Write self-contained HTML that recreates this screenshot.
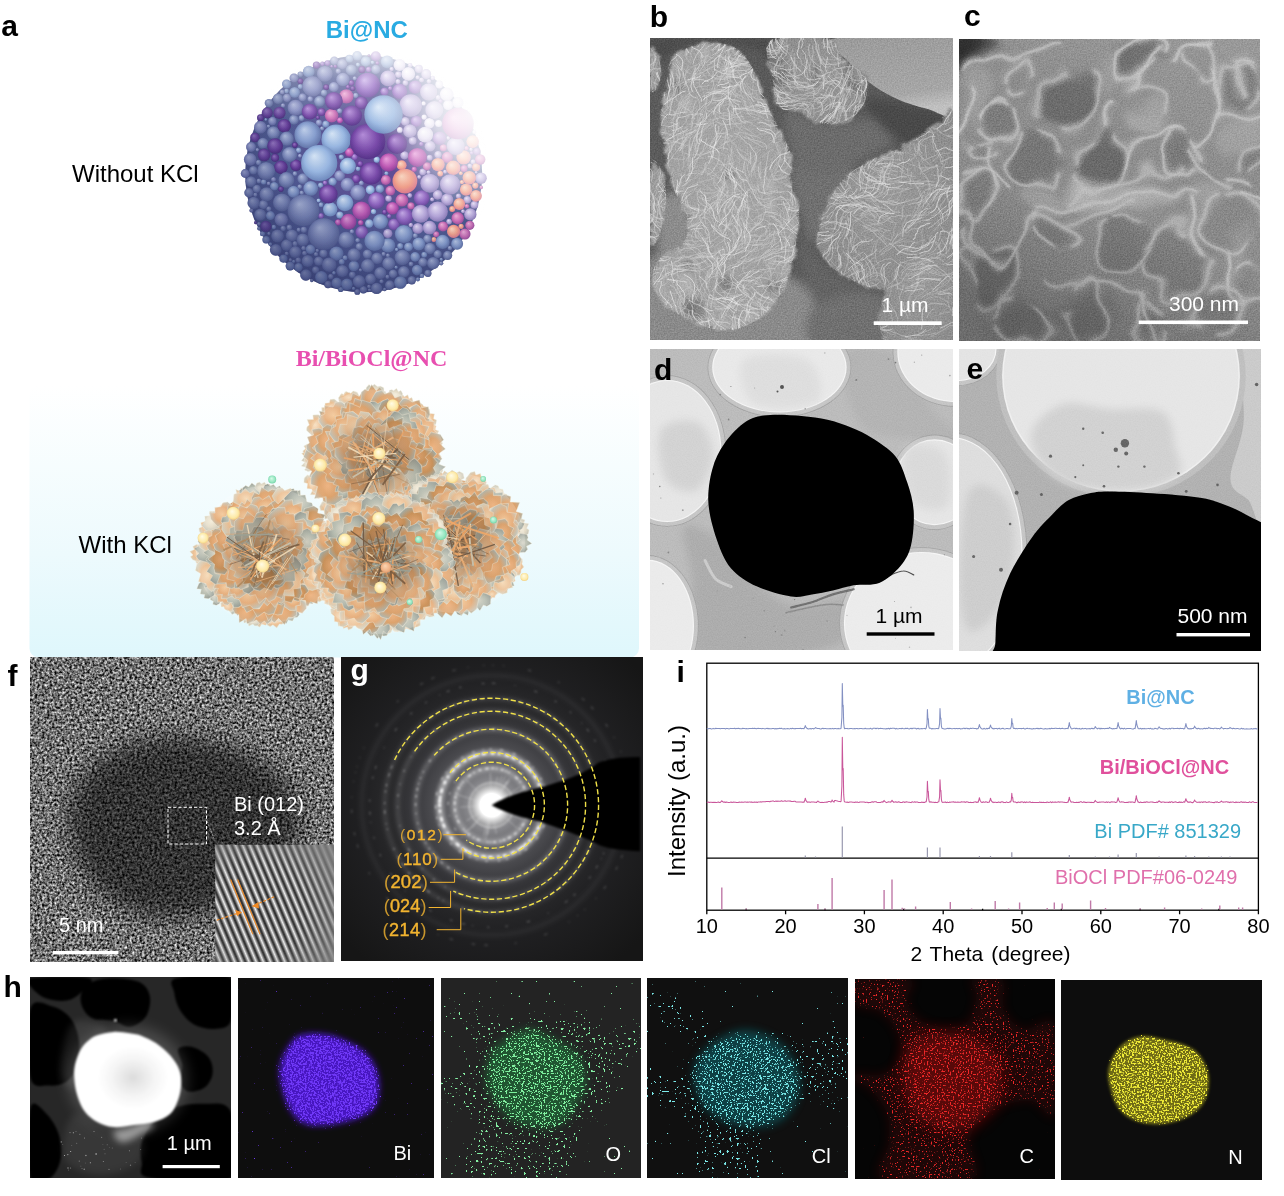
<!DOCTYPE html>
<html lang="en"><head><meta charset="utf-8"><title>Figure</title>
<style>
html,body{margin:0;padding:0;background:#fff;}
body{width:1284px;height:1196px;overflow:hidden;font-family:"Liberation Sans",Arial,sans-serif;}
svg{display:block;}
text{white-space:pre;}
</style></head><body>
<svg width="1284" height="1196" viewBox="0 0 1284 1196">
<rect width="1284" height="1196" fill="#fff"/>
<g id="panel_a">
<defs>
<radialGradient id="by" cx=".5" cy=".5" r=".55" fx=".4" fy=".35"><stop offset="0" stop-color="#fffbe6"/><stop offset=".7" stop-color="#fdeaa8"/><stop offset="1" stop-color="#f0cc7c"/></radialGradient>
<radialGradient id="bg" cx=".5" cy=".5" r=".55" fx=".4" fy=".35"><stop offset="0" stop-color="#d6fbe8"/><stop offset=".7" stop-color="#94e6c0"/><stop offset="1" stop-color="#6ccca0"/></radialGradient>
<radialGradient id="bo" cx=".5" cy=".5" r=".55" fx=".4" fy=".35"><stop offset="0" stop-color="#fbd6b4"/><stop offset=".7" stop-color="#eeb084"/><stop offset="1" stop-color="#d89060"/></radialGradient>
<radialGradient id="pg0" cx=".5" cy=".5" r=".6"><stop offset="0" stop-color="#eeb482"/><stop offset=".5" stop-color="#dca26c"/><stop offset=".86" stop-color="#b2b4a8"/><stop offset="1" stop-color="#f0e8d6"/></radialGradient>
<radialGradient id="pg1" cx=".5" cy=".5" r=".6"><stop offset="0" stop-color="#f4cca0"/><stop offset=".5" stop-color="#e6ae7c"/><stop offset=".86" stop-color="#c4c2b4"/><stop offset="1" stop-color="#f0e8d6"/></radialGradient>
<radialGradient id="pg2" cx=".5" cy=".5" r=".6"><stop offset="0" stop-color="#e0a470"/><stop offset=".5" stop-color="#c89058"/><stop offset=".86" stop-color="#a2a89e"/><stop offset="1" stop-color="#f0e8d6"/></radialGradient>
<radialGradient id="pg3" cx=".5" cy=".5" r=".6"><stop offset="0" stop-color="#d6d4c6"/><stop offset=".5" stop-color="#b4baae"/><stop offset=".86" stop-color="#989e96"/><stop offset="1" stop-color="#f0e8d6"/></radialGradient>
<radialGradient id="pg4" cx=".5" cy=".5" r=".6"><stop offset="0" stop-color="#f6dcba"/><stop offset=".5" stop-color="#ecc094"/><stop offset=".86" stop-color="#d4d0be"/><stop offset="1" stop-color="#f0e8d6"/></radialGradient>
<radialGradient id="pg5" cx=".5" cy=".5" r=".6"><stop offset="0" stop-color="#f4ecd8"/><stop offset=".5" stop-color="#e4dcc8"/><stop offset=".86" stop-color="#c8c6b8"/><stop offset="1" stop-color="#f0e8d6"/></radialGradient>
<radialGradient id="pshade" cx=".5" cy=".5" r=".5"><stop offset="0" stop-color="#4a3420" stop-opacity=".6"/><stop offset=".32" stop-color="#5a4028" stop-opacity=".38"/><stop offset=".6" stop-color="#6a4a30" stop-opacity=".08"/><stop offset=".85" stop-color="#fff" stop-opacity="0"/><stop offset="1" stop-color="#fff" stop-opacity=".18"/></radialGradient>
<filter id="fblur" x="-5%" y="-5%" width="110%" height="110%"><feGaussianBlur stdDeviation="0.45"/></filter>
<linearGradient id="abox" x1="0" y1="0" x2="0" y2="1"><stop offset="0" stop-color="#ffffff"/><stop offset=".3" stop-color="#f6fdfe"/><stop offset=".62" stop-color="#edfafd"/><stop offset=".88" stop-color="#e3f8fc"/><stop offset="1" stop-color="#dff7fc"/></linearGradient>
</defs>
<rect x="29.5" y="385" width="609.5" height="272.5" rx="9" fill="url(#abox)"/>
<g filter="url(#fblur)">
<circle cx="374.5" cy="459.5" r="63" fill="#d6a272"/>
<path d="M402.9 512L412.4 513.7L413 518.3L411 520.5L408.5 520.1L406.5 522.8L403.1 521.7L400.7 522.7L397.7 522.5L395.9 518.5Z" fill="url(#pg5)" stroke="#f2ead8" stroke-width=".5" stroke-opacity=".8"/>
<path d="M398.7 512L406.6 516.9L406.6 523L404.6 525L402.6 523.9L400.8 528.9L397.7 524.4L395.8 527.1L393 524L392 518.4Z" fill="url(#pg4)" stroke="#f2ead8" stroke-width=".5" stroke-opacity=".8"/>
<path d="M386.8 515.2L398.4 519.4L398.1 525.1L394.8 526.1L391.9 526.2L388.8 530.4L384.6 527L381.3 527.9L377.5 526.8L376.2 521.6Z" fill="url(#pg3)" stroke="#f2ead8" stroke-width=".5" stroke-opacity=".8"/>
<path d="M369.3 513L376.7 519.3L375.5 525.3L373.1 525.9L371 525.5L368.2 529.7L365.8 525L363.4 525.9L361 523.7L360.9 518Z" fill="url(#pg5)" stroke="#f2ead8" stroke-width=".5" stroke-opacity=".8"/>
<path d="M358 512L368.9 517.9L368 524.2L364.7 527L361.9 524.7L358.5 527.5L354.7 524.7L351.4 527.6L347.8 523.7L347.1 517.8Z" fill="url(#pg3)" stroke="#f2ead8" stroke-width=".5" stroke-opacity=".8"/>
<path d="M347.4 510L353.5 517.7L351 522.3L348.2 522.5L346.4 521.1L342.6 523.6L341.3 519.1L338.6 518.9L336.6 516.4L337.8 511.6Z" fill="url(#pg5)" stroke="#f2ead8" stroke-width=".5" stroke-opacity=".8"/>
<path d="M339.5 509.9L343.3 518.2L339.9 521.9L336.6 522.7L336.1 519.8L332.9 520.1L331.8 516.9L328.9 517L328.2 513.4L330.4 509.3Z" fill="url(#pg4)" stroke="#f2ead8" stroke-width=".5" stroke-opacity=".8"/>
<path d="M332.9 501.1L337.1 510.9L333.2 515.8L329.3 517L328.7 513.7L324.9 514.5L323.7 510.5L320.6 510.5L319.6 506.7L322.2 501.4Z" fill="url(#pg4)" stroke="#f2ead8" stroke-width=".5" stroke-opacity=".8"/>
<path d="M335.5 499.2L335.6 507.9L331.3 509.8L328.2 509.2L328.8 506.5L325.1 506.1L326.2 502.4L323.2 501.6L324.3 498L327.8 495.3Z" fill="url(#pg4)" stroke="#f2ead8" stroke-width=".5" stroke-opacity=".8"/>
<path d="M325.7 485.5L324.5 496L318.3 498.7L315.5 497.4L315.5 494.8L310.2 494.7L312.7 489.9L310.8 488L310.9 484.7L316 481.1Z" fill="url(#pg4)" stroke="#f2ead8" stroke-width=".5" stroke-opacity=".8"/>
<path d="M317.1 480.3L319.8 491.2L315.5 493.4L312.7 491.6L311.7 489.1L307 488.6L307.6 483.6L303.9 482.6L304.2 478L307.3 474.8Z" fill="url(#pg4)" stroke="#f2ead8" stroke-width=".5" stroke-opacity=".8"/>
<path d="M318 461.1L314.3 470.3L308 471.4L304.6 469.9L306.3 467.3L301.4 466.1L304.9 462.2L301.5 460.6L304.5 457.1L310.1 455Z" fill="url(#pg5)" stroke="#f2ead8" stroke-width=".5" stroke-opacity=".8"/>
<path d="M318.6 455.6L311.3 464.3L305.2 462.6L304.5 459.6L305.4 457.2L301.6 453.6L306.3 450.9L305.2 447.8L308.1 445L314.1 445.2Z" fill="url(#pg4)" stroke="#f2ead8" stroke-width=".5" stroke-opacity=".8"/>
<path d="M315.2 453L309.2 460L304.4 458.5L303.8 455.9L304.8 454L302.7 451.1L305.7 448.8L303.8 446.1L307.4 444.1L312.1 444.4Z" fill="url(#pg4)" stroke="#f2ead8" stroke-width=".5" stroke-opacity=".8"/>
<path d="M325.7 432.1L317 435.3L313.6 431.7L314.6 429.4L316.1 428L316.2 424.8L319.5 423.9L320.3 421.4L323.3 420.4L327.2 422.9Z" fill="url(#pg3)" stroke="#f2ead8" stroke-width=".5" stroke-opacity=".8"/>
<path d="M324.1 431.2L312 435.5L306.4 430.3L307 426.8L309.3 425.1L307.1 419.4L313.4 419.5L312.9 415.1L318.3 414.8L324.5 418.5Z" fill="url(#pg4)" stroke="#f2ead8" stroke-width=".5" stroke-opacity=".8"/>
<path d="M333.8 418.3L321.6 422.4L318.8 417.7L320.6 414.3L323.6 413L324.3 408.2L329.5 407.9L330.7 403.8L335.7 403.6L339.5 406.8Z" fill="url(#pg3)" stroke="#f2ead8" stroke-width=".5" stroke-opacity=".8"/>
<path d="M336.2 413.2L325.6 416.3L321.8 411.6L321.7 407.6L325.1 407.4L325 403.3L329.4 402.8L330.1 399.6L334.2 399.1L338.7 402.5Z" fill="url(#pg4)" stroke="#f2ead8" stroke-width=".5" stroke-opacity=".8"/>
<path d="M347.1 404.4L340.1 400.6L340 395.6L341.7 393.4L343.6 394.7L345.3 391.6L347.9 394.2L349.6 392.4L352.1 394.5L353.1 399Z" fill="url(#pg4)" stroke="#f2ead8" stroke-width=".5" stroke-opacity=".8"/>
<path d="M350.7 404.1L339.1 402.8L338.5 397.8L340.8 394.7L344 395.6L346.2 391.6L350.7 393.5L353.2 391L357.3 392.2L359.4 396.5Z" fill="url(#pg4)" stroke="#f2ead8" stroke-width=".5" stroke-opacity=".8"/>
<path d="M375 400.2L365.6 394.1L366.3 387.5L369 384.4L371.5 386.9L374.3 384.3L377.6 386.8L380.4 386.2L383.6 387.7L384.3 393.9Z" fill="url(#pg5)" stroke="#f2ead8" stroke-width=".5" stroke-opacity=".8"/>
<path d="M381.1 405.9L374.3 398L376.7 392.4L379.5 392L381.5 393.3L385 391.1L387 394.9L390 394L392 397.3L391 402.9Z" fill="url(#pg5)" stroke="#f2ead8" stroke-width=".5" stroke-opacity=".8"/>
<path d="M393.7 401.7L387.8 395.2L389.6 390.2L391.9 389.7L393.6 390.7L396.5 388.4L398.3 391.8L400.9 390.6L402.6 393.7L401.9 398.6Z" fill="url(#pg5)" stroke="#f2ead8" stroke-width=".5" stroke-opacity=".8"/>
<path d="M403 406.9L397.9 399.7L400.4 395.4L403 395.1L404.4 396.7L407.8 394.8L409 398.7L411.9 397.6L413.1 401.2L411.8 405.6Z" fill="url(#pg4)" stroke="#f2ead8" stroke-width=".5" stroke-opacity=".8"/>
<path d="M416.1 414.9L415.8 405.7L420.6 403.1L422.6 404.5L423.5 406.3L426.8 406.9L426.4 410.5L429.1 411.4L428.5 414.9L424.7 418.3Z" fill="url(#pg4)" stroke="#f2ead8" stroke-width=".5" stroke-opacity=".8"/>
<path d="M415.2 424.1L412.2 410.4L418.4 405.8L422.3 407L423.6 410.1L429.6 409.4L429 415.8L433.5 416.5L433.4 422.1L428.7 427.7Z" fill="url(#pg4)" stroke="#f2ead8" stroke-width=".5" stroke-opacity=".8"/>
<path d="M422.2 422.4L421.4 411.6L426.6 409.2L429.1 410.9L429.9 413.4L434.5 413.9L433.3 418.7L436.6 419.9L435.8 424.2L431.8 427.6Z" fill="url(#pg4)" stroke="#f2ead8" stroke-width=".5" stroke-opacity=".8"/>
<path d="M424 431.4L425.4 421.1L430.8 419.7L433.6 421.5L433.1 424.2L436.2 425.9L435.3 429.6L438.8 431.1L436.7 435.2L432.1 437.7Z" fill="url(#pg4)" stroke="#f2ead8" stroke-width=".5" stroke-opacity=".8"/>
<path d="M428.6 442.8L430.5 433.1L435.8 431.8L437.4 433.9L437.9 436L442 437.3L439.9 441.2L442.7 442.9L441 446.5L436.4 448.9Z" fill="url(#pg4)" stroke="#f2ead8" stroke-width=".5" stroke-opacity=".8"/>
<path d="M429.8 453.4L431.9 443.5L436.5 443.3L437.6 445.9L438 448.2L440.5 450.6L439.3 454.2L441.3 456.5L439.9 460L435.9 461.5Z" fill="url(#pg4)" stroke="#f2ead8" stroke-width=".5" stroke-opacity=".8"/>
<path d="M430 474.2L437.9 465.1L442.7 467.4L442.8 470.9L441.4 473.5L444 477.8L439.3 480.4L440.6 484.2L436.6 486.8L431.6 486.1Z" fill="url(#pg5)" stroke="#f2ead8" stroke-width=".5" stroke-opacity=".8"/>
<path d="M428.3 483.8L437.9 480.4L442.8 484.6L444.1 488.5L440.7 488.7L442.7 493.1L437.7 493.2L437 495.7L434 496.9L428.6 494Z" fill="url(#pg3)" stroke="#f2ead8" stroke-width=".5" stroke-opacity=".8"/>
<path d="M424.6 488.5L432 480.7L437.2 482.8L437.7 485.9L436.4 488.1L439 491.8L434.8 494.1L434.5 497L432.5 499.7L427.2 499Z" fill="url(#pg4)" stroke="#f2ead8" stroke-width=".5" stroke-opacity=".8"/>
<path d="M417 501.4L425.4 497.9L428.7 501.3L427.9 503.7L426.2 505.1L426.9 508.8L423 509.2L422.2 511.7L419.3 512.7L415.5 510.5Z" fill="url(#pg4)" stroke="#f2ead8" stroke-width=".5" stroke-opacity=".8"/>
<path d="M408.4 506.3L416.8 505.7L419.2 509.9L418.5 512.7L416.2 512.6L416.3 516.5L412.4 515.4L411.6 517.8L408.4 517.4L405.4 514.1Z" fill="url(#pg4)" stroke="#f2ead8" stroke-width=".5" stroke-opacity=".8"/>
<path d="M412.8 483.8L426.6 480.3L433 486.7L431.6 490L429.5 492.2L430.8 497.8L424.7 498L424.4 502.3L419 502.8L412 498.1Z" fill="url(#pg1)" stroke="#f2ead8" stroke-width=".5" stroke-opacity=".8"/>
<path d="M402.2 495.2L418.4 493.8L424.3 502.2L424.4 508.4L419.2 507.7L420 514.9L412.6 513.4L412.6 519.6L405.2 517.7L398.3 511.1Z" fill="url(#pg0)" stroke="#f2ead8" stroke-width=".5" stroke-opacity=".8"/>
<path d="M384.9 501.2L406.9 499.8L412.8 510.8L410.6 517.6L404.7 517.7L404.2 527.3L394.5 524.8L392.6 532.1L383.7 530.1L376 521.4Z" fill="url(#pg3)" stroke="#f2ead8" stroke-width=".5" stroke-opacity=".8"/>
<path d="M378.1 503.4L397.9 506.5L399.8 516.4L395.9 521.3L390.7 520.4L387.8 528.7L379.7 524.2L376 529.6L368.7 526.4L364.5 518Z" fill="url(#pg4)" stroke="#f2ead8" stroke-width=".5" stroke-opacity=".8"/>
<path d="M362.7 504.6L372.6 514.2L370.6 522.7L366.7 526.1L364.3 522.6L360.2 527.3L357.1 521.6L353.2 525.4L350.3 519.3L350.6 511.2Z" fill="url(#pg1)" stroke="#f2ead8" stroke-width=".5" stroke-opacity=".8"/>
<path d="M352.4 498.3L360.5 518.8L351.9 528.6L345 529L342.8 523.8L334.4 526L332.9 516.9L324.7 519.1L324.5 508.7L330.4 498Z" fill="url(#pg1)" stroke="#f2ead8" stroke-width=".5" stroke-opacity=".8"/>
<path d="M349.6 495.7L352.9 513.5L344.7 519.3L338.8 518.3L338.2 513.4L331.6 512.9L331.4 505.8L326.3 504.1L326 497.6L332.2 490.5Z" fill="url(#pg0)" stroke="#f2ead8" stroke-width=".5" stroke-opacity=".8"/>
<path d="M334.7 487.4L333.2 499.8L326.1 502.7L323 501L322.8 498L317.6 497.2L319.5 492.1L316.7 490.1L317.5 485.9L323.5 481.8Z" fill="url(#pg0)" stroke="#f2ead8" stroke-width=".5" stroke-opacity=".8"/>
<path d="M329.4 477.1L326.6 488.3L320.2 489.5L317.1 487.5L318 484.5L313.3 482.9L316 478.4L312 476.7L315 472.3L320.6 469.8Z" fill="url(#pg0)" stroke="#f2ead8" stroke-width=".5" stroke-opacity=".8"/>
<path d="M331.3 457.3L327.1 476.8L316 479.5L309.1 476.6L311.8 471L305.6 467.7L307.9 460.5L303.8 456.7L305.8 450L315.4 445.2Z" fill="url(#pg0)" stroke="#f2ead8" stroke-width=".5" stroke-opacity=".8"/>
<path d="M329.5 448.2L314.9 455.7L306.6 450L306.2 445.2L309.4 442.9L307.3 437L313.6 435L311.9 429.5L319 428.2L327.7 431.8Z" fill="url(#pg0)" stroke="#f2ead8" stroke-width=".5" stroke-opacity=".8"/>
<path d="M337.6 426.2L324.8 428.5L318.6 422.2L319.4 419L321.6 417.4L319.1 411.1L326 412.3L324.7 407.3L331.1 408.3L337.9 413.1Z" fill="url(#pg0)" stroke="#f2ead8" stroke-width=".5" stroke-opacity=".8"/>
<path d="M342.6 426.2L323.8 429.2L318.3 420.5L320.8 415.8L324.8 414L324.5 405.6L333.1 407.1L335.5 402.3L342 401.7L349 408.4Z" fill="url(#pg1)" stroke="#f2ead8" stroke-width=".5" stroke-opacity=".8"/>
<path d="M362.7 414.6L347 412.4L344.4 403.8L347.7 401.1L351.1 400L352.5 392.8L359.2 396.5L361.8 392.1L367.6 394.3L371.8 401.5Z" fill="url(#pg0)" stroke="#f2ead8" stroke-width=".5" stroke-opacity=".8"/>
<path d="M373.1 410.7L360.7 401.8L361.4 391.9L365 389.3L368.2 390.9L371.7 384.6L376.2 390.7L379.7 387.1L383.8 391.9L385 401.1Z" fill="url(#pg0)" stroke="#f2ead8" stroke-width=".5" stroke-opacity=".8"/>
<path d="M382.7 415.7L370.9 400.7L375.9 391.6L381.6 390.6L384.8 394.1L391.2 391.6L394.9 398L401.1 395.6L404 403.2L401.5 412.6Z" fill="url(#pg0)" stroke="#f2ead8" stroke-width=".5" stroke-opacity=".8"/>
<path d="M405.1 425.4L396.2 407.2L403.4 398L408.5 399.4L412.1 402L419.4 400L421.7 407.8L428.3 406.7L429.9 414.8L425.3 424.8Z" fill="url(#pg0)" stroke="#f2ead8" stroke-width=".5" stroke-opacity=".8"/>
<path d="M410.3 422.5L409.4 407.6L416.5 404.3L419.9 406.8L421 410.1L425.8 411.8L425.6 417.3L429.7 419.4L429.1 424.9L423.4 429.6Z" fill="url(#pg0)" stroke="#f2ead8" stroke-width=".5" stroke-opacity=".8"/>
<path d="M415.3 438.4L410.6 418.6L418.9 413.7L423.9 416.6L426 421L434.2 421.6L433.7 430.3L438 433.8L439.9 440.1L433.8 446.8Z" fill="url(#pg1)" stroke="#f2ead8" stroke-width=".5" stroke-opacity=".8"/>
<path d="M420.5 446.6L431.2 431.9L440.3 434.4L443.7 439.7L440 443.4L445.4 449L438.6 453.8L442.2 459.1L435.9 463.5L427.1 463.5Z" fill="url(#pg0)" stroke="#f2ead8" stroke-width=".5" stroke-opacity=".8"/>
<path d="M421 471.1L427.7 458.4L436.9 457.9L440.8 460.8L438.7 464.1L445.5 466.7L439.9 471.6L442.1 474.8L439.6 479L431.3 481.1Z" fill="url(#pg3)" stroke="#f2ead8" stroke-width=".5" stroke-opacity=".8"/>
<path d="M335.6 468.7L331.4 484.3L322.1 486.2L317 483.6L319 479.2L314.4 476.3L316.2 470.7L313.2 467.4L314.9 462.1L323 458.5Z" fill="url(#pg0)" stroke="#f2ead8" stroke-width=".5" stroke-opacity=".8"/>
<path d="M338.5 456.8L329.1 473.2L318.7 472.2L316.2 467.5L317.5 463.2L310.6 458.4L317.2 452.6L312.2 447.9L318.4 442.4L328.2 440.9Z" fill="url(#pg1)" stroke="#f2ead8" stroke-width=".5" stroke-opacity=".8"/>
<path d="M337.6 444.6L323.8 456L315.7 451.4L314.6 445.9L318.2 442.9L315.7 436.6L322.1 433.3L322.5 428.3L327.1 424.6L335.5 426.8Z" fill="url(#pg0)" stroke="#f2ead8" stroke-width=".5" stroke-opacity=".8"/>
<path d="M349.9 428.5L336.4 432.8L331.4 427L333.1 423.6L335.4 421.5L335.4 416.4L340.7 415.4L340.6 410.5L346.7 410.5L352.6 414.6Z" fill="url(#pg0)" stroke="#f2ead8" stroke-width=".5" stroke-opacity=".8"/>
<path d="M361.5 423.7L345.2 422.4L340.6 413L341.4 406.9L346.3 408.3L347.4 402.4L353.6 403.8L354.9 398.4L361.4 400.7L367.4 408.5Z" fill="url(#pg0)" stroke="#f2ead8" stroke-width=".5" stroke-opacity=".8"/>
<path d="M376.2 421L366.4 408.7L370.5 401.4L374.9 401.7L377.9 403.6L383.8 400.3L386.3 407L391.3 405.5L393.8 411.4L391.8 418.9Z" fill="url(#pg3)" stroke="#f2ead8" stroke-width=".5" stroke-opacity=".8"/>
<path d="M391.9 421.4L378.1 409.2L381.7 401.4L387.7 398.7L390.9 403.2L396.8 401.2L401.4 406.3L406.7 405.7L411 410.4L410 418.3Z" fill="url(#pg2)" stroke="#f2ead8" stroke-width=".5" stroke-opacity=".8"/>
<path d="M396.6 434.5L393.5 415.7L402.8 407.4L407.5 409L409.7 412.4L416.2 412.3L417 419.1L421.7 420.7L422.7 426.9L415.5 436.2Z" fill="url(#pg3)" stroke="#f2ead8" stroke-width=".5" stroke-opacity=".8"/>
<path d="M403.1 439.1L405.6 420.1L416 416.8L420.9 420L420.7 424.7L429.1 426.5L425.1 434.5L429.1 438.1L427.9 444.6L419.1 449.8Z" fill="url(#pg1)" stroke="#f2ead8" stroke-width=".5" stroke-opacity=".8"/>
<path d="M413.6 450.4L413.4 436.2L420.5 432.9L424.4 434.9L424.7 438.4L429.2 440.1L428.9 445.3L432.3 447.6L432 452.5L426.3 457.1Z" fill="url(#pg0)" stroke="#f2ead8" stroke-width=".5" stroke-opacity=".8"/>
<path d="M411.1 463.2L421.4 447.9L432.3 449.1L436.7 453.7L433.3 457.6L437.7 462.4L433.3 467.8L435.8 472.3L431.7 477.4L421.4 478.5Z" fill="url(#pg2)" stroke="#f2ead8" stroke-width=".5" stroke-opacity=".8"/>
<path d="M410.7 483.5L423 475.2L428.1 479.6L427.5 484L424.7 486.4L425.9 492L420.1 494L420 498.6L414.8 500.7L409 498.3Z" fill="url(#pg3)" stroke="#f2ead8" stroke-width=".5" stroke-opacity=".8"/>
<path d="M396 490.6L411 485.6L417.1 492.1L415.7 496.3L412.8 498.4L413.4 504.5L407 505.3L405.5 509.3L400.5 510.9L393.6 506.3Z" fill="url(#pg1)" stroke="#f2ead8" stroke-width=".5" stroke-opacity=".8"/>
<path d="M391.3 495.9L406 494.9L411.5 502.6L410.3 506.7L407.1 507.6L408.4 514.7L401.1 512.7L400.5 517.4L394.6 516.5L388.2 510.4Z" fill="url(#pg1)" stroke="#f2ead8" stroke-width=".5" stroke-opacity=".8"/>
<path d="M375.8 496.3L393.8 500.3L395.3 509.7L391.7 514.9L386.8 513L383.8 521L376.5 516.1L372.8 521L366.2 517.6L362.7 509.4Z" fill="url(#pg3)" stroke="#f2ead8" stroke-width=".5" stroke-opacity=".8"/>
<path d="M361.1 493.4L369.4 508.9L363.4 516.9L357.1 519L355.7 513.5L348.6 516.5L347.2 508.6L341 510.2L339.7 502.5L343.5 494Z" fill="url(#pg4)" stroke="#f2ead8" stroke-width=".5" stroke-opacity=".8"/>
<path d="M348.5 489.4L359.7 506.9L353.5 513.9L347.4 512.9L344.1 508.8L336.4 510L333.6 502.1L326.6 502.6L324.3 494.5L327.9 486.5Z" fill="url(#pg3)" stroke="#f2ead8" stroke-width=".5" stroke-opacity=".8"/>
<path d="M341.3 474.9L345 498L334.2 504.8L326.3 503.6L326.2 496.8L314.5 498.4L317.7 486.6L310.9 484.3L311 475.6L319.2 466.9Z" fill="url(#pg0)" stroke="#f2ead8" stroke-width=".5" stroke-opacity=".8"/>
<path d="M368.7 431.5L347.1 431.3L341.7 420L343 411.8L349.8 413.7L349.8 403L360 407.3L361.9 400.1L370.7 402.8L377.9 412Z" fill="url(#pg0)" stroke="#f2ead8" stroke-width=".5" stroke-opacity=".8"/>
<path d="M382.8 430.6L371 421L373 412.5L377 411.5L380.2 412.5L384.9 406.5L388.6 413.5L392.8 410.9L396.5 415.7L396.4 423.9Z" fill="url(#pg1)" stroke="#f2ead8" stroke-width=".5" stroke-opacity=".8"/>
<path d="M393 438.2L386.5 420.2L394.2 411.1L399 412.4L402 415.2L408.9 413.6L410.4 421L415.5 421.9L417.5 428L412.1 437.8Z" fill="url(#pg3)" stroke="#f2ead8" stroke-width=".5" stroke-opacity=".8"/>
<path d="M399.9 447.1L395.9 427.9L404.6 422L410.6 423.4L411.6 428.5L418.9 429L419 436.8L424.9 438.3L425 445.8L418.5 453.2Z" fill="url(#pg0)" stroke="#f2ead8" stroke-width=".5" stroke-opacity=".8"/>
<path d="M402.7 460.3L408.8 445.1L419.7 442.8L424.3 445.3L422.7 449.3L432 450.5L425.2 457.3L427.9 460.4L426 465.4L416.4 469.3Z" fill="url(#pg2)" stroke="#f2ead8" stroke-width=".5" stroke-opacity=".8"/>
<path d="M400.1 474.6L412.8 462.8L420.7 466.8L421 471.7L418.7 475.1L423.2 481.6L415.5 484.6L416.9 489.9L411.1 493.3L403 491.7Z" fill="url(#pg3)" stroke="#f2ead8" stroke-width=".5" stroke-opacity=".8"/>
<path d="M396.7 480.8L408.1 481.1L412.2 487.7L410.6 490L408.6 491.2L409.6 497.1L404 494.7L403.2 498.1L398.8 497.2L394 491.9Z" fill="url(#pg1)" stroke="#f2ead8" stroke-width=".5" stroke-opacity=".8"/>
<path d="M381.2 487.4L400.6 490L404 500.7L400.8 505.6L396 505.4L393 511.2L386.1 510L382.5 514L375.9 512.8L370.6 503.7Z" fill="url(#pg4)" stroke="#f2ead8" stroke-width=".5" stroke-opacity=".8"/>
<path d="M374.6 485.9L390.2 496.3L389.1 507.7L384.5 513.1L380.5 508.8L375.7 513.2L370.3 509L365.7 511.6L360.6 507.4L359.3 496.7Z" fill="url(#pg4)" stroke="#f2ead8" stroke-width=".5" stroke-opacity=".8"/>
<path d="M364.6 487.7L373.2 504.1L366.9 511L361.9 509.7L358.9 506.5L352.1 507.4L349.9 500.4L343.7 500.8L342.2 493.4L346.1 485.6Z" fill="url(#pg1)" stroke="#f2ead8" stroke-width=".5" stroke-opacity=".8"/>
<path d="M350 484.4L351.1 494.4L345.9 498.3L342.2 498.6L342.4 495.4L338.1 496.1L338.8 491.6L335.1 491.8L336 487.3L340 482.7Z" fill="url(#pg3)" stroke="#f2ead8" stroke-width=".5" stroke-opacity=".8"/>
<path d="M348.8 470.8L337.6 483.6L326.9 481.6L325.4 477.4L326.6 473.9L318.8 469L327.4 464.9L325.2 460.6L329.7 456.4L339.8 456.3Z" fill="url(#pg0)" stroke="#f2ead8" stroke-width=".5" stroke-opacity=".8"/>
<path d="M345.5 452.2L337.9 468L329.2 467.1L326.3 462.5L328.1 458.4L324.2 453.7L327.8 448.1L326.5 443.5L328.7 438.3L336.8 436.9Z" fill="url(#pg0)" stroke="#f2ead8" stroke-width=".5" stroke-opacity=".8"/>
<path d="M350.7 447.9L333.7 454.3L325.3 447.1L325.7 442L329.2 439.7L325.3 431.4L334.7 431.5L333 424.9L341.4 424.7L350.5 429.7Z" fill="url(#pg1)" stroke="#f2ead8" stroke-width=".5" stroke-opacity=".8"/>
<path d="M354.8 436.6L335.4 442.4L329.2 434.1L331.2 428.6L335.6 426.4L336.6 419.6L343.9 418.1L345.9 412.6L352.9 411.3L360.6 417.3Z" fill="url(#pg1)" stroke="#f2ead8" stroke-width=".5" stroke-opacity=".8"/>
<path d="M366.4 442.2L343.7 442.9L338.3 431.6L340.4 424.1L346.9 424.8L347.5 414.5L357.8 417.9L360.5 411.4L369.1 412.8L376.5 421.9Z" fill="url(#pg4)" stroke="#f2ead8" stroke-width=".5" stroke-opacity=".8"/>
<path d="M369.1 439L354.9 429.2L356.6 419.7L361.2 415.8L364.8 419.2L369.6 414.5L374.5 419.7L379 417.8L383.7 421.7L384.2 430.7Z" fill="url(#pg1)" stroke="#f2ead8" stroke-width=".5" stroke-opacity=".8"/>
<path d="M386.2 440.5L380.8 424.3L387.9 416.8L393.1 417L394.8 420.9L403.1 417.3L402.2 426.6L406.3 428.3L408.3 433.3L403.3 441.5Z" fill="url(#pg2)" stroke="#f2ead8" stroke-width=".5" stroke-opacity=".8"/>
<path d="M391.6 444.2L392.2 428L400.7 424.4L405 426.7L405.2 430.7L411.5 432L409.8 438.6L414.2 440.8L412.9 446.8L406 451.9Z" fill="url(#pg0)" stroke="#f2ead8" stroke-width=".5" stroke-opacity=".8"/>
<path d="M396.7 454.1L404.4 441.8L414.1 441.6L417.6 444.6L415.7 447.8L423.5 450.5L416.6 455.3L419.8 458.3L415.9 462.6L407 464.4Z" fill="url(#pg0)" stroke="#f2ead8" stroke-width=".5" stroke-opacity=".8"/>
<path d="M396.5 467.6L414.9 458.2L421.6 465.2L422 472.5L415.9 474L416.7 481.8L408.5 483.7L407.1 489.6L400.3 492.2L392.4 487.8Z" fill="url(#pg3)" stroke="#f2ead8" stroke-width=".5" stroke-opacity=".8"/>
<path d="M386.4 476.7L403.2 472.7L409.2 480.3L408.6 485.8L404.1 486.7L405.5 494.5L397.3 493.6L396.4 498.9L389.8 499.2L382.6 493.5Z" fill="url(#pg1)" stroke="#f2ead8" stroke-width=".5" stroke-opacity=".8"/>
<path d="M376.4 480.4L384.9 493.1L380.9 502.4L377.1 502.5L374.2 501.1L368.5 506.5L366.7 498.6L361.9 501.7L359.9 494.9L362.1 485.6Z" fill="url(#pg2)" stroke="#f2ead8" stroke-width=".5" stroke-opacity=".8"/>
<path d="M362.2 479.5L369.8 495.7L363.4 502.1L359 500.2L355.9 497.5L348 499.8L347.5 491.2L343.2 489L340.4 484.2L344.5 476.8Z" fill="url(#pg0)" stroke="#f2ead8" stroke-width=".5" stroke-opacity=".8"/>
<path d="M358 475L352.7 490.5L342.2 492.9L337.5 490.4L339 486.3L333 484.1L336.3 478.2L331.6 475.7L335.2 470L344.4 465.9Z" fill="url(#pg0)" stroke="#f2ead8" stroke-width=".5" stroke-opacity=".8"/>
<path d="M353.6 467.4L342.9 479.7L332.7 477.9L329.5 473.8L332.4 470.6L325.4 466L333 462L330.3 457.8L335.2 453.9L344.9 453.7Z" fill="url(#pg1)" stroke="#f2ead8" stroke-width=".5" stroke-opacity=".8"/>
<path d="M352 452.2L339 461.2L331.9 456.6L330.4 451.3L334.5 449.3L331.1 443L338.4 441.2L338.5 436.6L343.3 433.9L350.8 436.4Z" fill="url(#pg0)" stroke="#f2ead8" stroke-width=".5" stroke-opacity=".8"/>
<path d="M361.8 461.9L352.2 475.3L342.5 473.8L340.8 469.6L342 466.1L338.1 461.7L342.4 457L339.8 452.7L344.2 448.4L353.3 447.7Z" fill="url(#pg3)" stroke="#f2ead8" stroke-width=".5" stroke-opacity=".8"/>
<path d="M362.9 453.5L341.7 464L334.8 456.2L335 448L341.8 446.3L342.9 438.6L350.7 435.3L353.6 429.3L360.5 425.7L369 430.7Z" fill="url(#pg1)" stroke="#f2ead8" stroke-width=".5" stroke-opacity=".8"/>
<path d="M368 447.8L351.8 437.7L353.7 428.1L358.8 426.5L363.1 427.8L368.7 420.7L374.2 428.4L379.4 424.4L384.7 430.5L385.3 439.6Z" fill="url(#pg0)" stroke="#f2ead8" stroke-width=".5" stroke-opacity=".8"/>
<path d="M377.8 445.3L369.4 432.1L374 423.6L378.6 422.9L381 425.6L386.6 422.7L388.9 428.9L394.1 426.5L395.8 433.4L393.2 442Z" fill="url(#pg4)" stroke="#f2ead8" stroke-width=".5" stroke-opacity=".8"/>
<path d="M384.6 455.5L384.6 433L396.1 427.7L402.5 430.5L402.6 436.3L412.4 437.2L409.2 447L415.7 449.8L414 458.3L404.6 465.6Z" fill="url(#pg0)" stroke="#f2ead8" stroke-width=".5" stroke-opacity=".8"/>
<path d="M390.3 465.2L395.6 451.5L403.5 451.2L405.1 454.8L405.3 458.1L410.3 461.3L406.7 466.3L409.5 469.7L406.8 474.4L399.7 476.5Z" fill="url(#pg0)" stroke="#f2ead8" stroke-width=".5" stroke-opacity=".8"/>
<path d="M382 467.9L399.3 468.3L406.2 478.2L404.5 482.3L401.3 483.7L403.8 493.1L394.7 489.2L394 494.5L387.2 493.1L379.3 485Z" fill="url(#pg4)" stroke="#f2ead8" stroke-width=".5" stroke-opacity=".8"/>
<path d="M374.1 470.8L393.7 477L395.2 488.5L390.6 491.6L386 491.9L382.8 501.5L374.8 494.7L370.3 498.1L363.7 495.7L359.9 485.5Z" fill="url(#pg4)" stroke="#f2ead8" stroke-width=".5" stroke-opacity=".8"/>
<path d="M366.6 470.9L371.1 487L363.9 493.9L359.5 492.6L357.4 489.6L349.8 491.8L350.4 483.6L345.5 482.9L344.7 476.8L349.9 469.1Z" fill="url(#pg0)" stroke="#f2ead8" stroke-width=".5" stroke-opacity=".8"/>
<path d="M371.1 456L355.5 448.9L354.4 438L357.6 433.4L361.8 435.5L364.8 429.2L370.7 433.7L374.5 431.7L379.5 433.5L382.5 443.2Z" fill="url(#pg1)" stroke="#f2ead8" stroke-width=".5" stroke-opacity=".8"/>
<path d="M375.4 453.7L376.8 434.6L387.1 430.5L392 433.4L392.3 438.1L399.4 440L397.3 447.5L401.2 451L400.7 457.3L392.1 463.2Z" fill="url(#pg1)" stroke="#f2ead8" stroke-width=".5" stroke-opacity=".8"/>
<path d="M382.1 459.2L392.5 448.4L400.1 451.3L402.5 455.9L399.1 458.5L402.9 463.6L397.1 466.8L396.8 470.8L394 474.5L386.4 473.6Z" fill="url(#pg3)" stroke="#f2ead8" stroke-width=".5" stroke-opacity=".8"/>
<path d="M377.7 465.3L391.9 470.5L392.2 478.6L388.5 480.3L385.1 480.6L381.7 484.9L376.5 482.1L373.1 485.6L368.2 482.3L366 474.9Z" fill="url(#pg1)" stroke="#f2ead8" stroke-width=".5" stroke-opacity=".8"/>
<path d="M366.9 463.9L378.7 477L374.4 484.3L369.6 483.7L366 481.7L359.2 485.7L356.3 477.9L351.1 478.4L347.6 473.1L349.5 465.4Z" fill="url(#pg1)" stroke="#f2ead8" stroke-width=".5" stroke-opacity=".8"/>
<path d="M372 460.3L356.8 472.6L346.2 467.9L346.4 462.9L347.9 459L345.2 452.9L351.1 448.7L348.2 442.7L355.8 439.5L366.4 441.6Z" fill="url(#pg1)" stroke="#f2ead8" stroke-width=".5" stroke-opacity=".8"/>
<path d="M379.3 463.4L359.7 461.7L355.5 451.1L358.5 446.2L363.2 445.9L364.9 438.2L372.8 440.7L375.1 434.6L382.8 437.4L388.8 446.2Z" fill="url(#pg1)" stroke="#f2ead8" stroke-width=".5" stroke-opacity=".8"/>
<path d="M373.2 456.9L378.1 443.5L385.8 443.1L387.7 446.5L387.7 449.7L393.9 452.5L389.1 457.7L392.4 460.8L389.4 465.5L382.5 467.6Z" fill="url(#pg0)" stroke="#f2ead8" stroke-width=".5" stroke-opacity=".8"/>
<path d="M370.6 455.3L390.1 452L397 461.4L397.1 468.8L390.9 468.4L392 477.1L382.9 475.9L380 480L374.1 481.7L365.9 474.5Z" fill="url(#pg3)" stroke="#f2ead8" stroke-width=".5" stroke-opacity=".8"/>
<path d="M371.7 460.5L380.8 467.1L379.2 472.7L376.1 473.7L373.7 472.4L370 476.4L367.2 471.6L364.1 471.6L361.1 469.9L361.1 464.5Z" fill="url(#pg3)" stroke="#f2ead8" stroke-width=".5" stroke-opacity=".8"/>
<path d="M376.2 457L367.7 468.3L359.3 466.9L357.4 463.3L358.9 460.4L355.4 456.6L359.3 452.7L356.2 449.1L360.9 445.5L368.9 445Z" fill="url(#pg0)" stroke="#f2ead8" stroke-width=".5" stroke-opacity=".8"/>
<circle cx="374.5" cy="459.5" r="70" fill="url(#pshade)"/>
<path d="M338.7 438.6L373 453.4" stroke="#e8b27e" stroke-width="1" opacity=".9"/>
<path d="M378.7 443.5L387.9 497.9" stroke="#6e5844" stroke-width="0.6" opacity=".9"/>
<path d="M366.3 449.1L372.7 480.2" stroke="#e8b27e" stroke-width="0.8" opacity=".9"/>
<path d="M352.7 446.3L366.4 476.6" stroke="#b08a60" stroke-width="1" opacity=".9"/>
<path d="M343.8 457.9L391 467.3" stroke="#e9a366" stroke-width="1.8" opacity=".9"/>
<path d="M366.4 456L377.1 495.5" stroke="#c9c4b0" stroke-width="1.3" opacity=".9"/>
<path d="M376.1 424.2L357.5 472.5" stroke="#c9c4b0" stroke-width="0.6" opacity=".9"/>
<path d="M385.7 465.1L348.4 470.6" stroke="#f0a868" stroke-width="1.8" opacity=".9"/>
<path d="M350.7 446.6L393.5 463.4" stroke="#e8b27e" stroke-width="0.8" opacity=".9"/>
<path d="M349.5 480.7L373.3 481" stroke="#b08a60" stroke-width="0.6" opacity=".9"/>
<path d="M369.3 439.4L363 478.4" stroke="#e8b27e" stroke-width="0.8" opacity=".9"/>
<path d="M374.9 427.5L388.1 445.7" stroke="#b08a60" stroke-width="0.8" opacity=".9"/>
<path d="M392.8 428.4L400.6 467.4" stroke="#b08a60" stroke-width="0.8" opacity=".9"/>
<path d="M370.7 436.8L380.2 488.7" stroke="#c9c4b0" stroke-width="0.8" opacity=".9"/>
<path d="M364.1 445.9L389.6 458.8" stroke="#e9a366" stroke-width="1.8" opacity=".9"/>
<path d="M373 433.7L374.6 484.7" stroke="#e9a366" stroke-width="1.8" opacity=".9"/>
<path d="M382.1 459.3L352.7 477.2" stroke="#c9c4b0" stroke-width="1.8" opacity=".9"/>
<path d="M369.8 423.7L359.7 461.3" stroke="#e8b27e" stroke-width="1" opacity=".9"/>
<path d="M353.8 456.2L393.7 461.2" stroke="#7a5c40" stroke-width="0.6" opacity=".9"/>
<path d="M376 469.6L360.9 497.3" stroke="#6e5844" stroke-width="1.8" opacity=".9"/>
<path d="M391.7 463.8L387.7 494.2" stroke="#9aa094" stroke-width="1" opacity=".9"/>
<path d="M355.3 443.4L374.2 472.8" stroke="#e9a366" stroke-width="1.3" opacity=".9"/>
<path d="M359.4 448.6L381.1 499.4" stroke="#6e5844" stroke-width="0.6" opacity=".9"/>
<path d="M388.5 443.7L354 453.4" stroke="#e8b27e" stroke-width="0.6" opacity=".9"/>
<path d="M365.5 450.8L383.7 467.7" stroke="#b08a60" stroke-width="1.3" opacity=".9"/>
<path d="M403.5 431.7L386.7 463.3" stroke="#e9a366" stroke-width="1.3" opacity=".9"/>
<path d="M393.4 437.2L370 451.4" stroke="#e8b27e" stroke-width="1.8" opacity=".9"/>
<path d="M369.9 427.1L404.9 452.5" stroke="#b08a60" stroke-width="1" opacity=".9"/>
<path d="M383.2 454.6L401 471.8" stroke="#c9c4b0" stroke-width="1.3" opacity=".9"/>
<path d="M368.8 464.5L382 501.9" stroke="#e9a366" stroke-width="0.8" opacity=".9"/>
<path d="M348.3 447.2L397.5 473.2" stroke="#f3dcb8" stroke-width="1.8" opacity=".9"/>
<path d="M374.7 466L409.4 483.8" stroke="#b08a60" stroke-width="0.6" opacity=".9"/>
<path d="M375.8 453.8L397.5 459.4" stroke="#7a5c40" stroke-width="0.6" opacity=".9"/>
<path d="M372.8 434.5L408.6 465.1" stroke="#f0a868" stroke-width="1" opacity=".9"/>
<path d="M389 449.3L363.4 496.1" stroke="#f3dcb8" stroke-width="1.8" opacity=".9"/>
<path d="M397.6 442.8L362.8 467.7" stroke="#b08a60" stroke-width="1.8" opacity=".9"/>
<path d="M366.7 425.5L409.3 459.8" stroke="#6e5844" stroke-width="1" opacity=".9"/>
<path d="M352.7 435.2L380.2 466.2" stroke="#b08a60" stroke-width="0.6" opacity=".9"/>
<path d="M395.9 472.1L364.2 483.3" stroke="#e8b27e" stroke-width="1" opacity=".9"/>
<path d="M352.8 441.5L376 474.9" stroke="#e8b27e" stroke-width="1.8" opacity=".9"/>
<path d="M391.6 475L360.4 482.8" stroke="#b08a60" stroke-width="1" opacity=".9"/>
<path d="M402.3 450.7L393 474.2" stroke="#e9a366" stroke-width="0.6" opacity=".9"/>
<path d="M397.8 448.6L368.2 480.3" stroke="#6e5844" stroke-width="1.8" opacity=".9"/>
<path d="M380.6 434.6L387 462.3" stroke="#f3dcb8" stroke-width="0.6" opacity=".9"/>
<path d="M361.7 435.2L397.8 472.7" stroke="#c9c4b0" stroke-width="1" opacity=".9"/>
<path d="M399.8 474.3L351.2 483.9" stroke="#7a5c40" stroke-width="0.6" opacity=".9"/>
<path d="M373.7 458.2L398.4 460.1" stroke="#f0a868" stroke-width="1" opacity=".9"/>
<path d="M404.9 454L382.6 484.9" stroke="#7a5c40" stroke-width="1.8" opacity=".9"/>
<path d="M371.9 453L395.9 457.8" stroke="#7a5c40" stroke-width="1.3" opacity=".9"/>
<path d="M361.5 454.5L350.9 476" stroke="#9aa094" stroke-width="0.6" opacity=".9"/>
<path d="M346.4 448.1L365.1 471.5" stroke="#b08a60" stroke-width="0.8" opacity=".9"/>
<path d="M360.4 437.8L393.8 462.2" stroke="#c9c4b0" stroke-width="1" opacity=".9"/>
<path d="M388.1 409.5L381.8 463.9" stroke="#f3dcb8" stroke-width="0.6" opacity=".9"/>
<path d="M377.3 462.9L413.6 470.3" stroke="#b08a60" stroke-width="1.8" opacity=".9"/>
<path d="M396.4 453.3L353.5 457.2" stroke="#f3dcb8" stroke-width="1.3" opacity=".9"/>
<circle cx="392.7" cy="405.2" r="6" fill="url(#by)"/>
<circle cx="379.4" cy="453.6" r="6" fill="url(#by)"/>
<circle cx="320.3" cy="465.1" r="6.5" fill="url(#by)"/>
<circle cx="455" cy="543" r="63" fill="#d6a272"/>
<path d="M506.1 521.3L509.4 509.7L514.3 510L516.7 513.1L515.4 516.2L517.6 519.4L516.2 523.5L517.5 526.8L516.3 530.6L511.9 531.9Z" fill="url(#pg3)" stroke="#f2ead8" stroke-width=".5" stroke-opacity=".8"/>
<path d="M513.8 531.8L515 521.1L521 518.8L524.9 519.9L523.8 523L528.6 523.7L526.6 528.3L529 530.1L528.3 533.8L523.2 537.1Z" fill="url(#pg5)" stroke="#f2ead8" stroke-width=".5" stroke-opacity=".8"/>
<path d="M513.6 542.4L520.5 533.3L526.9 534.6L528.1 537.6L527.1 540L531.8 543.4L526.5 546.3L527.7 549.3L525.1 552.3L518.9 552.4Z" fill="url(#pg3)" stroke="#f2ead8" stroke-width=".5" stroke-opacity=".8"/>
<path d="M512.8 565.8L518.2 557.5L522.3 558.9L522.5 561.6L521.9 563.9L524 567L521.1 569.7L521 572.4L519.6 575.2L515.5 575.2Z" fill="url(#pg4)" stroke="#f2ead8" stroke-width=".5" stroke-opacity=".8"/>
<path d="M502.9 575.2L511.9 569.1L516.4 572.3L516.7 575.7L514.3 577.3L515.3 581.1L511.4 582.9L511.7 586.2L507.9 587.8L503 586Z" fill="url(#pg4)" stroke="#f2ead8" stroke-width=".5" stroke-opacity=".8"/>
<path d="M499.5 577.5L510.2 571.1L515.1 575L514.2 578.4L512.3 580.6L514.2 585.7L508.6 586.8L507.4 589.9L504.2 592.2L498.8 589.9Z" fill="url(#pg3)" stroke="#f2ead8" stroke-width=".5" stroke-opacity=".8"/>
<path d="M491.1 588.9L497.9 588.5L499.1 591.6L498.1 593.5L496.3 593.6L495.5 595.9L492.9 595.6L491.7 597.1L489.3 597.1L487.4 594.6Z" fill="url(#pg5)" stroke="#f2ead8" stroke-width=".5" stroke-opacity=".8"/>
<path d="M487.9 589.3L495.1 589L497.6 592.8L496.7 594.6L495.2 595.1L494.9 597.7L492.2 597.5L491.2 599.1L488.9 599.3L485.9 596.3Z" fill="url(#pg4)" stroke="#f2ead8" stroke-width=".5" stroke-opacity=".8"/>
<path d="M475.1 592.6L484.6 595.9L485.9 602.2L484.3 605.4L481.7 604.1L480.4 608.2L476.6 605.6L475 608.7L471.4 606.3L469.1 600.7Z" fill="url(#pg4)" stroke="#f2ead8" stroke-width=".5" stroke-opacity=".8"/>
<path d="M467.3 598.6L475.6 605.2L474.1 610.5L471.1 611.9L468.9 610.3L465.5 613.3L462.8 609.3L459.9 610.1L457.2 607.6L457.4 602.4Z" fill="url(#pg4)" stroke="#f2ead8" stroke-width=".5" stroke-opacity=".8"/>
<path d="M461.5 602.1L472 602.7L473.4 607.8L471.7 610.8L468.9 610.4L467.9 615.3L463.3 612.9L461.4 615.5L457.6 614.6L455 610.4Z" fill="url(#pg3)" stroke="#f2ead8" stroke-width=".5" stroke-opacity=".8"/>
<path d="M448.4 596.4L454.5 603.7L452.6 609.8L450.2 610.3L448.4 609.4L445.1 613.5L443.5 608.4L440.9 609.7L439.1 606.4L439.8 600.6Z" fill="url(#pg5)" stroke="#f2ead8" stroke-width=".5" stroke-opacity=".8"/>
<path d="M441.3 597L451.7 602.6L450.8 608.3L447.6 609.8L444.9 608.7L441.6 612.6L438 608.6L434.8 610.7L431.4 607.7L430.7 602.3Z" fill="url(#pg4)" stroke="#f2ead8" stroke-width=".5" stroke-opacity=".8"/>
<path d="M430.1 593.1L433.8 603L429.7 606.9L426.9 605.9L425.4 604L420.4 605.6L420.7 600.2L417.8 599.3L416.8 595.8L419.7 591.3Z" fill="url(#pg3)" stroke="#f2ead8" stroke-width=".5" stroke-opacity=".8"/>
<path d="M426.2 590.5L430.3 598.1L427.4 602.7L425 602.7L423.7 601.3L420 603.7L419.5 599.3L417 599.6L415.9 596.6L417.7 591.9Z" fill="url(#pg3)" stroke="#f2ead8" stroke-width=".5" stroke-opacity=".8"/>
<path d="M410.7 579.8L410 590.2L404.9 591.8L403.1 589.6L402.3 587.3L398.6 585.9L399.7 581.9L396.9 580.2L398 576.3L402.2 573.6Z" fill="url(#pg4)" stroke="#f2ead8" stroke-width=".5" stroke-opacity=".8"/>
<path d="M406.5 579.5L406.9 589.3L402.5 590.9L400.4 589L399.8 586.7L396.6 585.3L397 581.6L394.6 580L395 576.4L398.5 573.9Z" fill="url(#pg4)" stroke="#f2ead8" stroke-width=".5" stroke-opacity=".8"/>
<path d="M400.9 564.9L401 577.2L395 579.7L391.9 577.8L391.5 574.8L385.8 574.3L388 568.6L384.1 567.1L385.4 562.3L390.3 558.6Z" fill="url(#pg4)" stroke="#f2ead8" stroke-width=".5" stroke-opacity=".8"/>
<path d="M397 554.7L395 564.2L390 565.1L388.6 562.9L388.2 560.7L384.6 559.1L386.5 555.4L383.6 553.7L385.6 550.1L389.9 548.1Z" fill="url(#pg3)" stroke="#f2ead8" stroke-width=".5" stroke-opacity=".8"/>
<path d="M397.3 546.2L397.7 559.1L392.8 560L389.3 557.6L389.9 554L385.6 551.7L386.9 546.6L383.6 544.1L384.6 539.3L388.5 536.8Z" fill="url(#pg4)" stroke="#f2ead8" stroke-width=".5" stroke-opacity=".8"/>
<path d="M400.7 529.1L392.8 533L389.1 529.8L389.2 527.2L391 526.1L389.7 522.5L393.7 522L393.3 519L396.8 518.4L400.9 520.4Z" fill="url(#pg4)" stroke="#f2ead8" stroke-width=".5" stroke-opacity=".8"/>
<path d="M397.4 525.4L387.9 532.7L382.9 529.4L383 525.9L385 523.8L383.9 519.6L388 517.4L388.4 514.1L391.7 511.7L396.9 513.4Z" fill="url(#pg4)" stroke="#f2ead8" stroke-width=".5" stroke-opacity=".8"/>
<path d="M398.9 519.9L389.3 525.6L385.2 522L384.9 518.2L387.9 517L386.2 512.2L391.5 511.5L392.5 508.5L395.6 506.6L400.2 508.7Z" fill="url(#pg4)" stroke="#f2ead8" stroke-width=".5" stroke-opacity=".8"/>
<path d="M409.7 509.4L399.6 511.5L395.9 506.7L395.7 502.7L399 502.9L398.8 498.8L403.2 498.9L404.7 496.7L407.7 495.7L412.1 499.3Z" fill="url(#pg4)" stroke="#f2ead8" stroke-width=".5" stroke-opacity=".8"/>
<path d="M424.2 492.7L415.5 491.6L414.4 487.2L416 485.1L418.2 485.2L419.7 482.4L423 483.3L424.8 481.7L427.8 482.2L429.8 485.9Z" fill="url(#pg4)" stroke="#f2ead8" stroke-width=".5" stroke-opacity=".8"/>
<path d="M423.4 493.9L413.3 497.2L410.1 492.9L411 489.9L413.4 488.8L412.6 484L417.7 484.4L418.5 481.2L422.4 480.7L426.4 483.7Z" fill="url(#pg5)" stroke="#f2ead8" stroke-width=".5" stroke-opacity=".8"/>
<path d="M437.4 487.8L428.4 485.8L426.5 480.2L428.2 478.7L430 478L431.1 475L434.4 476L436 474.3L438.9 474.9L441.7 479.7Z" fill="url(#pg5)" stroke="#f2ead8" stroke-width=".5" stroke-opacity=".8"/>
<path d="M445.8 483.6L438.3 479.4L438.6 474.5L440.6 472L442.6 473.8L444.6 470.7L447.4 473.5L449.5 472.4L452 474L452.8 478.5Z" fill="url(#pg4)" stroke="#f2ead8" stroke-width=".5" stroke-opacity=".8"/>
<path d="M453.5 483.8L442.1 479.7L442.7 474.4L445.8 472L448.8 473.6L452 470L456.1 473.1L459.3 471.5L463.1 473.4L464.2 478.2Z" fill="url(#pg5)" stroke="#f2ead8" stroke-width=".5" stroke-opacity=".8"/>
<path d="M474.2 488.1L464.9 482.4L466.3 477.8L469.5 476.4L471.9 478.2L475.3 475.8L478.4 479L481.6 477.9L484.6 480.5L484.7 485Z" fill="url(#pg4)" stroke="#f2ead8" stroke-width=".5" stroke-opacity=".8"/>
<path d="M471.1 489.5L466 478.2L470.6 472.4L474.8 471.5L475.8 474.9L480.5 473.4L481.6 478.5L485.1 478.6L486.5 482.8L483.5 489Z" fill="url(#pg4)" stroke="#f2ead8" stroke-width=".5" stroke-opacity=".8"/>
<path d="M493.1 501.2L489.2 493.5L492.2 490.1L495.1 489.9L495.9 492.2L499 491.9L500.1 495L502.3 495.8L503.7 498.3L501.7 502Z" fill="url(#pg3)" stroke="#f2ead8" stroke-width=".5" stroke-opacity=".8"/>
<path d="M493.6 498.8L490.5 488L495 484.9L498.2 486L499.2 488.7L502.9 489.4L503.7 493.5L507 494.5L507.4 498.7L504.1 502.7Z" fill="url(#pg5)" stroke="#f2ead8" stroke-width=".5" stroke-opacity=".8"/>
<path d="M502.7 512.1L503.5 503L508.2 501.5L510.9 502.8L510.4 505.3L514 506.2L512.6 509.9L514.6 511.6L514.1 514.7L510.2 517.2Z" fill="url(#pg3)" stroke="#f2ead8" stroke-width=".5" stroke-opacity=".8"/>
<path d="M506.9 524.1L507.7 511.2L513.9 509.3L516.1 512.1L517.1 514.9L522 516.5L520.2 521.7L524.5 523.5L522.3 528.6L517.1 531.9Z" fill="url(#pg3)" stroke="#f2ead8" stroke-width=".5" stroke-opacity=".8"/>
<path d="M407.6 563.9L407 580L399.9 581.7L395.8 578.7L396.1 574.5L391.2 571.6L392.4 565.6L388.1 562.7L389.8 556.7L395.6 553.1Z" fill="url(#pg4)" stroke="#f2ead8" stroke-width=".5" stroke-opacity=".8"/>
<path d="M409.3 555.1L408.4 570.2L400.5 573.3L395 571.9L396.4 567.3L388.9 566.8L392.4 559.8L388.6 557.4L389.7 552L396.2 547.5Z" fill="url(#pg3)" stroke="#f2ead8" stroke-width=".5" stroke-opacity=".8"/>
<path d="M412.7 538.7L406.5 556.2L395.5 557.7L390.7 554.2L392.4 549.7L383.3 547.2L389.9 539.9L383.7 536.7L389 530.1L398.8 526.5Z" fill="url(#pg4)" stroke="#f2ead8" stroke-width=".5" stroke-opacity=".8"/>
<path d="M413.7 521L401.5 528L395.7 523.4L396.5 519.5L398.8 517.1L398.5 512.5L402.9 510.2L404.1 506.6L407.9 504.1L414.2 506.9Z" fill="url(#pg4)" stroke="#f2ead8" stroke-width=".5" stroke-opacity=".8"/>
<path d="M414.9 516.2L400 524.8L392.6 519.2L393.1 514.3L396.1 511.6L394.5 505.3L401 503.1L400.7 497.8L406.8 495.6L414.8 499Z" fill="url(#pg2)" stroke="#f2ead8" stroke-width=".5" stroke-opacity=".8"/>
<path d="M432.1 501.9L418.2 499.6L416.6 492.4L418.9 487.8L422.9 489.5L424.8 483.3L430.6 486.7L432.9 482.3L438.3 485.1L441.4 491.3Z" fill="url(#pg2)" stroke="#f2ead8" stroke-width=".5" stroke-opacity=".8"/>
<path d="M441.3 496.7L424.1 497.7L420.6 489.6L422.3 483.8L427.4 484.5L428.1 476.8L435.8 479.3L439.1 476L444.6 475.4L449.8 481.8Z" fill="url(#pg1)" stroke="#f2ead8" stroke-width=".5" stroke-opacity=".8"/>
<path d="M454.4 498.1L439.6 493.7L437.9 484.7L440.3 479.4L444.6 481.8L446.5 474.6L452.7 479.3L455.5 475.3L460.8 478.3L464.2 486.2Z" fill="url(#pg4)" stroke="#f2ead8" stroke-width=".5" stroke-opacity=".8"/>
<path d="M472.4 500.1L456.6 491.5L458.4 483.6L463.4 482.2L467.6 483.5L473.1 478.4L478.4 484.2L483.5 482.7L488.7 486.1L489.3 493.6Z" fill="url(#pg1)" stroke="#f2ead8" stroke-width=".5" stroke-opacity=".8"/>
<path d="M481.9 507.1L476.5 492.4L482.8 485.1L488 484.3L489.2 488.4L494.7 487.4L496.1 493.2L500.5 493.7L502 499L497.6 506.9Z" fill="url(#pg4)" stroke="#f2ead8" stroke-width=".5" stroke-opacity=".8"/>
<path d="M483.9 512.2L480.5 494.5L489 487.8L493.3 489.8L495.5 493L502.8 492.3L502.5 500L508.7 500.1L508 507.8L501.6 515.6Z" fill="url(#pg3)" stroke="#f2ead8" stroke-width=".5" stroke-opacity=".8"/>
<path d="M493.4 519.5L493.8 499.4L504.4 494.5L510.8 496.5L510.2 502L519.7 502.4L516.1 511.6L522.7 513.5L520.2 521.6L511.6 528.3Z" fill="url(#pg0)" stroke="#f2ead8" stroke-width=".5" stroke-opacity=".8"/>
<path d="M501.1 531.7L508.5 519L516.2 520.1L518.6 524L516.8 527.3L520.6 531.3L516.6 535.8L520.4 539.7L515.4 543.8L508.1 544.6Z" fill="url(#pg1)" stroke="#f2ead8" stroke-width=".5" stroke-opacity=".8"/>
<path d="M502.1 552.4L505.8 533.9L513.7 533.7L516.6 538.5L516.4 543.1L522.8 547.3L518.6 554.4L521.5 559.1L519.7 565.3L512.8 568Z" fill="url(#pg0)" stroke="#f2ead8" stroke-width=".5" stroke-opacity=".8"/>
<path d="M501 560L514 550.6L519.5 555.1L518.9 559.8L516 562.5L516.5 568L511.2 570.9L511.1 575.9L505.8 578.3L499.5 575.9Z" fill="url(#pg0)" stroke="#f2ead8" stroke-width=".5" stroke-opacity=".8"/>
<path d="M491.2 575.3L505.2 570.5L513.5 576.4L514 580.7L511 582.4L512.8 587.5L507.2 588.8L507.2 592.7L502.3 594.2L493.6 590Z" fill="url(#pg4)" stroke="#f2ead8" stroke-width=".5" stroke-opacity=".8"/>
<path d="M477.8 589.7L491 596L490.5 603.9L486.8 606.3L483.4 605L479.9 610.5L475.1 605.6L471.5 609L467 605L465.6 597.8Z" fill="url(#pg3)" stroke="#f2ead8" stroke-width=".5" stroke-opacity=".8"/>
<path d="M461.5 587.6L478.6 598.3L476.7 608.9L471.2 613.3L466.9 609.4L461.2 615L455.3 608.8L449.9 612.3L444.4 606.8L443.6 596.8Z" fill="url(#pg1)" stroke="#f2ead8" stroke-width=".5" stroke-opacity=".8"/>
<path d="M446.3 590.3L462 598L462.6 608.9L458.7 611.9L454.8 611.1L451.2 616.2L445.6 612.6L442.1 618.1L436.5 612.4L433.9 602.6Z" fill="url(#pg0)" stroke="#f2ead8" stroke-width=".5" stroke-opacity=".8"/>
<path d="M437.7 584.2L443.7 601.5L436.2 609.3L431.2 608.4L428.8 604.9L421.4 606.9L420.8 598.9L415.3 598.6L414.2 591.8L419.4 583.1Z" fill="url(#pg3)" stroke="#f2ead8" stroke-width=".5" stroke-opacity=".8"/>
<path d="M428.5 577.4L436.1 593.8L429.6 603.9L423.8 605.9L422.1 601.2L414.5 606.3L413.7 596.9L407.9 599L406.6 591.2L410.8 580.9Z" fill="url(#pg0)" stroke="#f2ead8" stroke-width=".5" stroke-opacity=".8"/>
<path d="M452.4 503.5L438.2 497L437.9 487.8L441.6 486L445 485.9L448.4 481.4L453.5 484.6L457.2 482.6L461.8 484.8L464 493.1Z" fill="url(#pg1)" stroke="#f2ead8" stroke-width=".5" stroke-opacity=".8"/>
<path d="M466 505L458.4 492.3L463.1 485L467.8 484L469.6 487.4L475.7 484L477 491.1L481.7 489.9L483.4 495.7L480.6 503.3Z" fill="url(#pg0)" stroke="#f2ead8" stroke-width=".5" stroke-opacity=".8"/>
<path d="M480.5 516L476.9 496.2L486.2 489.3L493.5 489.4L493.4 495.6L501.2 495.5L501 503.7L508.6 503.6L507.1 512.7L500 520.9Z" fill="url(#pg0)" stroke="#f2ead8" stroke-width=".5" stroke-opacity=".8"/>
<path d="M490.3 530.8L489.5 508.7L500.3 503.7L506.5 506.6L506.9 512.2L516.6 513.2L513.6 522.9L517.9 527.1L518.6 534.1L509.9 541.1Z" fill="url(#pg1)" stroke="#f2ead8" stroke-width=".5" stroke-opacity=".8"/>
<path d="M491.8 535.8L495.9 520.5L505 518.7L508 521.9L508.1 525.5L513.8 528.1L510.8 533.9L514.1 537L512 542.3L504.1 545.9Z" fill="url(#pg0)" stroke="#f2ead8" stroke-width=".5" stroke-opacity=".8"/>
<path d="M492.9 548.2L503.9 537.9L512.1 541.1L515.3 545.8L511.1 548.1L515.6 553.3L509.1 556.2L509.2 560.2L505.8 563.6L497.7 562.4Z" fill="url(#pg0)" stroke="#f2ead8" stroke-width=".5" stroke-opacity=".8"/>
<path d="M488 565.8L499.8 555.4L507.3 559.2L509.9 564.4L505.5 566.6L508.7 572.3L502.5 575.2L504.8 580.4L498.5 583L490.8 581.3Z" fill="url(#pg0)" stroke="#f2ead8" stroke-width=".5" stroke-opacity=".8"/>
<path d="M480.2 572.1L498.2 567.2L502 574.2L499.7 579.5L494.9 580.7L493 586.8L486.1 587.7L482.6 591.6L476.9 593.5L471.4 588.5Z" fill="url(#pg3)" stroke="#f2ead8" stroke-width=".5" stroke-opacity=".8"/>
<path d="M473.4 576.7L490.8 581.2L491.5 590.1L487.4 593.6L482.9 592.8L479.2 599L472.6 595.1L468.7 599.9L462.4 596.1L459.5 588.3Z" fill="url(#pg1)" stroke="#f2ead8" stroke-width=".5" stroke-opacity=".8"/>
<path d="M453.1 579.4L470.4 586.1L470.4 595.8L466.2 600.9L461.6 597.9L457.4 604.1L451 599.4L446.8 604.3L440.7 599.4L438.3 590.6Z" fill="url(#pg4)" stroke="#f2ead8" stroke-width=".5" stroke-opacity=".8"/>
<path d="M440.8 573L450.8 592L443.4 601.4L436.3 602.4L434 597L425.2 600.5L423.6 590.7L416.4 592L414.6 583.2L419.3 573Z" fill="url(#pg2)" stroke="#f2ead8" stroke-width=".5" stroke-opacity=".8"/>
<path d="M426.5 571.5L431.5 592.4L423.1 597L417.4 594L415.7 588.9L407.4 587.7L407.7 578.7L400.8 576.6L401.3 568.1L407.4 561.6Z" fill="url(#pg0)" stroke="#f2ead8" stroke-width=".5" stroke-opacity=".8"/>
<path d="M417.3 559.1L415.8 575.7L407.3 578.3L402.9 575.6L403.2 571.3L397.6 568.9L399.2 562.6L395.7 559.5L396.6 553.8L403.7 549.4Z" fill="url(#pg0)" stroke="#f2ead8" stroke-width=".5" stroke-opacity=".8"/>
<path d="M415.6 548.9L406.7 561.3L397.6 560.1L395 556.2L396.9 553L392.9 549L397.1 544.7L394.6 540.8L398.7 536.8L407.3 536.1Z" fill="url(#pg0)" stroke="#f2ead8" stroke-width=".5" stroke-opacity=".8"/>
<path d="M416.1 527.6L408.6 541.9L401.3 540.4L400.4 536L401 532.2L396.5 527.5L401.5 522.6L400.1 518.2L403 513.5L409.9 512.8Z" fill="url(#pg3)" stroke="#f2ead8" stroke-width=".5" stroke-opacity=".8"/>
<path d="M421.7 525.8L402.6 531.2L396.6 523L398.3 517.2L403 515.5L403.6 508.3L411.4 507.5L413.1 501.7L420.3 500.9L427.8 506.8Z" fill="url(#pg1)" stroke="#f2ead8" stroke-width=".5" stroke-opacity=".8"/>
<path d="M439.3 510.6L418.6 511.8L411.4 500.9L411.7 493.4L417.9 494.1L418.8 487.1L426.4 487L428.3 481.5L435.8 481.8L444.5 490.5Z" fill="url(#pg3)" stroke="#f2ead8" stroke-width=".5" stroke-opacity=".8"/>
<path d="M448.1 504L430.1 504.9L426.8 496.7L429.1 491.1L434.2 491.5L436.2 485.1L443.3 486.2L446.4 481.9L452.8 482.2L457.9 488.8Z" fill="url(#pg2)" stroke="#f2ead8" stroke-width=".5" stroke-opacity=".8"/>
<path d="M482.4 552.1L498.2 545.2L507.5 551.6L508.7 556.9L504.7 558.7L507.5 565.1L500.4 566.6L500.7 571.4L494.8 573.3L485.1 569.1Z" fill="url(#pg1)" stroke="#f2ead8" stroke-width=".5" stroke-opacity=".8"/>
<path d="M477 556.7L496.5 550.6L506.6 559.2L506.7 565.3L502.3 567.4L504.6 575.1L496.2 576.1L494.6 581L488.6 583.4L477.8 577.2Z" fill="url(#pg0)" stroke="#f2ead8" stroke-width=".5" stroke-opacity=".8"/>
<path d="M462.2 572.2L482.2 572.2L486.8 582.4L483.4 586.6L479.2 588.2L478.2 596.6L469.6 594.1L466.1 598.1L459.6 598.2L453.2 589.9Z" fill="url(#pg1)" stroke="#f2ead8" stroke-width=".5" stroke-opacity=".8"/>
<path d="M462.8 577.5L473 583.4L472.5 590.1L469.7 593L467 591L464.2 595.9L460.5 591.3L457.5 592.5L454.2 590.6L453.2 584.2Z" fill="url(#pg0)" stroke="#f2ead8" stroke-width=".5" stroke-opacity=".8"/>
<path d="M446.3 568.1L451.8 584.4L444.9 594.2L440.9 593.5L438.1 591.5L432.3 593.6L430.7 587.2L424.9 589.5L424.5 581.6L429.4 571.4Z" fill="url(#pg2)" stroke="#f2ead8" stroke-width=".5" stroke-opacity=".8"/>
<path d="M432.7 561L431.7 576.4L423.3 580.1L417.5 579L419 574.3L410.8 574.5L414.7 567.1L410.1 565.3L411.9 559.4L418.9 554.3Z" fill="url(#pg0)" stroke="#f2ead8" stroke-width=".5" stroke-opacity=".8"/>
<path d="M424 552.2L416.5 568.5L407.6 567.7L403.5 563.1L406.4 558.8L401 554.1L405.8 548.3L404.9 543.6L406.7 538.2L414.9 536.7Z" fill="url(#pg0)" stroke="#f2ead8" stroke-width=".5" stroke-opacity=".8"/>
<path d="M423.6 540.2L413.5 550.9L405.6 548.3L404.6 544.3L406.3 541.3L402.5 536.7L407.8 533.3L405.8 529.1L410.6 525.9L418.4 526.6Z" fill="url(#pg0)" stroke="#f2ead8" stroke-width=".5" stroke-opacity=".8"/>
<path d="M428.9 523.9L412.8 534.3L407.1 528.7L408.5 523.2L412.2 520.1L412.3 513.5L418.8 510.4L420.1 504.8L426.2 501.9L433 505Z" fill="url(#pg0)" stroke="#f2ead8" stroke-width=".5" stroke-opacity=".8"/>
<path d="M438 526.4L418.8 528.7L409.9 518.7L410.4 513.2L414.7 511.9L410.3 501.6L421.3 504.8L420 497.5L429.1 499.3L438.9 507.1Z" fill="url(#pg2)" stroke="#f2ead8" stroke-width=".5" stroke-opacity=".8"/>
<path d="M453.5 511.8L435.8 506.9L434.4 497L438.4 493.8L442.7 493.8L446 487.6L452.7 491.1L457 489L462.7 489.9L466.2 498.6Z" fill="url(#pg1)" stroke="#f2ead8" stroke-width=".5" stroke-opacity=".8"/>
<path d="M458.6 510.4L447.7 501.2L449.6 493.2L453.6 489.9L456.4 493.3L460.6 489.1L464.2 494.2L468 492.7L471.5 496.3L471.4 504.1Z" fill="url(#pg4)" stroke="#f2ead8" stroke-width=".5" stroke-opacity=".8"/>
<path d="M471.6 520L458.2 508.3L460.8 498L465.5 495.9L469.1 498.2L474.6 491.8L478.8 499.5L483.5 498.4L487.9 502.3L487.6 512.2Z" fill="url(#pg2)" stroke="#f2ead8" stroke-width=".5" stroke-opacity=".8"/>
<path d="M477.6 522.2L476.5 505.9L483.6 503.3L489 505.4L488.2 510.2L493.4 512.6L492.9 518.7L497.6 521.2L496.5 527.4L490.9 531.7Z" fill="url(#pg4)" stroke="#f2ead8" stroke-width=".5" stroke-opacity=".8"/>
<path d="M483.4 539.1L492.9 527.9L502.3 529.3L504.3 532.9L502.8 535.8L508.9 539.7L502.5 543.5L505.1 547.1L500.7 550.8L491.8 551.2Z" fill="url(#pg3)" stroke="#f2ead8" stroke-width=".5" stroke-opacity=".8"/>
<path d="M456.4 517.6L445.7 509.6L447.2 502.1L450.8 499.3L453.6 501.9L457.3 499.5L461 502.5L464.5 500.5L468 504.2L468.2 511.4Z" fill="url(#pg3)" stroke="#f2ead8" stroke-width=".5" stroke-opacity=".8"/>
<path d="M466.6 523.7L456.8 511L461 502.9L465.5 502.6L468.4 504.8L473.8 502.6L476.9 508L481.8 506.5L484.5 512.3L482.4 520.5Z" fill="url(#pg1)" stroke="#f2ead8" stroke-width=".5" stroke-opacity=".8"/>
<path d="M478 530.8L473.8 517.5L479.4 512.9L484 513.5L484.8 517.1L489.4 517.9L490.7 522.7L495.2 523.2L495.6 528.7L491.5 534.3Z" fill="url(#pg1)" stroke="#f2ead8" stroke-width=".5" stroke-opacity=".8"/>
<path d="M476.8 548.6L483.9 533.2L494.9 531.9L498.5 535.2L497.5 539L506 541.4L499.4 547.7L501.1 551.5L499.6 556.3L489.8 559.5Z" fill="url(#pg1)" stroke="#f2ead8" stroke-width=".5" stroke-opacity=".8"/>
<path d="M473.7 553.3L493.3 547.8L499.3 556.2L497.4 562L492.7 563.8L491.5 570.7L484.1 572L483.6 579.4L474.8 578.8L467.3 572.7Z" fill="url(#pg0)" stroke="#f2ead8" stroke-width=".5" stroke-opacity=".8"/>
<path d="M460.2 559.6L477.2 562L482.9 572.7L482.5 579.1L477.4 577.5L476.5 583.3L470.3 582.2L469.8 588.4L462.5 585.1L455.6 576.1Z" fill="url(#pg4)" stroke="#f2ead8" stroke-width=".5" stroke-opacity=".8"/>
<path d="M450.3 562.8L464.5 573.8L462.6 584.4L457.9 586.6L454.1 584.7L449 592L444.3 584L439.6 586.4L435 581.7L434.7 571.7Z" fill="url(#pg1)" stroke="#f2ead8" stroke-width=".5" stroke-opacity=".8"/>
<path d="M445.5 559.6L454.5 573.4L449.9 583L444.9 585.4L442.7 581.4L437.4 584.1L434.6 578.5L429.7 580.4L427.4 574.2L429.8 564.5Z" fill="url(#pg1)" stroke="#f2ead8" stroke-width=".5" stroke-opacity=".8"/>
<path d="M438.3 551.9L433 571.2L422 572.9L419 568.5L418.4 564L411.7 560.4L415.3 553.2L409.4 549.6L413.9 542.4L423.6 538.4Z" fill="url(#pg1)" stroke="#f2ead8" stroke-width=".5" stroke-opacity=".8"/>
<path d="M432 538.5L428.5 556.1L419.5 557.6L415.5 553.9L416.1 549.4L409 546.5L413 539.5L408.1 536.1L411.3 529.7L419.2 526.1Z" fill="url(#pg2)" stroke="#f2ead8" stroke-width=".5" stroke-opacity=".8"/>
<path d="M434.4 531.7L422.1 538.5L416.9 533.8L416.3 529L420.2 527.7L417.8 521.6L424.6 520.9L425.6 517L429.8 514.9L435.7 517.7Z" fill="url(#pg1)" stroke="#f2ead8" stroke-width=".5" stroke-opacity=".8"/>
<path d="M444.6 526.9L425.4 522.8L422.4 511.6L425.1 505.1L430.6 507.3L433.1 499.9L440.7 503.3L444.7 500.2L451 501.2L456 510.8Z" fill="url(#pg1)" stroke="#f2ead8" stroke-width=".5" stroke-opacity=".8"/>
<path d="M452.1 528.9L435.8 528.5L431.3 519.6L433.2 515.3L437 514.8L437.4 507.8L444.4 509.9L447 506.5L452.3 506.5L458.2 513.7Z" fill="url(#pg1)" stroke="#f2ead8" stroke-width=".5" stroke-opacity=".8"/>
<path d="M458.6 527.4L443.8 514.3L447.8 506.6L453.9 505.2L457.6 508.9L464.9 504.6L469 512.5L475.4 510.1L479.4 517.2L478.2 525.2Z" fill="url(#pg0)" stroke="#f2ead8" stroke-width=".5" stroke-opacity=".8"/>
<path d="M464.3 535.4L460.8 515.2L470.1 509.2L476.6 510.6L477.2 516.1L484.3 517.3L484.7 525L490.4 527.2L490.6 534.6L483.6 542.2Z" fill="url(#pg2)" stroke="#f2ead8" stroke-width=".5" stroke-opacity=".8"/>
<path d="M467.5 544.4L479.6 528.6L490.3 531.1L491.2 536.3L490.3 540.6L498.2 546.8L489.1 551.8L492.4 557.3L486.3 562.3L476 562.4Z" fill="url(#pg1)" stroke="#f2ead8" stroke-width=".5" stroke-opacity=".8"/>
<path d="M463.1 555.1L478.1 546.3L485.6 551.9L485.5 557.1L482.1 559.7L483.6 565.9L477.2 568.3L475.6 572.7L471.3 575.9L463.2 572.6Z" fill="url(#pg1)" stroke="#f2ead8" stroke-width=".5" stroke-opacity=".8"/>
<path d="M453.5 558.2L469.2 564.1L469.7 573.4L466.4 578.7L462 575.7L458.3 580L452.8 577.4L448.8 579.5L443.6 577.7L441.1 569.4Z" fill="url(#pg4)" stroke="#f2ead8" stroke-width=".5" stroke-opacity=".8"/>
<path d="M445 554L451.3 569.3L445 575.2L439.2 575.6L438.2 570.7L431.5 572L430.8 564.8L426.6 563.1L424.5 558.1L428.7 551.2Z" fill="url(#pg1)" stroke="#f2ead8" stroke-width=".5" stroke-opacity=".8"/>
<path d="M440.9 548.4L434.4 562.6L426 562.3L423.3 558.5L424.6 554.8L420.3 551L423.8 545.9L420.3 542.2L424.3 537.3L432 535.7Z" fill="url(#pg2)" stroke="#f2ead8" stroke-width=".5" stroke-opacity=".8"/>
<path d="M442.1 538.1L426.8 547L418.9 541.2L418 535.6L422.3 533.4L420.9 527.3L427.1 524.7L428.4 520.3L432.9 517.1L441.4 520.5Z" fill="url(#pg0)" stroke="#f2ead8" stroke-width=".5" stroke-opacity=".8"/>
<path d="M454.9 550.1L466.3 557.5L465.4 565.4L462 568.6L459.1 566.1L455.6 569.3L451.6 566.1L448.2 568.8L444.5 565L443.7 557.6Z" fill="url(#pg1)" stroke="#f2ead8" stroke-width=".5" stroke-opacity=".8"/>
<path d="M449.9 548.7L444.8 561.9L435.8 563.4L431.4 561L433.4 557.4L427 555.6L431.4 550.2L429.8 547.1L430.8 543L438.7 540Z" fill="url(#pg0)" stroke="#f2ead8" stroke-width=".5" stroke-opacity=".8"/>
<path d="M448.9 540L435.8 539.3L431.9 531.8L432.6 527.1L436.5 528L436.8 522.5L442.3 524.1L443.5 520.2L448.6 521.5L453.5 527.7Z" fill="url(#pg1)" stroke="#f2ead8" stroke-width=".5" stroke-opacity=".8"/>
<path d="M453.3 537.7L444.8 525.6L448.1 515.8L451.8 514.7L454.4 516.4L459.2 510.9L461.5 518.1L465.3 516.5L467.9 521.3L466.4 530.9Z" fill="url(#pg3)" stroke="#f2ead8" stroke-width=".5" stroke-opacity=".8"/>
<path d="M459.8 542.7L463.8 525.8L473.1 524.1L477.4 527.4L476.4 531.8L483.2 534.5L479.3 541.2L482.8 544.8L480.8 550.6L472.7 554.2Z" fill="url(#pg3)" stroke="#f2ead8" stroke-width=".5" stroke-opacity=".8"/>
<path d="M460.7 543.8L476.1 546.2L480.1 555.6L477.9 559.3L474.5 559.7L473.5 565.9L467.3 563.6L465.8 568.7L459.7 566L454.4 558.1Z" fill="url(#pg1)" stroke="#f2ead8" stroke-width=".5" stroke-opacity=".8"/>
<path d="M452.6 543.9L458.9 551.5L456.4 556.4L453.7 556.7L451.8 555.4L448.4 557.2L446.6 553.6L443.6 554.4L441.8 551.1L442.9 546Z" fill="url(#pg3)" stroke="#f2ead8" stroke-width=".5" stroke-opacity=".8"/>
<path d="M457.6 546.7L440.7 554.9L432.1 548.2L430.4 541.6L435.9 540.2L435.2 534L441.3 531.3L439.4 524.6L447.9 523.6L457.1 527.9Z" fill="url(#pg3)" stroke="#f2ead8" stroke-width=".5" stroke-opacity=".8"/>
<path d="M454 545.1L438.5 535.4L440.3 526.1L445.4 522.2L449.3 525.8L454.5 521.9L459.9 526.4L464.8 524.1L469.9 528.4L470.5 537.2Z" fill="url(#pg0)" stroke="#f2ead8" stroke-width=".5" stroke-opacity=".8"/>
<path d="M449.8 547.6L452.9 529.1L464.6 523.6L472.3 524.1L469.7 530L476.9 531L474.5 538.3L479.4 540.4L477.4 547.1L467.5 554Z" fill="url(#pg0)" stroke="#f2ead8" stroke-width=".5" stroke-opacity=".8"/>
<path d="M456.6 543.4L466.2 545.7L468.2 551.8L466.7 554.2L464.4 554.1L463.1 557.2L459.7 556.2L457.9 558L454.8 557.3L451.9 552.1Z" fill="url(#pg1)" stroke="#f2ead8" stroke-width=".5" stroke-opacity=".8"/>
<circle cx="455" cy="543" r="70" fill="url(#pshade)"/>
<path d="M418.5 534.5L465.6 562.7" stroke="#e8b27e" stroke-width="0.6" opacity=".9"/>
<path d="M470.5 523.6L469.2 551.8" stroke="#f3dcb8" stroke-width="1" opacity=".9"/>
<path d="M479.2 512.4L446 549.9" stroke="#9aa094" stroke-width="1.8" opacity=".9"/>
<path d="M446.2 531.5L452.9 585.5" stroke="#7a5c40" stroke-width="1.3" opacity=".9"/>
<path d="M424.3 517.4L443.3 549" stroke="#b08a60" stroke-width="1.3" opacity=".9"/>
<path d="M434.2 522.9L436.3 554.3" stroke="#7a5c40" stroke-width="1.8" opacity=".9"/>
<path d="M455.1 535.2L420.3 538.4" stroke="#e8b27e" stroke-width="0.6" opacity=".9"/>
<path d="M460 528.2L460 566.8" stroke="#e8b27e" stroke-width="0.6" opacity=".9"/>
<path d="M466 525.5L435 538.2" stroke="#e8b27e" stroke-width="0.6" opacity=".9"/>
<path d="M455.4 527.3L461.1 550.1" stroke="#e8b27e" stroke-width="1.3" opacity=".9"/>
<path d="M475.2 535.4L433.9 548.6" stroke="#6e5844" stroke-width="1.3" opacity=".9"/>
<path d="M478 544.3L428.6 555.2" stroke="#f0a868" stroke-width="0.6" opacity=".9"/>
<path d="M461.9 556.8L439.6 559.2" stroke="#e9a366" stroke-width="1" opacity=".9"/>
<path d="M463 518.4L434.1 519.4" stroke="#c9c4b0" stroke-width="0.8" opacity=".9"/>
<path d="M455 523.9L447.5 566.8" stroke="#9aa094" stroke-width="1.3" opacity=".9"/>
<path d="M451.2 530.5L480.4 563" stroke="#6e5844" stroke-width="1.3" opacity=".9"/>
<path d="M473.4 546.6L427.8 551" stroke="#c9c4b0" stroke-width="1" opacity=".9"/>
<path d="M428.6 542.1L456.3 545.4" stroke="#7a5c40" stroke-width="0.6" opacity=".9"/>
<path d="M436.6 549.6L468.1 556.4" stroke="#f0a868" stroke-width="1.8" opacity=".9"/>
<path d="M474.1 524.9L435.8 558" stroke="#b08a60" stroke-width="0.6" opacity=".9"/>
<path d="M476.4 544.5L429.8 553.8" stroke="#f0a868" stroke-width="1.8" opacity=".9"/>
<path d="M448.6 510.6L452.9 557" stroke="#9aa094" stroke-width="0.6" opacity=".9"/>
<path d="M490.7 528.6L456.5 565.3" stroke="#f3dcb8" stroke-width="0.6" opacity=".9"/>
<path d="M457.5 507.4L436.5 548.1" stroke="#c9c4b0" stroke-width="1" opacity=".9"/>
<path d="M455.8 544.5L426.5 562.3" stroke="#9aa094" stroke-width="1.8" opacity=".9"/>
<path d="M448.5 550.5L486.2 556.1" stroke="#6e5844" stroke-width="0.8" opacity=".9"/>
<path d="M450.9 536.2L488.7 554.1" stroke="#7a5c40" stroke-width="0.6" opacity=".9"/>
<path d="M435.2 539.9L454.7 584.1" stroke="#f0a868" stroke-width="0.8" opacity=".9"/>
<path d="M445.7 517.8L476.6 539.5" stroke="#e9a366" stroke-width="1.3" opacity=".9"/>
<path d="M454.5 540.5L472.9 587.1" stroke="#e8b27e" stroke-width="1.8" opacity=".9"/>
<path d="M445.6 531L459.6 553" stroke="#7a5c40" stroke-width="0.8" opacity=".9"/>
<path d="M431.2 512.3L459.3 537.6" stroke="#e8b27e" stroke-width="0.8" opacity=".9"/>
<path d="M443.4 514.8L454.4 553" stroke="#7a5c40" stroke-width="0.8" opacity=".9"/>
<path d="M471.1 513.1L439.5 531" stroke="#e9a366" stroke-width="1.8" opacity=".9"/>
<path d="M459.8 521.5L450.9 565.6" stroke="#e8b27e" stroke-width="1.8" opacity=".9"/>
<path d="M446.3 521.2L498.7 538.1" stroke="#f0a868" stroke-width="1.8" opacity=".9"/>
<path d="M461.2 528.4L475.9 566.6" stroke="#e9a366" stroke-width="1.8" opacity=".9"/>
<path d="M479.1 539.7L472.6 566.7" stroke="#9aa094" stroke-width="0.6" opacity=".9"/>
<path d="M444.3 523.3L437.2 550" stroke="#7a5c40" stroke-width="0.8" opacity=".9"/>
<path d="M469.6 526.7L438.4 548.1" stroke="#9aa094" stroke-width="0.6" opacity=".9"/>
<path d="M445.9 542.1L473.5 574.4" stroke="#e9a366" stroke-width="0.8" opacity=".9"/>
<path d="M448.7 530.8L458.4 585.9" stroke="#6e5844" stroke-width="1.3" opacity=".9"/>
<path d="M428.3 513.9L461.3 541.1" stroke="#f0a868" stroke-width="0.6" opacity=".9"/>
<path d="M494.9 544.4L457.3 557.1" stroke="#6e5844" stroke-width="1.3" opacity=".9"/>
<path d="M437.7 513.1L453.7 532.8" stroke="#e8b27e" stroke-width="0.6" opacity=".9"/>
<path d="M449.9 511.4L430.8 536.3" stroke="#9aa094" stroke-width="0.8" opacity=".9"/>
<path d="M469.4 537.9L473.2 565.7" stroke="#c9c4b0" stroke-width="1.8" opacity=".9"/>
<path d="M468.8 529.8L442.9 558.8" stroke="#c9c4b0" stroke-width="0.8" opacity=".9"/>
<path d="M462.5 525.8L450.8 563.8" stroke="#b08a60" stroke-width="1" opacity=".9"/>
<path d="M407.1 529.8L459.3 539.3" stroke="#f3dcb8" stroke-width="1" opacity=".9"/>
<path d="M486.5 516.8L448.5 540.9" stroke="#e8b27e" stroke-width="0.8" opacity=".9"/>
<path d="M470 524.8L440.6 566.9" stroke="#e9a366" stroke-width="1.8" opacity=".9"/>
<path d="M452.2 539.9L479.2 547.1" stroke="#b08a60" stroke-width="1.3" opacity=".9"/>
<path d="M437.4 510.7L445.8 558" stroke="#b08a60" stroke-width="0.6" opacity=".9"/>
<path d="M445.4 540.7L443.1 566.3" stroke="#e8b27e" stroke-width="0.8" opacity=".9"/>
<circle cx="452.3" cy="477.2" r="6" fill="url(#by)"/>
<circle cx="483.2" cy="478.9" r="2.8" fill="url(#bg)"/>
<circle cx="493.5" cy="519.9" r="3.5" fill="url(#bg)"/>
<circle cx="524.4" cy="576.9" r="4" fill="url(#by)"/>
<circle cx="265" cy="555" r="62.1" fill="#d6a272"/>
<path d="M320.7 536L322.4 526.9L327.9 525L331 526L330.1 528.6L333.6 529.6L332.3 533.1L333.6 535L333.5 537.8L328.8 540.6Z" fill="url(#pg5)" stroke="#f2ead8" stroke-width=".5" stroke-opacity=".8"/>
<path d="M321.1 540.1L325.1 531.3L331.5 530.3L334.6 531.8L333.1 534.2L336.8 535.6L334.3 538.9L335.5 541L334.6 543.7L328.8 545.8Z" fill="url(#pg5)" stroke="#f2ead8" stroke-width=".5" stroke-opacity=".8"/>
<path d="M321.8 551.4L329.4 542.8L335 544.8L337.3 548.4L334.3 550.5L336.4 554.1L332.9 556.9L335.1 560.5L330.7 562.9L325.1 562.4Z" fill="url(#pg4)" stroke="#f2ead8" stroke-width=".5" stroke-opacity=".8"/>
<path d="M323.6 561.6L327.4 553.1L332.9 552.9L335.6 554.9L334 557.2L337.5 559.1L334.8 562.3L337.1 564.3L334.8 567.3L329.8 568.6Z" fill="url(#pg5)" stroke="#f2ead8" stroke-width=".5" stroke-opacity=".8"/>
<path d="M321.4 570.2L326.4 564.3L330.9 565.3L332.2 567.4L330.9 568.9L332.4 571.1L330.4 573.1L332.3 575.2L329.3 577L324.9 577Z" fill="url(#pg4)" stroke="#f2ead8" stroke-width=".5" stroke-opacity=".8"/>
<path d="M318.9 579.2L328.7 573L333.1 576.7L333.4 580.5L330.6 581.9L332.4 586.7L327 587.8L326.3 590.9L323 592.9L318.1 590.8Z" fill="url(#pg4)" stroke="#f2ead8" stroke-width=".5" stroke-opacity=".8"/>
<path d="M312.3 590.9L320.1 584.7L325.3 587.2L326.5 590.2L324.3 591.8L326.2 595.3L322.5 597.1L322.4 599.8L319.9 601.8L314.6 600.7Z" fill="url(#pg4)" stroke="#f2ead8" stroke-width=".5" stroke-opacity=".8"/>
<path d="M305.6 587.4L316.8 586.2L320.7 591.9L320.5 595.9L317.2 595.8L317.3 600.2L312.6 599.7L312.8 604.1L307.6 602.8L302.8 598.3Z" fill="url(#pg3)" stroke="#f2ead8" stroke-width=".5" stroke-opacity=".8"/>
<path d="M299 598.8L307.2 599.4L309.1 604L308 605.9L306.1 606.2L305.2 608.9L302.2 608.4L301.3 610.8L298.2 609.9L295.5 606.2Z" fill="url(#pg4)" stroke="#f2ead8" stroke-width=".5" stroke-opacity=".8"/>
<path d="M286.7 608.9L298.1 609.5L299.4 614.7L297.2 617.3L294.3 617.4L292.5 621.1L288.2 620L286.3 623.5L281.9 621.8L279.3 617.5Z" fill="url(#pg3)" stroke="#f2ead8" stroke-width=".5" stroke-opacity=".8"/>
<path d="M274.5 613.7L284.8 617.4L284.7 622.7L281.9 624.3L279.3 623.9L276.8 628L272.9 624.7L270.2 626.8L266.7 624.7L265.4 619.9Z" fill="url(#pg4)" stroke="#f2ead8" stroke-width=".5" stroke-opacity=".8"/>
<path d="M275.5 610L284.4 611.7L285.6 616.6L283.6 618.1L281.7 618.5L280.5 622.1L276.9 620.3L275.3 622.5L272.1 621.3L269.9 617.1Z" fill="url(#pg5)" stroke="#f2ead8" stroke-width=".5" stroke-opacity=".8"/>
<path d="M261 612.1L271.7 614.4L272.7 620L270.7 623.1L267.7 622.1L265.6 625.2L261.7 623.9L259.8 627.2L255.8 624.9L253.6 620Z" fill="url(#pg4)" stroke="#f2ead8" stroke-width=".5" stroke-opacity=".8"/>
<path d="M255.6 611.7L260.8 620.6L257.5 625.7L254.6 625.7L252.9 624L248.9 626L247.8 621.4L244.1 622.9L243.3 618.1L245.3 612.8Z" fill="url(#pg5)" stroke="#f2ead8" stroke-width=".5" stroke-opacity=".8"/>
<path d="M235.8 601.8L243.4 609.5L240.9 614.1L237.4 615.5L235.7 612.8L232 614.4L229.7 610.8L226.8 610.2L224.2 608.1L225.2 603.3Z" fill="url(#pg3)" stroke="#f2ead8" stroke-width=".5" stroke-opacity=".8"/>
<path d="M230.7 601.8L234.4 609.3L231.5 612.1L229.3 611.3L227.9 609.8L225.2 609.6L224 606.8L221.2 606.9L220.7 603.5L222.6 600.2Z" fill="url(#pg4)" stroke="#f2ead8" stroke-width=".5" stroke-opacity=".8"/>
<path d="M219.9 593.8L220.5 603.6L216.2 605.3L212.8 604.2L213.4 601.2L210.4 599.8L210.5 596.1L208.2 594.4L208.3 591L211.8 588.3Z" fill="url(#pg3)" stroke="#f2ead8" stroke-width=".5" stroke-opacity=".8"/>
<path d="M214.8 583.7L214.6 595.4L208.3 598.7L204 598.1L204.8 594.5L200.4 593.9L201.3 589.3L196.8 588.8L198.8 583.7L203.9 579.4Z" fill="url(#pg3)" stroke="#f2ead8" stroke-width=".5" stroke-opacity=".8"/>
<path d="M214 573.9L212.2 585.1L207.1 585.6L204.3 583.1L205.2 580.1L202.3 577.5L203.5 573.5L201.3 570.9L202.5 567L206.8 565.1Z" fill="url(#pg4)" stroke="#f2ead8" stroke-width=".5" stroke-opacity=".8"/>
<path d="M209.7 562.7L209.6 574.8L204.1 576.5L200.6 574.5L201 571.2L195.6 570.1L197.9 564.7L195.8 562.1L195.7 558.2L200.2 555.2Z" fill="url(#pg4)" stroke="#f2ead8" stroke-width=".5" stroke-opacity=".8"/>
<path d="M206.7 554.8L198.9 561.9L192.7 559.8L190.4 556.7L193.1 555L189.8 551.6L194.3 549.5L192.8 546.6L196.4 544.5L202.5 545.2Z" fill="url(#pg4)" stroke="#f2ead8" stroke-width=".5" stroke-opacity=".8"/>
<path d="M211.3 552.2L202.7 556.5L197.2 553.3L195.8 550.1L198.5 549.2L197 545.8L200.7 544.6L199.8 541.7L203.6 540.7L209.2 542.8Z" fill="url(#pg4)" stroke="#f2ead8" stroke-width=".5" stroke-opacity=".8"/>
<path d="M212.8 529.4L203.6 535.4L199.5 532L198.9 528.2L202 527.1L200.8 522.7L205.3 521.5L205.9 518.3L209.2 516.5L213.7 518.5Z" fill="url(#pg4)" stroke="#f2ead8" stroke-width=".5" stroke-opacity=".8"/>
<path d="M220.4 522.1L208.7 525.7L205.6 521L206.8 517.4L209.8 516.5L210.7 512.3L215.2 511.5L216.7 508.3L220.8 507.4L224.9 510.7Z" fill="url(#pg4)" stroke="#f2ead8" stroke-width=".5" stroke-opacity=".8"/>
<path d="M219.1 527.9L207 531.4L202 525.9L203.4 522.9L205.4 521.1L204.8 516.3L209.9 515.8L209.6 511.4L215 511.5L220.7 515.5Z" fill="url(#pg5)" stroke="#f2ead8" stroke-width=".5" stroke-opacity=".8"/>
<path d="M225.9 511.5L218.6 513.6L216.8 510.6L217.8 508.5L219.6 507.9L220.3 505.4L223.1 504.9L223.8 502.6L226.8 502.5L229.2 504.6Z" fill="url(#pg5)" stroke="#f2ead8" stroke-width=".5" stroke-opacity=".8"/>
<path d="M246.4 501.7L237.5 502.1L234.2 497.3L234.9 494.7L237 494.4L235.8 489.5L240.6 491.3L240.8 488.2L244.6 489.1L248.4 493Z" fill="url(#pg4)" stroke="#f2ead8" stroke-width=".5" stroke-opacity=".8"/>
<path d="M247.9 498.8L239.2 495.2L239.3 490.4L241.7 488.7L243.9 489.5L246.2 486L249.4 488.9L251.6 486.4L254.7 489.1L255.7 493.5Z" fill="url(#pg3)" stroke="#f2ead8" stroke-width=".5" stroke-opacity=".8"/>
<path d="M253.9 499.1L242.2 494.4L242.5 488.1L245.6 485.6L248.7 487L251.8 483L256 486.2L259.3 484.9L263.1 486.5L264.5 492.2Z" fill="url(#pg3)" stroke="#f2ead8" stroke-width=".5" stroke-opacity=".8"/>
<path d="M261.6 494.5L254.8 487.8L256.8 483.1L259.6 482.2L261.3 483.9L264.5 482.2L266.6 485.3L269.5 484.1L271.4 487.4L270.7 492.1Z" fill="url(#pg5)" stroke="#f2ead8" stroke-width=".5" stroke-opacity=".8"/>
<path d="M270.6 497.2L262.5 489.9L264.6 484.9L268 483.7L270 485.9L273.5 484.6L276.3 487.6L279.7 485.9L282 489.9L281.4 494.9Z" fill="url(#pg3)" stroke="#f2ead8" stroke-width=".5" stroke-opacity=".8"/>
<path d="M291 507.6L283.9 495.6L288.1 491.7L292.2 492.7L294.2 495.7L300 494.7L301 500.9L304.4 502.8L307 506.5L304.5 511.2Z" fill="url(#pg3)" stroke="#f2ead8" stroke-width=".5" stroke-opacity=".8"/>
<path d="M289.9 505.6L285.1 494.3L289.7 489.2L293.9 488.7L294.8 492.1L300.1 490.2L300.5 496.1L303.5 497.3L305.3 500.7L302.1 506.4Z" fill="url(#pg3)" stroke="#f2ead8" stroke-width=".5" stroke-opacity=".8"/>
<path d="M307 516.1L306.2 509.3L309.2 507.8L311.3 508.6L311.4 510.4L313.9 510.9L313.7 513.6L315 515L315.4 517.1L313 519.2Z" fill="url(#pg4)" stroke="#f2ead8" stroke-width=".5" stroke-opacity=".8"/>
<path d="M312.6 524.1L311.9 514.6L316.4 512.4L319.2 513.5L319.4 516L323.2 516.5L322.4 520.5L325.7 521.3L324.7 525.3L321.1 528.4Z" fill="url(#pg4)" stroke="#f2ead8" stroke-width=".5" stroke-opacity=".8"/>
<path d="M224.2 570.3L225.5 585.6L217.6 591.1L213.4 589.7L212.4 586.3L204.7 587.8L207.1 580L203.7 578L203.1 573.1L209.3 566.7Z" fill="url(#pg3)" stroke="#f2ead8" stroke-width=".5" stroke-opacity=".8"/>
<path d="M219 569.7L219.7 588.6L211.2 591.6L207.4 587.8L206 583.6L198.5 581.6L200.8 573.7L195.6 570.6L196.9 563.6L203.6 558.6Z" fill="url(#pg4)" stroke="#f2ead8" stroke-width=".5" stroke-opacity=".8"/>
<path d="M215.1 551.1L206.1 562.1L198.7 560L195.9 555.9L199 553.2L194.1 548.6L200.2 545.2L197.8 541.1L202.5 537.7L209.8 537.9Z" fill="url(#pg3)" stroke="#f2ead8" stroke-width=".5" stroke-opacity=".8"/>
<path d="M220.2 546.5L207.5 552.2L199.5 547.2L199.7 543.7L201.5 541.5L199.1 536.6L204.6 535.2L204.1 531.3L208.9 529.8L217.1 533.1Z" fill="url(#pg4)" stroke="#f2ead8" stroke-width=".5" stroke-opacity=".8"/>
<path d="M233.6 523.8L217.7 526.8L210.8 519.1L209.6 512.7L215.1 513.1L214.8 507.4L220.9 506.8L222.5 503.1L227.5 501.9L235.2 507.8Z" fill="url(#pg1)" stroke="#f2ead8" stroke-width=".5" stroke-opacity=".8"/>
<path d="M243.4 513.5L230.5 515.5L227.3 509.7L228.2 505.1L232.1 505.4L233.1 500.8L238.1 500.9L239.3 496.8L244.5 497.3L248.8 501.7Z" fill="url(#pg0)" stroke="#f2ead8" stroke-width=".5" stroke-opacity=".8"/>
<path d="M246.5 508.8L233.2 502L233.9 494.2L237.8 492.9L241.2 493.2L245.1 488.5L249.8 492.9L253.6 490.9L258.1 493.8L259.3 501Z" fill="url(#pg4)" stroke="#f2ead8" stroke-width=".5" stroke-opacity=".8"/>
<path d="M270.2 512.4L253.4 507.8L251.5 497.9L254.4 492.5L259.1 494.6L261.5 487L268.3 491.7L272.2 489.2L277.6 490.4L281.4 499Z" fill="url(#pg0)" stroke="#f2ead8" stroke-width=".5" stroke-opacity=".8"/>
<path d="M279.4 510.7L272 496L277.8 487.7L282.2 488.1L284.8 490.5L290.8 488.3L292.7 494.8L297.7 494L299.4 500.2L295.8 508.9Z" fill="url(#pg4)" stroke="#f2ead8" stroke-width=".5" stroke-opacity=".8"/>
<path d="M290.6 515.3L284 498.2L291.2 490.8L297.3 490.6L298.7 495.4L305.2 494.9L306.9 501.7L311.8 502.9L313.8 508.8L308.8 517.1Z" fill="url(#pg3)" stroke="#f2ead8" stroke-width=".5" stroke-opacity=".8"/>
<path d="M301.4 525.6L304.3 508.6L313.8 505.9L318.2 508.8L317.7 513.1L325.4 514.7L321.4 521.9L324 525.6L323.6 530.9L315.5 535.4Z" fill="url(#pg2)" stroke="#f2ead8" stroke-width=".5" stroke-opacity=".8"/>
<path d="M309.2 537L309.9 521.8L318.1 518L324 518.9L322.5 523.7L328.6 524.6L326.8 530.9L332.2 532L329.8 538.4L323 543.5Z" fill="url(#pg0)" stroke="#f2ead8" stroke-width=".5" stroke-opacity=".8"/>
<path d="M306.8 550.5L310.6 532.2L321.1 529.7L324.7 533.4L325 537.7L331 540.7L328.7 547.4L333.3 550.7L330.6 557.3L321.6 561.8Z" fill="url(#pg2)" stroke="#f2ead8" stroke-width=".5" stroke-opacity=".8"/>
<path d="M306.2 570L320.5 561L330.2 565.9L332.3 571L328.4 573.3L334.2 580L325.2 581.7L324.7 585.8L320.6 589.1L310.7 586.3Z" fill="url(#pg4)" stroke="#f2ead8" stroke-width=".5" stroke-opacity=".8"/>
<path d="M305.5 578.1L316.7 564.3L324.2 567.5L326.5 573.1L322.6 576.4L325.1 582.2L320 586.7L319.9 591.7L316.4 596.3L308.8 595.5Z" fill="url(#pg0)" stroke="#f2ead8" stroke-width=".5" stroke-opacity=".8"/>
<path d="M304.6 584.5L320.5 584.3L324.2 592.4L321.7 596L318.2 597.1L317.4 603.8L310.5 601.8L308.2 605.8L302.5 605.2L297.4 598.7Z" fill="url(#pg0)" stroke="#f2ead8" stroke-width=".5" stroke-opacity=".8"/>
<path d="M286.8 598.2L305.6 600.6L306.4 608.4L302.2 613.2L297.1 611.7L293.1 617.5L286 614.8L281.6 618.8L275 616.6L271.9 609.9Z" fill="url(#pg1)" stroke="#f2ead8" stroke-width=".5" stroke-opacity=".8"/>
<path d="M280.6 596.5L296.7 604.7L296.6 615.4L292.3 617.6L288.3 617.2L284.5 624.7L278.5 618.3L274.4 622.8L268.8 617.8L266.7 608Z" fill="url(#pg0)" stroke="#f2ead8" stroke-width=".5" stroke-opacity=".8"/>
<path d="M262.4 603.5L273.2 612.9L271.1 621.2L267.1 624.4L264.4 621L260.2 624.4L256.6 620L252.7 622L249.3 617.8L249.5 609.8Z" fill="url(#pg0)" stroke="#f2ead8" stroke-width=".5" stroke-opacity=".8"/>
<path d="M252 599.3L258.5 613.6L252.7 621.4L247 623.7L246.1 618.6L239.2 622.8L238.9 614.4L235 613.6L232.7 609.1L236.4 600.8Z" fill="url(#pg0)" stroke="#f2ead8" stroke-width=".5" stroke-opacity=".8"/>
<path d="M232.4 585.7L234.5 599.3L227.7 605.2L223.9 604.5L222.7 601.7L217.6 602.3L217.5 596.8L214.5 595.3L213.5 591.2L218.7 584.5Z" fill="url(#pg1)" stroke="#f2ead8" stroke-width=".5" stroke-opacity=".8"/>
<path d="M283 591.2L296.9 588.3L303.5 595L302.7 598.7L300.1 600.3L300.5 605.2L295.4 605.9L295.6 610.4L289.8 610.4L282.6 605.4Z" fill="url(#pg1)" stroke="#f2ead8" stroke-width=".5" stroke-opacity=".8"/>
<path d="M272.6 592.1L284.9 604.2L282 614.3L277.6 615L274 613.9L268.4 620.8L264.8 612.3L260.5 612.4L256.3 609.3L257 599.4Z" fill="url(#pg0)" stroke="#f2ead8" stroke-width=".5" stroke-opacity=".8"/>
<path d="M263.3 588.3L278 602.8L274 613.5L268.3 614.7L264.2 612.1L257.3 617.1L252.8 609.4L246.6 612.4L242.3 605.2L243.6 594.5Z" fill="url(#pg0)" stroke="#f2ead8" stroke-width=".5" stroke-opacity=".8"/>
<path d="M239.4 587.5L245 602.2L239.1 607.3L233.6 607.3L232.8 602.7L227.7 602L225.9 596.7L221.5 595.4L220 590.1L224.1 584Z" fill="url(#pg3)" stroke="#f2ead8" stroke-width=".5" stroke-opacity=".8"/>
<path d="M236.9 579.7L235.4 593.8L226.7 598.8L221.2 598.6L222.6 594.3L214.8 595.5L218.5 588.4L213.2 588.1L215.9 581.9L223.1 576Z" fill="url(#pg1)" stroke="#f2ead8" stroke-width=".5" stroke-opacity=".8"/>
<path d="M232.8 566.2L225.8 583.6L215.1 584.2L209.9 580.3L212.6 575.6L206.7 571.6L210.8 565.3L205.8 561.3L210.6 555.1L220.2 552.3Z" fill="url(#pg3)" stroke="#f2ead8" stroke-width=".5" stroke-opacity=".8"/>
<path d="M224.7 553.9L216.4 564.5L208.7 562.9L206 559.3L208.6 556.5L203.1 552.5L209.2 549.1L208.2 545.6L211 542.1L218.4 542Z" fill="url(#pg3)" stroke="#f2ead8" stroke-width=".5" stroke-opacity=".8"/>
<path d="M228.5 543.7L217.3 553.4L208.9 550.2L206.5 545.8L209.9 543.4L206 538.4L211.9 535.6L211.9 531.8L215.2 528.5L223.5 529.8Z" fill="url(#pg0)" stroke="#f2ead8" stroke-width=".5" stroke-opacity=".8"/>
<path d="M237.7 523.8L224.2 527L221 521.4L222.3 517.1L226.1 516.6L227.6 512.3L232.5 511.4L233.8 507.1L239.2 507.2L243.6 511.3Z" fill="url(#pg3)" stroke="#f2ead8" stroke-width=".5" stroke-opacity=".8"/>
<path d="M250.8 518.7L239.6 513.4L239.2 505.9L241.7 501.9L244.8 504.3L247.1 498.9L251.5 503.3L254 499.2L258.1 503.4L259.9 510.2Z" fill="url(#pg1)" stroke="#f2ead8" stroke-width=".5" stroke-opacity=".8"/>
<path d="M263.6 516.9L250.2 505.1L253.7 497.9L259.1 496.7L262.6 499.8L269.1 495.6L272.9 502.9L277.9 503.3L282.3 507L281.3 514.4Z" fill="url(#pg1)" stroke="#f2ead8" stroke-width=".5" stroke-opacity=".8"/>
<path d="M280 521.3L267.6 511.3L270.1 503.3L274.9 500.6L278 503.9L283.2 498.9L287 505.5L291.5 504.1L295.5 508.3L295.1 516.1Z" fill="url(#pg0)" stroke="#f2ead8" stroke-width=".5" stroke-opacity=".8"/>
<path d="M282.1 527L277 508.1L285.6 500.2L292.4 499.7L293.1 505.4L302.4 502.3L301.2 512.4L308.6 511.4L307.8 520.5L301.5 529.4Z" fill="url(#pg1)" stroke="#f2ead8" stroke-width=".5" stroke-opacity=".8"/>
<path d="M297 534.7L292.5 515.2L300.1 511.4L306.5 513.5L306.8 519.2L313.3 521.5L314 528.9L318.1 532.8L319.9 539L314.3 544.7Z" fill="url(#pg3)" stroke="#f2ead8" stroke-width=".5" stroke-opacity=".8"/>
<path d="M302.4 544.9L309.4 532.4L319.6 530.9L322.2 533.5L321.8 536.4L328.4 538.2L323.4 543.1L326.4 545.7L323.5 549.9L314.2 552.9Z" fill="url(#pg0)" stroke="#f2ead8" stroke-width=".5" stroke-opacity=".8"/>
<path d="M304.5 555.6L312.3 543.1L321 543.9L324.4 547.6L321.9 550.8L327.8 554.6L322 559L323.1 562.7L320.9 566.9L312.8 567.9Z" fill="url(#pg3)" stroke="#f2ead8" stroke-width=".5" stroke-opacity=".8"/>
<path d="M300 574.8L311.8 566.6L320.1 570.4L320.5 574.3L318.7 576.9L323.7 582.4L316.1 584.1L318.1 588.5L312.4 590.6L304.2 588.5Z" fill="url(#pg4)" stroke="#f2ead8" stroke-width=".5" stroke-opacity=".8"/>
<path d="M293.8 584.4L305.2 584.6L308.7 590.8L306.9 593.1L304.8 594.3L304 598.3L299.7 597.8L298.9 601.5L294.3 600.3L290 595.2Z" fill="url(#pg2)" stroke="#f2ead8" stroke-width=".5" stroke-opacity=".8"/>
<path d="M289 574.2L299.5 569.8L305.2 574.1L305.6 577.6L303 578.9L304.5 583.2L299.8 584.1L299.6 587.3L295.8 588.6L289.8 585.6Z" fill="url(#pg0)" stroke="#f2ead8" stroke-width=".5" stroke-opacity=".8"/>
<path d="M281.3 579.4L299.1 582.9L301.9 593.2L299.1 598.7L294.3 597.2L291.5 603L285 600.9L281.7 605.1L275.5 603L270.8 594.2Z" fill="url(#pg2)" stroke="#f2ead8" stroke-width=".5" stroke-opacity=".8"/>
<path d="M272.4 581.4L284.9 590.1L284.7 600.5L281.4 603.5L278.2 601.9L275 607.6L270.5 602.5L267.2 605.8L263 601.5L261.4 592Z" fill="url(#pg1)" stroke="#f2ead8" stroke-width=".5" stroke-opacity=".8"/>
<path d="M255.6 580.1L266.3 598.7L259.3 608.9L253.3 608.8L249.9 605.2L242.3 607.6L239.3 599.7L234 598.2L230.1 592.9L234.3 582Z" fill="url(#pg1)" stroke="#f2ead8" stroke-width=".5" stroke-opacity=".8"/>
<path d="M245.8 578.9L247 593L239.7 598.2L235.4 597.4L235 593.8L227.9 595.3L230 588.1L226.1 587L226.3 581.8L232 575.8Z" fill="url(#pg1)" stroke="#f2ead8" stroke-width=".5" stroke-opacity=".8"/>
<path d="M241.7 565L241.6 583.2L231.8 588.7L226.7 586.8L226.2 582.5L216.8 583.5L220.6 574.5L214.7 573.2L216.6 565.9L224.5 559Z" fill="url(#pg0)" stroke="#f2ead8" stroke-width=".5" stroke-opacity=".8"/>
<path d="M235 559.7L224.9 574.6L215 572.8L214 568.2L214.6 564.2L207.9 559.1L215.1 554L214.1 549.4L217.1 544.4L226.5 543.8Z" fill="url(#pg2)" stroke="#f2ead8" stroke-width=".5" stroke-opacity=".8"/>
<path d="M235.2 541.2L223.2 553.7L215.8 550.1L213.2 544.4L217.7 541.5L215.2 535.7L220.8 531.7L219 526.2L224.9 522.7L232.6 524Z" fill="url(#pg0)" stroke="#f2ead8" stroke-width=".5" stroke-opacity=".8"/>
<path d="M248.2 533.2L227.8 538.4L221.7 529.6L222.7 522.4L228.8 521.9L229.8 514.5L237.8 513.6L241.4 509.2L247.6 506.8L255.3 513.3Z" fill="url(#pg4)" stroke="#f2ead8" stroke-width=".5" stroke-opacity=".8"/>
<path d="M249.9 528.9L231.5 525.9L229.1 516L232.4 511.4L237.1 512L239.8 505.2L247 508.1L250.5 504L256.9 505.9L261.4 514.3Z" fill="url(#pg1)" stroke="#f2ead8" stroke-width=".5" stroke-opacity=".8"/>
<path d="M267.2 524.6L257.5 514.4L260.1 506.3L263.8 505.7L266.7 507L271.2 503L274.2 508.6L277.9 507.9L281.1 511.3L280.2 519.2Z" fill="url(#pg0)" stroke="#f2ead8" stroke-width=".5" stroke-opacity=".8"/>
<path d="M275.1 527.7L268.2 516.1L272.3 508.4L275.8 508.5L278.2 510L282.5 508.4L284.8 512.7L288.7 511.8L290.6 516.5L288.2 524.3Z" fill="url(#pg2)" stroke="#f2ead8" stroke-width=".5" stroke-opacity=".8"/>
<path d="M287.2 537.2L292.9 521.3L303.8 518.7L306.4 522.1L307 525.5L312.9 527.8L309.8 533.8L315.4 536.1L310.9 542.2L301.3 546.4Z" fill="url(#pg1)" stroke="#f2ead8" stroke-width=".5" stroke-opacity=".8"/>
<path d="M293.1 550.5L296.2 533.7L307.2 528.3L310.7 530.6L311.8 533.8L319.7 533.5L316.1 540.9L320.3 542.9L318.7 548.7L309.4 555.4Z" fill="url(#pg3)" stroke="#f2ead8" stroke-width=".5" stroke-opacity=".8"/>
<path d="M294.7 562L303.9 547L313 548.6L314 553.2L313.5 557.2L318.4 562.1L313.1 567.2L315 571.9L311.4 576.8L302.7 577.6Z" fill="url(#pg0)" stroke="#f2ead8" stroke-width=".5" stroke-opacity=".8"/>
<path d="M285.6 555.2L297.7 545.3L306.8 548.8L307.1 552.8L305.7 555.9L308.9 560.8L303.6 563.9L306 568.5L300.1 571.3L291.1 569.8Z" fill="url(#pg3)" stroke="#f2ead8" stroke-width=".5" stroke-opacity=".8"/>
<path d="M278.8 570.5L297.3 565L305.1 573.3L303.1 578L300.1 580.9L300.7 588L293.2 589L294.3 596.3L285.3 595.6L276.5 589.6Z" fill="url(#pg4)" stroke="#f2ead8" stroke-width=".5" stroke-opacity=".8"/>
<path d="M270.8 575L291.6 575.6L294 584.9L290 589.8L284.7 589.9L282.2 598.7L273.3 594.9L268.7 598.3L261.9 598.4L257.1 590.7Z" fill="url(#pg0)" stroke="#f2ead8" stroke-width=".5" stroke-opacity=".8"/>
<path d="M265.8 574.2L279 588.4L275 598.7L269 602.1L265.9 597.4L259 603.5L255.4 594.6L250 596L245.9 590.4L247.4 580.1Z" fill="url(#pg1)" stroke="#f2ead8" stroke-width=".5" stroke-opacity=".8"/>
<path d="M251.6 570L256.6 587.9L248.8 593.9L243.7 592.1L241.8 588.1L234.6 588.3L234.2 580.6L229.6 578.4L228 572.4L233.7 565.1Z" fill="url(#pg3)" stroke="#f2ead8" stroke-width=".5" stroke-opacity=".8"/>
<path d="M246.6 567L248.6 586.9L240.5 589.7L236.5 585.6L234.9 581L226.8 579L229 570.4L223.9 566.9L224.5 559.7L230.8 554.7Z" fill="url(#pg1)" stroke="#f2ead8" stroke-width=".5" stroke-opacity=".8"/>
<path d="M242.6 552.9L229.7 563.2L223 558.8L221.6 553.2L225.9 551L222.7 544.4L230.1 542.1L230.3 537.3L235.1 534.1L242.2 536.3Z" fill="url(#pg1)" stroke="#f2ead8" stroke-width=".5" stroke-opacity=".8"/>
<path d="M248.7 541.7L231.9 548.7L225 541.9L226.8 537.3L229.7 534.3L229.9 528.2L236.1 526L235.6 519.6L243.3 518.9L251.2 523.6Z" fill="url(#pg3)" stroke="#f2ead8" stroke-width=".5" stroke-opacity=".8"/>
<path d="M252.8 537.8L234.7 531.4L234.3 521.4L238.8 517.6L243.4 518.9L247.4 511.5L254.3 517.1L258.9 514.1L265 516.8L267.7 525.8Z" fill="url(#pg1)" stroke="#f2ead8" stroke-width=".5" stroke-opacity=".8"/>
<path d="M265.9 532.8L253.1 520.9L256.7 513.1L262.2 511L265.3 514.9L271.3 511.7L275.2 517.8L280 518L284.3 521.7L283.1 529.6Z" fill="url(#pg0)" stroke="#f2ead8" stroke-width=".5" stroke-opacity=".8"/>
<path d="M273.3 537.6L267.4 515.9L277.2 507.5L284.9 507.6L285.8 514L294 513.8L295.1 522.5L303 522.4L302.6 532.1L295.5 541.8Z" fill="url(#pg1)" stroke="#f2ead8" stroke-width=".5" stroke-opacity=".8"/>
<path d="M288.7 544.8L295.1 535.1L301.6 536.1L304.7 539.1L302 541.6L304.6 544.8L301.8 548.2L303.5 551.2L300.7 554.4L294.5 554.9Z" fill="url(#pg0)" stroke="#f2ead8" stroke-width=".5" stroke-opacity=".8"/>
<path d="M279.5 557.5L282.7 541.3L290.9 540.1L293.1 544L293.9 547.7L300.5 550.4L296.7 556.9L300.4 560.3L298.1 566L291 569.2Z" fill="url(#pg0)" stroke="#f2ead8" stroke-width=".5" stroke-opacity=".8"/>
<path d="M275.1 562.5L295.5 555.8L301.7 564.2L299.8 570.5L294.7 572.4L295.1 581.1L285.8 581.3L282.5 586.2L276.1 588.7L268.4 582.9Z" fill="url(#pg3)" stroke="#f2ead8" stroke-width=".5" stroke-opacity=".8"/>
<path d="M264.5 570.3L283.1 572.9L284.1 581.2L279.9 585.2L275.1 584.6L271.4 590.8L264.3 587.8L259.9 591.1L253.7 589.7L250.3 582.6Z" fill="url(#pg2)" stroke="#f2ead8" stroke-width=".5" stroke-opacity=".8"/>
<path d="M256.8 565.5L263.4 581.2L257 587.6L251.8 587.1L250 583.2L243.3 584.5L242.2 577.4L238.1 575.6L235.7 570.7L240 563.3Z" fill="url(#pg2)" stroke="#f2ead8" stroke-width=".5" stroke-opacity=".8"/>
<path d="M255.7 560.1L250.1 576.5L239.2 578.7L233.7 576L236 571.5L229.6 568.9L233.3 562.6L229.8 559.3L232.2 553.7L241.7 549.7Z" fill="url(#pg4)" stroke="#f2ead8" stroke-width=".5" stroke-opacity=".8"/>
<path d="M253.3 550.9L241.1 562.8L232 559.4L231.2 554.8L233 551.4L230.4 546.1L235.3 542.1L233.8 537.3L238.8 533.6L247.9 534.8Z" fill="url(#pg1)" stroke="#f2ead8" stroke-width=".5" stroke-opacity=".8"/>
<path d="M262.1 544.9L240.1 547.8L234.5 537.7L236.4 530.3L242.7 530.4L244.7 523L253 522.8L256.2 517.4L263.8 516.9L271.3 524.7Z" fill="url(#pg3)" stroke="#f2ead8" stroke-width=".5" stroke-opacity=".8"/>
<path d="M267.4 541.2L258.2 528.8L262.1 520.2L266.9 517.9L269.1 521.7L274.7 517.4L277 524.4L280.8 524.9L284.1 528.2L282.2 536.9Z" fill="url(#pg4)" stroke="#f2ead8" stroke-width=".5" stroke-opacity=".8"/>
<path d="M275.3 547.2L273.7 530.5L282.1 524.9L285.8 527.1L287.8 530.2L295.4 529.4L293.6 537.2L297.7 539.1L298 544.8L291.4 551.6Z" fill="url(#pg1)" stroke="#f2ead8" stroke-width=".5" stroke-opacity=".8"/>
<path d="M257.9 558.6L251.4 570.6L243.7 570.1L240.2 566.7L242.7 563.6L239.5 560.1L242.3 555.9L239.3 552.5L243.1 548.5L250.2 547.3Z" fill="url(#pg2)" stroke="#f2ead8" stroke-width=".5" stroke-opacity=".8"/>
<path d="M261.9 554.5L240.3 558.1L233.9 548.1L236.5 542.3L241.4 540.5L242.4 532.6L251 532.5L253.7 526.9L261.3 526.3L269.4 533.9Z" fill="url(#pg3)" stroke="#f2ead8" stroke-width=".5" stroke-opacity=".8"/>
<path d="M269.5 551.1L256.4 542.9L256.5 532.9L260 531.4L263.2 531.4L266.5 525.1L271.3 530.7L274.6 526.7L279.1 531.5L280.8 540.7Z" fill="url(#pg1)" stroke="#f2ead8" stroke-width=".5" stroke-opacity=".8"/>
<path d="M272.6 552.8L273 535.5L280.5 533.8L283.2 537.8L284.5 541.7L291.5 544.1L288.5 551.4L290.9 555.6L291.3 561.1L285.2 564.8Z" fill="url(#pg1)" stroke="#f2ead8" stroke-width=".5" stroke-opacity=".8"/>
<path d="M270.2 558L286.9 549.2L293.5 555.6L293.8 562L288.7 563.7L289.6 570.7L282.3 572.8L282.5 579.1L275.1 580.7L267.4 576.7Z" fill="url(#pg1)" stroke="#f2ead8" stroke-width=".5" stroke-opacity=".8"/>
<path d="M262.5 559.6L277.7 567.6L277.8 578.1L273.8 580.4L270 579.9L266.5 587.4L260.7 581L256.9 584.6L251.7 580.5L249.6 571Z" fill="url(#pg2)" stroke="#f2ead8" stroke-width=".5" stroke-opacity=".8"/>
<path d="M268.4 558.6L255 572.9L245.8 569.1L242.7 562.9L247.4 559.5L243.3 552.9L250.3 548.5L248.9 542.8L254.5 538.3L263.8 539.5Z" fill="url(#pg3)" stroke="#f2ead8" stroke-width=".5" stroke-opacity=".8"/>
<path d="M269 558.2L250.9 557.9L245.8 548.1L248.1 543.5L252.1 542.7L253.8 536.9L260.3 537.2L261.4 530.8L269 533.4L275.6 541.3Z" fill="url(#pg1)" stroke="#f2ead8" stroke-width=".5" stroke-opacity=".8"/>
<path d="M264.7 557.6L259.8 540.4L267.1 535.1L272.3 536.6L273.8 540.8L281.4 540.3L281 548.3L285.1 550.9L287 556.3L281.7 562.9Z" fill="url(#pg4)" stroke="#f2ead8" stroke-width=".5" stroke-opacity=".8"/>
<path d="M262.2 554.6L274.6 548.3L283.2 552.7L283.7 556.3L281.8 558.5L285.1 563.3L279.2 564.9L279.2 568.2L275.4 570.4L266.7 567.7Z" fill="url(#pg0)" stroke="#f2ead8" stroke-width=".5" stroke-opacity=".8"/>
<path d="M263.8 551.8L272.7 562.7L269.9 571.7L266.4 572.1L263.7 571.2L259.6 574L256.6 569.7L253.2 569.8L250.1 566.8L251.2 558.1Z" fill="url(#pg1)" stroke="#f2ead8" stroke-width=".5" stroke-opacity=".8"/>
<circle cx="265" cy="555" r="69" fill="url(#pshade)"/>
<path d="M299.8 539.9L277.8 574.9" stroke="#b08a60" stroke-width="1" opacity=".9"/>
<path d="M244.8 556.1L274.6 561.7" stroke="#9aa094" stroke-width="1.8" opacity=".9"/>
<path d="M259.9 562.2L300.6 571.3" stroke="#9aa094" stroke-width="0.8" opacity=".9"/>
<path d="M267 530.1L223.5 550.1" stroke="#b08a60" stroke-width="1.8" opacity=".9"/>
<path d="M270.2 550.6L229.6 564.5" stroke="#6e5844" stroke-width="0.6" opacity=".9"/>
<path d="M243.6 537.1L275.5 573.8" stroke="#9aa094" stroke-width="0.6" opacity=".9"/>
<path d="M297.6 568.9L253.6 582.6" stroke="#e8b27e" stroke-width="0.8" opacity=".9"/>
<path d="M271.1 547.9L250.2 580" stroke="#f0a868" stroke-width="1.3" opacity=".9"/>
<path d="M277.2 554.2L255.1 577.3" stroke="#9aa094" stroke-width="1.3" opacity=".9"/>
<path d="M273.8 538.5L243.2 582.9" stroke="#c9c4b0" stroke-width="0.8" opacity=".9"/>
<path d="M277.8 541.3L296.9 573.5" stroke="#b08a60" stroke-width="1" opacity=".9"/>
<path d="M272.1 522L286.1 573.5" stroke="#9aa094" stroke-width="0.6" opacity=".9"/>
<path d="M270 520.2L261 554" stroke="#b08a60" stroke-width="1.8" opacity=".9"/>
<path d="M256.4 529.5L243.9 561" stroke="#b08a60" stroke-width="1.3" opacity=".9"/>
<path d="M261.3 551.4L260.5 575.7" stroke="#e8b27e" stroke-width="1.3" opacity=".9"/>
<path d="M239.6 543.8L287.4 569.3" stroke="#e9a366" stroke-width="0.6" opacity=".9"/>
<path d="M266.6 513.9L236.6 558.5" stroke="#7a5c40" stroke-width="0.6" opacity=".9"/>
<path d="M258.2 528.6L249.5 557.7" stroke="#9aa094" stroke-width="0.8" opacity=".9"/>
<path d="M279.6 565.6L238 567.4" stroke="#e8b27e" stroke-width="1.3" opacity=".9"/>
<path d="M285.3 540.6L244.5 569.5" stroke="#9aa094" stroke-width="1" opacity=".9"/>
<path d="M251.8 537L257.3 575.8" stroke="#c9c4b0" stroke-width="0.8" opacity=".9"/>
<path d="M268.8 537.5L284.9 575.3" stroke="#e8b27e" stroke-width="0.6" opacity=".9"/>
<path d="M269 538L262.1 574.7" stroke="#c9c4b0" stroke-width="0.6" opacity=".9"/>
<path d="M247.2 524.8L258.1 577.8" stroke="#f3dcb8" stroke-width="1.3" opacity=".9"/>
<path d="M296.2 532L273.8 559.1" stroke="#e9a366" stroke-width="0.8" opacity=".9"/>
<path d="M257.3 533.9L289.6 539.4" stroke="#6e5844" stroke-width="0.6" opacity=".9"/>
<path d="M276.5 544L252.7 566" stroke="#f0a868" stroke-width="0.6" opacity=".9"/>
<path d="M225.8 534.1L280.8 534.6" stroke="#e9a366" stroke-width="0.6" opacity=".9"/>
<path d="M273.2 542.1L232.4 555.4" stroke="#f0a868" stroke-width="1" opacity=".9"/>
<path d="M276.7 534.2L261.8 577.6" stroke="#f3dcb8" stroke-width="1.8" opacity=".9"/>
<path d="M285.4 548.1L254.1 555.9" stroke="#7a5c40" stroke-width="1" opacity=".9"/>
<path d="M264.3 561.6L232.4 583.1" stroke="#e9a366" stroke-width="1" opacity=".9"/>
<path d="M299.5 544.4L249 560.5" stroke="#7a5c40" stroke-width="1.8" opacity=".9"/>
<path d="M263.6 541.5L250.5 576.7" stroke="#7a5c40" stroke-width="1.8" opacity=".9"/>
<path d="M288 548.8L263.1 575.6" stroke="#b08a60" stroke-width="1" opacity=".9"/>
<path d="M273.3 534.4L234.2 535.2" stroke="#9aa094" stroke-width="1.8" opacity=".9"/>
<path d="M288.1 547.2L263.8 556.3" stroke="#c9c4b0" stroke-width="0.8" opacity=".9"/>
<path d="M272.7 544.9L241.1 557.4" stroke="#b08a60" stroke-width="1.3" opacity=".9"/>
<path d="M243.4 543.9L286.4 569.9" stroke="#e8b27e" stroke-width="1.3" opacity=".9"/>
<path d="M295.5 546.9L264.8 565.6" stroke="#f3dcb8" stroke-width="1.3" opacity=".9"/>
<path d="M290.8 542.7L244.7 566" stroke="#c9c4b0" stroke-width="1.8" opacity=".9"/>
<path d="M292.5 554.3L272.3 583.9" stroke="#f3dcb8" stroke-width="0.8" opacity=".9"/>
<path d="M225.3 541.5L263.9 564" stroke="#e8b27e" stroke-width="1.8" opacity=".9"/>
<path d="M246.1 541.2L281.8 577.3" stroke="#9aa094" stroke-width="1.3" opacity=".9"/>
<path d="M271.6 555.3L237.4 586.8" stroke="#b08a60" stroke-width="1.8" opacity=".9"/>
<path d="M282 537.7L247.2 569.9" stroke="#f0a868" stroke-width="1.3" opacity=".9"/>
<path d="M244.7 542.6L283.1 564.2" stroke="#e8b27e" stroke-width="0.6" opacity=".9"/>
<path d="M259.9 548.7L258.6 574.4" stroke="#6e5844" stroke-width="1.3" opacity=".9"/>
<path d="M232.8 551.5L273 567.5" stroke="#e8b27e" stroke-width="0.8" opacity=".9"/>
<path d="M275.7 559.5L254 576.6" stroke="#f3dcb8" stroke-width="1" opacity=".9"/>
<path d="M268 535.3L253.6 587.4" stroke="#7a5c40" stroke-width="0.6" opacity=".9"/>
<path d="M254.5 548.5L275.1 561.9" stroke="#f3dcb8" stroke-width="1" opacity=".9"/>
<path d="M288 557.8L265.1 593" stroke="#f3dcb8" stroke-width="0.8" opacity=".9"/>
<path d="M226.9 537.1L259.3 560.3" stroke="#6e5844" stroke-width="1" opacity=".9"/>
<path d="M233.8 548.2L268.5 561.2" stroke="#7a5c40" stroke-width="0.8" opacity=".9"/>
<circle cx="233.3" cy="513.2" r="6.5" fill="url(#by)"/>
<circle cx="203.1" cy="538" r="5.5" fill="url(#by)"/>
<circle cx="262.7" cy="566" r="6.5" fill="url(#by)"/>
<circle cx="272.2" cy="479.5" r="4" fill="url(#bg)"/>
<circle cx="382.4" cy="563" r="63.9" fill="#d6a272"/>
<path d="M373.7 506.4L362.5 501.8L363.4 496.9L366.8 494.8L369.7 496.5L373.2 494.2L377.2 496.6L380.6 494.3L384.3 497.3L385 501.9Z" fill="url(#pg3)" stroke="#f2ead8" stroke-width=".5" stroke-opacity=".8"/>
<path d="M370.5 506.6L359.2 503.1L358.8 497L361.4 493.9L364.5 495.3L367.1 491.5L371.3 494L374.2 492.2L378 493.6L379.8 499.1Z" fill="url(#pg3)" stroke="#f2ead8" stroke-width=".5" stroke-opacity=".8"/>
<path d="M395.2 509.2L388.7 500.2L391.8 495.1L394.8 495.5L397 496.8L401.2 494.6L402.8 499.4L406.3 498.7L408 502.7L406.3 508Z" fill="url(#pg4)" stroke="#f2ead8" stroke-width=".5" stroke-opacity=".8"/>
<path d="M393.4 507.8L384.3 503.3L384.2 497.2L386.4 494.3L388.9 496.1L390.9 491.5L394.4 495.4L396.6 492.1L399.9 495.6L401.2 501.1Z" fill="url(#pg4)" stroke="#f2ead8" stroke-width=".5" stroke-opacity=".8"/>
<path d="M412.8 515.7L409.1 505.1L413.7 500.9L417.4 501L418.2 504L422.4 503.6L423.1 508.1L425.9 509.2L427.1 512.7L423.9 517.6Z" fill="url(#pg3)" stroke="#f2ead8" stroke-width=".5" stroke-opacity=".8"/>
<path d="M421 516.7L416 506.4L420 502.4L423.7 502.6L424.9 505.5L429 505.3L430.3 509.5L433.9 509.8L434.9 514L432.3 518.7Z" fill="url(#pg4)" stroke="#f2ead8" stroke-width=".5" stroke-opacity=".8"/>
<path d="M427.5 526.9L423.4 515.6L427.9 512.3L431.8 512.9L432.6 516.2L437.6 515.8L437.7 521.2L441.6 521.7L442 526.5L438.9 530.7Z" fill="url(#pg5)" stroke="#f2ead8" stroke-width=".5" stroke-opacity=".8"/>
<path d="M433.3 528.1L430.5 515.5L435.1 513.5L438.9 515.3L439.2 518.9L442.9 520.9L443.6 525.5L446.1 528.2L447.2 532.2L443.8 535.5Z" fill="url(#pg5)" stroke="#f2ead8" stroke-width=".5" stroke-opacity=".8"/>
<path d="M434.4 537.6L438 527.8L443.7 527.5L445.5 529.9L445.1 532.3L448.5 534.5L446.2 538.1L447.5 540.6L446.5 543.8L441.3 545.4Z" fill="url(#pg5)" stroke="#f2ead8" stroke-width=".5" stroke-opacity=".8"/>
<path d="M436.6 559L438.1 546.7L444.7 544.7L448.4 546.5L447.7 549.8L452.4 551.3L450.6 556.2L453.4 558.4L452.4 562.7L446.8 566Z" fill="url(#pg4)" stroke="#f2ead8" stroke-width=".5" stroke-opacity=".8"/>
<path d="M440.6 560.7L441.5 548.6L447.1 547.2L450 549.6L449.9 552.7L453.2 555L452.6 559.3L456 561.5L454.4 566L449.7 568.8Z" fill="url(#pg3)" stroke="#f2ead8" stroke-width=".5" stroke-opacity=".8"/>
<path d="M439.3 577.4L449.3 568.5L453.9 571.8L453.1 575.5L451.4 578.2L451.7 582.6L447.9 585.6L447.2 589.3L443.8 592.2L438.7 590.8Z" fill="url(#pg5)" stroke="#f2ead8" stroke-width=".5" stroke-opacity=".8"/>
<path d="M443.8 577.2L447.3 568.2L452 568.5L453 571L452.7 573.3L454.8 575.8L453.2 579L454.7 581.5L453 584.5L448.8 585.5Z" fill="url(#pg4)" stroke="#f2ead8" stroke-width=".5" stroke-opacity=".8"/>
<path d="M437.9 584.2L448.8 579.7L453.7 584.3L453.4 587.9L450.8 589.2L451.6 593.7L446.8 594.6L447.5 598.8L442.2 599.1L436.8 596Z" fill="url(#pg4)" stroke="#f2ead8" stroke-width=".5" stroke-opacity=".8"/>
<path d="M426.2 604.9L435.3 600.8L438.9 604.5L438.4 607.3L436.4 608.6L437.9 613.1L432.9 613.2L433.1 616.6L429 617.1L424.8 614.7Z" fill="url(#pg4)" stroke="#f2ead8" stroke-width=".5" stroke-opacity=".8"/>
<path d="M417.3 606.7L425.6 609L427.5 614.5L426.1 616.3L424.3 616.4L423.6 620L420.2 618.2L419.2 620.8L416.1 619.1L413.4 614.3Z" fill="url(#pg4)" stroke="#f2ead8" stroke-width=".5" stroke-opacity=".8"/>
<path d="M407.9 616.4L420.2 619.7L420.2 625.4L416.9 627L413.9 626.9L410.7 629.9L406.3 628.2L403.3 631.1L399 628.5L397.4 623.4Z" fill="url(#pg4)" stroke="#f2ead8" stroke-width=".5" stroke-opacity=".8"/>
<path d="M410.1 613.8L418.7 616.5L419.3 621.4L417.4 623.1L415.2 622.9L413.6 626.1L410.3 624.1L408.3 625.6L405.4 624.5L403.7 620.2Z" fill="url(#pg4)" stroke="#f2ead8" stroke-width=".5" stroke-opacity=".8"/>
<path d="M398.4 618.9L408.9 619.5L410.2 624.4L408.4 627.6L405.5 626.9L404.3 631.6L399.7 629.3L397.7 631.8L393.9 631L391.5 626.9Z" fill="url(#pg4)" stroke="#f2ead8" stroke-width=".5" stroke-opacity=".8"/>
<path d="M386.1 617.3L393.5 626.3L390.8 632.7L387.4 633.7L385.4 631.8L381.8 633.3L379.3 629.9L376.3 630.1L373.8 627.2L375 620.8Z" fill="url(#pg4)" stroke="#f2ead8" stroke-width=".5" stroke-opacity=".8"/>
<path d="M378.7 622.5L388.6 629.5L387 635.4L383.7 636.1L381 635.1L377.2 638.6L374 634.2L370.5 636L367.4 632.5L367.4 626.8Z" fill="url(#pg3)" stroke="#f2ead8" stroke-width=".5" stroke-opacity=".8"/>
<path d="M366.1 615.7L371.5 623.7L368.9 629.5L365.9 631.1L364.6 628.6L361.6 630.4L359.8 627L357.1 628L355.5 624.6L356.9 618.8Z" fill="url(#pg4)" stroke="#f2ead8" stroke-width=".5" stroke-opacity=".8"/>
<path d="M350.4 612.8L355.6 622.4L352 628.4L348.3 630.1L347.3 626.9L343.5 628.6L342.1 624.5L338.4 626.3L337.6 621.2L339.8 615.1Z" fill="url(#pg4)" stroke="#f2ead8" stroke-width=".5" stroke-opacity=".8"/>
<path d="M347 610.3L349.8 623.5L344 627L339.4 626.1L339.3 622.2L334.4 621.4L334.3 616L331.4 613.7L330.2 609.5L334.5 604.9Z" fill="url(#pg4)" stroke="#f2ead8" stroke-width=".5" stroke-opacity=".8"/>
<path d="M336.6 594.1L339.3 607L334 609.8L331 607.6L329.5 604.8L324.7 603.7L324.8 598.4L320.3 597.3L320.9 591.9L324.9 587.8Z" fill="url(#pg4)" stroke="#f2ead8" stroke-width=".5" stroke-opacity=".8"/>
<path d="M331 593.3L332.3 602.6L328.2 604.5L325.3 603.4L325.2 600.8L321.4 600.2L322.1 596.2L320 594.5L319.7 591.4L322.8 588.6Z" fill="url(#pg4)" stroke="#f2ead8" stroke-width=".5" stroke-opacity=".8"/>
<path d="M324.3 575.9L325.1 588.4L320.1 589.8L318 586.9L316.9 584L312.7 582L313.6 577.1L310.4 574.7L311.2 570.1L315.1 567.3Z" fill="url(#pg4)" stroke="#f2ead8" stroke-width=".5" stroke-opacity=".8"/>
<path d="M322.8 572.3L320.9 583.7L314.7 585.4L312 583.2L312.1 580.4L306.7 579.3L309.7 574.4L306.2 572.6L308.2 568.2L313.5 565.3Z" fill="url(#pg4)" stroke="#f2ead8" stroke-width=".5" stroke-opacity=".8"/>
<path d="M326.7 557.6L319.9 563.7L314.5 561.9L314.2 559.5L315 557.7L312.6 554.7L316.1 552.8L314.2 550.1L318 548.4L323.3 549.1Z" fill="url(#pg5)" stroke="#f2ead8" stroke-width=".5" stroke-opacity=".8"/>
<path d="M321.7 550.9L315.4 559.4L310.5 557.9L309.3 554.8L310.9 552.6L307.9 549.1L311.9 546.4L310.7 543.3L313.6 540.7L318.5 540.8Z" fill="url(#pg4)" stroke="#f2ead8" stroke-width=".5" stroke-opacity=".8"/>
<path d="M332 535.6L322.2 540.4L316.9 536.6L316.7 533.3L318.9 531.9L317 527.6L321.8 526.7L321.9 523.6L325.5 522.3L331.2 524.7Z" fill="url(#pg4)" stroke="#f2ead8" stroke-width=".5" stroke-opacity=".8"/>
<path d="M335.1 527L327.1 530.8L324.1 527.6L325.1 525.4L326.5 523.9L326.2 520.6L329.7 519.8L330.5 517.4L333.3 516.3L336.8 518.3Z" fill="url(#pg4)" stroke="#f2ead8" stroke-width=".5" stroke-opacity=".8"/>
<path d="M339.6 519.5L328 520L326.6 515.2L328.8 512.2L331.8 512.2L333.6 508.2L338.2 509.1L340.8 507.2L344.6 506.9L347.3 510.7Z" fill="url(#pg5)" stroke="#f2ead8" stroke-width=".5" stroke-opacity=".8"/>
<path d="M343.9 520.2L331.1 523.6L327 518.1L328.7 514.9L331.2 513.1L331.3 508.2L336.7 507.8L336.8 503L342.6 503.5L347.6 507.6Z" fill="url(#pg5)" stroke="#f2ead8" stroke-width=".5" stroke-opacity=".8"/>
<path d="M359.3 509.6L349.7 506.5L349.3 501.2L351.6 499.1L354.1 499.7L356 495.5L359.8 498.6L361.9 495.8L365.4 498.2L367 503Z" fill="url(#pg4)" stroke="#f2ead8" stroke-width=".5" stroke-opacity=".8"/>
<path d="M428.7 576.3L436.5 560L447.3 559.6L450.3 563.8L449.5 567.8L457 571.5L450.9 577.7L455 581.6L450.7 587.3L440.8 589.8Z" fill="url(#pg0)" stroke="#f2ead8" stroke-width=".5" stroke-opacity=".8"/>
<path d="M420.1 584.3L438.9 573.8L447.4 581L448.2 588.2L442.6 590.4L444.1 598.3L436 601L434.7 606.8L428.3 610.2L418.8 605.8Z" fill="url(#pg3)" stroke="#f2ead8" stroke-width=".5" stroke-opacity=".8"/>
<path d="M416.3 595.8L433.1 593.9L438.5 602.2L438.4 608.7L433 607.9L434.2 616.3L425.8 613.9L424.9 619.5L417.9 618.5L411.3 612Z" fill="url(#pg1)" stroke="#f2ead8" stroke-width=".5" stroke-opacity=".8"/>
<path d="M399.6 603.7L422 603.3L426.2 614L422.4 619.2L417.1 620.3L414.7 628.5L405.7 626.7L401.5 631.2L394.1 631.3L387.6 622.7Z" fill="url(#pg4)" stroke="#f2ead8" stroke-width=".5" stroke-opacity=".8"/>
<path d="M396.1 603.3L414.2 605.8L419.6 616.9L416.8 620.4L413.5 622L414 631.3L405.5 626.8L404 632.5L397 629.9L390.1 620.5Z" fill="url(#pg3)" stroke="#f2ead8" stroke-width=".5" stroke-opacity=".8"/>
<path d="M376.5 609.1L389.6 618.1L390 629.2L386.9 634.1L383.4 631L380.7 639.8L375.6 631.9L372.4 635.8L367.9 631.1L365.8 620.9Z" fill="url(#pg3)" stroke="#f2ead8" stroke-width=".5" stroke-opacity=".8"/>
<path d="M372.3 607.9L381.9 621.6L377.3 630.8L371.8 634L369.8 629L363.2 634.6L361.3 625.9L356.5 626.8L353.7 621.5L356.1 612.1Z" fill="url(#pg2)" stroke="#f2ead8" stroke-width=".5" stroke-opacity=".8"/>
<path d="M361.6 606.5L369.5 622.7L363 629.9L358.3 628.5L355.3 625.7L348.7 626.7L346.8 619.8L340.3 621L339.5 613.1L343.6 605.1Z" fill="url(#pg4)" stroke="#f2ead8" stroke-width=".5" stroke-opacity=".8"/>
<path d="M341.3 585.1L342.8 603.8L334.3 607.4L328.7 604.9L328.8 599.8L320.5 598.7L323 590.3L317 588.2L318.7 580.6L325.3 575.2Z" fill="url(#pg4)" stroke="#f2ead8" stroke-width=".5" stroke-opacity=".8"/>
<path d="M337.1 586.5L333.9 597.4L327.2 598.7L324.6 596.5L325 593.8L321.6 591.9L323.2 587.9L321.2 585.6L322.4 582L328.2 579.5Z" fill="url(#pg4)" stroke="#f2ead8" stroke-width=".5" stroke-opacity=".8"/>
<path d="M337.4 567.4L334.9 583.5L325.1 587.7L321.4 585.4L320.7 581.9L313.6 581.3L316.6 574.5L313.7 571.7L314.1 566.6L322.4 561Z" fill="url(#pg0)" stroke="#f2ead8" stroke-width=".5" stroke-opacity=".8"/>
<path d="M335.3 550.4L320.7 560.1L311.9 555L311 549.8L314.4 547.1L311.4 540.8L318.2 538.2L318.8 533.6L323.3 530.2L332.4 533.1Z" fill="url(#pg4)" stroke="#f2ead8" stroke-width=".5" stroke-opacity=".8"/>
<path d="M336.6 544.9L322.1 551.6L315.6 545.7L316.8 541.6L319.3 539L316.1 531.6L324.4 531.5L325.4 527.2L330.4 525.1L337.7 528.9Z" fill="url(#pg0)" stroke="#f2ead8" stroke-width=".5" stroke-opacity=".8"/>
<path d="M349.9 529.6L333.3 534.1L328.1 526.9L330.4 522.8L333.6 520.5L332.5 512.7L340.7 513.6L343.4 510L348.5 508L354.9 513.2Z" fill="url(#pg1)" stroke="#f2ead8" stroke-width=".5" stroke-opacity=".8"/>
<path d="M357.8 519.6L340 518.2L338 509.8L341.8 506.4L346 505.8L348.4 498.4L355.8 501.9L359.9 499.4L365.6 499.3L369.6 506.3Z" fill="url(#pg1)" stroke="#f2ead8" stroke-width=".5" stroke-opacity=".8"/>
<path d="M377.8 519.6L361 510.8L361.9 500.8L366.7 497.1L371.1 499.5L376 495L381.9 499.1L386.8 497.7L392.3 500.2L393.8 509.5Z" fill="url(#pg3)" stroke="#f2ead8" stroke-width=".5" stroke-opacity=".8"/>
<path d="M395.9 513.8L382 504.9L384.1 497.3L388.9 494.4L392.4 497.6L397.5 494.2L402.2 498.7L407 495.9L411.4 500.9L411.6 508.3Z" fill="url(#pg4)" stroke="#f2ead8" stroke-width=".5" stroke-opacity=".8"/>
<path d="M410.8 523.6L405.5 512.4L410 507.6L414.3 507L415.2 510.6L419.8 509.9L421.1 514.7L424.9 515L426.1 519.4L423.2 524.9Z" fill="url(#pg2)" stroke="#f2ead8" stroke-width=".5" stroke-opacity=".8"/>
<path d="M405.7 529.2L403.7 510L413.7 501.6L419 502.7L420.4 506.7L430.4 503.2L427.4 513.6L433.9 513.5L432.7 521.6L424.8 531Z" fill="url(#pg1)" stroke="#f2ead8" stroke-width=".5" stroke-opacity=".8"/>
<path d="M422.4 536.2L426.9 519L435.8 518.2L438.3 522.4L438.6 526.5L446.4 529.6L441 536.5L444.5 540.4L442.1 546.3L434.2 549.3Z" fill="url(#pg1)" stroke="#f2ead8" stroke-width=".5" stroke-opacity=".8"/>
<path d="M431.9 559.3L439.6 547L447.5 548.2L450.3 551.9L448 555.1L454 559.1L447.9 563.3L449.5 567.1L446.5 571.1L439.1 571.8Z" fill="url(#pg3)" stroke="#f2ead8" stroke-width=".5" stroke-opacity=".8"/>
<path d="M418.7 552.9L425.7 537.7L436 536.9L439.4 540.5L438.2 544.3L445.3 547.3L439.8 553.2L441.7 557L439.9 562L430.6 564.6Z" fill="url(#pg0)" stroke="#f2ead8" stroke-width=".5" stroke-opacity=".8"/>
<path d="M423.4 563.3L431.9 549.6L440.1 551.1L443.8 555.6L440.4 559.1L444.4 563.7L439.9 568.4L441.4 572.7L438.2 577.2L430.4 577.8Z" fill="url(#pg0)" stroke="#f2ead8" stroke-width=".5" stroke-opacity=".8"/>
<path d="M421.3 578L436 568L442.8 573.3L441.9 578.3L439.1 581.4L440.2 587.7L434 590.6L433.4 595.7L428 598.7L420.5 595.8Z" fill="url(#pg4)" stroke="#f2ead8" stroke-width=".5" stroke-opacity=".8"/>
<path d="M412.3 591.3L428.9 586.2L435.1 593.4L433.8 598.3L430.1 600.2L430.4 606.6L423.6 607.4L423.7 613.6L416.2 613.4L408.9 608.2Z" fill="url(#pg2)" stroke="#f2ead8" stroke-width=".5" stroke-opacity=".8"/>
<path d="M398 593.9L416.3 596.5L420 606.9L418.2 613.8L412.7 611.5L411.5 620L403.6 616L400.8 620.7L394.2 618.7L388.7 609.9Z" fill="url(#pg1)" stroke="#f2ead8" stroke-width=".5" stroke-opacity=".8"/>
<path d="M390.9 601.5L407.3 610.4L407 621.3L402.7 626.9L398.4 623L394 628.3L388.1 623.9L383.6 626.4L378.2 623.1L376.2 613Z" fill="url(#pg0)" stroke="#f2ead8" stroke-width=".5" stroke-opacity=".8"/>
<path d="M376.6 602.9L387.4 618.3L382 625.7L375.7 626.9L373.3 622L367 622.8L363.6 616.8L358.6 615.4L354.9 610.7L357.8 602.6Z" fill="url(#pg1)" stroke="#f2ead8" stroke-width=".5" stroke-opacity=".8"/>
<path d="M361.7 597L370.3 615.9L362.8 623.5L357.1 621.9L354.1 618L344.8 620.9L344.4 610.7L336.9 611.6L336.2 602.5L341.1 593.9Z" fill="url(#pg1)" stroke="#f2ead8" stroke-width=".5" stroke-opacity=".8"/>
<path d="M354.9 585.2L358.1 605.7L349 610.7L343.7 607.8L342.1 603L332.6 602.9L334.8 593.2L327.9 591.5L329.2 583L336.1 576.2Z" fill="url(#pg3)" stroke="#f2ead8" stroke-width=".5" stroke-opacity=".8"/>
<path d="M344.2 575.2L341.8 590.8L332.6 594.2L328.9 591.7L328.6 588.1L320.1 587.9L324.8 580.4L320 578.5L322.5 572.5L330.3 567.6Z" fill="url(#pg0)" stroke="#f2ead8" stroke-width=".5" stroke-opacity=".8"/>
<path d="M345 560.5L340.5 579.7L329.4 582.2L324.5 578.6L325.4 573.7L319.9 570.2L321.8 563.4L318.1 559.4L319.9 552.9L329.5 548.3Z" fill="url(#pg2)" stroke="#f2ead8" stroke-width=".5" stroke-opacity=".8"/>
<path d="M349.6 541.7L337.5 549.6L327.9 546L324.6 541.8L328.7 540L323.6 535.1L330.6 533.1L330.5 529.7L333.9 526.9L343.3 528.7Z" fill="url(#pg2)" stroke="#f2ead8" stroke-width=".5" stroke-opacity=".8"/>
<path d="M355 537.1L336.4 545.8L328.1 538.3L326.8 530.9L333 529.6L331.6 521.9L339.7 520L339.2 513.1L347.5 511.8L356.7 516.6Z" fill="url(#pg3)" stroke="#f2ead8" stroke-width=".5" stroke-opacity=".8"/>
<path d="M360.4 530.7L344.2 527.5L343 519.3L346.2 515L350.6 516.3L353.5 510.5L359.8 513.5L362.9 508.8L368.9 512L372.1 519.1Z" fill="url(#pg0)" stroke="#f2ead8" stroke-width=".5" stroke-opacity=".8"/>
<path d="M375 523.7L361.9 521.4L359.6 513.9L361.8 510.6L365.1 510.8L366.3 504.9L371.9 507.9L374.3 505.1L378.8 506.2L382.4 512.6Z" fill="url(#pg0)" stroke="#f2ead8" stroke-width=".5" stroke-opacity=".8"/>
<path d="M393.3 523.9L387.8 511.3L392.9 503.7L396.8 503.5L398.6 506L404.2 502.8L404.9 509.4L408.2 510.3L410.3 513.9L407 521.7Z" fill="url(#pg3)" stroke="#f2ead8" stroke-width=".5" stroke-opacity=".8"/>
<path d="M406.8 532L398.8 514.4L405.7 507.7L412.5 507.4L413.9 512.9L421.6 511.6L422.8 519.8L428.1 521.4L430.5 527.6L425.9 535.4Z" fill="url(#pg2)" stroke="#f2ead8" stroke-width=".5" stroke-opacity=".8"/>
<path d="M416.4 544L411.4 527.3L418.7 520.7L422.9 522.6L425.5 525.5L433.3 523.6L432.8 532L437.4 533.5L438.9 539.2L433.6 546.8Z" fill="url(#pg0)" stroke="#f2ead8" stroke-width=".5" stroke-opacity=".8"/>
<path d="M367.9 535.9L351.9 535L349.1 526.8L351.7 522.8L355.7 522.7L357 515.6L363.9 518.6L366.6 514.7L372.2 515.8L376.7 522.5Z" fill="url(#pg1)" stroke="#f2ead8" stroke-width=".5" stroke-opacity=".8"/>
<path d="M376.5 534.7L362.3 526L363.2 516.4L367.3 511.5L371.1 515.5L375.3 510.9L380.3 515.3L384.5 511.8L389.2 516.5L390.4 525.5Z" fill="url(#pg0)" stroke="#f2ead8" stroke-width=".5" stroke-opacity=".8"/>
<path d="M393.5 531.2L379.6 521.3L382.4 514.7L387.7 512.3L391.1 515.9L396.9 512.4L401.2 518.2L406.1 517.6L410.6 521.3L410.3 528.1Z" fill="url(#pg2)" stroke="#f2ead8" stroke-width=".5" stroke-opacity=".8"/>
<path d="M406 542L408.2 527L417.3 523L420.3 525.4L421.4 528.4L429.4 528.2L425.2 535.3L428.6 537.5L427.6 542.6L420 547.9Z" fill="url(#pg3)" stroke="#f2ead8" stroke-width=".5" stroke-opacity=".8"/>
<path d="M409.8 550.4L411.7 533.9L421.5 529.4L427.3 530.6L426 535.3L433.3 535.8L430.5 542.9L435 544.8L433.3 550.9L425.2 556.8Z" fill="url(#pg0)" stroke="#f2ead8" stroke-width=".5" stroke-opacity=".8"/>
<path d="M410.4 559.9L419.8 546.5L430.2 547.3L435.6 551.2L431.3 554.7L438.5 558.6L431.5 563.4L433.2 567.3L430.1 571.8L420.4 572.9Z" fill="url(#pg1)" stroke="#f2ead8" stroke-width=".5" stroke-opacity=".8"/>
<path d="M405.9 575.8L423.7 563.9L433.9 570.2L432.9 575.8L430.5 580L434.3 588.1L425.4 591L425.7 597.2L418.9 600.7L408.2 597.2Z" fill="url(#pg0)" stroke="#f2ead8" stroke-width=".5" stroke-opacity=".8"/>
<path d="M401.4 588L418.6 584.8L425 592.9L423.5 597.6L419.8 599.3L420.2 606.1L413 606L413.1 612.3L405.4 611.3L397.9 605.1Z" fill="url(#pg4)" stroke="#f2ead8" stroke-width=".5" stroke-opacity=".8"/>
<path d="M388.2 589.7L410 592.1L413.3 603.5L409.1 608.2L403.9 608.7L401.3 617.5L392.4 613.7L388.5 619L380.7 616.8L375.1 607.3Z" fill="url(#pg0)" stroke="#f2ead8" stroke-width=".5" stroke-opacity=".8"/>
<path d="M374.4 593.1L386.9 599.5L387.3 608.3L384.2 610.7L381.1 610L378.3 614.7L373.7 611.2L370.5 612.6L366.4 611L364.4 603Z" fill="url(#pg4)" stroke="#f2ead8" stroke-width=".5" stroke-opacity=".8"/>
<path d="M365.4 587.4L374.9 602L369.8 611.1L364.3 612.9L362 608.8L355.4 612.8L353.1 605.1L348 606.2L345.3 600.1L348.2 590.7Z" fill="url(#pg1)" stroke="#f2ead8" stroke-width=".5" stroke-opacity=".8"/>
<path d="M357.6 583.2L355.9 599.8L347.6 602L343 599.1L343.8 594.7L335.9 593L340.1 585.7L337.8 581.9L337.7 576.6L344.7 572.7Z" fill="url(#pg1)" stroke="#f2ead8" stroke-width=".5" stroke-opacity=".8"/>
<path d="M352.4 572L344.8 589.6L335.4 588.8L331.5 583.9L334 579.3L327.3 574.4L333.4 568L330.3 563.1L334.1 557.2L342.7 555.5Z" fill="url(#pg1)" stroke="#f2ead8" stroke-width=".5" stroke-opacity=".8"/>
<path d="M355.5 556.7L337.9 561.3L329 553.1L329.3 548L333 546.1L328.9 537.5L338.6 538.6L339.2 533.7L345.5 532.6L355.1 538.6Z" fill="url(#pg2)" stroke="#f2ead8" stroke-width=".5" stroke-opacity=".8"/>
<path d="M361.4 539.8L342.1 547.7L336 540.1L338.3 534.6L342.5 531.7L343.5 524.8L350.8 522.5L352.6 516.5L359.9 514.7L367.4 519.8Z" fill="url(#pg3)" stroke="#f2ead8" stroke-width=".5" stroke-opacity=".8"/>
<path d="M364.9 544.9L348.4 544.6L345.3 536.4L347 530.7L352 531.9L354 526.3L360.3 527.4L362.1 521.7L368.8 524.2L373.6 530.9Z" fill="url(#pg2)" stroke="#f2ead8" stroke-width=".5" stroke-opacity=".8"/>
<path d="M380.7 542.7L370.1 532.6L371.6 522.7L375.1 521.6L378 522.2L382 515.4L385.5 522.7L388.9 521.5L392.5 524.7L392.6 534.1Z" fill="url(#pg4)" stroke="#f2ead8" stroke-width=".5" stroke-opacity=".8"/>
<path d="M392 541.7L381.4 531.4L384.3 523.9L388.6 522.5L391.4 524.9L396.6 520.6L399.6 527L403.8 526L407.2 530.1L406.3 537.5Z" fill="url(#pg1)" stroke="#f2ead8" stroke-width=".5" stroke-opacity=".8"/>
<path d="M399.6 551.6L391.7 533.2L399.1 526.2L404.9 527.4L407.3 531.7L414.5 531.4L416.4 538.9L423 539.2L424.2 547L419.3 555.2Z" fill="url(#pg0)" stroke="#f2ead8" stroke-width=".5" stroke-opacity=".8"/>
<path d="M405.3 555.4L414.2 544.6L422.6 546.1L424.1 549.7L422.9 552.5L428.3 556.5L422.4 560.1L426.3 563.8L420.6 567.2L412.5 567.4Z" fill="url(#pg1)" stroke="#f2ead8" stroke-width=".5" stroke-opacity=".8"/>
<path d="M404.5 570.1L419.9 561.9L426.6 567.8L425.7 572.8L422.4 575.4L424 582.2L416.8 583.9L415.9 588.9L410.3 591.2L402.8 587.5Z" fill="url(#pg2)" stroke="#f2ead8" stroke-width=".5" stroke-opacity=".8"/>
<path d="M394.1 576.3L416.3 569.5L424.3 579.1L423.9 586.8L417.6 588L420.1 598.8L408.6 597.8L405.6 603.1L398.7 605.8L389.2 598.9Z" fill="url(#pg1)" stroke="#f2ead8" stroke-width=".5" stroke-opacity=".8"/>
<path d="M389.2 586.4L399 596.8L396.3 605L392.5 605.8L389.7 604.3L385.4 606.8L382.1 602.7L378 604.6L375.1 599.8L376 591.8Z" fill="url(#pg3)" stroke="#f2ead8" stroke-width=".5" stroke-opacity=".8"/>
<path d="M381.9 582.1L391.5 601.6L383.8 611.8L377.3 612.2L374.5 607.7L365.4 612L364.2 601.6L357.5 602.2L355.3 594.2L360.2 583.3Z" fill="url(#pg0)" stroke="#f2ead8" stroke-width=".5" stroke-opacity=".8"/>
<path d="M365.5 576.8L365.2 595.8L356.6 598.4L350.7 595.5L351.8 590.1L344.1 587.9L347 579.9L343.8 575.7L343.6 569.6L350.7 565Z" fill="url(#pg2)" stroke="#f2ead8" stroke-width=".5" stroke-opacity=".8"/>
<path d="M358.1 565.1L350.6 581.3L341.4 580.6L339.8 576L340.1 571.9L336.2 567.3L339.4 561.7L337.8 557.1L340.1 551.7L348.5 550.1Z" fill="url(#pg1)" stroke="#f2ead8" stroke-width=".5" stroke-opacity=".8"/>
<path d="M361.1 548.5L352.2 557.9L345.5 555.5L342.9 551.4L346.3 549.2L342.6 544.8L347.9 542.1L345.2 538L350.5 535.4L357.2 536.2Z" fill="url(#pg0)" stroke="#f2ead8" stroke-width=".5" stroke-opacity=".8"/>
<path d="M371.6 575.7L370.8 591.2L362.7 594.5L357.4 592.8L358.5 588.3L353.4 586.4L354.3 580.6L349.8 578.6L351.4 572.7L358.1 568Z" fill="url(#pg1)" stroke="#f2ead8" stroke-width=".5" stroke-opacity=".8"/>
<path d="M367.3 561.8L356.5 572.2L347.6 569.6L346.1 565.5L348 562.7L345.2 558.3L349.6 554.7L346.7 550.4L352.4 547.4L361 548.1Z" fill="url(#pg1)" stroke="#f2ead8" stroke-width=".5" stroke-opacity=".8"/>
<path d="M371 548.9L356.7 556.3L351.8 550.9L353 546.4L356.3 544.1L354.9 537.3L362.2 536.5L362.5 531.2L368.7 529.9L374.6 533.3Z" fill="url(#pg3)" stroke="#f2ead8" stroke-width=".5" stroke-opacity=".8"/>
<path d="M383.8 549.9L364.6 546.2L361.4 535.2L363.9 528.3L369.5 530.7L372.3 524.5L379.4 526.6L383 522.6L389.5 524.2L394.7 533.7Z" fill="url(#pg2)" stroke="#f2ead8" stroke-width=".5" stroke-opacity=".8"/>
<path d="M388.3 551.3L381.2 537.7L386.4 530L391.7 527.8L393 532.5L399.8 527.9L400.4 536.4L405.5 534.8L406.8 541.3L403.5 549.4Z" fill="url(#pg3)" stroke="#f2ead8" stroke-width=".5" stroke-opacity=".8"/>
<path d="M399.6 557.2L402.9 541.7L410 541.4L413.5 545.1L412.3 549.2L417 552.8L414.3 558.5L416.7 562.4L415.1 567.6L409 570Z" fill="url(#pg4)" stroke="#f2ead8" stroke-width=".5" stroke-opacity=".8"/>
<path d="M396.5 567L414.1 562.4L419.8 570.1L419.7 576.7L414.1 576.9L413.1 583L406.6 584.2L404.9 589.3L398.4 590.1L391.4 584.5Z" fill="url(#pg0)" stroke="#f2ead8" stroke-width=".5" stroke-opacity=".8"/>
<path d="M387 571.7L407.9 573.5L413.6 585.5L410.2 589.8L406.1 591.4L404.1 598.3L396.5 597.2L394.8 604.2L386.3 601L378.9 591Z" fill="url(#pg1)" stroke="#f2ead8" stroke-width=".5" stroke-opacity=".8"/>
<path d="M381.9 573.6L388.4 591.4L380.7 601L374.6 602.1L373.1 597.3L364.1 602.5L364.7 591.9L357.7 594.3L357.7 585.1L363.1 575Z" fill="url(#pg1)" stroke="#f2ead8" stroke-width=".5" stroke-opacity=".8"/>
<path d="M386.7 569.9L402.1 577.2L401.4 585.9L397 588.1L393 587.1L388.6 591.5L383.1 587.6L378.8 591.2L373.6 586.8L372.1 578.7Z" fill="url(#pg4)" stroke="#f2ead8" stroke-width=".5" stroke-opacity=".8"/>
<path d="M382.5 567.7L384.8 586.8L375.2 593.2L368.2 592.9L368.7 587.1L361 587.1L361.8 579L357.2 576.6L356.6 570.3L364 562.5Z" fill="url(#pg4)" stroke="#f2ead8" stroke-width=".5" stroke-opacity=".8"/>
<path d="M375.5 561.3L366 572.4L357.2 570.6L354.4 566.7L357.1 563.8L353.4 559.7L357.8 555.9L356.6 552.2L359.9 548.6L368.3 548.5Z" fill="url(#pg4)" stroke="#f2ead8" stroke-width=".5" stroke-opacity=".8"/>
<path d="M377.6 555L364.7 555.2L362.3 549L364.5 546.1L367.5 545.4L368.2 539.5L374 541.7L375.4 537.2L380.8 539L384.5 544Z" fill="url(#pg3)" stroke="#f2ead8" stroke-width=".5" stroke-opacity=".8"/>
<path d="M386.4 561.2L377.2 546.4L382.5 537.1L387.3 536.9L390.2 539.4L396.9 535.4L398.9 543.2L403.9 542.5L406.6 548.3L403.5 557.8Z" fill="url(#pg0)" stroke="#f2ead8" stroke-width=".5" stroke-opacity=".8"/>
<path d="M388 567.2L393.1 552.8L402.4 551.3L404.7 554.6L405 557.9L411.2 560.3L407.2 565.9L411.9 568.5L407.9 573.9L399.7 577.1Z" fill="url(#pg1)" stroke="#f2ead8" stroke-width=".5" stroke-opacity=".8"/>
<path d="M383.2 568.9L372.8 554.7L377.3 544.5L382 543.8L385.2 546L391.9 539.7L394.2 548.9L399.4 546.6L402.2 553.3L400 563.4Z" fill="url(#pg4)" stroke="#f2ead8" stroke-width=".5" stroke-opacity=".8"/>
<path d="M379.6 565.2L386.5 548.1L396.4 548L398.5 552.5L398.6 556.7L406.1 560.6L400.1 567.1L405.5 571.1L400 577.2L391 579.6Z" fill="url(#pg3)" stroke="#f2ead8" stroke-width=".5" stroke-opacity=".8"/>
<path d="M380 558.8L397.3 565.6L398.6 576.7L394.4 579.1L390.3 579.5L387.1 587L380.4 581.7L376.2 583.9L370.6 582.2L367.2 572.3Z" fill="url(#pg2)" stroke="#f2ead8" stroke-width=".5" stroke-opacity=".8"/>
<path d="M388.4 560.6L387.4 582.9L375.7 587.8L369.2 584.9L369.5 579.1L360.5 577.4L363.4 568.2L357.4 565.1L359.2 556.9L368.8 549.9Z" fill="url(#pg0)" stroke="#f2ead8" stroke-width=".5" stroke-opacity=".8"/>
<path d="M384.6 563.6L366.8 568.9L361.4 561.3L362.1 554.9L367.5 554.4L366.7 546.1L375.4 546.9L377.9 542.3L383.8 540.7L390.6 546.1Z" fill="url(#pg2)" stroke="#f2ead8" stroke-width=".5" stroke-opacity=".8"/>
<circle cx="382.4" cy="563" r="71" fill="url(#pshade)"/>
<path d="M408.5 551.6L357.2 574.5" stroke="#9aa094" stroke-width="1.8" opacity=".9"/>
<path d="M367.1 552.5L414.7 552.8" stroke="#b08a60" stroke-width="0.6" opacity=".9"/>
<path d="M363.2 522.6L364.2 575.5" stroke="#6e5844" stroke-width="1.3" opacity=".9"/>
<path d="M390 546.9L372.4 579.1" stroke="#f3dcb8" stroke-width="1.3" opacity=".9"/>
<path d="M370.4 567.8L387.1 594.1" stroke="#6e5844" stroke-width="0.6" opacity=".9"/>
<path d="M390.3 531.8L386.3 571" stroke="#9aa094" stroke-width="1" opacity=".9"/>
<path d="M395.2 537.4L378.5 583.8" stroke="#7a5c40" stroke-width="1.8" opacity=".9"/>
<path d="M396 567.8L380.1 599.6" stroke="#f0a868" stroke-width="0.6" opacity=".9"/>
<path d="M388.1 558.2L412.4 568.1" stroke="#6e5844" stroke-width="1" opacity=".9"/>
<path d="M394.6 538.2L352 570.6" stroke="#b08a60" stroke-width="1.8" opacity=".9"/>
<path d="M406.4 563.6L372.8 568.4" stroke="#6e5844" stroke-width="1.3" opacity=".9"/>
<path d="M371 545.8L383.8 572.2" stroke="#9aa094" stroke-width="0.8" opacity=".9"/>
<path d="M365 551.8L384.8 569.6" stroke="#7a5c40" stroke-width="1.3" opacity=".9"/>
<path d="M389.2 536.8L390.8 566.1" stroke="#f0a868" stroke-width="0.6" opacity=".9"/>
<path d="M375.5 557.4L395.2 589.7" stroke="#b08a60" stroke-width="1.3" opacity=".9"/>
<path d="M383.4 529.1L392.5 584.1" stroke="#7a5c40" stroke-width="1.3" opacity=".9"/>
<path d="M394.7 543.1L358.6 547.3" stroke="#f0a868" stroke-width="0.8" opacity=".9"/>
<path d="M390.1 566.4L362.6 571.9" stroke="#e8b27e" stroke-width="0.6" opacity=".9"/>
<path d="M366.3 552.1L398.3 573.1" stroke="#f3dcb8" stroke-width="1.3" opacity=".9"/>
<path d="M364.7 544.7L367.6 579.4" stroke="#b08a60" stroke-width="1.8" opacity=".9"/>
<path d="M350.6 530.8L391.4 560.2" stroke="#7a5c40" stroke-width="1.3" opacity=".9"/>
<path d="M372.1 548.2L423.1 558.4" stroke="#f0a868" stroke-width="0.6" opacity=".9"/>
<path d="M372.4 541.5L392.1 586.3" stroke="#e9a366" stroke-width="0.8" opacity=".9"/>
<path d="M379.9 547.3L371 572.4" stroke="#9aa094" stroke-width="1.8" opacity=".9"/>
<path d="M410.4 555.9L368.7 567.5" stroke="#f3dcb8" stroke-width="0.8" opacity=".9"/>
<path d="M338.3 555.4L388 563.9" stroke="#e8b27e" stroke-width="1.8" opacity=".9"/>
<path d="M386.8 530.6L381.4 562.7" stroke="#e9a366" stroke-width="0.8" opacity=".9"/>
<path d="M386.3 565.7L375.4 593.5" stroke="#9aa094" stroke-width="1.3" opacity=".9"/>
<path d="M392.4 551.8L393.1 581.2" stroke="#e9a366" stroke-width="1.8" opacity=".9"/>
<path d="M378 541.2L349.2 551.8" stroke="#6e5844" stroke-width="0.6" opacity=".9"/>
<path d="M376 530.8L384.5 565.7" stroke="#7a5c40" stroke-width="1.3" opacity=".9"/>
<path d="M369.1 567.9L401.9 600.5" stroke="#b08a60" stroke-width="0.8" opacity=".9"/>
<path d="M382.7 551.4L397.1 573.3" stroke="#9aa094" stroke-width="1" opacity=".9"/>
<path d="M400.1 562.3L394.8 584.6" stroke="#9aa094" stroke-width="0.8" opacity=".9"/>
<path d="M372.2 564.2L423.4 566.1" stroke="#9aa094" stroke-width="1.8" opacity=".9"/>
<path d="M392.8 555L407.9 587.9" stroke="#e8b27e" stroke-width="0.6" opacity=".9"/>
<path d="M372.8 567.7L410.1 571.1" stroke="#9aa094" stroke-width="1.8" opacity=".9"/>
<path d="M355.9 561L385.2 574.4" stroke="#b08a60" stroke-width="1" opacity=".9"/>
<path d="M367.4 554.6L365.7 582.5" stroke="#f0a868" stroke-width="1" opacity=".9"/>
<path d="M369.5 533.6L380 568.9" stroke="#7a5c40" stroke-width="0.6" opacity=".9"/>
<path d="M349.4 553.8L380.4 569.9" stroke="#b08a60" stroke-width="1.3" opacity=".9"/>
<path d="M356.6 542.4L373.6 573.7" stroke="#6e5844" stroke-width="0.8" opacity=".9"/>
<path d="M394.6 533.9L379.9 588.4" stroke="#9aa094" stroke-width="1" opacity=".9"/>
<path d="M402.7 524.8L381.6 572.6" stroke="#7a5c40" stroke-width="0.8" opacity=".9"/>
<path d="M409.5 564.8L377.2 573.9" stroke="#e8b27e" stroke-width="1.8" opacity=".9"/>
<path d="M374.4 526.2L404.2 561.6" stroke="#6e5844" stroke-width="0.6" opacity=".9"/>
<path d="M405.7 542.5L380.9 568.2" stroke="#7a5c40" stroke-width="1.8" opacity=".9"/>
<path d="M361.9 556.8L393.4 587.7" stroke="#7a5c40" stroke-width="0.8" opacity=".9"/>
<path d="M386.2 548.2L377.5 577.8" stroke="#6e5844" stroke-width="1.8" opacity=".9"/>
<path d="M373.1 555.6L405.3 583.7" stroke="#7a5c40" stroke-width="1.8" opacity=".9"/>
<path d="M417.9 559.4L392 570.4" stroke="#6e5844" stroke-width="0.6" opacity=".9"/>
<path d="M347.2 572.9L389.4 578.1" stroke="#9aa094" stroke-width="1" opacity=".9"/>
<path d="M400.4 554.6L360.4 574.2" stroke="#9aa094" stroke-width="1.3" opacity=".9"/>
<path d="M368.8 561.1L396.7 566.6" stroke="#e9a366" stroke-width="0.6" opacity=".9"/>
<path d="M395.9 537.8L388.8 573.5" stroke="#9aa094" stroke-width="1.3" opacity=".9"/>
<circle cx="378.8" cy="518.4" r="6.5" fill="url(#by)"/>
<circle cx="344.8" cy="540" r="6.5" fill="url(#by)"/>
<circle cx="386.1" cy="567.4" r="5.5" fill="url(#bo)"/>
<circle cx="380.3" cy="587.6" r="6" fill="url(#by)"/>
<circle cx="418.6" cy="539.5" r="3.6" fill="url(#bg)"/>
<circle cx="440.8" cy="534.3" r="6" fill="url(#bg)"/>
<circle cx="409.7" cy="602" r="3" fill="url(#bg)"/>
<circle cx="315.4" cy="528.5" r="4" fill="url(#by)"/>
</g>
<defs>
<radialGradient id="slb" cx=".5" cy=".5" r=".62" fx=".36" fy=".3"><stop offset="0" stop-color="#dcebfa"/><stop offset=".55" stop-color="#9dbce6"/><stop offset="1" stop-color="#5f7ab2"/></radialGradient>
<radialGradient id="slb2" cx=".5" cy=".5" r=".62" fx=".36" fy=".3"><stop offset="0" stop-color="#c4d4ee"/><stop offset=".55" stop-color="#8aa2d2"/><stop offset="1" stop-color="#53649a"/></radialGradient>
<radialGradient id="ssb" cx=".5" cy=".5" r=".62" fx=".36" fy=".3"><stop offset="0" stop-color="#bcc8e6"/><stop offset=".55" stop-color="#8290c0"/><stop offset="1" stop-color="#4c588c"/></radialGradient>
<radialGradient id="ssb2" cx=".5" cy=".5" r=".62" fx=".36" fy=".3"><stop offset="0" stop-color="#c0c8e8"/><stop offset=".55" stop-color="#8a92c6"/><stop offset="1" stop-color="#525a92"/></radialGradient>
<radialGradient id="spu" cx=".5" cy=".5" r=".62" fx=".36" fy=".3"><stop offset="0" stop-color="#b890dc"/><stop offset=".55" stop-color="#7c4cac"/><stop offset="1" stop-color="#46287a"/></radialGradient>
<radialGradient id="spu2" cx=".5" cy=".5" r=".62" fx=".36" fy=".3"><stop offset="0" stop-color="#a07cc8"/><stop offset=".55" stop-color="#6a3e9c"/><stop offset="1" stop-color="#3c226c"/></radialGradient>
<radialGradient id="spl" cx=".5" cy=".5" r=".62" fx=".36" fy=".3"><stop offset="0" stop-color="#ccb0ec"/><stop offset=".55" stop-color="#9468c4"/><stop offset="1" stop-color="#5c3c90"/></radialGradient>
<radialGradient id="smg" cx=".5" cy=".5" r=".62" fx=".36" fy=".3"><stop offset="0" stop-color="#f0a4e0"/><stop offset=".55" stop-color="#c45cb8"/><stop offset="1" stop-color="#7c3490"/></radialGradient>
<radialGradient id="spk" cx=".5" cy=".5" r=".62" fx=".36" fy=".3"><stop offset="0" stop-color="#f4b4dc"/><stop offset=".55" stop-color="#d070b8"/><stop offset="1" stop-color="#8c4494"/></radialGradient>
<radialGradient id="sor" cx=".5" cy=".5" r=".62" fx=".36" fy=".3"><stop offset="0" stop-color="#ffdcc4"/><stop offset=".55" stop-color="#f8a48c"/><stop offset="1" stop-color="#d86c94"/></radialGradient>
<radialGradient id="slv" cx=".5" cy=".5" r=".62" fx=".36" fy=".3"><stop offset="0" stop-color="#ece4fa"/><stop offset=".55" stop-color="#b8a8dc"/><stop offset="1" stop-color="#7c6cac"/></radialGradient>
<radialGradient id="swl" cx=".5" cy=".5" r=".62" fx=".36" fy=".3"><stop offset="0" stop-color="#ffffff"/><stop offset=".55" stop-color="#e4dcf4"/><stop offset="1" stop-color="#b0a4d0"/></radialGradient>
<radialGradient id="sbase" gradientUnits="userSpaceOnUse" cx="373.7" cy="153.8" r="150.625"><stop offset="0" stop-color="#6a4a98"/><stop offset=".6" stop-color="#525e96"/><stop offset="1" stop-color="#465080"/></radialGradient>
<linearGradient id="sshade" gradientUnits="userSpaceOnUse" x1="413.7" y1="63.80000000000001" x2="318.7" y2="298.8"><stop offset="0" stop-color="#2c3266" stop-opacity="0"/><stop offset=".55" stop-color="#2c3266" stop-opacity="0.05"/><stop offset="1" stop-color="#2c3266" stop-opacity=".5"/></linearGradient>
<radialGradient id="swhite" gradientUnits="userSpaceOnUse" cx="481.7" cy="111.80000000000001" r="105"><stop offset="0" stop-color="#fff" stop-opacity="1"/><stop offset=".45" stop-color="#fff" stop-opacity=".75"/><stop offset="1" stop-color="#fff" stop-opacity="0"/></radialGradient>
<radialGradient id="sleft" gradientUnits="userSpaceOnUse" cx="393.7" cy="153.8" r="156.65"><stop offset=".6" stop-color="#3a4478" stop-opacity="0"/><stop offset="1" stop-color="#3a4478" stop-opacity=".35"/></radialGradient>
<linearGradient id="smist" gradientUnits="userSpaceOnUse" x1="363.7" y1="49.30000000000001" x2="351.7" y2="131.625"><stop offset="0" stop-color="#fff" stop-opacity=".8"/><stop offset=".4" stop-color="#fff" stop-opacity=".3"/><stop offset="1" stop-color="#fff" stop-opacity="0"/></linearGradient>
<clipPath id="sclip"><circle cx="363.7" cy="173.8" r="123.5"/></clipPath>
<filter id="sblur" x="-10%" y="-10%" width="120%" height="120%"><feGaussianBlur stdDeviation="0.5"/></filter>
<filter id="towhite" color-interpolation-filters="sRGB"><feColorMatrix values="0 0 0 0 1 0 0 0 0 1 0 0 0 0 1 0 0 0 1 0"/></filter>
<g id="balls">
<circle cx="363.7" cy="173.8" r="118.5" fill="url(#sbase)"/>
<circle cx="476.1" cy="172.3" r="1.4" fill="url(#slv)"/>
<circle cx="265.8" cy="119.5" r="1.4" fill="url(#slb2)"/>
<circle cx="331.6" cy="66.3" r="1.4" fill="url(#spl)"/>
<circle cx="369" cy="55.6" r="1.4" fill="url(#spu2)"/>
<circle cx="441.3" cy="259.3" r="1.6" fill="url(#slb2)"/>
<circle cx="293.6" cy="261.4" r="1.6" fill="url(#slb2)"/>
<circle cx="255.6" cy="222.6" r="1.6" fill="url(#spu2)"/>
<circle cx="268.9" cy="233.5" r="1.7" fill="url(#ssb)"/>
<circle cx="360.4" cy="270" r="1.7" fill="url(#ssb)"/>
<circle cx="353.5" cy="288.4" r="1.7" fill="url(#slb2)"/>
<circle cx="290.4" cy="259.8" r="1.7" fill="url(#ssb)"/>
<circle cx="311.8" cy="280.5" r="1.7" fill="url(#ssb)"/>
<circle cx="396.1" cy="267.2" r="1.7" fill="url(#slb2)"/>
<circle cx="268.5" cy="126.2" r="1.8" fill="url(#ssb)"/>
<circle cx="471" cy="149.4" r="1.8" fill="url(#slv)"/>
<circle cx="257.3" cy="149.7" r="1.8" fill="url(#ssb2)"/>
<circle cx="369.5" cy="290" r="1.8" fill="url(#ssb)"/>
<circle cx="372.4" cy="62.4" r="1.8" fill="url(#slb2)"/>
<circle cx="396.6" cy="249.5" r="1.8" fill="url(#slb2)"/>
<circle cx="317.3" cy="250.5" r="1.8" fill="url(#ssb)"/>
<circle cx="335.3" cy="66.4" r="1.8" fill="url(#spu)"/>
<circle cx="258.9" cy="228.6" r="1.8" fill="url(#ssb)"/>
<circle cx="481.2" cy="187.4" r="1.8" fill="url(#spk)"/>
<circle cx="384.7" cy="289.4" r="1.8" fill="url(#ssb)"/>
<circle cx="471.6" cy="152.9" r="1.9" fill="url(#spl)"/>
<circle cx="333.9" cy="272.8" r="1.9" fill="url(#slb2)"/>
<circle cx="448.2" cy="138" r="1.9" fill="url(#slv)"/>
<circle cx="460.8" cy="173.2" r="1.9" fill="url(#sor)"/>
<circle cx="268.6" cy="183.4" r="1.9" fill="url(#ssb2)"/>
<circle cx="270.3" cy="244.1" r="1.9" fill="url(#slb2)"/>
<circle cx="258.9" cy="223.8" r="1.9" fill="url(#ssb2)"/>
<circle cx="419.1" cy="176.9" r="2" fill="url(#slv)"/>
<circle cx="445" cy="171.7" r="2" fill="url(#slv)"/>
<circle cx="318.5" cy="200.5" r="2" fill="url(#slb)"/>
<circle cx="299.9" cy="155.8" r="2" fill="url(#ssb2)"/>
<circle cx="369" cy="286.5" r="2" fill="url(#ssb)"/>
<circle cx="377.3" cy="63" r="2" fill="url(#spu)"/>
<circle cx="251.4" cy="210.5" r="2" fill="url(#ssb2)"/>
<circle cx="428.4" cy="172.2" r="2" fill="url(#slv)"/>
<circle cx="463" cy="211.2" r="2" fill="url(#slv)"/>
<circle cx="474.3" cy="132" r="2" fill="url(#swl)"/>
<circle cx="386.4" cy="173.3" r="2.1" fill="url(#slb2)"/>
<circle cx="387.9" cy="255.4" r="2.1" fill="url(#ssb)"/>
<circle cx="417.9" cy="279.3" r="2.1" fill="url(#slb2)"/>
<circle cx="347.9" cy="86.9" r="2.1" fill="url(#spu)"/>
<circle cx="286.7" cy="253.5" r="2.1" fill="url(#ssb)"/>
<circle cx="432.1" cy="199.4" r="2.1" fill="url(#slv)"/>
<circle cx="461.9" cy="182.2" r="2.1" fill="url(#sor)"/>
<circle cx="317.8" cy="117.6" r="2.1" fill="url(#spu2)"/>
<circle cx="354.7" cy="78.3" r="2.1" fill="url(#ssb2)"/>
<circle cx="441.2" cy="263.3" r="2.1" fill="url(#ssb)"/>
<circle cx="357.9" cy="64.6" r="2.1" fill="url(#slb2)"/>
<circle cx="440.5" cy="101.2" r="2.1" fill="url(#spl)"/>
<circle cx="390.2" cy="88.3" r="2.2" fill="url(#spl)"/>
<circle cx="298.7" cy="229.8" r="2.2" fill="url(#ssb)"/>
<circle cx="432.7" cy="78" r="2.2" fill="url(#slv)"/>
<circle cx="389.2" cy="216.1" r="2.2" fill="url(#spl)"/>
<circle cx="423.5" cy="103.4" r="2.2" fill="url(#swl)"/>
<circle cx="417.6" cy="77.4" r="2.2" fill="url(#slv)"/>
<circle cx="466.5" cy="148.2" r="2.2" fill="url(#spk)"/>
<circle cx="381.5" cy="281.4" r="2.2" fill="url(#ssb)"/>
<circle cx="387.4" cy="276.8" r="2.2" fill="url(#ssb)"/>
<circle cx="283" cy="105.4" r="2.2" fill="url(#ssb2)"/>
<circle cx="255.3" cy="194.7" r="2.2" fill="url(#ssb)"/>
<circle cx="322.4" cy="63.8" r="2.2" fill="url(#spl)"/>
<circle cx="383.6" cy="254" r="2.2" fill="url(#ssb)"/>
<circle cx="391.6" cy="69" r="2.2" fill="url(#slv)"/>
<circle cx="466.9" cy="206.2" r="2.3" fill="url(#spk)"/>
<circle cx="410.8" cy="225" r="2.3" fill="url(#slv)"/>
<circle cx="273.8" cy="227" r="2.3" fill="url(#slb2)"/>
<circle cx="325" cy="182.8" r="2.3" fill="url(#spl)"/>
<circle cx="322.1" cy="128.5" r="2.3" fill="url(#ssb)"/>
<circle cx="410.1" cy="65.2" r="2.3" fill="url(#slv)"/>
<circle cx="351.9" cy="231.5" r="2.3" fill="url(#ssb2)"/>
<circle cx="316" cy="254.2" r="2.3" fill="url(#ssb)"/>
<circle cx="428.9" cy="81.2" r="2.3" fill="url(#slv)"/>
<circle cx="421.9" cy="275.7" r="2.3" fill="url(#slb2)"/>
<circle cx="301.7" cy="192.8" r="2.3" fill="url(#ssb)"/>
<circle cx="421.2" cy="144" r="2.3" fill="url(#spl)"/>
<circle cx="303.5" cy="248.2" r="2.4" fill="url(#ssb)"/>
<circle cx="299.7" cy="186.7" r="2.4" fill="url(#ssb)"/>
<circle cx="409.8" cy="195.5" r="2.4" fill="url(#slv)"/>
<circle cx="286.5" cy="91" r="2.4" fill="url(#slb2)"/>
<circle cx="294.9" cy="173.7" r="2.4" fill="url(#ssb)"/>
<circle cx="358" cy="168.8" r="2.4" fill="url(#slb2)"/>
<circle cx="357.6" cy="240.3" r="2.4" fill="url(#ssb)"/>
<circle cx="449.9" cy="248.1" r="2.4" fill="url(#ssb)"/>
<circle cx="304.5" cy="253.2" r="2.5" fill="url(#ssb)"/>
<circle cx="384.6" cy="212" r="2.5" fill="url(#spu)"/>
<circle cx="469.9" cy="165.9" r="2.5" fill="url(#slv)"/>
<circle cx="438.1" cy="97.5" r="2.5" fill="url(#slv)"/>
<circle cx="258.9" cy="180.9" r="2.5" fill="url(#ssb)"/>
<circle cx="282.2" cy="92.1" r="2.5" fill="url(#ssb2)"/>
<circle cx="421.5" cy="79.9" r="2.5" fill="url(#slv)"/>
<circle cx="433.9" cy="239.4" r="2.5" fill="url(#sor)"/>
<circle cx="300.2" cy="86.6" r="2.5" fill="url(#slb2)"/>
<circle cx="262.5" cy="233.8" r="2.5" fill="url(#slb2)"/>
<circle cx="411" cy="264.1" r="2.5" fill="url(#ssb)"/>
<circle cx="321" cy="204.8" r="2.5" fill="url(#slb2)"/>
<circle cx="273.5" cy="179.4" r="2.5" fill="url(#ssb2)"/>
<circle cx="461.1" cy="226.3" r="2.6" fill="url(#sor)"/>
<circle cx="345" cy="257.8" r="2.6" fill="url(#slb2)"/>
<circle cx="458.4" cy="196.1" r="2.6" fill="url(#slv)"/>
<circle cx="340.7" cy="289.5" r="2.6" fill="url(#slb2)"/>
<circle cx="397.9" cy="81.6" r="2.6" fill="url(#slv)"/>
<circle cx="473.1" cy="161.9" r="2.6" fill="url(#slv)"/>
<circle cx="424.1" cy="117.1" r="2.6" fill="url(#swl)"/>
<circle cx="415.3" cy="235.7" r="2.6" fill="url(#ssb)"/>
<circle cx="361.3" cy="183.1" r="2.6" fill="url(#ssb2)"/>
<circle cx="268.8" cy="208.9" r="2.6" fill="url(#ssb)"/>
<circle cx="352.7" cy="88.5" r="2.6" fill="url(#spu2)"/>
<circle cx="355.7" cy="95.5" r="2.7" fill="url(#ssb2)"/>
<circle cx="373.5" cy="211.6" r="2.7" fill="url(#slb)"/>
<circle cx="339.5" cy="110.9" r="2.7" fill="url(#ssb2)"/>
<circle cx="341.3" cy="157.1" r="2.7" fill="url(#slb2)"/>
<circle cx="298.6" cy="150.3" r="2.7" fill="url(#slb2)"/>
<circle cx="414.2" cy="169.3" r="2.7" fill="url(#smg)"/>
<circle cx="295" cy="243.7" r="2.7" fill="url(#ssb)"/>
<circle cx="338.2" cy="71.2" r="2.7" fill="url(#ssb2)"/>
<circle cx="320.6" cy="185.2" r="2.7" fill="url(#slb2)"/>
<circle cx="263.6" cy="181.9" r="2.7" fill="url(#slb2)"/>
<circle cx="330.8" cy="276.6" r="2.8" fill="url(#ssb)"/>
<circle cx="283.1" cy="228.4" r="2.8" fill="url(#ssb)"/>
<circle cx="310.2" cy="98.9" r="2.8" fill="url(#ssb2)"/>
<circle cx="281" cy="189.1" r="2.8" fill="url(#spu2)"/>
<circle cx="405.3" cy="82.9" r="2.8" fill="url(#slv)"/>
<circle cx="258.5" cy="162.5" r="2.8" fill="url(#ssb)"/>
<circle cx="294.9" cy="145.1" r="2.8" fill="url(#spu2)"/>
<circle cx="289.3" cy="227.4" r="2.8" fill="url(#ssb)"/>
<circle cx="321" cy="215.9" r="2.8" fill="url(#spl)"/>
<circle cx="368.6" cy="69.5" r="2.8" fill="url(#spl)"/>
<circle cx="300.4" cy="74.3" r="2.8" fill="url(#ssb)"/>
<circle cx="360.7" cy="222.7" r="2.8" fill="url(#smg)"/>
<circle cx="327.4" cy="63.1" r="2.8" fill="url(#spl)"/>
<circle cx="440.2" cy="173.6" r="2.9" fill="url(#sor)"/>
<circle cx="449.1" cy="221.6" r="2.9" fill="url(#slv)"/>
<circle cx="357.3" cy="291.9" r="2.9" fill="url(#ssb)"/>
<circle cx="298.2" cy="260.1" r="2.9" fill="url(#ssb)"/>
<circle cx="399.8" cy="129.9" r="2.9" fill="url(#swl)"/>
<circle cx="351.4" cy="82.9" r="2.9" fill="url(#spu)"/>
<circle cx="300.4" cy="81.2" r="2.9" fill="url(#spu2)"/>
<circle cx="326.2" cy="87.2" r="2.9" fill="url(#spu2)"/>
<circle cx="424.2" cy="254.8" r="3" fill="url(#slb2)"/>
<circle cx="341.7" cy="261.8" r="3" fill="url(#slb2)"/>
<circle cx="429.6" cy="157.7" r="3" fill="url(#slv)"/>
<circle cx="452.2" cy="209.1" r="3" fill="url(#sor)"/>
<circle cx="360.3" cy="163.9" r="3" fill="url(#spu)"/>
<circle cx="436.2" cy="234.3" r="3" fill="url(#spk)"/>
<circle cx="339.9" cy="120.3" r="3" fill="url(#smg)"/>
<circle cx="338.1" cy="222.3" r="3.1" fill="url(#smg)"/>
<circle cx="301.5" cy="118.1" r="3.1" fill="url(#ssb)"/>
<circle cx="376.7" cy="159.7" r="3.1" fill="url(#slb)"/>
<circle cx="400.2" cy="246" r="3.1" fill="url(#slb2)"/>
<circle cx="475.3" cy="185.6" r="3.1" fill="url(#sor)"/>
<circle cx="318.9" cy="122.7" r="3.2" fill="url(#ssb2)"/>
<circle cx="354.6" cy="157" r="3.2" fill="url(#spl)"/>
<circle cx="303.8" cy="229.7" r="3.2" fill="url(#ssb)"/>
<circle cx="388.5" cy="198.5" r="3.3" fill="url(#slv)"/>
<circle cx="398.3" cy="74.6" r="3.3" fill="url(#slv)"/>
<circle cx="422.7" cy="171.9" r="3.4" fill="url(#slv)"/>
<circle cx="323.9" cy="92.8" r="3.4" fill="url(#ssb)"/>
<circle cx="352.3" cy="274.8" r="3.4" fill="url(#ssb)"/>
<circle cx="438.5" cy="123.5" r="3.5" fill="url(#swl)"/>
<circle cx="464.1" cy="168.6" r="3.5" fill="url(#spk)"/>
<circle cx="260.5" cy="117.8" r="3.5" fill="url(#spu2)"/>
<circle cx="443.3" cy="147.8" r="3.5" fill="url(#spk)"/>
<circle cx="315.6" cy="269.9" r="3.6" fill="url(#ssb)"/>
<circle cx="427.9" cy="273.3" r="3.6" fill="url(#ssb)"/>
<circle cx="325.8" cy="124.2" r="3.6" fill="url(#slb2)"/>
<circle cx="339.8" cy="215" r="3.6" fill="url(#slb)"/>
<circle cx="359.2" cy="246.6" r="3.6" fill="url(#ssb)"/>
<circle cx="361.9" cy="69.7" r="3.6" fill="url(#spu2)"/>
<circle cx="410.9" cy="205.9" r="3.6" fill="url(#spk)"/>
<circle cx="266.1" cy="239.8" r="3.7" fill="url(#slb2)"/>
<circle cx="363.4" cy="289.7" r="3.7" fill="url(#ssb)"/>
<circle cx="316.5" cy="65.1" r="3.7" fill="url(#spu)"/>
<circle cx="328" cy="284.5" r="3.7" fill="url(#ssb)"/>
<circle cx="438" cy="154.6" r="3.7" fill="url(#slv)"/>
<circle cx="467.3" cy="199.7" r="3.8" fill="url(#slv)"/>
<circle cx="476.9" cy="151.6" r="3.8" fill="url(#spl)"/>
<circle cx="349.4" cy="58.7" r="3.9" fill="url(#slb2)"/>
<circle cx="439.2" cy="84.5" r="3.9" fill="url(#swl)"/>
<circle cx="474.4" cy="204.8" r="3.9" fill="url(#slv)"/>
<circle cx="476.1" cy="167.2" r="4" fill="url(#sor)"/>
<circle cx="321.5" cy="112.1" r="4" fill="url(#spu)"/>
<circle cx="302.4" cy="97.3" r="4" fill="url(#ssb2)"/>
<circle cx="412.6" cy="140.8" r="4" fill="url(#slv)"/>
<circle cx="275.1" cy="157.8" r="4.1" fill="url(#spu2)"/>
<circle cx="256.7" cy="188.8" r="4.1" fill="url(#ssb)"/>
<circle cx="404.4" cy="155.3" r="4.1" fill="url(#slv)"/>
<circle cx="418.8" cy="68.9" r="4.1" fill="url(#slv)"/>
<circle cx="283.5" cy="258.6" r="4.1" fill="url(#slb2)"/>
<circle cx="323.4" cy="253.4" r="4.1" fill="url(#ssb)"/>
<circle cx="426.9" cy="166.3" r="4.1" fill="url(#spk)"/>
<circle cx="268.9" cy="103.1" r="4.2" fill="url(#ssb)"/>
<circle cx="437.6" cy="254.1" r="4.2" fill="url(#ssb)"/>
<circle cx="384.4" cy="91.6" r="4.2" fill="url(#spl)"/>
<circle cx="334.3" cy="60.7" r="4.2" fill="url(#ssb2)"/>
<circle cx="369.2" cy="223.5" r="4.2" fill="url(#slb)"/>
<circle cx="298.5" cy="267.2" r="4.2" fill="url(#slb2)"/>
<circle cx="274.2" cy="186.2" r="4.2" fill="url(#slb2)"/>
<circle cx="332.6" cy="181.6" r="4.2" fill="url(#slb2)"/>
<circle cx="411.8" cy="280.2" r="4.2" fill="url(#ssb)"/>
<circle cx="286.9" cy="97.8" r="4.2" fill="url(#ssb2)"/>
<circle cx="427.4" cy="238.8" r="4.3" fill="url(#ssb)"/>
<circle cx="272.4" cy="121.1" r="4.3" fill="url(#ssb2)"/>
<circle cx="253.3" cy="170.2" r="4.3" fill="url(#ssb)"/>
<circle cx="379.8" cy="188.7" r="4.3" fill="url(#slb2)"/>
<circle cx="356.2" cy="178.8" r="4.3" fill="url(#spu)"/>
<circle cx="405.2" cy="121.4" r="4.3" fill="url(#slv)"/>
<circle cx="393" cy="273.7" r="4.3" fill="url(#ssb)"/>
<circle cx="349.4" cy="152.3" r="4.4" fill="url(#smg)"/>
<circle cx="245.2" cy="173.5" r="4.4" fill="url(#ssb2)"/>
<circle cx="408.5" cy="246.9" r="4.5" fill="url(#slb2)"/>
<circle cx="290.1" cy="266.1" r="4.5" fill="url(#slb2)"/>
<circle cx="294" cy="77.9" r="4.5" fill="url(#ssb2)"/>
<circle cx="370.2" cy="189.8" r="4.5" fill="url(#slb)"/>
<circle cx="270.4" cy="215.6" r="4.5" fill="url(#slb2)"/>
<circle cx="387.8" cy="233.5" r="4.6" fill="url(#slv)"/>
<circle cx="263.4" cy="204.6" r="4.6" fill="url(#ssb)"/>
<circle cx="422.8" cy="262.2" r="4.6" fill="url(#ssb)"/>
<circle cx="469.8" cy="225.3" r="4.6" fill="url(#spk)"/>
<circle cx="447.6" cy="255.4" r="4.6" fill="url(#ssb)"/>
<circle cx="286.6" cy="84.1" r="4.6" fill="url(#slb2)"/>
<circle cx="318.6" cy="261.1" r="4.7" fill="url(#ssb)"/>
<circle cx="249" cy="192.8" r="4.7" fill="url(#ssb)"/>
<circle cx="367.4" cy="254.1" r="4.7" fill="url(#ssb)"/>
<circle cx="375.8" cy="69.5" r="4.7" fill="url(#ssb2)"/>
<circle cx="389.7" cy="285.1" r="4.8" fill="url(#ssb)"/>
<circle cx="357.2" cy="55.8" r="4.8" fill="url(#slb2)"/>
<circle cx="310.4" cy="249.3" r="4.8" fill="url(#slb2)"/>
<circle cx="255" cy="137.5" r="4.8" fill="url(#spu2)"/>
<circle cx="437.6" cy="194.9" r="4.8" fill="url(#slv)"/>
<circle cx="390.3" cy="190.7" r="4.9" fill="url(#spk)"/>
<circle cx="415.1" cy="256.9" r="4.9" fill="url(#slb2)"/>
<circle cx="251" cy="147" r="4.9" fill="url(#ssb2)"/>
<circle cx="401.6" cy="165.3" r="5" fill="url(#sor)"/>
<circle cx="385.8" cy="180" r="5" fill="url(#spk)"/>
<circle cx="375.8" cy="56.2" r="5" fill="url(#spl)"/>
<circle cx="293.9" cy="119.8" r="5" fill="url(#ssb)"/>
<circle cx="448.1" cy="105.1" r="5" fill="url(#swl)"/>
<circle cx="333.8" cy="87" r="5" fill="url(#ssb2)"/>
<circle cx="443" cy="226.4" r="5" fill="url(#spk)"/>
<circle cx="426.2" cy="74.1" r="5" fill="url(#slv)"/>
<circle cx="342.2" cy="64.2" r="5.1" fill="url(#ssb2)"/>
<circle cx="365.7" cy="61.4" r="5.1" fill="url(#slb2)"/>
<circle cx="278" cy="98.8" r="5.2" fill="url(#ssb)"/>
<circle cx="480.2" cy="159.5" r="5.2" fill="url(#spk)"/>
<circle cx="429.4" cy="123.2" r="5.2" fill="url(#swl)"/>
<circle cx="417.1" cy="270.1" r="5.3" fill="url(#slb2)"/>
<circle cx="336.7" cy="282.9" r="5.3" fill="url(#slb2)"/>
<circle cx="353.8" cy="266" r="5.3" fill="url(#slb2)"/>
<circle cx="339.6" cy="175.6" r="5.4" fill="url(#ssb2)"/>
<circle cx="250.9" cy="181.6" r="5.4" fill="url(#ssb)"/>
<circle cx="417.8" cy="228.4" r="5.4" fill="url(#slv)"/>
<circle cx="294.6" cy="92.4" r="5.4" fill="url(#slb2)"/>
<circle cx="302.7" cy="178.7" r="5.4" fill="url(#ssb)"/>
<circle cx="430" cy="146.2" r="5.4" fill="url(#slv)"/>
<circle cx="370.5" cy="278.9" r="5.4" fill="url(#ssb)"/>
<circle cx="319.5" cy="101.3" r="5.5" fill="url(#ssb)"/>
<circle cx="262.9" cy="143.3" r="5.5" fill="url(#ssb)"/>
<circle cx="267.3" cy="112.8" r="5.5" fill="url(#spu2)"/>
<circle cx="464.9" cy="234" r="5.6" fill="url(#spk)"/>
<circle cx="457.9" cy="102.5" r="5.6" fill="url(#swl)"/>
<circle cx="447.3" cy="157.4" r="5.6" fill="url(#spk)"/>
<circle cx="416.3" cy="121.3" r="5.6" fill="url(#spl)"/>
<circle cx="351.2" cy="70" r="5.6" fill="url(#ssb)"/>
<circle cx="429.9" cy="248.5" r="5.7" fill="url(#ssb)"/>
<circle cx="305.9" cy="275" r="5.7" fill="url(#ssb)"/>
<circle cx="376.6" cy="288.4" r="5.7" fill="url(#ssb)"/>
<circle cx="265.9" cy="226.4" r="5.7" fill="url(#spu2)"/>
<circle cx="403.8" cy="271.9" r="5.8" fill="url(#ssb)"/>
<circle cx="377" cy="258.3" r="5.8" fill="url(#ssb)"/>
<circle cx="346.9" cy="284.3" r="5.8" fill="url(#slb2)"/>
<circle cx="295.9" cy="165.3" r="5.8" fill="url(#spu2)"/>
<circle cx="481" cy="178.2" r="5.8" fill="url(#slv)"/>
<circle cx="286.7" cy="245.1" r="5.8" fill="url(#ssb)"/>
<circle cx="393.9" cy="224.3" r="5.8" fill="url(#spl)"/>
<circle cx="459.3" cy="204" r="5.9" fill="url(#sor)"/>
<circle cx="476" cy="195.8" r="5.9" fill="url(#sor)"/>
<circle cx="275.8" cy="249.8" r="5.9" fill="url(#ssb)"/>
<circle cx="308.7" cy="71.7" r="5.9" fill="url(#slb2)"/>
<circle cx="295.2" cy="252" r="6" fill="url(#ssb)"/>
<circle cx="260.1" cy="214.7" r="6" fill="url(#ssb)"/>
<circle cx="457.1" cy="243.8" r="6" fill="url(#slb2)"/>
<circle cx="307.6" cy="261" r="6" fill="url(#ssb)"/>
<circle cx="399.5" cy="64.9" r="6" fill="url(#swl)"/>
<circle cx="293.5" cy="191.8" r="6" fill="url(#slb2)"/>
<circle cx="291.8" cy="235.5" r="6.1" fill="url(#ssb)"/>
<circle cx="253.6" cy="202.9" r="6.1" fill="url(#ssb)"/>
<circle cx="447.2" cy="199.6" r="6.1" fill="url(#slv)"/>
<circle cx="279.5" cy="112.9" r="6.1" fill="url(#spu2)"/>
<circle cx="342.3" cy="271" r="6.1" fill="url(#ssb)"/>
<circle cx="380.3" cy="273.1" r="6.1" fill="url(#ssb)"/>
<circle cx="433.2" cy="263.1" r="6.2" fill="url(#ssb)"/>
<circle cx="457.7" cy="218.2" r="6.2" fill="url(#spk)"/>
<circle cx="470.3" cy="214.4" r="6.2" fill="url(#slv)"/>
<circle cx="466.1" cy="189.6" r="6.2" fill="url(#sor)"/>
<circle cx="321.3" cy="277.2" r="6.2" fill="url(#slb2)"/>
<circle cx="361.7" cy="232.1" r="6.3" fill="url(#spl)"/>
<circle cx="260.4" cy="127.2" r="6.3" fill="url(#ssb2)"/>
<circle cx="359" cy="281.4" r="6.3" fill="url(#ssb)"/>
<circle cx="392.5" cy="208.2" r="6.3" fill="url(#smg)"/>
<circle cx="472.7" cy="141.6" r="6.3" fill="url(#sor)"/>
<circle cx="250.2" cy="159.4" r="6.3" fill="url(#ssb2)"/>
<circle cx="400.4" cy="282.5" r="6.3" fill="url(#slb2)"/>
<circle cx="302.7" cy="239.7" r="6.3" fill="url(#ssb)"/>
<circle cx="264.1" cy="154.9" r="6.4" fill="url(#spu2)"/>
<circle cx="387.1" cy="61.8" r="6.4" fill="url(#slb2)"/>
<circle cx="277.5" cy="235.9" r="6.4" fill="url(#ssb)"/>
<circle cx="273.4" cy="132.6" r="6.4" fill="url(#ssb)"/>
<circle cx="401.9" cy="200.2" r="6.4" fill="url(#spk)"/>
<circle cx="418.8" cy="243.9" r="6.5" fill="url(#slb2)"/>
<circle cx="388.7" cy="263.5" r="6.5" fill="url(#ssb)"/>
<circle cx="453.6" cy="231.4" r="6.6" fill="url(#sor)"/>
<circle cx="361.3" cy="102.9" r="6.6" fill="url(#spu)"/>
<circle cx="353.9" cy="254.9" r="6.6" fill="url(#ssb)"/>
<circle cx="438" cy="164.6" r="6.7" fill="url(#sor)"/>
<circle cx="281.2" cy="219.6" r="6.7" fill="url(#ssb2)"/>
<circle cx="415.2" cy="87.1" r="6.7" fill="url(#spl)"/>
<circle cx="367.7" cy="265.7" r="6.8" fill="url(#ssb)"/>
<circle cx="331.6" cy="115.6" r="6.8" fill="url(#spk)"/>
<circle cx="469.3" cy="177.7" r="6.8" fill="url(#sor)"/>
<circle cx="347.4" cy="184.5" r="6.8" fill="url(#ssb2)"/>
<circle cx="342.9" cy="79.5" r="6.8" fill="url(#ssb2)"/>
<circle cx="284.2" cy="125.8" r="6.8" fill="url(#spu2)"/>
<circle cx="446.7" cy="94.2" r="6.8" fill="url(#swl)"/>
<circle cx="408.3" cy="73.9" r="6.8" fill="url(#swl)"/>
<circle cx="429.5" cy="227.6" r="6.8" fill="url(#slv)"/>
<circle cx="439.6" cy="138.3" r="6.8" fill="url(#spl)"/>
<circle cx="280.9" cy="167.3" r="6.8" fill="url(#spu2)"/>
<circle cx="409.8" cy="131" r="6.8" fill="url(#slv)"/>
<circle cx="442.6" cy="241.9" r="7.1" fill="url(#slb2)"/>
<circle cx="336.4" cy="253.6" r="7.1" fill="url(#slb2)"/>
<circle cx="286.7" cy="138.7" r="7.1" fill="url(#ssb)"/>
<circle cx="266.6" cy="194.3" r="7.1" fill="url(#ssb)"/>
<circle cx="330.2" cy="209.3" r="7.2" fill="url(#slb)"/>
<circle cx="346.3" cy="96.4" r="7.2" fill="url(#spk)"/>
<circle cx="463.6" cy="157.4" r="7.2" fill="url(#sor)"/>
<circle cx="388" cy="245.4" r="7.2" fill="url(#slb2)"/>
<circle cx="329.2" cy="264.7" r="7.3" fill="url(#ssb)"/>
<circle cx="453.2" cy="167.8" r="7.3" fill="url(#sor)"/>
<circle cx="310.7" cy="188.4" r="7.4" fill="url(#slb2)"/>
<circle cx="380.4" cy="221.5" r="7.6" fill="url(#slb2)"/>
<circle cx="289.6" cy="154.5" r="7.6" fill="url(#ssb)"/>
<circle cx="399.6" cy="91.3" r="7.6" fill="url(#spl)"/>
<circle cx="357.9" cy="192.5" r="7.7" fill="url(#ssb2)"/>
<circle cx="402.4" cy="257.5" r="7.8" fill="url(#ssb)"/>
<circle cx="425.2" cy="134.7" r="7.9" fill="url(#swl)"/>
<circle cx="421.7" cy="198.2" r="7.9" fill="url(#spl)"/>
<circle cx="348.5" cy="221.7" r="7.9" fill="url(#smg)"/>
<circle cx="275.1" cy="146.1" r="7.9" fill="url(#spu2)"/>
<circle cx="286.4" cy="180" r="7.9" fill="url(#ssb)"/>
<circle cx="388" cy="78.4" r="7.9" fill="url(#slv)"/>
<circle cx="324.8" cy="73.9" r="7.9" fill="url(#ssb2)"/>
<circle cx="295.5" cy="107.7" r="7.9" fill="url(#ssb2)"/>
<circle cx="309.7" cy="111.6" r="7.9" fill="url(#spu)"/>
<circle cx="347.8" cy="165.9" r="8.1" fill="url(#slb)"/>
<circle cx="346.2" cy="239.8" r="8.1" fill="url(#ssb)"/>
<circle cx="344.9" cy="202.8" r="8.4" fill="url(#slb)"/>
<circle cx="376.4" cy="200.6" r="8.4" fill="url(#spl)"/>
<circle cx="428.6" cy="91.9" r="8.6" fill="url(#slv)"/>
<circle cx="404.6" cy="216.3" r="8.6" fill="url(#spl)"/>
<circle cx="455.7" cy="146.1" r="9" fill="url(#slv)"/>
<circle cx="266.1" cy="170.9" r="9" fill="url(#ssb)"/>
<circle cx="403.8" cy="234.1" r="9" fill="url(#slb2)"/>
<circle cx="333.8" cy="100.9" r="9" fill="url(#spu)"/>
<circle cx="420.7" cy="213.8" r="9" fill="url(#slv)"/>
<circle cx="281.9" cy="202.5" r="9" fill="url(#ssb)"/>
<circle cx="434.3" cy="110" r="9" fill="url(#slv)"/>
<circle cx="388.7" cy="162.4" r="9.2" fill="url(#smg)"/>
<circle cx="361.5" cy="210.7" r="9.2" fill="url(#smg)"/>
<circle cx="328.3" cy="194.1" r="9.3" fill="url(#spu)"/>
<circle cx="417.4" cy="157.4" r="9.5" fill="url(#smg)"/>
<circle cx="429.8" cy="183.3" r="9.5" fill="url(#slv)"/>
<circle cx="397" cy="143.8" r="10.2" fill="url(#spu)"/>
<circle cx="351.9" cy="115.6" r="10.2" fill="url(#spu)"/>
<circle cx="374.5" cy="240.9" r="10.2" fill="url(#slb2)"/>
<circle cx="312.4" cy="86.3" r="10.2" fill="url(#ssb2)"/>
<circle cx="450.1" cy="184.5" r="10.2" fill="url(#slv)"/>
<circle cx="437.7" cy="211.6" r="10.2" fill="url(#slv)"/>
<circle cx="371.1" cy="173.2" r="11.3" fill="url(#spu)"/>
<circle cx="410.6" cy="105.5" r="11.3" fill="url(#slv)"/>
<circle cx="367.7" cy="85.1" r="12.4" fill="url(#spl)"/>
<circle cx="404.9" cy="181.1" r="12.4" fill="url(#sor)"/>
<circle cx="307.9" cy="134.8" r="13.5" fill="url(#slb2)"/>
<circle cx="336.1" cy="139.3" r="14.7" fill="url(#slb)"/>
<circle cx="458" cy="123.5" r="15.8" fill="url(#smg)"/>
<circle cx="303.4" cy="210.4" r="15.8" fill="url(#ssb)"/>
<circle cx="323.7" cy="234.1" r="15.8" fill="url(#ssb)"/>
<circle cx="367.7" cy="141.6" r="17.6" fill="url(#spu)"/>
<circle cx="319.2" cy="163" r="18.1" fill="url(#slb)"/>
<circle cx="383.5" cy="114.5" r="19.2" fill="url(#slb)"/>
</g>
<mask id="smask" maskUnits="userSpaceOnUse" x="230" y="40" width="270" height="270"><use href="#balls" filter="url(#towhite)"/></mask>
</defs>
<g filter="url(#sblur)">
<use href="#balls"/>
<g mask="url(#smask)">
<circle cx="363.7" cy="173.8" r="125.5" fill="url(#sleft)"/>
<circle cx="363.7" cy="173.8" r="125.5" fill="url(#sshade)"/>
</g>
<circle cx="363.7" cy="173.8" r="125.5" fill="url(#swhite)"/>
<circle cx="363.7" cy="173.8" r="125.5" fill="url(#smist)"/>
</g>
<text x="366.8" y="37.6" font-family="'Liberation Sans', Arial, sans-serif" font-size="24" font-weight="bold" fill="#29abe2" text-anchor="middle" >Bi@NC</text>
<text x="72" y="182.3" font-family="'Liberation Sans', Arial, sans-serif" font-size="24" font-weight="normal" fill="#000" text-anchor="start" >Without KCl</text>
<text x="78.5" y="552.5" font-family="'Liberation Sans', Arial, sans-serif" font-size="24" font-weight="normal" fill="#000" text-anchor="start" >With KCl</text>
<text x="371.5" y="366" font-family="'Liberation Serif', 'Times New Roman', serif" font-size="24" font-weight="bold" fill="#e84fb0" text-anchor="middle" >Bi/BiOCl@NC</text>
</g>
<g id="panel_bc">
<svg x="650" y="38" width="303" height="302" viewBox="0 0 303 302">
<defs>
<filter id="bgrain" x="0" y="0" width="100%" height="100%" color-interpolation-filters="sRGB">
<feTurbulence type="fractalNoise" baseFrequency="0.7" numOctaves="2" seed="2" result="t"/>
<feColorMatrix in="t" values="1 0 0 0 0  1 0 0 0 0  1 0 0 0 0  0 0 0 0 .22"/>
</filter>
<filter id="bb2" x="-50%" y="-50%" width="200%" height="200%"><feGaussianBlur stdDeviation="2"/></filter>
<filter id="brough" x="-5%" y="-5%" width="110%" height="110%"><feTurbulence type="fractalNoise" baseFrequency="0.09" numOctaves="2" seed="6" result="t"/><feDisplacementMap in="SourceGraphic" in2="t" scale="11" xChannelSelector="R" yChannelSelector="G"/><feGaussianBlur stdDeviation="1.3"/></filter>
<filter id="bb4" x="-50%" y="-50%" width="200%" height="200%"><feGaussianBlur stdDeviation="5"/></filter>
<filter id="bb1" x="-50%" y="-50%" width="200%" height="200%"><feGaussianBlur stdDeviation="0.7"/></filter>
<filter id="bb05" x="-50%" y="-50%" width="200%" height="200%"><feGaussianBlur stdDeviation="0.35"/></filter>
<radialGradient id="bg1" cx=".5" cy=".45" r=".6"><stop offset="0" stop-color="#a8a8a8"/><stop offset=".7" stop-color="#a0a0a0"/><stop offset="1" stop-color="#a6a6a6"/></radialGradient>
<radialGradient id="bg2" cx=".5" cy=".45" r=".6"><stop offset="0" stop-color="#9a9a9a"/><stop offset=".7" stop-color="#909090"/><stop offset="1" stop-color="#8c8c8c"/></radialGradient>
<linearGradient id="bdisk" x1="0" y1="0" x2="0.2" y2="1"><stop offset="0" stop-color="#9a9a9a"/><stop offset=".8" stop-color="#a6a6a6"/><stop offset="1" stop-color="#c0c0c0"/></linearGradient>
<g id="bfib" fill="none" stroke-linecap="round" stroke-linejoin="round">
<path d="M-0.1 148.3l0.4 2.8 0.3 2.8 1.9 2.1 1.6 2.3 2 2 1.4 2.4 1.1 2.6M238.6 128.8l0 2.8 0.4 2.8 1.6 2.3 0.9 2.7 2 1.9 1.5 2.4M96.6 57.6l1.1 2.6 0.3 2.8 1.9 2 0.8 2.7 1.8 2.2 2.1 1.8 1.3 2.5M48.4 255.3l-1 2.6 -1.4 2.5 -1.7 2.2 -0.5 2.8 -1.6 2.3 0.2 2.8 -0.2 2.8 0.2 2.8 1.5 2.4 0.9 2.7M204.5 4.2l1.3 2.5 2.7 0.8 2.1 1.9 2.7 0.5 1.7 2.2 2.1 1.9 1.5 2.4 1.2 2.5 0.8 2.7 -0.2 2.8 0.8 2.7M115.6 38.3l-0.7 2.7 -0.9 2.7 -0.5 2.8 0.7 2.7 1.6 2.3 0.9 2.7 2.3 1.6 2.1 1.8 1.3 2.5 1.2 2.5M158.7 131.3l0.9 2.6 1.9 2.1 0.6 2.7 2 1.9 2.3 1.7 1.5 2.3 1.5 2.3 2.7 0.7 2.8 0M-1 108.9l2.3 -1.6 2.6 -1.1 2.8 -0.4 2.6 1 2.3 1.7 2.1 1.9M87.4 255.4l-1 2.6 -1.6 2.3 -1.7 2.3 -1.5 2.4 -1.2 2.5 -0.9 2.7 -1.7 2.2 -2 2M156.4 110.2l-0.7 2.7 1.2 2.5 1.3 2.5 1.1 2.6 1 2.6 1.6 2.3 0.2 2.8 0.9 2.6 1.4 2.4M177.6 76.4l-2.1 1.9 -1.5 2.3 -1.8 2.2 -2 2 -2.4 1.4 -1.7 2.3 -2.4 1.5 -2.3 1.7M184.9 2.2l0 2.8 0.4 2.8 1 2.6 1.4 2.4 1.3 2.5M316.8 113.2l-0.5 2.7 -0.3 2.8 -0.4 2.8 0.4 2.8M303.4 99.9l2.3 1.6 1.7 2.3 1 2.6 0.2 2.8 -0 2.8 -1 2.6 0.5 2.8 0.4 2.8 0.5 2.8 1 2.6 0.9 2.6M94 7.5l-2.2 1.7 -1 2.6 -1.8 2.1 -1.7 2.2M184.3 118.1l-2.7 0.7 -2.7 0.7 -2 2 -1.9 2.1 -2.1 1.9 -0.7 2.7M37.2 154.3l-1.8 2.1 -0.5 2.8 0.5 2.8 1.3 2.5 1.8 2.1 2.5 1.2 2.5 1.2 2.6 1M81 266.1l-1.6 2.3 -1.1 2.6 -1.1 2.6 -0.9 2.7 -1.6 2.3 -1.3 2.5 -0.8 2.7 -1.8 2.2 -2.1 1.9 -0.9 2.6M260.2 30.2l-1.1 2.6 -1.1 2.6 -2 2 -1.5 2.4 -1.6 2.3 -2.5 1.2 -1.9 2 -2.4 1.4 -2.4 1.4M38.6 272.8l0.3 2.8 1.3 2.5 1.2 2.5 1 2.6 2.1 1.9 1.1 2.6 1.3 2.5 1 2.6 1 2.6 0.3 2.8 -0.5 2.8M262.1 118l2.4 -1.4 2.7 -0.7 2.6 -0.9 2.7 -0.7M197.7 61l-2.1 1.9 -1.1 2.6 -2.3 1.6 -1.8 2.1 -1.7 2.2M74.7 24l-0.3 2.8 -0.2 2.8 -0.9 2.7 -1.4 2.4 0 2.8 -1.1 2.6 -1.4 2.4 -0.4 2.8M183.8 203l2 1.9 2.1 1.8 1.9 2 1.1 2.6 1.9 2.1 1.6 2.3 0.8 2.7 0.1 2.8 1.7 2.2 2.1 1.8M275.8 152.1l0.9 2.6 -0.1 2.8 1 2.6 0.8 2.7 0.9 2.7M185.5 140l1.4 2.4 1.7 2.2 1.8 2.1 1.2 2.5 0.7 2.7 0.9 2.7 -0.4 2.8 1 2.6 0.4 2.8M128.8 310.6l1.7 2.2 2.4 1.4 1.9 2.1 2 2 0.8 2.7M39.6 318.9l-2.2 1.8 -1.7 2.2 -2.5 1.2 -2.4 1.4 -1.4 2.4 -1.8 2.2 -1.2 2.6 -1.1 2.6 -2.2 1.7 -1 2.6 -2 1.9M301.2 118.7l-0.4 2.8 1.1 2.6 -0.1 2.8 0.8 2.7 -0 2.8 0.2 2.8M123.8 54.8l1.5 2.4 1.8 2.2 1.2 2.5 2.2 1.7 2.4 1.4 2.4 1.4M223.7 2.2l0.1 2.8 1.3 2.5 1.2 2.5 -0.7 2.7 -1 2.6 -0.3 2.8 0.5 2.8 0.1 2.8 -1.2 2.5 -1.2 2.5M187.8 318.4l-2.3 1.7 -0.7 2.7 -0.3 2.8 -0.1 2.8 -0.8 2.7 -0.3 2.8 -1.1 2.6M8.8 62.1l1 2.6 0.4 2.8 0.2 2.8 1.5 2.4 1.9 2 2.3 1.6 2.8 0.3 2.8 -0.1 2.7 0.8 2.7 0.8M180.8 -6.7l0.3 2.8 0.2 2.8 -0.2 2.8 -0.2 2.8M190.2 29.9l2.7 -0.6 2.6 -1 2.7 0.6 2.8 -0.4 2.8 0.1 2.1 1.8 2.3 1.6 1.7 2.2 0.4 2.8 -0.3 2.8 -1 2.6M49.4 37.2l0.2 2.8 -0 2.8 -0.5 2.8 1 2.6 1.8 2.1 1.2 2.5 0.9 2.7 0.7 2.7 -0.5 2.7 0.7 2.7 0.1 2.8M132.7 256.7l2.8 0.4 2.8 -0.3 2.8 -0.1 2.8 0.1 2.5 1.2 2.8 0.3 2.5 1.2 2.4 1.4 1.9 2M120.6 206.3l-1.9 2.1 -2.7 0.7 -2.8 0.5 -2.4 1.4 -2.5 1.3 -2.6 1.1 -2.8 -0.3 -2.7 0.7M92.5 51.2l-2.2 1.7 -2.3 1.6 -1.8 2.2 -0.9 2.6 -1.1 2.6M172.7 18.5l1.2 2.5 2 1.9 2.2 1.7 2.3 1.6 2.8 -0.1 2.6 -0.9 2.8 -0.5 2.8 0.2 2.7 -0.9 2.8 -0.3M206.1 77l-2.8 0.5 -2.3 1.6 -2.5 1.3 -2.6 0.9 -2.4 1.4 -1.8 2.2M302.6 85.9l2.7 0.6 2.5 1.2 2 2 1.9 2.1 1.2 2.5 -0.2 2.8 0.5 2.8 0.3 2.8 -1.4 2.4M71 271.9l-0.3 2.8 -1 2.6 -0.3 2.8 -0.7 2.7 -0.4 2.8M249.3 286l-2.5 1.3 -2.2 1.7 -2.5 1.3 -2.6 1.1 -2.8 0.5 -2.7 0.6 -2.6 0.9 -2.5 1.3 -2.6 1.1 -2.5 1.2M55.3 171.4l2.5 1.2 2.5 1.2 1.5 2.4 1.6 2.3 1.8 2.2 1.5 2.4M175 229.8l2 2 1.9 2 2.2 1.8 1.7 2.2 1.8 2.2M96.7 17.6l-2.5 1.2 -2.2 1.7 -2.6 1 -2.4 1.5 -1.6 2.3 -2.1 1.9 -1.1 2.6 -1.8 2.1 -1 2.6M89.2 22.6l-2.3 1.6 -1.9 2.1 -2.5 1.3 -2.2 1.8 -1.2 2.5 -0.8 2.7 -1.4 2.4 -2.1 1.8 -1.5 2.4M26.8 -6.8l1.6 2.3 2.6 1.2 2.7 0.8 2.4 1.5 2.5 1.3 2.7 -0.7M90.3 89.3l-1 2.6 -0.3 2.8 -1.5 2.4 -1.3 2.5 -1.9 2 -2.5 1.2 -2.5 1.3 -2.7 0.5 -2.7 0.6 -2.6 1.1M2.1 268.2l2.1 1.8 2.2 1.8 2.2 1.7 2.3 1.6 1.5 2.3 1.5 2.4 1.9 2 1.6 2.3 1 2.6 1.8 2.1M5.4 159.8l1.6 2.3 1.8 2.1 0.2 2.8 -0.2 2.8 0.8 2.7 0.6 2.7 0.4 2.8 1.2 2.5M76.7 47.5l-2.2 1.8 -2.1 1.8 -1.8 2.2 -2.6 1.2 -2.3 1.7 -2 2 -1.4 2.4 -1 2.6M238 238.7l-1.6 2.3 -2 2 -1.6 2.3 -1.3 2.5 -1.7 2.2 -2.1 1.8 -1.7 2.2M215.9 188.7l-2.4 1.4 -1 2.6 -1.9 2 -0.6 2.7 -1.4 2.4 -1.2 2.5 -1.4 2.4 -0.8 2.7M275 279.7l2.2 1.7 2.2 1.8 2.2 1.8 2.5 1.2 2.5 1.3 1 2.6 2.1 1.8 1.1 2.6 1.3 2.5M198.4 5.1l2 2 2 1.9 2.7 0.9 2.6 1.1 2.6 1.1 2.4 1.4 1.8 2.2 1.6 2.3M182.5 257l2.8 -0.4 2.6 1 2.8 0.2 2.7 0.8M250.2 149.2l0.1 2.8 -1.1 2.6 -2.4 1.5 -1.7 2.2 -2.5 1.2 -2.7 0.7 -1.8 2.2 -2.7 0.7 -2.6 1.1 -2.4 1.4 -2.6 1.1M-5.3 227.3l-0.5 2.8 -0.6 2.7 -1.1 2.6 -0.1 2.8 -1.3 2.5 -2.3 1.6M247.1 103.4l1.5 2.4 1.2 2.5 1.4 2.4 1.3 2.5 1.9 2.1 2 2 2.8 0.5 2.8 -0.1 2.8 -0.3 2.7 -0.9M-10 30.6l-2.3 1.6 -2.5 1.3 -2.5 1.2 -2.8 -0.3 -2.8 -0 -2.8 -0.4M203.9 152.8l-1.8 2.1 -1.8 2.1 -0.7 2.7 -1.8 2.2 -1.9 2.1M233.5 240.7l-0.9 2.7 -1.6 2.3 -1.9 2 -2.5 1.3 -2.5 1.3M254.4 73.1l1 2.6 0.7 2.7 0.9 2.6 1.4 2.4 1.6 2.3 1.8 2.1 0.9 2.6 1.3 2.5 1.3 2.5 2 1.9M-1.9 200l0.8 2.7 0.1 2.8 1.1 2.6 1.8 2.2 2 1.9 2 2 2.4 1.5 1.3 2.5 1.5 2.4 1.6 2.3M184.9 283.7l-2.8 0.3 -2.6 1.1 -2 2 -2.5 1.3 -1.5 2.4 -2.5 1.2 -1.5 2.4 -2.4 1.4 -2.2 1.8 -2.2 1.7 -1.8 2.1M-1.2 261.8l0.4 2.8 0 2.8 1.2 2.5 1.5 2.3 2.2 1.8 2.2 1.8 2.1 1.9M284 180.2l-1.3 2.5 -1.9 2.1 -0.8 2.7 -1.7 2.3 -2 2 -2.2 1.7 -2.2 1.7 -2.6 1.1 -1.8 2.1 -2.3 1.5M156.7 267.6l2.1 1.8 2.6 1 2.3 1.6 2.3 1.5 2.8 0 2.5 1.3 2 2 1.7 2.2 0.8 2.7M55.7 264.5l-0.9 2.7 0.7 2.7 0.4 2.8 0.7 2.7 0.2 2.8 1.3 2.5 0.9 2.6 1 2.6 -0.7 2.7 0.2 2.8 -1.7 2.2M297.7 191.6l1.4 2.4 2.6 1 2.8 -0.2 2.8 0.2 2.5 -1.3 2.7 -0.7 2.5 -1.3M220 256.8l-2.4 1.5 -1.8 2.1 -2.5 1.2 -2.6 1 -2.2 1.8 -2.5 1.3 -2.4 1.5 -2.6 1.1 -2.3 1.6 -2.3 1.6 -2.2 1.8M270 151.1l-0.9 2.6 -0.7 2.7 -1.4 2.4 -1 2.6M306.7 153.3l0.6 2.7 -0.4 2.8 -0.3 2.8 -1.2 2.5M262 320.8l2 2 2.7 0.6 2.7 0.6 2.4 1.5 2.8 0.5 2.8 -0.5 2.8 0 2.7 0.6 2.7 0.6 2.8 -0.1 2.8 0.4M147.8 173.9l2 2 2.3 1.5 2.4 1.4 2.7 0.7 2.2 1.7 1.3 2.5 2 1.9 0.9 2.7M223.4 195l-2.8 0.4 -2.5 1.3 -2.3 1.6 -2.5 1.2 -1.8 2.1 -1.6 2.3 -0.8 2.7 -1.2 2.5 -0.5 2.7M211.1 288.4l-2.6 1 -2.2 1.7 -2.4 1.4 -2.8 0 -2.7 0.8 -2.6 1 -2.7 -0.6 -2.7 -0.8M291.6 40.7l2.2 1.8 2.1 1.9 0.6 2.7 1.6 2.3 0 2.8 0.4 2.8 -0.4 2.8 -0.5 2.7M323.5 130.7l-1.9 2 -0.6 2.7 -1.9 2.1 -1.4 2.4M76.6 276.5l-1.9 2 -1.5 2.4 -1.3 2.5 -1.1 2.6 -1.8 2.2M202.6 119.4l-0.1 2.8 -0.4 2.8 -0.1 2.8 -0.1 2.8 0.7 2.7 1 2.6 0.6 2.7 0.6 2.7 -0.2 2.8 -0.5 2.7 -1.8 2.2M115.4 218.2l-2.1 1.8 -2.6 1 -2.5 1.2 -2.7 0.7 -2.7 0.7 -1.9 2.1 -2.2 1.8 -1.9 2.1 -2.7 0.8 -2.1 1.9M104.7 124.5l-0.1 2.8 -0.6 2.7 -1.3 2.5 -1 2.6 -1.4 2.4 -1.9 2.1 -1.7 2.3M245.9 106.4l1.4 2.4 1.7 2.2 1 2.6 2.3 1.5 1.7 2.2 2.3 1.6M269.6 58.4l0.1 2.8 0.4 2.8 1 2.6 0.5 2.8 0.2 2.8 0.1 2.8M141.2 327.4l0.1 2.8 0.5 2.8 -0.8 2.7 0.7 2.7 0.8 2.7 1.2 2.5M293.6 281.8l0.2 2.8 1.3 2.5 -0.1 2.8 -0.2 2.8 0.7 2.7 1.5 2.3M31.4 45.5l-1 2.6 -0.3 2.8 0 2.8 0.8 2.7 0.6 2.7 0.7 2.7 1.8 2.1 1.5 2.4 2.3 1.6M128.2 14.6l-2.7 0.9 -2.8 -0.4 -2.6 -1.1 -2.7 -0.6 -2 -2M188.9 9.2l1.8 2.1 1.8 2.1 2.8 0.4 2.7 0.8 2.8 0.1 2.8 0.2 2.8 -0 2.8 -0.2 2.6 0.9M297.4 189.7l1.8 2.2 2.3 1.6 2.5 1.2 2.8 0.1 2.8 -0.5 2.8 -0.4 2.6 -1.1 2.8 -0.4 2.7 -0.8 2.8 -0.1 2.8 -0.4M229.6 213.9l2 2 1.9 2.1 1.2 2.5 0.3 2.8 -0.2 2.8 -0.6 2.7 -0.8 2.7 -1.3 2.5 -0 2.8M256.2 137.4l2.7 0.7 2.3 1.7 2.1 1.8 1.6 2.3 0.3 2.8 0.1 2.8 -1.2 2.5M275 267.2l-0 2.8 -0.4 2.8 0.9 2.6 0.2 2.8 1.5 2.3 1.8 2.2 2 1.9M276.3 166.5l0.2 2.8 0.4 2.8 -0.6 2.7 0.4 2.8 -0.1 2.8 -0.3 2.8 -1.7 2.2 -1.3 2.5 -1.1 2.6 -2 2 -2.2 1.8M187.7 303.4l-2.5 1.2 -2.8 -0.3 -2.8 0.3 -2.7 -0.6 -2.7 -0.8 -2.8 0.2 -2.8 -0.1M17.6 159.7l0.9 2.7 0.5 2.8 0.8 2.7 0.1 2.8 0.5 2.8 1.1 2.6 1.4 2.4 2 2M37.1 190.3l2.4 -1.4 2.8 -0.4 2.8 0 2.8 0.5 2.8 -0 2.2 1.7 1.8 2.1 1.5 2.3 2 2M182.4 85.3l-2.3 1.6 -2 1.9 -2.4 1.4 -1.4 2.4 -1.1 2.6 -2 2 -2.2 1.7 -0.5 2.7 -1.7 2.2 -1.6 2.3M311.3 2.2l2.8 0.3 2.5 1.3 2.7 0.8 2.6 -1.2 2.4 -1.5 2.8 0.1 2.3 -1.6 2.4 -1.4 2.4 -1.5M8 249.9l-1.3 2.5 0.2 2.8 0.1 2.8 1.3 2.5 0.9 2.7 1.2 2.5 1.5 2.3 2.1 1.8M316.3 78.6l1.2 2.5 0.5 2.8 0.8 2.7 -0.2 2.8 0.3 2.8 -0.7 2.7 -0.2 2.8 -1.4 2.4 -0.2 2.8 -0.4 2.8M5 51.7l0.6 2.7 0.7 2.7 1.2 2.5 1 2.6 1.2 2.5 -0.4 2.8 0 2.8M300.9 261l1.3 2.5 1.8 2.1 1.4 2.4 -0.2 2.8 0.7 2.7 -0.5 2.8 -0.6 2.7 0.3 2.8 -0.7 2.7M189.7 270.7l0.5 2.8 -2 2 -0.9 2.6 -2.3 1.6 -2.3 1.6 -2.1 1.8 -1.7 2.2M86.2 255l-1.7 2.2 -0.5 2.8 -1.8 2.2 -0.9 2.7 -1.1 2.6 -0.8 2.7 -1.8 2.1 -1.6 2.3 -1.8 2.2 -1 2.6M48.7 89.7l-1 2.6 -0.9 2.7 -1.7 2.2 -1.2 2.5 -0.5 2.8 -0.8 2.7 -1.3 2.5 -0.8 2.7 0.2 2.8 -0.9 2.7 -0.9 2.7M149.4 243l2.3 1.6 2.5 1.2 2.4 1.4 2.2 1.7 2.6 1M11.8 100.2l2.7 -0.6 2.7 0.8 2.1 1.9 2.1 1.8 0.1 2.8 -0.5 2.8 -0.1 2.8 0.3 2.8M26.4 22.3l2.5 1.2 1.2 2.5 1.9 2.1 0.8 2.7 0.6 2.7 -0.3 2.8 -0.8 2.7 -0.1 2.8 -0.9 2.7 -1.6 2.3 0.1 2.8M216.5 265.5l-2.2 1.7 -2.8 -0.1 -2.8 -0.1 -2.2 1.7 -2.8 0.3 -2.6 1 -2.1 1.8 -2.7 0.6 -1.7 2.2 -2.5 1.2 -2.4 1.4M53.4 319l-2.6 1.1 -2.6 1.1 -2.5 1.2 -2.5 1.2 -2.5 1.3 -2.7 0.6 -2 2 -1.9 2.1M237.6 296.7l-1.8 2.2 -2 1.9 -1.6 2.3 -2.5 1.3 -2.5 1.3 -2.6 1 -2.7 0.9 -2.4 1.5 -2.5 1.2 -2.8 0.4 -2.4 1.5M166.2 94.4l-2.3 1.6 -2.1 1.9 -2.2 1.7 -1.5 2.3 -1.8 2.2 -1.8 2.2 -1.5 2.4 -1 2.6 -0.9 2.7M197.7 225.5l2.2 1.8 1.6 2.3 2.6 1.1 2.6 0.9 2.5 1.2 2.7 0.8M277.6 121.3l2.8 0.5 2.8 0.4 2.3 1.5 2.6 1 1.7 2.2 1.4 2.4 1.8 2.2M120.2 195.9l-2.1 1.9 -2.8 0.3 -2.8 0.1 -2.8 0 -2.8 0.1 -2.8 -0.2 -2.6 1 -2.8 -0 -2.6 1.1 -2.3 1.6 -1.8 2.1M77.6 202.5l1.1 2.6 1.5 2.3 -0.3 2.8 -0.3 2.8M183.1 203.7l1.2 2.5 2.5 1.3 2 2 1.6 2.3M241 287.9l-2.4 1.5 -2.7 0.9 -2.6 1 -2.8 0.3 -2.8 0 -2.3 1.5 -2.7 0.6 -2.8 0.4 -2.7 0.9M175.3 185.8l-0.5 2.8 -0.5 2.7 0 2.8 -0.6 2.7 -0.4 2.8 -0.5 2.8M126 327.6l1.6 2.3 0.4 2.8 1.3 2.5 0.7 2.7 1.5 2.4 1.3 2.5 1.5 2.4M122.3 -5.9l-2.5 1.3 -2.5 1.2 -2.8 0.1 -2.2 1.7 -2.3 1.5 -2.6 1.1 -2.7 0.9 -1.5 2.4 -2.3 1.6 -2.3 1.6M69.3 208.6l2.4 1.5 1.3 2.5 -0.1 2.8 -0.2 2.8 -0.4 2.8 -1.9 2 -1.8 2.1 -1 2.6 -1.4 2.4 -1.6 2.3M130.3 227l-2.8 -0.1 -2.8 -0.4 -2.7 -0.9 -2.8 -0.1M290.3 239.6l-0.6 2.7 -0.9 2.6 -1.1 2.6 -0.1 2.8 -1.5 2.4 0.2 2.8 -1.3 2.5 -0.2 2.8 0.7 2.7 -0.1 2.8 0.8 2.7M263.8 -7.7l-1.4 2.4 -1.6 2.3 -0.8 2.7 -1.3 2.5 -1 2.6M314.1 130.1l0.9 2.7 -0.2 2.8 -0.2 2.8 -0.9 2.7M139 211.1l-2.7 0.8 -2.8 -0.4 -2.8 -0.2 -2.3 1.6 -2.8 0.3 -2.7 0.6 -2.2 1.7 -2.3 1.6 -2.1 1.9 -2.7 0.5M37.8 240.5l1.4 2.4 1.5 2.4 0.5 2.8 1.2 2.5 -1 2.6 -1.2 2.6 -0.6 2.7 -0 2.8 -1.2 2.5 -1.4 2.4 -1.3 2.5M81.8 139.5l-2.3 1.5 -2.3 1.5 -1.8 2.1 -1.3 2.5 -2.2 1.8 -1.2 2.5M74.9 253.4l-0.4 2.8 0.3 2.8 -0.5 2.7 -1 2.6 -0.3 2.8M132.7 169.6l0.2 2.8 0.8 2.7 0.4 2.8 -0.2 2.8 -0.6 2.7M268.9 171.1l-1.1 2.6 -2 2 -1.6 2.3 -2 2 -2.1 1.8 -2.4 1.5 -2.3 1.5M75.7 290.2l-1.5 2.3 -1.8 2.2 -1.4 2.4 -1.2 2.5M182.5 119l-2.4 1.4 -1.7 2.2 -1.6 2.3 -2 1.9 -0.6 2.7 -0.8 2.7 0.5 2.8 1.1 2.6M284.8 129.6l0.8 2.7 1.4 2.4 1.8 2.1 0.6 2.7 2 2 1 2.6 2.4 1.4 2.4 1.4 2.3 1.5 0.9 2.6 1.8 2.1M71.5 274.9l-0.2 2.8 -0.6 2.7 -2.1 1.9 -1 2.6 -1.6 2.3 -1.3 2.5 -1.9 2.1M236.6 181.2l-2.3 -1.6 -2.7 -0.8 -2.6 -1.1 -2.8 0.4 -2.8 -0.1 -2.7 0.6 -2.4 1.5 -2.3 1.6 -1.9 2M65 312.7l-1.4 2.4 -1.2 2.5 -2.2 1.7 -2.1 1.8 -2.6 1.1 -2.2 1.7 -2.6 1.1 -2 2 -2.7 0.7M319.8 173.8l2.3 1.7 2.8 0.5 2.6 1 2.8 0.1 2.6 1 2.5 1.3 2.5 1.3 1.4 2.4 2.1 1.8 1.1 2.6M273.5 211.8l-1.2 2.5 -0.3 2.8 -0.7 2.7 0.8 2.7 0.1 2.8 0.3 2.8 0.8 2.7M325.5 243.7l1.7 2.3 0.1 2.8 0.3 2.8 -0.4 2.8 -1.8 2.1 -1.4 2.5 -0.9 2.6 -1.9 2 -2 2M295.2 169.4l0.4 2.8 0.3 2.8 0.6 2.7 -1 2.6 -0.7 2.7 -0.7 2.7 -0.7 2.7 -0.3 2.8M68.6 89.3l-0.2 2.8 -0.6 2.7 -0.6 2.7 -0.5 2.8 -0.7 2.7 -0.5 2.7 -1.6 2.3M139 212.5l-2.8 0.4 -2.6 1 -2.8 0.3 -2.6 0.9 -2.8 -0.1 -2.8 0.4 -2.2 1.7 -2.7 0.6 -2.2 1.8 -2.1 1.9M306.8 162.1l-0.2 2.8 -0.5 2.8 -0.4 2.8 0.2 2.8 0.2 2.8 1.1 2.6M230.4 28.2l-0.2 2.8 -0 2.8 0.6 2.7 0.4 2.8M23.2 310.9l2.4 1.5 1.4 2.4 1.5 2.3 0.1 2.8 -0.1 2.8 -0.2 2.8 -0.6 2.7 -1.3 2.5M286.9 63.9l-0.9 2.7 0.8 2.7 0.5 2.8 -0.5 2.8 -0.2 2.8 1.1 2.6 1.8 2.2M262.5 105.2l2.7 0.8 2.2 1.7 2.7 0.5 2.6 -0.9 2.8 -0 2.8 -0.4 2.5 -1.3 2.5 -1.3 2.5 -1.3M86.8 298.8l0.8 2.7 0.2 2.8 1.5 2.4 -0.4 2.8 -0.5 2.8 -1.5 2.3 -1 2.6M6.4 18.7l-0.9 2.7 -0.8 2.7 -1.7 2.2 -1.5 2.4 -0.9 2.7 -1.4 2.4M294.9 243.7l-1 2.6 0.7 2.7 -0.4 2.8 0.7 2.7M-9.3 269.3l-0.6 2.7 1.1 2.6 0.7 2.7 2.1 1.9M135.6 42.4l0.9 2.7 1.5 2.4 1.3 2.5 1.9 2.1M40.6 88l0.3 2.8 -0.7 2.7 -1.2 2.5 -1.8 2.2 -1.4 2.4 -1.7 2.2M141.3 57.5l2.2 1.8 2.8 0.3 2.8 0.3 2.6 -1 2.3 -1.6 2.4 -1.4 2.7 -0.8 2.7 -0.6 2.2 -1.7M205.2 173.7l-0.2 2.8 -0.1 2.8 -0.3 2.8 -0.5 2.8 0.3 2.8 1.4 2.4 0.1 2.8 -0.9 2.6 0.8 2.7M57.9 59.6l-0.9 2.7 -0.7 2.7 -0.4 2.8 -0.9 2.6 -1.6 2.3 -1 2.6 -0.2 2.8 -1.3 2.5 -1.7 2.2M94 174.6l1.2 2.5 1.3 2.5 0.3 2.8 -0.4 2.8 0.9 2.7M206.2 81l-2.8 0.4 -2.8 -0.3 -2.7 0.9 -2.7 0.5 -1.8 2.2 -1.8 2.2 -2.7 0.9 -2.2 1.7 -1.6 2.3 -2.5 1.3M185.8 36.3l2.8 -0.4 2.8 -0.4 2.8 0.2 2.7 0.9 2.6 1.1 2 2 0.7 2.7M74.1 221.9l-1.9 2 -0.9 2.6 -2.5 1.3 -1.8 2.2 -1.4 2.4 -2.1 1.9 -1 2.6M160.1 132l0.9 2.6 1.2 2.5 1.5 2.4 1.3 2.5 1.2 2.6 1.5 2.3 2.7 0.7M7.1 228.6l-0.7 2.7 -0.8 2.7 -2.2 1.7 -0.9 2.7 -2 1.9 -1.8 2.1 -2.5 1.2 -2.7 0.8 -2.4 1.5 -2.6 1.2 -2 2M176.9 326.1l0.2 2.8 0 2.8 -0 2.8 0.3 2.8 -0.1 2.8 0.6 2.7M203.8 26.6l2 2 2 2 1.9 2 0.9 2.6 1 2.6 -0.3 2.8 0.3 2.8 -0.8 2.7M104.3 126l-0 2.8 -1.5 2.4 -1.5 2.4 -1.6 2.3 -1.8 2.1 -1.6 2.3 -1.7 2.2 -2.6 1.1 -2.2 1.7 -2.2 1.8 -2.1 1.8M299.8 3.9l0.9 2.7 2 2 2.2 1.7 2.1 1.9 2.7 0.8 2.7 0.8 2.8 -0.1M-3.4 308.4l2.4 1.4 2.7 0.7 2.7 0.6 2.6 1.1 2.5 1.3 2.8 -0.5M146.9 289.3l2.4 1.4 2 2 2.1 1.9 1.9 2.1 1.4 2.4 -0.7 2.7 -0.5 2.8M144.7 281.9l2.3 1.6 1.8 2.2 2.3 1.6 1.8 2.1 2.2 1.8 1.3 2.5 2.1 1.8 -0.3 2.8M203.2 171.4l-0.8 2.7 -1.2 2.5 -0.6 2.7 -0.1 2.8 1.2 2.5 1 2.6 1.1 2.6M221.5 36.5l-0.4 2.8 -0 2.8 -0.8 2.7 0.1 2.8M22.7 201.7l2.8 0 2.7 0.8 2.5 1.3 2.5 1.2 2.6 1.1 2.1 1.8 2.3 1.6 1.6 2.3M3.8 218.9l1.4 2.4 0.8 2.7 1.3 2.5 -0.7 2.7M-2.2 222l1.4 2.4 0.5 2.8 0 2.8 -0.2 2.8 -1.7 2.2 -0.5 2.7 -1.2 2.6 -2.3 1.6 -2.4 1.5 -2.1 1.9M4.8 238.3l-2.3 1.6 -2 2 -2.5 1.2 -2.1 1.8 -2.4 1.5 -2.7 0.9 -2.2 1.7 -2.4 1.4 -2.4 1.5M292.2 173l0.3 2.8 -0.8 2.7 0.1 2.8 -1 2.6M97.6 278.4l0.7 2.7 0.6 2.7 2.4 1.5 1.7 2.2 2.6 1 2.5 1.3M184.7 211.5l1.8 2.2 2.4 1.5 2.3 1.6 1.8 2.2 1.8 2.2 1.2 2.5 2 2 1 2.6 1.8 2.2 2.2 1.8 2.8 0.1M58.7 136l-2.6 -1.2 -2.7 -0.9 -2.6 -0.9 -2.8 0 -2.8 -0.1 -2.6 0.9 -2 1.9 -2.4 1.4M160.2 190.3l-1.3 2.5 -0.6 2.7 -1.5 2.4 -1.7 2.2M205.2 -0.9l1.5 2.3 2.2 1.7 2.5 1.2 2.3 1.6 1.5 2.4 1.9 2 2.3 1.6 0.4 2.8M244.2 271.6l-2.6 0.9 -2.7 0.9 -2.2 1.7 -1.7 2.2 -2.6 0.9M151.5 89.6l-1.1 2.6 -1.4 2.4 -1.8 2.1 -1.4 2.4 -1.6 2.3 -1.2 2.5 -1.9 2.1 -1.9 2.1 -1.2 2.5 -1.1 2.6 -1.4 2.4M60.2 265.4l0.1 2.8 1.3 2.5 1.4 2.5 0.9 2.7 0.6 2.7 -0.1 2.8 -0.6 2.7 -0.4 2.8 -0.2 2.8 -0.6 2.7 -2.1 1.8M287.2 289.1l2 1.9 1 2.6 1.7 2.2 1.3 2.5 0.9 2.7 1.6 2.3 2.3 1.6 1.9 2.1 2.6 1.1 1.9 2M253.8 161.6l-2.7 -0.6 -2.8 -0.2 -2.7 0.6 -2.8 -0.3 -2.7 0.8 -2.5 1.2M245.4 187.6l-2.4 1.5 -2.8 0.4 -2.6 1.1 -2.8 -0.4 -2.7 0.8 -2.8 0.5 -2.8 -0.3 -2.7 0.9M142.2 281.6l1.2 2.5 2.5 1.2 2.7 0.9 2.6 1 2 1.9 2.1 1.9 1.5 2.4 1.5 2.4 0.8 2.7M120.8 65l0.8 2.7 1.6 2.3 0.9 2.7 1.9 2.1 2.5 1.3M119.8 -8.5l-2.5 1.3 -2 2 -2.5 1.3 -2.6 1.1 -1.7 2.2 -1.9 2.1 -2.7 0.8 -2.2 1.7 -1.6 2.3 -1.6 2.3M118.4 151l2.6 0.9 2.4 1.4 2.7 0.7 2.7 0.6 2.8 -0.2 2.6 1M320.5 161.2l-1.3 2.5 -0.5 2.7 -0.5 2.8 1.7 2.2 1.3 2.5 2.3 1.6 2.6 0.9M321.5 319.2l-1.1 2.6 -1.6 2.3 -2 1.9 -1.7 2.3 -1.6 2.3 -1 2.6 -1.7 2.3 -2 2 -0.6 2.7M126.2 104.2l1.7 2.2 -0.2 2.8 0.7 2.7 -0.3 2.8M-7.6 137.3l-0 2.8 -1.1 2.6 -0.2 2.8 -0 2.8 -0.6 2.7 -1.6 2.3M52.2 282.9l0.7 2.7 0.3 2.8 0.8 2.7 0.6 2.7 -0.5 2.7 -1 2.6 -1.4 2.4 -1.8 2.1 -2.2 1.7 -0.7 2.7M260.2 66.5l0.7 2.7 1.3 2.5 0.3 2.8 0.9 2.7M199.5 325.1l-2.5 1.2 -2.7 0.8 -2.1 1.9 -1.6 2.3M35.9 240.9l2.4 1.5 1.7 2.2 0.2 2.8 0.4 2.8 0.3 2.8 -1 2.6 0.2 2.8M151.1 133.3l2.7 0.8 1.7 2.2 1.8 2.2 1.5 2.4M210.7 125l-0.2 2.8 0.5 2.8 -0.5 2.8 -0.4 2.8 0.4 2.8 -1.9 2.1 -1.8 2.1 -0.9 2.6 -1.9 2.1 -0.8 2.7M167.7 160.4l2.7 -0.9 2.8 -0.1 2.7 -0.8 2.7 0.8 2.8 0.2 2.7 0.5 2.3 1.6 0.6 2.7 0.4 2.8 0.7 2.7M241.9 182.5l-2.6 -1.1 -2.7 -0.6 -2.7 -0.8 -2.6 -1 -2.8 -0.1 -2.6 -1M164.3 234.4l2.7 0.9 2.8 0.4 2.2 1.7 2.2 1.7 2.4 1.5 1.8 2.1 2.6 1.1 2.7 0.8M211 104.3l-1.9 2.1 -2 1.9 -2.2 1.8 -2.6 1.1 -2.8 0.5M205.1 106.3l-2.8 0.4 -2.8 0.4 -2.8 0.4 -2.8 0.5 -2.6 -1 -2.6 -0.9 -2.7 0.9M228.1 296.6l-2.6 1 -2.7 0.6 -2.8 0.5 -2.8 0.1 -2.4 1.5 -2.5 1.3 -2.2 1.7M36.6 224.6l1.7 2.3 1.8 2.2 2.4 1.4 2.4 1.5 1.8 2.1 1.9 2M124.8 294l1.4 2.4 1.3 2.5 0.7 2.7 0.9 2.6 1.4 2.4 1.8 2.2 1.3 2.5 2.3 1.6M-1.5 245.8l-2.6 0.9 -2.5 1.2 -2 1.9 -2.6 1.1 -2.5 1.3 -2.3 1.6 -2.7 0.8 -2.3 1.6M285.7 143.5l0.9 2.7 2 2 1.9 2.1 2.3 1.6 1.6 2.3 1.5 2.3 1.6 2.3M329.1 26.2l0.5 2.8 0.2 2.8 -1.6 2.3 -1.3 2.5 -1.7 2.2M178.3 316l-2.1 1.9 -1.3 2.5 -1.9 2.1 -0.4 2.8 -1.1 2.6M324.1 312.7l-0.6 2.7 -1.5 2.3 -2 1.9 -1 2.6 -1.1 2.6 -0.9 2.7 -2.3 1.6 -2 2M229.5 78.1l-2.8 -0.2 -2.5 -1.3 -2.8 -0.4 -2.5 -1.2M69.2 283.2l-1.2 2.5 -1.9 2.1 -1.4 2.4 -1.7 2.2 -0.9 2.6 -2.4 1.4 -1 2.6 -1.2 2.6 -1.7 2.2 -2.4 1.5 -2.4 1.4M122.7 76l2.4 1.4 2.5 1.2 2.8 0.5 2.4 1.4 2.8 0.3 2.8 -0.3 2.6 0.9M111.2 29.6l-2.8 -0.2 -2.8 0 -2.6 -0.9 -2.3 -1.5 -2.7 -0.7 -2.8 0.1 -2.8 0.2 -2.8 -0M221.4 40l0.3 2.8 -0.4 2.8 -0.6 2.7 0.1 2.8 -1.3 2.5M306.8 -2.8l1.9 2 2.2 1.7 2.3 1.6 2.6 1.1 2.7 0.7 2.7 -0.8 2.8 -0.4 2.8 -0.5 2.7 -0.8 2.8 -0 2.3 -1.5M4.7 279.8l1.9 2 1.8 2.1 2.3 1.6 0.9 2.6M-9.7 10.8l-1.1 2.6 -0.5 2.8 -0.5 2.7 -2.1 1.8 -2.4 1.5 -2.4 1.4 -1.6 2.3 -2.3 1.6M8.6 42.6l1.4 2.4 -0.1 2.8 -0.3 2.8 -0.2 2.8M20.7 90.9l2.4 1.5 2.5 1.3 0.8 2.7 1.1 2.6 -0 2.8 -0.6 2.7 -1.2 2.5 -0.6 2.7 0.3 2.8M114 19l-2.8 -0.2 -2.2 -1.7 -2.6 -1.1 -2.7 -0.7 -2.8 0.1 -2.8 0.1 -2.7 0.6 -2.5 1.2 -2.4 1.4M76.1 226.4l-2.5 1.2 -2 2 -1.8 2.2 -2.1 1.8 -2.4 1.5 -2.4 1.5M92.5 150.7l-2 2 -2.7 0.6 -2.6 1 -2.6 1.1 -2.2 1.7 -2.3 1.6 -2.2 1.8 -1.4 2.4M151.3 309.5l-1.2 2.5 -0.1 2.8 -1.8 2.2 -1.3 2.5 -1.4 2.4 -1.1 2.6 -0.1 2.8 -0.6 2.7 0.2 2.8 -0.9 2.6 0.8 2.7M301.3 310.3l2.6 0.9 2.1 1.8 2.4 1.5 2.4 1.5 0.9 2.6 0.8 2.7 0.2 2.8 0.2 2.8 -0.7 2.7 -1.2 2.5M171.3 294.9l-1.9 2 -2.6 0.9 -1.9 2 -2.4 1.5 -1.4 2.4 -2.5 1.3 -1.8 2.2 -0.8 2.7 -1.4 2.4M327.9 297.2l-0.1 2.8 0.2 2.8 0.6 2.7 0.2 2.8 -0.7 2.7 -2.1 1.9M65.7 285.9l-1.7 2.2 -0.5 2.7 -2.3 1.6 -1.5 2.4 -1.6 2.3 -1.6 2.3 -1.3 2.5 -1.4 2.4 -1.4 2.4M54 173.4l2.3 1.5 2.7 0.8 1.5 2.4 1.9 2.1 0.5 2.8 1.5 2.4 1.8 2.2 2.3 1.5 1.4 2.4 2.4 1.4 2.3 1.6M275.2 290l2.3 1.5 1.8 2.2 1.9 2.1 1.5 2.4 1.8 2.1 0.9 2.7 0.9 2.7 1.6 2.3M222.2 23.3l-0 2.8 -0.6 2.7 0.6 2.7 0.2 2.8M220.8 172.9l-2.1 1.9 -1 2.6 -1.3 2.5 -0.9 2.7 -1.8 2.1 -1.1 2.6 -1.1 2.6 -0.9 2.7M193.9 306.8l-2 1.9 -2.5 1.3 -1.7 2.2 -2 2 -1.4 2.5 -0.8 2.7 -1.6 2.3 -1.7 2.3 -0.3 2.8 0.2 2.8M83.8 35.9l-2.5 1.3 -1.9 2 -2 1.9 -2.2 1.8M156.5 219.5l-0.3 2.8 1 2.6 0.5 2.7 1.5 2.4 2.5 1.3 1.9 2 2.4 1.5 2.8 0.3M184.9 91.2l-2.6 1 -2.4 1.4 -2.2 1.7 -1.8 2.2 -1.9 2.1 -1.6 2.3 -1 2.6M59.2 281.3l0.1 2.8 0.9 2.7 -1 2.6 -0.7 2.7 -1.6 2.3 -1.6 2.3 -2 2 -1.5 2.4 -0.7 2.7 -2.1 1.8 -1.7 2.3M251.1 188.8l-2 2 -1.6 2.3 -1.5 2.3 -1.8 2.2M267.6 68.7l1.2 2.5 1.3 2.5 0.1 2.8 0.1 2.8 1.5 2.3M164.2 317.8l-2.2 1.7 -2 1.9 -1.7 2.2 -1.1 2.6M70.7 30.7l0.2 2.8 0.3 2.8 -0.2 2.8 -0.1 2.8 -1.5 2.4 -1.6 2.3 -0.8 2.7 -1.8 2.1 -0.2 2.8M102.9 47.7l-0.3 2.8 -0.3 2.8 0.4 2.8 1 2.6 1.6 2.3 2.3 1.7 0.9 2.7 2.2 1.8M229 135.9l-1.1 2.6 -0.9 2.7 -0.6 2.7 -1 2.6 -1.8 2.1 -2.4 1.4 -2.5 1.3 -2.6 1.1 -2.6 0.9 -2 2M270.3 1.9l1.6 2.3 1 2.6 0.8 2.7 0.6 2.7 -0 2.8 0 2.8 -0.6 2.7 -1.5 2.4 -0.8 2.7 -1.7 2.3 -2.2 1.7M103.9 167.4l1.6 2.3 1.6 2.3 1.2 2.5 0.4 2.8 -0.1 2.8 -0.6 2.7 -1.6 2.3 -1.5 2.3M239.6 65.4l-2.8 -0.4 -2.8 -0 -2.8 -0.1 -2.6 -1 -2.7 0.7 -2.7 -0.6 -2.5 1.2 -2.7 0.8 -2.6 1 -2.5 1.3M207.3 258.6l-1.2 2.5 -1.9 2.1 -1.8 2.1 -1.3 2.5 -2.1 1.9 -2.1 1.9 -1.6 2.3M321.9 239.3l2 2 1.3 2.5 1.6 2.3 -0 2.8 -0.7 2.7 -1.3 2.5 -0.2 2.8 -1.2 2.5 -2.2 1.8M46.7 0.5l2.8 -0.1 2.8 -0.3 2.8 -0.2 2.6 1 1.7 2.2 1.9 2.1M286 171.5l0.3 2.8 0.1 2.8 -1.1 2.6 -0.5 2.7 -0.7 2.7 -1.8 2.1 -1.9 2 -0.9 2.7 -1.1 2.6M225.8 85.7l-2.8 0.2 -2.8 -0.2 -2.5 -1.3 -2.4 -1.4 -2.4 -1.4 -2.8 -0.2M222.1 73.4l-2.7 -0.7 -2.7 0.6 -2.8 0.5 -2.8 -0.2M304 162l-0.9 2.6 0.2 2.8 -1.2 2.5 -0.5 2.8 0.4 2.8 0.3 2.8M161.4 182l1.4 2.4 0.8 2.7 -0.6 2.7 -1.2 2.5 -0.8 2.7 -2.2 1.8 -1.7 2.2 -2.3 1.7 -2.2 1.8M247.4 61.3l-2.8 0.4 -2.8 -0 -2.8 0 -2.8 0.1 -2.8 0.1 -2.7 -0.6 -2.8 0.1 -2.6 1 -2.7 0.6 -2.7 0.8 -2.1 1.9M281.3 217.1l2 2 2.5 1.2 2.4 1.5 2 2 2.2 1.8 1.6 2.3M157.2 21.4l0.6 2.7 0.7 2.7 0.9 2.7 0.8 2.7 2.4 1.5 1.9 2.1 2.4 1.4 2.7 0.6 2.8 -0.1 2.6 -1.1M81.7 72.8l0.1 2.8 1 2.6 1.9 2.1 0.4 2.8 1.1 2.6 -0.1 2.8M324 224.6l2.6 1 2.5 1.3 2.4 1.5 2.6 0.9 2.4 1.5 1.2 2.5 1 2.6 0.8 2.7M162.9 95.5l-1.1 2.6 -1.8 2.2 -2.1 1.9 -0.4 2.8M51.1 278.7l0.9 2.6 1.6 2.3 1.9 2.1 -0.3 2.8 0.6 2.7 0.3 2.8 -1.2 2.5 -1.9 2 -0.4 2.8M287.3 255.6l0.2 2.8 -0.5 2.8 0.8 2.7 1.4 2.4 2 2M14.9 254.1l1.5 2.4 1.8 2.1 2.5 1.3 1.3 2.5M45.3 107l0 2.8 -1.2 2.5 -0.3 2.8 -0.2 2.8 -1.4 2.4 -0.4 2.8 -0.6 2.7 -2 1.9 -1.8 2.1M276.3 146.1l0.5 2.8 0.8 2.7 -0.4 2.8 -0.7 2.7 -0.7 2.7 -0.6 2.7 -0.2 2.8M328.5 71.4l-1 2.6 -0.3 2.8 0.3 2.8 -1.7 2.2M152.7 293.8l1.2 2.5 1 2.6 0.6 2.7 0.6 2.7 -0.7 2.7 -0.6 2.7 -1.7 2.2 -2.1 1.9 -1.8 2.2M73.1 214.5l0.2 2.8 -0.6 2.7 -1.8 2.1 -1.8 2.1 -0.7 2.7 -1.7 2.2 -1.7 2.2M319.8 215.2l2.4 1.4 1.9 2.1 2.5 1.2 2.2 1.7 2.8 0.3 2.8 0.3 2.7 0.7 2.5 1.2 2 1.9M51.1 311.6l-2.7 0.6 -2.2 1.7 -2.6 1.2 -1.9 2 -2.7 0.9 -1.9 2.1M14.7 59.4l0.6 2.7 -0 2.8 1.6 2.3 1.2 2.5 1.8 2.2 2.6 1.1 2.8 0.3 2.8 0.1M151.7 68.2l2.6 -1.1 2.7 -0.5 2.8 -0.3 2.4 1.5 2 1.9M76.7 187.8l2.2 1.7 1.7 2.2 1.5 2.4 1.4 2.4 0.4 2.8 0.8 2.7 0.7 2.7 -1.5 2.4M108.4 328.9l0.6 2.7 0.5 2.8 0.1 2.8 1.6 2.3 1.9 2 0.2 2.8 0.7 2.7M61.1 135l-2.3 -1.6 -2.4 -1.5 -2.7 -0.7 -2.3 -1.6 -2.7 -0.8 -2.8 -0.2 -2.4 1.4 -2 1.9 -2.1 1.9M212 271.6l-2.8 -0 -2.8 -0.3 -2.8 -0 -2.5 1.2 -2.5 1.3 -2.6 1 -2.7 0.6 -2.2 1.7 -2.6 1.1M222.6 35.3l-1 2.6 0.1 2.8 0.7 2.7 0.5 2.8M274 39.6l-0.9 2.7 -1.4 2.4 -0.9 2.6 -0.3 2.8 0.2 2.8 0.5 2.8 -0.3 2.8M88.2 5.3l-1.7 2.3 -1 2.6 -1.3 2.5 -0.7 2.7M21.4 38.5l0.5 2.8 0.5 2.8 0.2 2.8 -1 2.6 -0.5 2.8 0.2 2.8 -0.2 2.8 0.2 2.8M8.3 134.6l-0.1 2.8 0 2.8 1.7 2.2 1.3 2.5 2.1 1.9 1 2.6 1.8 2.1 0.9 2.6 1.9 2.1M286.3 239.6l-1.4 2.4 -0.5 2.8 -0.8 2.7 -1.5 2.4 -2 2 -1.9 2 -1.1 2.6 -1.1 2.6 -2.2 1.7 -1.2 2.5 -2 1.9M313 27.8l1.5 2.3 1.7 2.2 1.6 2.3 -0.2 2.8 -0.6 2.7 -0.9 2.6 -0 2.8 -0.5 2.8M239.3 94l1.7 2.2 1.2 2.5 1.6 2.3 1.9 2.1 1.8 2.1 0.7 2.7 1.4 2.4 1.3 2.5 2.3 1.5M31.1 184.1l2.7 -0.8 2.5 -1.3 2.5 -1.3 2.3 -1.6 2.4 -1.4 2.7 -0.6 2.8 0.2M309.1 1.6l2 2 2.5 1.3 2.8 0.3 2.8 0.1M208.1 49.8l-0.3 2.8 -1.1 2.6 -1.7 2.2 -0.8 2.7 -1.2 2.5 -1.7 2.2 -1.8 2.1 -1.2 2.5 -1 2.6 -2.4 1.4M14.7 289l1.4 2.4 2.1 1.8 1.5 2.4 2 1.9M253.5 78.2l1.6 2.3 1.9 2 1.5 2.4 1.4 2.4 2 1.9 1.4 2.4 1.2 2.5M3 282.5l2.7 0.5 2.5 1.3 2.2 1.7 1.4 2.4 2 2 1.5 2.4 1.7 2.2 1.5 2.4 2.2 1.8 2.6 0.9M95.8 181.7l1.3 2.5 -0.1 2.8 -0.1 2.8 -0.7 2.7 -1.9 2 -1.6 2.3 -0.2 2.8 -1.4 2.4 -1.8 2.2M83.7 64.4l-0.3 2.8 0.7 2.7 0.5 2.8 1.6 2.3 1.6 2.3 1.5 2.4 1.6 2.3 1 2.6 -0.3 2.8 0.4 2.8M122.2 120.3l-0.5 2.7 -0.6 2.7 -0.4 2.8 0.1 2.8 0.4 2.8 1.2 2.5 2.1 1.9 1.5 2.3M150.1 107.8l-0.3 2.8 0 2.8 -0.1 2.8 0.1 2.8 1.3 2.5 2.4 1.5 2.3 1.6M124.1 45.5l1.5 2.4 0.6 2.7 0.7 2.7 0.9 2.7 1.9 2.1 2.2 1.7 1.8 2.2 2.5 1.2 2.8 0.3M235.1 174.8l-2.3 -1.6 -2.8 0.3 -2.7 0.8 -2.5 1.2 -2.7 0.6 -2.7 0.8M106.4 283.1l2.5 1.2 2.5 1.3 2 1.9 1.7 2.2 1.9 2.1 1.9 2.1 0 2.8 0.6 2.7M301.9 329.9l1.2 2.5 1 2.6 -0.3 2.8 -1.3 2.5 -0.9 2.6 0.2 2.8 -0.2 2.8M173.7 302.2l-2.8 0.4 -2.8 -0.3 -2.8 0 -2.7 0.9 -1.7 2.2 -2.3 1.6 -1.6 2.3M31.9 200.1l2.4 1.4 2.3 1.6 1.9 2 1.8 2.1 2 2M302.2 123l1 2.6 -0.3 2.8 0.6 2.7 1.4 2.4 1 2.6 1.7 2.2 1.8 2.1 0.1 2.8 -0.4 2.8 -0.2 2.8 -0.5 2.8M69.6 70.7l-0.9 2.7 -1.9 2.1 -1.5 2.3 -0.6 2.7 -1.5 2.4 0.2 2.8 -0.3 2.8M328.6 209.1l2.5 1.3 2.3 1.6 2.6 1 2.6 1.1 2.7 0.6 2.8 0.1M316 324.1l-1.8 2.1 -1.4 2.4 -0.6 2.7 -1.8 2.2 -2.1 1.9 -1.9 2.1 -1.2 2.5 -0.6 2.7M91 319.2l-2.6 0.9 -2.1 1.9 -2.4 1.5 -2.1 1.8M107.8 1.2l-2.3 1.7 -1.8 2.2 -1.9 2 -2.6 1 -2.5 1.2 -2.1 1.9M209.1 60l-1.3 2.5 -1.8 2.2 -2 2 -2.3 1.6 -1.5 2.3 -1.2 2.5M251 261.3l-1.3 2.5 -1.5 2.4 -2 1.9 -1.5 2.3 -1.7 2.2 -2.1 1.8 -2 1.9 -2.2 1.7 -2.4 1.4 -1.8 2.1 -2.3 1.6M199.9 206.7l0.6 2.7 0.6 2.7 -0.5 2.8 -0.3 2.8 1.1 2.6 1.1 2.6 1.2 2.5 1.6 2.3M191 137.6l1.8 2.1 0.8 2.7 1.9 2.1 1 2.6M314.5 44l-1.3 2.5 -1.8 2.1 -0.3 2.8 -0.3 2.8 -1.2 2.5M13.1 87.6l2.8 0.4 2.8 0.5 2.8 0.3 2.8 -0 2.5 1.2 2.5 1.2 1.6 2.3 -0.4 2.8 0.6 2.7M192.8 138.4l2 1.9 2 1.9 1.8 2.2 -0.1 2.8 0.4 2.8 0.1 2.8 -1 2.6 -0.9 2.6 -0.2 2.8 -1.8 2.1M210.8 288.3l-2.7 0.9 -2.6 1 -2.7 0.8 -2.6 1 -2.8 0.3 -2.7 0.8 -2.7 0.7 -2.7 -0.7 -2.6 -1.1M37.2 88.3l-0.3 2.8 0.1 2.8 -1.3 2.5 -1.4 2.5 -0.3 2.8 -1.1 2.6 -0.9 2.6 0 2.8 -1 2.6M309.3 315.1l1.6 2.3 1.5 2.4 0.4 2.8 -0.5 2.8 -0 2.8 -1.6 2.3M-8.2 97.7l2.7 -0.5 2.7 -0.9 2.7 -0.7 2.3 -1.6 2.6 -1.1M135.7 57.5l2 1.9 2.6 1 2.4 1.5 2.7 0.7 2.8 -0.4 2.8 -0.4 2.6 -1.1 2.7 -0.7 2.2 -1.8M139.2 319.1l0.8 2.7 -0.3 2.8 -0.7 2.7 0.1 2.8 0.6 2.7 -0 2.8 0.8 2.7 0.8 2.7 1.2 2.5 2.6 1.1M157.6 189.9l0.6 2.7 -1.6 2.3 -0.7 2.7 -1.7 2.2 -2.6 1.1 -1.9 2 -2.6 1M250.9 260.9l-1.9 2.1 -1.8 2.2 -2.3 1.7 -2 1.9 -2.3 1.6 -1.9 2.1 -1.5 2.4 -2.6 1M300.5 121l-0.3 2.8 1 2.6 0.2 2.8 1 2.6 0.9 2.7M74 74.2l-0.9 2.6 0.3 2.8 0.3 2.8 0 2.8 1.5 2.4 1.2 2.5 -0.4 2.8 -1 2.6M180.4 187.8l-0.1 2.8 -0.3 2.8 0.8 2.7 1.1 2.6 1.2 2.5 0.9 2.7 2 2 1.9 2.1 2.4 1.5 1.6 2.3 0.9 2.7" stroke="#bebebe" stroke-width=".9" opacity=".7"/>
<path d="M35 320.6l-1.4 2.4 -1.5 2.4 -2.5 1.2 -2.2 1.7M79.7 102.8l-2.5 1.2 -2.6 0.9 -2 2 -2.5 1.3M153.5 97.4l-1.7 2.2 -1.1 2.6 -1.1 2.6 -2 2 -1.8 2.1 -0.6 2.7 -0.3 2.8 0 2.8 1 2.6 1.7 2.2 1.5 2.4M5.9 51.5l1.3 2.5 0.9 2.7 -0.4 2.8 0.3 2.8 0.2 2.8 -0.3 2.8 1.2 2.5M312.9 204.3l2.8 -0.5 2.8 0.3 2.8 0.1 2.3 1.6 2.6 0.9 2.5 1.3 1.9 2.1 2.2 1.7 2.3 1.6 2.8 0.4M224.2 98l-0.6 2.7 -0.4 2.8 0.7 2.7 0.8 2.7 0.1 2.8 0.3 2.8 0.9 2.7 0.9 2.6M51.2 157.2l1.1 2.6 0.6 2.7 2 2 1.8 2.1 2.5 1.2 2 2 1.3 2.5 0.9 2.7 0.4 2.8M251.7 224.9l-2.4 1.5 -1.5 2.4 -1.2 2.5 -2.2 1.7 -1.7 2.2 -2.2 1.8 -1.5 2.3 -1.5 2.4M267.7 210.1l-1.5 2.4 -1.9 2.1 -2 1.9 -2.2 1.8 -1.5 2.4 -2.1 1.8 -2.2 1.7 -2 2 -2.3 1.5M166.2 170l2.7 -0.6 2.8 -0 2.5 1.4 2.6 1.1 2.4 1.5 0.8 2.7M100.6 288l2.3 1.6 1.6 2.3 2.1 1.9 1.8 2.1 0.9 2.7 0.9 2.7 -0.6 2.7 0.3 2.8 -0.8 2.7 -1.4 2.5M271.1 -5.5l0.5 2.7 0.7 2.7 1.9 2.1 1.4 2.4 0.8 2.7 0.8 2.7 1.2 2.5 0.4 2.8M239.1 80.8l-2 2 -1.8 2.2 -0.6 2.7 -1.3 2.5 -1.5 2.4M228.4 6.6l0.2 2.8 -0.8 2.7 -1.3 2.5 -0.8 2.7 0.3 2.8M230 138.9l-1.1 2.6 -0.9 2.6 -0.6 2.7 -1.5 2.3 -0.7 2.7 -0.9 2.7M117.8 274.2l2.8 0.4 2.7 0.8 2.8 0.5 2.7 0.8 2.7 0.6 1.9 2.1 1.8 2.1 1.4 2.5M1.3 294.8l1.7 2.2 2.3 1.6 1.5 2.4 2 2 2.2 1.8 2.6 1.1 2.3 1.7 2.8 -0.1 2.6 1M144.3 71.6l2.6 -1.1 2.8 0.1 2.8 0.1 2.7 0.7 2.5 1.3 1.4 2.4M221.4 52.7l-0.6 2.7 -1.7 2.2 -1.9 2.1 -1.1 2.6 -1.5 2.3 -2.3 1.6 -2.6 1.1 -2.2 1.7 -2 2M-7.9 10.7l0.3 2.8 -0.1 2.8 -2 1.9 -2.2 1.8 -1.9 2 -2.5 1.3 -2.3 1.6 -1.7 2.2 -2.6 1.1 -1.6 2.3M8.3 72.8l1.5 2.4 1.6 2.3 2.7 0.5 2.3 1.5M170.6 18.7l0.4 2.8 2 1.9 1.3 2.5 2.7 0.6 2.8 -0.3 2.7 0.6 2.8 -0.2 2.7 -0.8 2.6 -1M-10 87.2l1.9 2 2.4 1.4 2.4 1.5 2.7 0.6 2.7 0.7 2.8 -0.1M271.2 237.1l1.3 2.5 0.2 2.8 -0.4 2.8 0.1 2.8 -1.6 2.3M25.2 266.8l0.5 2.8 1.1 2.6 1.3 2.5 -0.5 2.8 0.9 2.6 0.3 2.8 1.3 2.5 1.5 2.3 2.3 1.7 1.6 2.3M181.2 111.4l-2.4 1.5 -2.6 1.1 -2.4 1.5 -1.9 2.1 -1.9 2 -0 2.8 -0.8 2.7M217.9 172.5l-1.3 2.5 -1.6 2.3 -1.5 2.3 -1.1 2.6 -0.5 2.8 -0.1 2.8 -0.3 2.8 -0.9 2.6 -1.3 2.5 -1.4 2.4M218.2 118.5l0 2.8 0.5 2.8 0.6 2.7 0.7 2.7 -0.9 2.7 -1 2.6 -1.6 2.3M90.5 178.7l1.1 2.6 1.4 2.4 1.6 2.3 -0.1 2.8 0.4 2.8 0.2 2.8M56.5 100.2l-0.3 2.8 -0.9 2.6 -1.3 2.5 -0.3 2.8 -1.3 2.5 -1.7 2.2M-8.1 323.3l2.8 -0 2.7 -0.6 2.8 -0 2.8 -0.3 2.8 0.4 2.8 -0 2.6 1.1 2.6 1.1 2.7 0.5M329.7 245.3l-0.9 2.6 -0.3 2.8 -0.7 2.7 -1.4 2.4 -1.9 2.1 -2 2 -1.6 2.3M75.3 145.8l-2.4 1.5 -1.1 2.6 -2.2 1.7 -0.7 2.7 -1.5 2.4 0.4 2.8 -0.5 2.8 -1.1 2.6 -0.1 2.8 -0.4 2.8M162.7 8l0.1 2.8 0.5 2.8 -0.3 2.8 -0.4 2.8 0.2 2.8 0.5 2.8 0.9 2.7 2 2 2.2 1.7 2.3 1.5M-7.2 252.2l-2.3 1.7 -2.7 0.7 -2.4 1.4 -2.5 1.2 -2.8 0.2 -2.5 1.3 -2.8 0.5 -2.8 0.2 -2.7 0.6 -2.6 1.1M143 212.7l-2.8 0.2 -2.7 0.7 -2.8 0.1 -2.8 0.2 -2.7 0.8 -2.7 0.9 -2.8 0.1 -2.7 0.8 -2.7 0.7M10.3 19.9l-0.9 2.7 0.1 2.8 0.5 2.8 -0.1 2.8 0.8 2.7 1.6 2.3 1.7 2.2 1.5 2.4 1.6 2.3M122.1 203.8l-2.5 1.2 -2.5 1.2 -2.8 0.5 -2.8 0.2 -2.8 0 -2.8 0.2 -2.8 0.1M315.2 221.1l2.4 1.5 1.8 2.2 2.5 1.2 2.7 0.9 2.8 0 2.5 1.3 2.6 1 2.1 1.9M119.5 213l-2.3 1.6 -2.6 1.1 -2.4 1.4 -2.1 1.8 -2.8 0.4 -2.6 1 -2.5 1.3 -2.5 1.2M145.4 313.1l0.3 2.8 0.2 2.8 -0.2 2.8 -1.1 2.6 -1.1 2.6M-9.6 310.8l2 2 2.6 1.1 2.7 0.7 2.4 1.5 2.7 0.8 2.8 0.2 2.6 0.9 2.8 0.1M231.9 198.9l-1.5 2.3 -1.6 2.3 -0.3 2.8 -1 2.6M187.7 242.8l2.8 0.5 2.8 -0.1 2.7 0.6 2.8 -0.2 2.8 0.3 2.7 0.8 2.7 0.6 2.3 1.6 2.4 1.4M202 273.8l-2.4 1.4 -2.8 -0.2 -2.8 0 -2 1.9 -1.9 2.1 -2.3 1.5 -2 2M291.8 48.5l2 1.9 0.9 2.7 0.6 2.7 -0.6 2.7 -0.2 2.8 0.1 2.8 -1.4 2.4 -1.2 2.5 -0.7 2.7 0.5 2.8M296 40.1l2.2 1.8 1.5 2.4 1.5 2.3 0 2.8M3.8 164.5l1.7 2.3 1.3 2.5 0.7 2.7 0 2.8 -0.1 2.8 -1 2.6 -0.2 2.8 -0.9 2.6 -0.8 2.7 -0.3 2.8 0.9 2.7M168.8 164.5l2.8 0.2 2.8 -0 2.8 0.3 2.5 1.3 2 1.9M50.3 151.3l-2.2 1.7 -0.6 2.7 -0.4 2.8 0.9 2.7 0.6 2.7 2.3 1.7 2.1 1.8 2.7 0.8 2.3 1.6M329 34.3l-0.8 2.7 -0.6 2.7 -2 2 -0.3 2.8 -1.4 2.4 -0.6 2.7 -0.2 2.8 0.2 2.8 -0.9 2.6 0.1 2.8 1.1 2.6M248.1 26.9l1.2 2.5 -0.6 2.7 -0.5 2.8 -1.2 2.5 -1.7 2.2 -1.4 2.4 -2.2 1.8 -1.4 2.4M304.3 98.7l0.9 2.6 1.2 2.5 -0.1 2.8 -0.2 2.8 -0.1 2.8 0.3 2.8 0.1 2.8M81.1 63.3l-1 2.6 -1.1 2.6 -0.6 2.7 0.6 2.7 -0.3 2.8 0.7 2.7 1.7 2.2 1.5 2.4M327.1 -5.1l2.7 -0.6 2.7 -0.7 2.7 -0.7 2.5 -1.3M57.5 233.6l-0.2 2.8 -1.6 2.3 -0.2 2.8 -1.1 2.6 -1.8 2.2 -1.6 2.3 -0.5 2.7 -1 2.6M264.1 118.8l2.2 -1.8 2.5 -1.3 2.8 -0.4 2.3 -1.5 2.7 -0.6 2.8 -0.4 2.8 -0.2 2.4 -1.5M251.8 189.7l-2.1 1.9 -1.3 2.5 -1.3 2.5 -2.1 1.8M320.5 68.3l1 2.6 1.6 2.3 0.5 2.8 -0.7 2.7 0.5 2.8 -0.3 2.8 -0.1 2.8M41.1 109.5l-1.2 2.5 -0.6 2.7 -0.1 2.8 -1.5 2.4 -1.5 2.4M165.3 214.1l-0.1 2.8 0.9 2.6 2.4 1.4 2.4 1.5 2.5 1.2 2.7 0.9 2.6 1.1 2.2 1.8 2.2 1.7M133.1 274.3l2.4 1.5 1.9 2 1.4 2.4 2.5 1.3 1.3 2.5 2.5 1.3 2.5 1.3M246 199l-1.5 2.4 -0.1 2.8 -1.5 2.4 -0.1 2.8 0 2.8 -0.4 2.8 -0.1 2.8 -0.2 2.8 -0.2 2.8 -0.4 2.8 -0.9 2.6M157.4 47.9l2.8 0.2 2.6 -1.1 2.2 -1.7 2.6 -1M197.4 231.4l2.3 1.6 2.6 0.9 2.3 1.5 2.8 0.2 2.8 0.4 2.6 1.1M102.3 322.6l-1.7 2.2 -2 1.9 -2.3 1.5 -2.1 1.8 -2.1 1.8 -2.4 1.5 -2.8 0.3 -2.8 -0.2 -2.5 -1.3 -2.7 -0.7M231.3 158.8l-1.3 2.5 -1.2 2.5 -2.4 1.5 -2.3 1.6 -2.2 1.7M166.5 61.3l2.6 0.9 1.7 2.2 1.3 2.5 0.2 2.8 0.1 2.8 -0.6 2.7 -1.6 2.3M299.3 195.3l2.8 0.1 2.8 -0.3 2.7 0.6 2.8 -0.2 2.5 -1.3 2.3 -1.5 2.8 -0.2 2.7 -0.8 2.7 0.5 2.8 0.1 2.8 0.3M14.8 293.2l1.9 2.1 1.5 2.4 2.4 1.4 2.4 1.5 2.7 0.5 2 1.9 2.8 0.5 2.1 1.8 1.1 2.6 1.6 2.3 1.2 2.5M117.9 28.7l-2.6 1.1 -2.5 1.3 -2.4 1.4 -2.5 1.2 -2.8 -0.1M190.1 70.2l-2.5 1.3 -1.4 2.4 -1.5 2.3 -2.3 1.6 -1.9 2 -2.1 1.9 -2.3 1.6M120.6 287l2.1 1.9 2.1 1.9 1.5 2.4 0.1 2.8 1.1 2.6 0.4 2.8M52.7 136.7l-2.7 -0.7 -2.6 -1.1 -2.7 0.8 -2.8 -0.4 -2.8 0.3 -2.2 1.7M329.9 328.7l-2.5 1.2 -1.9 2 -2 2 -1.8 2.1M61.6 186.5l1.8 2.2 2.2 1.8 2.4 1.4 2.4 1.5 1.9 2 2.5 1.2 2.7 0.8M17 103l1.4 2.4 0.8 2.7 0.3 2.8 -0.1 2.8 -0.8 2.7 -0.4 2.8 0.6 2.7 -0.9 2.7 0.4 2.8 1.2 2.5M163.5 -4.2l0.1 2.8 0.6 2.7 1.1 2.6 1.2 2.5 0.3 2.8 0.3 2.8 0.8 2.7 0.5 2.8 0.8 2.7 0.8 2.7 0.9 2.7M253.9 323.7l2.3 1.6 1.9 2 2.2 1.7 1.7 2.2 2.3 1.6 2.4 1.5 2.8 -0.4M256 233.2l-0.1 2.8 -0.8 2.7 -0 2.8 -0.1 2.8 -0.3 2.8 -0.7 2.7 0 2.8 0.2 2.8 -1.5 2.4 -0.5 2.8 -0.8 2.7M135.6 147.4l2.7 0.8 2.7 0.9 2.7 0.9 2.7 0.8 2.3 1.7 2.8 0.5 2.1 1.8M100.8 149.4l-1.2 2.5 -2.4 1.5 -1.8 2.1 -2.6 1.1 -2.4 1.4 -2.4 1.4M231.9 162.6l-2.5 1.2 -2.5 1.2 -2.2 1.7 -1.6 2.3 -2.3 1.7 -1.5 2.4 -2.2 1.7 -1.3 2.5 -1.7 2.3 -1.6 2.3M286 48.4l2.1 1.9 2 1.9 0.8 2.7 0.6 2.7 0 2.8M72.3 208.4l1.3 2.5 1 2.6 -0.3 2.8 -0 2.8 -1.9 2 -1.9 2 -1.7 2.2 -0.6 2.7 -2 2 -2.1 1.9 -2 2M170.9 64.5l1.2 2.5 0.4 2.8 -0 2.8 -1.9 2.1 -0.8 2.7 -1.8 2.1 -1.4 2.4 -2.3 1.6 -1.1 2.6M199.1 156l-1.7 2.3 -1.4 2.4 -1.3 2.5 -0.3 2.8M205.9 135.2l0.3 2.8 -0.8 2.7 -0.4 2.8 -0.2 2.8 -1.1 2.6 -1.5 2.4 -0.4 2.8 -1.1 2.6 -1.8 2.1 -1 2.6M161.3 291.6l1.8 2.2 0.7 2.7 -1.4 2.4 -1 2.6 -1.2 2.5M31 135.9l0.5 2.8 -0.8 2.7 0.2 2.8 -0.6 2.7 -1.3 2.5 -1.4 2.4 0.1 2.8 -0.3 2.8 -1.2 2.5M111 176.4l0.3 2.8 -1 2.6 -1 2.6 -2.4 1.5 -1.9 2.1 -1.6 2.3 -2 1.9 -2.2 1.7 -1.9 2.1M224.2 162.9l-1.7 2.2 -1.2 2.5 -2 2 -1.2 2.5 -1 2.6 -1.3 2.5 -1.3 2.5 -0.3 2.8M177.8 -0.9l-0.3 2.8 0.6 2.7 1 2.6 0.3 2.8 1.4 2.4 0.8 2.7 1.7 2.2 2 2 2.4 1.4 2.7 0.6M318.9 211.4l1.9 2.1 2.4 1.5 2.4 1.5 2.1 1.8 2.4 1.4M79.7 79.7l0.3 2.8 0.1 2.8 0.3 2.8 0.8 2.7M26.8 35.6l0.6 2.7 -0.3 2.8 -0.1 2.8 -1.3 2.5 -1.4 2.4 -0.7 2.7 0.4 2.8 0.1 2.8M168.7 16.8l1 2.6 0.8 2.7 0.7 2.7 1.8 2.2 2 2 2.8 0.2 2.6 -1M317 281.9l-0.3 2.8 -0.9 2.6 0.7 2.7 0.3 2.8 1.3 2.5 1.9 2M181.1 45.4l2.7 -0.6 2.6 1.1 2.7 0.9 1.1 2.6 1.1 2.6 -0.7 2.7M288.4 97.4l2.7 0.8 2.8 0 2.8 0.1 2.8 0.2 2.7 0.8 2.2 1.7 0.8 2.7 0.3 2.8M132.3 295.5l1.7 2.2 1.8 2.2 1.2 2.5 2 2M233.2 62.5l-2.8 0.4 -2.7 -0.9 -2.5 1.2 -2.7 0.7M219.9 210.6l-0.1 2.8 0.8 2.7 1.2 2.5 1.3 2.5M307.5 186.7l2.8 0.4 2.8 -0.2 2.8 -0.3 2.8 0.3 2.6 -1.1 2.7 -0.6 2.8 0.2 2.8 0.2 2.6 0.9M298.5 279.1l-0.4 2.8 0.6 2.7 -0.6 2.7 -0.8 2.7 1 2.6 1.2 2.5M117.1 70l0.4 2.8 1.9 2.1 1.6 2.3 2.3 1.6 1.9 2.1 2.7 0.5 2.4 1.5 2.6 0.9 2.6 1M285.5 238.9l-1.2 2.5 0.1 2.8 -0.2 2.8 -0.5 2.8M182.5 221.6l2.2 1.8 1.7 2.2 1.6 2.3 1.4 2.4 1.9 2 2.6 1.1M14.2 266.5l1.7 2.2 2.4 1.5 2.1 1.8 0.8 2.7M175.6 293.3l-2.3 1.6 -2.4 1.5 -2.6 1 -2.6 1M40.8 99.6l-0.9 2.7 -0.6 2.7 -0.2 2.8 0.1 2.8 -0.6 2.7 0.1 2.8 -0.1 2.8 -0.3 2.8 -0.1 2.8 -0.4 2.8M63 33.2l0.2 2.8 -0.7 2.7 -0.2 2.8 1 2.6 0.2 2.8 -0.8 2.7 -1.2 2.5M211 321.8l-2 1.9 -2.7 0.5 -2.7 0.8 -2 1.9 -2.8 0.5 -2.3 1.6 -1.9 2.1 -2.3 1.6M125.4 194.6l-2.3 1.6 -2.4 1.4 -2 2 -2.6 1 -2.3 1.6 -2.8 0.2 -2.8 -0.2 -2.7 0.7 -2.8 0.3 -2.6 1.1 -2.8 -0.2M101.4 207.1l-2.7 -0.7 -2.7 -0.6 -2.8 -0.2 -2 1.9M-9.1 298.8l2.8 0.4 2.8 0.3 2.6 1.1 2.1 1.8 2 2M268.6 74.2l0.3 2.8 0.8 2.7 0.9 2.7 0.7 2.7 1.2 2.5 0.4 2.8 1 2.6M92.5 24.8l-2.4 1.5 -2.3 1.6 -2.2 1.7 -1.8 2.1M159.9 172.1l2.7 -0.7 2.8 -0.3 2.8 0.1 2.8 -0.4 2.8 0.2 2.7 0.6 2.2 1.8 0.3 2.8 0 2.8M69.2 173.9l-0.3 2.8 0.6 2.7 0.6 2.7 1.4 2.4 1.8 2.1 2.3 1.6 1.9 2.1 2.3 1.6M104.2 231.7l-2.6 1 -1.7 2.3 -1.6 2.3 -2.1 1.8 -1.5 2.3 -2.5 1.3 -1.1 2.6 -2.3 1.6 -1.7 2.2 -1.1 2.6 -0.5 2.8M12.2 188.5l2.3 1.6 2.7 0.8 2.6 1.1 2.7 0.6 2.8 -0.2 2.8 0.2 2.8 -0.5M95.4 119.9l-0.4 2.8 -0.8 2.7 -0.5 2.8 -0.4 2.8 -1 2.6M226.2 33.5l-0.8 2.7 -0.9 2.7 -1.1 2.6 -0.2 2.8 -0.5 2.8 0.5 2.8 -1.1 2.6M107.5 197.3l-2.8 -0.5 -2.8 0.4 -2.8 0.4 -2.7 0.7 -2.6 1M96.1 209.1l-2.6 1.1 -2.8 -0 -2.2 1.7 -2.2 1.8M193.1 11.1l2.6 1 2.3 1.6 2.5 1.2 2.8 -0.1M114.8 168.7l0.3 2.8 0.3 2.8 -1.1 2.6 -0.9 2.7 -0.5 2.8 -2.2 1.7 -2.2 1.7 -1.8 2.1 -2.3 1.6 -2.2 1.7 -1.8 2.1M41 142l-2.4 1.4 -2 2 -2.3 1.7 -2.4 1.5M301.7 23.7l2.6 1 2.5 1.2 2.4 1.4 2.2 1.7 2.4 1.5 1.6 2.3 0.5 2.7 -0.3 2.8 -0.6 2.7M152.4 139.1l2.3 1.6 2.5 1.2 2 2 1.8 2.2 2.6 1.1 2.6 1.2 2.4 1.5 2.6 1 2.6 1 2.7 -0.8M297 248.2l0.3 2.8 1.8 2.2 2 2 1.1 2.6 2.4 1.5M37.6 291.4l2.5 1.3 2.2 1.7 1.4 2.4 0.9 2.7 0.2 2.8 -1 2.6 -0.3 2.8 -1.8 2.2 -2 2M283.8 198l-0.9 2.7 -1 2.6 -0.4 2.8 0.4 2.8 1.9 2.1 1.9 2.1 2.5 1.2 2.5 1.2 2.5 1.3 2.5 1.3M240.5 134.5l2 1.9 1 2.6 1 2.6 2.3 1.6 1.8 2.2M130.8 201.2l-1.6 2.3 -2.2 1.8 -2.4 1.4 -2.2 1.7M190.9 -5.4l0.3 2.8 0.3 2.8 0.3 2.8 1.2 2.5 1.2 2.5 2.4 1.5 2.1 1.9M220.7 201.1l-1.9 2.1 -2.1 1.9 -1.3 2.5 -1.4 2.4 -0.4 2.8 -0.8 2.7 0.4 2.8 1.5 2.4M205.1 318.9l-2.5 1.3 -2.1 1.9 -2.2 1.8 -2.7 0.7 -1.8 2.2 -2.5 1.3 -2.5 1.2 -2.1 1.9M257.6 16.7l0.6 2.7 -0.2 2.8 1.3 2.5 -0.1 2.8 -1.4 2.4M269.8 73.3l1.6 2.3 0.2 2.8 0.6 2.7 1.4 2.4 1 2.6 0.7 2.7 1.8 2.1 2.4 1.5M316 99.6l-1.3 2.5 -0.6 2.7 -0.7 2.7 0.2 2.8 -1 2.6 -0.3 2.8 -0.4 2.8M273.4 59.3l1.6 2.3 1.2 2.5 1.1 2.6 -0.1 2.8M65 302.7l-1.2 2.5 -2.4 1.5 -2.5 1.3 -2.7 0.8 -2.4 1.5 -2.6 1.1 -2.7 0.7 -2.7 0.8M238.2 63.5l-2.7 -0.8 -2.7 -0.8 -2.8 -0.5 -2.6 0.9 -2.8 -0.4 -2.7 0.6 -2.7 0.6 -2 1.9 -2.1 1.8 -2.7 0.8 -2.7 0.8M169.4 184.9l0.6 2.7 -0.8 2.7 -0.3 2.8 -0.1 2.8 -1.4 2.4 -0.4 2.8 -1.4 2.5 -0.4 2.8 -0.8 2.7 -1.3 2.5M112.4 182l-1.4 2.4 -2.3 1.5 -2.3 1.6 -2.4 1.5 -1.6 2.3 -1.5 2.4 -2.7 0.9 -1.9 2 -2.3 1.5 -1.9 2.1 -1 2.6M56.8 265.3l0.3 2.8 0 2.8 0.1 2.8 1.6 2.3 0.2 2.8 1.6 2.3M187.2 44l2.5 1.2 1.9 2.1 1.6 2.3 -0.1 2.8 -1 2.6 -0.2 2.8 -1 2.6 -2 1.9 -1.9 2.1 -2.1 1.9 -1.6 2.3M205.6 194.7l0.8 2.7 -0.6 2.7 -1 2.6 -0.5 2.8 -0.6 2.7 0.1 2.8 0.2 2.8M143.5 286.5l1.7 2.2 2.5 1.2 2.4 1.4 1.9 2.1M328.5 188.1l2.8 -0.1 2.6 1.1 2 2 1.9 2.1 1.9 2M132.1 315.8l1.7 2.2 1.8 2.1 0.7 2.7 1.2 2.5 0.1 2.8 0.7 2.7 -0.3 2.8 -0.6 2.7M132.5 305.2l1.5 2.4 2.3 1.6 1 2.6 2.2 1.7 0.7 2.7 0.5 2.8M160.4 320.5l-1.8 2.1 -1.7 2.2 -0.8 2.7 -1.2 2.5 -0.2 2.8 0.3 2.8 2 1.9 2.4 1.4 1.7 2.2M134.7 306.5l1.2 2.5 1.2 2.5 1 2.6 2.1 1.9 1.4 2.4 -0.7 2.7 -0.3 2.8 -1 2.6 -0.2 2.8 0.3 2.8M35.5 163.2l0 2.8 1.5 2.4 2.5 1.3 2.8 0.2 2.7 0.8 2.8 0M81.6 125.3l-2.8 0.4 -2.7 0.7 -2.7 0.6 -2.8 -0.1 -2.5 -1.2M227.5 196.5l-2.5 1.3 -2.6 0.9 -1.9 2.1 -1.5 2.4M206 109.4l-2.7 0.8 -2.7 0.8 -2.2 1.8 -2.2 1.8 -2.7 0.7 -2.3 1.6 -2.5 1.2M174.6 115.9l-1.1 2.6 -0.7 2.7 -1.4 2.4 -0.8 2.7 -0.9 2.7 -0.8 2.7M106.4 29l-2.8 -0.4 -2.6 -0.9 -2.8 0.2 -2.8 -0 -2.8 -0.5 -2.8 -0.4 -2.2 1.8 -1.9 2.1 -2.2 1.7M83.4 31.5l-1.7 2.2 -2.3 1.6 -1.6 2.3 -2.3 1.5 -1 2.6M291.4 269l2.3 1.6 2 2 2.1 1.8 1.1 2.6 -0.3 2.8 0.9 2.7 -0.4 2.8M113.3 326.7l1.2 2.5 1.9 2.1 2.2 1.7 1.8 2.2 1.2 2.5 1.5 2.3 1.5 2.3 0.8 2.7 1.3 2.5 1.3 2.5M157.5 252l2.2 1.7 2.7 0.9 2.4 1.5 2.5 1.2 2.6 1.1 2.8 0.3 2.8 -0.3M302 111.5l0.7 2.7 -0.4 2.8 0.6 2.7 0.8 2.7M300.6 86.9l2.1 1.8 2.7 0.8 2.3 1.5 1.9 2 0.6 2.7 0 2.8 0.9 2.6 0.6 2.7 -0.4 2.8M86.2 178l1.3 2.5 1 2.6 0.7 2.7 0.7 2.7 0.5 2.8 0.8 2.7 0.2 2.8M3.3 96.5l2.7 -0.6 2.3 -1.6 2.8 0.1 2.8 0.3 2.7 0.7 2.6 1.1 2.5 1.2 2.1 1.8 1.2 2.5M313.8 199.3l2.8 0.3 2.7 -0.9 2.8 -0.5 2.8 -0.1M240.9 223.1l-1.3 2.5 -1 2.6 -1.1 2.6 -1.6 2.3 -0.9 2.6 -1.7 2.3 -1.9 2.1 -1.4 2.4M-4.2 199.6l0 2.8 -0.4 2.8 -0.4 2.8 -0.2 2.8 -0.4 2.8 1.4 2.4 1.6 2.3 1 2.6 1.9 2M116 269.3l2.7 0.6 2.8 -0.1 2.7 0.6 2.8 0.2 2.4 1.4 2.8 -0.1 2.6 0.9 2.2 1.7 2.5 1.3M15.8 194.1l2.7 0.9 2.7 0.6 2.8 0.3 2.8 0.1 2.6 -1.1 2.8 0.3 2.8 0.4 2.7 -0.8M296.6 120.1l1.6 2.3 1.4 2.4 0.5 2.8 0.5 2.8 0.1 2.8 1.6 2.3 0.7 2.7 0.7 2.7 1.7 2.2 1.1 2.6 1.6 2.3M124.9 18.4l-2.6 1.1 -2.8 -0.1 -2.7 -0.6 -2.7 -0.6 -2.6 -1.1 -2.6 -1.1 -2.8 -0.4 -2.8 0.2 -2.8 -0.1 -2.6 1.1 -2.8 0.1M289.4 220.2l2.6 1 1.8 2.1 1.4 2.4 0.9 2.6 0.7 2.7 0.3 2.8 -0.5 2.7 -0.5 2.8 -0.3 2.8M140.1 302.3l1.5 2.4 1.3 2.5 0.7 2.7 1.6 2.3 -0.3 2.8 0.6 2.7 -0.8 2.7 -0.2 2.8M230.8 245.8l-1.4 2.4 -2.6 1 -2.3 1.6 -1.9 2 -2.6 1.1 -2.5 1.2M57 57.4l-0.4 2.8 -0.6 2.7 0 2.8 -1.3 2.5 -1.7 2.3 -1.5 2.4 -0.8 2.7 -0.2 2.8 -1.4 2.4 -0.3 2.8M190.9 302.2l-2.5 1.2 -2.5 1.2 -2.7 0.7 -2.7 0.8 -2.8 -0.1 -2.8 0.4 -2.8 0.2 -2.8 -0.3M306.4 293.3l1.1 2.6 0.4 2.8 1.1 2.6 2.1 1.9 2.5 1.4 2.6 1.1 1.7 2.2 0.9 2.7 1.4 2.4M163.4 148.8l2.6 1.1 2.7 0.6 2.8 0.3 2.6 1.1 2.8 -0.3M122.9 279.8l2.7 0.6 1.7 2.2 2.5 1.3 2.1 1.9 2.1 1.9 1.3 2.5M22.8 324.2l0.4 2.8 -1 2.6 -0.1 2.8 -0.1 2.8 -1.4 2.4 -0.6 2.7 -1.2 2.6 -1.9 2 -1.8 2.1M0.1 321.4l2.7 0.7 2.7 -0.9 2.7 0.9 2.7 -0.7 2.8 0 2.6 1.1 2.4 1.5M235.2 255l-2.5 1.3 -1.8 2.1 -2 2 -1.8 2.2 -2.6 1.1 -2.1 1.8 -2.2 1.7 -2.8 0.3 -2.4 1.5M122.5 41.7l1.4 2.4 1.6 2.3 2.1 1.8 1.8 2.1 1.9 2 2.1 1.9 2.1 1.9 1.4 2.4 2.3 1.6 2.2 1.7 2.8 0.5M80.5 17.2l-1.5 2.4 -1.2 2.5 -0.3 2.8 -1.5 2.4 -0.7 2.7 -1.1 2.6 0.1 2.8 -1 2.6 -1.6 2.3 -1.6 2.3 -1.5 2.4M88.3 227.9l-2.6 1 -2.8 0.3 -2.1 1.8 -2.8 0.4 -2.2 1.7 -2.2 1.7 -2.4 1.5M168.2 6.4l0.4 2.8 0.5 2.8 -0.2 2.8 0.2 2.8M40.4 295l2.1 1.8 2 1.9 0.5 2.8 -0.4 2.8 -1.5 2.4M275 306.5l2.7 0.9 1.4 2.4 2.3 1.6 2 1.9 2.7 0.8 2.3 1.6 2.7 0.9 2.6 1.1 2.8 -0.5 2.8 0 2.5 1.2M66.1 247.4l-1 2.6 -0.8 2.7 -0.7 2.7 -0.5 2.8 -0.4 2.8 -0.8 2.7 -0.5 2.7 -0.2 2.8M311.4 97.4l0.4 2.8 -0.4 2.8 -0.9 2.7 -1.1 2.6 -0.5 2.7 0.6 2.7 -0.3 2.8 -0.9 2.6 -0.4 2.8 0.9 2.7 -0.1 2.8M29.5 38.6l0 2.8 0.3 2.8 -1.4 2.5 -1.4 2.4 -1.4 2.4 0.1 2.8 -0.9 2.7 1.1 2.6 0.4 2.8M139.2 6.9l-2.6 1 -2.6 1 -2.8 0.3 -2.7 0.6 -2.8 0M143.7 -1.3l-2.7 0.9 -2.8 0.3 -2.8 0.2 -2.8 0.4 -2.5 -1.3 -2.4 -1.4 -2.8 0 -2.7 -0.7 -2.8 0.5 -2.8 -0M274.1 30.1l-0.9 2.7 -1 2.6 -1.6 2.3 -2.3 1.6 -1.9 2 -2.5 1.2 -1.6 2.3 -2.7 0.7M231.4 97.9l-0.3 2.8 0.3 2.8 1.1 2.6 1.7 2.2 2 2 1.2 2.5 1.6 2.3 0.4 2.8 1.4 2.4M221.2 61l-2.3 1.6 -1.7 2.2 -1.7 2.2 -2.1 1.8 -2.5 1.2 -2.5 1.2 -2.4 1.5 -2.5 1.3M139.4 206.4l-2.6 1.1 -2.3 1.6 -2.7 0.7 -2.7 0.9 -2.7 0.5 -2.8 0.5 -1.9 2.1 -2.4 1.5 -2.3 1.6 -2.2 1.7 -2.5 1.3M79.2 152.2l-2 2 -1.4 2.4 -2.1 1.8 -1.7 2.2 -1.3 2.5 -1.4 2.4 -0.5 2.8 -0.7 2.7 -0.3 2.8 -0.3 2.8M62.4 113.1l-2.8 0.5 -2.6 1 -2.4 1.5 -2.7 0.6 -2.1 1.8 -2 1.9 -2.5 1.2 -2 1.9 -2.2 1.7 -1.4 2.4 -0.7 2.7M128.7 207.6l-2.6 1.1 -1.8 2.1 -2.7 0.8 -2.2 1.8M301.1 112.6l1 2.6 0.5 2.7 -0.5 2.8 0.9 2.7 -0.3 2.8M272.4 297.4l2.2 1.7 2.1 1.8 2.1 1.8 1.9 2 1.7 2.2 1.4 2.4 2 2 2.2 1.7M16 167.2l1 2.6 0.3 2.8 1 2.6 1.2 2.5 2.2 1.7 2 2 2.8 -0.1 2.7 0.6 2.6 -0.9 2.4 -1.5 2.7 -0.7M119.2 284.7l1.9 2 1 2.6 2.1 1.9 1 2.6 1.6 2.3 1 2.6 0.4 2.8M125.2 230.6l-2.8 -0.2 -2.8 0.2 -2.8 0.5 -2.8 0.5 -2.8 -0.3 -2.6 1 -2.1 1.8M280.3 232.1l1.8 2.1 0.1 2.8 1.1 2.6 -1.2 2.5 -0.2 2.8 -0.4 2.8M82.8 244l-0.6 2.7 -0.7 2.7 -1.2 2.5 -1.1 2.6 -1.6 2.3 -1.4 2.4 -1 2.6 -0.4 2.8M77.9 110.9l-2.8 -0.3 -2.7 -0.8 -2.8 0.2 -2.4 1.4 -2.5 1.2 -2.5 1.2 -2.7 0.6 -2.6 1 -2.7 0.6M82.3 306.1l-0.1 2.8 -0.2 2.8 0.2 2.8 -0.9 2.7 -0.8 2.7 -2 1.9 -2.6 0.9 -2.1 1.9 -2.4 1.5 -2.4 1.4 -2.1 1.8M22.9 25.8l2.1 1.8 1.9 2 1.7 2.2 1.1 2.6 0.8 2.7 -0.6 2.7 -0.7 2.7 -1.2 2.5 -1.3 2.5M295.4 120.5l0.5 2.7 0.8 2.7 0.7 2.7 1.4 2.4 1.3 2.5 0.4 2.8 2.1 1.8 0.7 2.7 2 2 0.8 2.7M0.8 217.4l1.8 2.1 0.9 2.7 0.4 2.8 0.6 2.7 -0.1 2.8 -0.7 2.7 -1.1 2.6M203.2 85.3l-2.8 -0.2 -2.7 0.9 -2.7 0.7 -2.6 1.1 -2.7 0.6 -1.8 2.1M252.9 226.4l-2.2 1.7 -1.9 2.1 -2 2 -1.7 2.2 -1.7 2.2 -2.3 1.7M291 179.3l-1 2.6 0 2.8 -0.3 2.8 -0.5 2.8 -0.4 2.8 -0.1 2.8 0.5 2.8M189.6 207.7l1.6 2.3 1.3 2.5 1.2 2.5 0.4 2.8M66.5 46.3l-1.4 2.4 -0.8 2.7 -0.1 2.8 -1.1 2.6 -0.6 2.7 -0.5 2.8 -2 2M190.6 17.8l2.8 0.3 2.8 -0.5 2.8 0.4 2.6 -0.9 2.8 -0 2.8 -0.1 2.6 1M63.6 60.8l-2 2 -1.6 2.3 -1.9 2.1 -1.8 2.1 -0.4 2.8 -0.7 2.7 -0.7 2.7 -1.3 2.5 -0.7 2.7 -1.7 2.2M126.6 54.3l1.5 2.4 1.2 2.5 1.4 2.4 1.2 2.5 2 1.9 2.6 1.1 2.7 0.5 2.8 0.2 2.8 -0.2M261.1 282.6l-0 2.8 0.5 2.7 0.6 2.7 2 1.9 2 2 2.5 1.2M260.9 5.8l-0.5 2.8 -0.2 2.8 1.2 2.5 1 2.6 1.3 2.5 0.8 2.7 -0.2 2.8 0.3 2.8 -1.1 2.6 -1.2 2.5 -2.1 1.8M66.4 93.9l-0.3 2.8 -1.1 2.6 -0.3 2.8 -1.8 2.1 -1.7 2.2 -1.3 2.5M318 174.9l2.2 1.8 2.3 1.6 2.5 1.2 2.8 -0.4M193 260.5l1.9 2 0.6 2.7 -0.5 2.8 -1.2 2.5 -1.1 2.6 -1.9 2 -1.3 2.5 -2.2 1.7 -1.4 2.4 -1.8 2.2 -2.5 1.2M27.6 28l0.9 2.6 0.1 2.8 1.1 2.6 -0.9 2.7 0.5 2.8M28.8 187.9l2.6 -1.1 2.4 -1.5 2.7 -0.6 2.5 -1.3M121.3 59.4l1.7 2.2 1.1 2.6 1.2 2.6 1.8 2.1 1.9 2 1.8 2.2 2.8 0.1 2.8 0.4 2.8 0.2M9.6 192.2l1.1 2.6 2.4 1.5 2.7 0.6 2.8 -0 2.8 0.2 2.8 -0.1 2.7 -0.9 2.8 0.1M318.6 9.2l2.8 -0.5 2.6 -1.1 2.6 -1 2.8 -0.1M180.7 2.7l0.7 2.7 0.8 2.7 0.5 2.8 1.5 2.4M235.6 148.4l0.5 2.8 0 2.8 -0 2.8 -1.1 2.6 -2.4 1.4 -2.1 1.8 -1.3 2.5 -1.7 2.3 -2.6 0.9M218.8 138.8l-1.5 2.4 -2.3 1.6 -2 2 -2.5 1.3 -1.5 2.4 -2.1 1.9 -2.5 1.3 -1.9 2.1 -1.6 2.3 -1 2.6M82.5 285.6l-0.5 2.7 0.1 2.8 0.3 2.8 -0.7 2.7 -0.3 2.8M130.4 115.9l-0.6 2.7 -0.1 2.8 -1 2.6 -0 2.8 1.5 2.4 0.7 2.7 1.9 2.1 2.5 1.2 2.7 0.7 2.6 1 2.8 0.1M14.5 302.3l2 2 2.6 1.1 2.7 0.7 2.8 -0.1 2.7 0.8 2.1 1.8 1.3 2.5 0.9 2.7M42 187.8l2.7 -0.6 2.8 0.2 2.8 -0.3 2.7 0.6 2.5 1.2 2.6 1M172 270.5l2.8 0.1 2.6 1.1 2.3 1.6 2.2 1.7 -0.1 2.8 0.3 2.8 -1.4 2.4 -1.6 2.3 -1.7 2.3 -1.5 2.3M144.9 314.4l0.7 2.7 0.2 2.8 -0.8 2.7 -0.8 2.7 -1.4 2.4 0 2.8 -1.1 2.6 -0.4 2.8 0.8 2.7 0.7 2.7 0.9 2.7M9 278.3l2.6 1 2.3 1.6 2.1 1.8 1 2.6 1.3 2.5 2 1.9M221.5 23.1l-0.1 2.8 -1 2.6 0.7 2.7 -0.8 2.7 -0.8 2.7 0.6 2.7 -0.1 2.8 -0 2.8 0.1 2.8 -0 2.8 -1.2 2.5M163.6 303l-2.7 0.8 -2.4 1.5 -0.9 2.7 -2.2 1.8 -2.3 1.7M112.1 257.8l-1 2.6 -0.8 2.7 -0.1 2.8 1 2.6 1.9 2 2 1.9 2.4 1.4M307.8 254.3l1.5 2.3 1.5 2.4 1.2 2.5 1 2.6 0.4 2.8 -1.4 2.4 -0.3 2.8 -1.2 2.6 -0.5 2.8M195.9 156.3l-1.1 2.6 -1 2.6 -0.3 2.8 -1.4 2.4 -1.2 2.5 -0.1 2.8 -1 2.6 -0.8 2.7M88.2 47.2l-2.4 1.5 -2.6 0.9 -2.6 1 -2.6 0.9 -2.3 1.6M59.6 313.6l-2.6 1 -1.9 2.1 -2.7 0.8 -2 2 -2.6 1.1 -2.2 1.8 -2 2M236.6 72.6l-2.8 0.1 -2.7 0.6 -2.7 -0.8 -2.8 0.1 -2.6 -1.1 -2.8 0.5M151 156.6l2.7 0.5 2.8 0.1 2.8 -0 2.8 0.5M36.9 157.4l-0.5 2.7 0.9 2.7 0.6 2.7 1.2 2.5 2.2 1.7 2.8 0.3 2.7 0.8 2.5 1.2 2.8 -0 2.4 1.4 2 2M65.3 230.9l-2.1 1.8 -1 2.6 -1.8 2.1 -1.2 2.5M242.5 115l0.6 2.7 1.2 2.5 1.4 2.4 1.7 2.2 2.3 1.6 2.8 0.5 2.7 -0.5 2.7 0.6 2.8 0.3 2.3 -1.6 2.7 -0.8M171.7 290.8l-2.3 1.7 -1 2.6 -1.6 2.3 -2.2 1.8 -2 2 -1.6 2.3 -2.2 1.7M318.3 48.2l-1.1 2.6 -1.5 2.3 -1 2.6 -1.3 2.5 -0.6 2.7 0.4 2.8 -0.5 2.8 0.1 2.8 0.5 2.8 0.6 2.7 1.4 2.4M273 178.1l-1.6 2.3 -1.7 2.3 -1.1 2.6 -1 2.6 -1.7 2.2 -1.2 2.5 -1.5 2.4M320 220.8l2.3 1.7 2.1 1.8 2.6 1.1 2.8 0 2.7 0.8 2.8 -0 2.4 1.5 2.3 1.6 1.3 2.5 -0.2 2.8M21.2 32.8l1.5 2.4 0 2.8 1 2.6 -0.2 2.8 -1.2 2.5 0.3 2.8M253.3 67.7l-0.9 2.7 -1.5 2.4 -1 2.6 0.1 2.8 0.5 2.8 1.7 2.2 0.8 2.7 1.9 2M251.3 308.5l2.8 0.1 2.8 -0.2 2.8 -0.1 2.8 0.4 2.7 0.7M101.2 244l-2.6 1 -2.1 1.8 -1.5 2.4 -1.7 2.2 -2.1 1.8M20 84.9l2.8 -0.3 2.5 1.3 2.3 1.6 2.3 1.5 1.6 2.3 1.5 2.4 0.5 2.8 -0.9 2.7 -0.3 2.8 -0.4 2.8 -1 2.6M302.2 54.1l-0.4 2.8 -0 2.8 -0.7 2.7 -0.3 2.8 -1.2 2.5M164.8 -0.5l0.3 2.8 1 2.6 -0.3 2.8 0 2.8 1.1 2.6 1.1 2.6 0.9 2.6 1.4 2.4 0.6 2.7 2.1 1.8 2 2M33.8 102.7l-1.5 2.4 -0.8 2.7 -0.5 2.8 -1.2 2.5M312.8 187.8l2.8 -0.2 2.4 -1.4 2.4 -1.4 2.6 -1M91.4 7.5l-1.2 2.5 -0.6 2.7 -2.1 1.9 -1.1 2.6 -1.6 2.3 -1.7 2.3 -2 1.9 -1 2.6M179.2 316.9l-1.1 2.6 -0.9 2.7 -1.4 2.4 -0.7 2.7 0.8 2.7 1.1 2.6 -0.5 2.8M194.7 125.5l-0.4 2.8 0.1 2.8 -0.2 2.8 0.2 2.8 0.6 2.7 1.8 2.1M59.8 257.1l-0.5 2.7 -0.9 2.6 -1 2.6 0.2 2.8M217.7 30.9l0.6 2.7 -1.2 2.5 -0.4 2.8 -1.1 2.6M309.3 64.8l1 2.6 1.2 2.5 1.9 2.1 0.7 2.7 0.9 2.7 2.1 1.8M295.3 178.3l0.1 2.8 -0.1 2.8 0 2.8 0.4 2.8 0.8 2.7 2.2 1.7 2.4 1.4 2.5 1.2M250.3 243.7l-0 2.8 0.1 2.8 -0.6 2.7 -0.4 2.8 -1.3 2.5 -1.5 2.3 -1.4 2.4 -0.8 2.7 -2.2 1.8 -0.9 2.6 -2.4 1.4M278.8 -8.7l0.3 2.8 2 2 1.7 2.3 2.1 1.9 1.3 2.5M218.1 255.6l-2.3 1.5 -2.4 1.5 -2.3 1.6 -2 1.9 -1.8 2.1 -2.5 1.3M112.9 204.9l-2.5 1.4 -2.8 0.1 -2.8 0.2 -2.6 1M307.7 216.9l2.5 1.2 1.8 2.1 2.4 1.4 2.4 1.5 1.5 2.4 2.3 1.6 2.5 1.3 2.4 1.5 2.7 0.5 2.8 0.4M83.7 169.3l-1.1 2.6 -0.4 2.8 0.6 2.7 1.1 2.6 1.5 2.4 1.2 2.5 2 2M103.3 220.2l-2.3 1.6 -2.4 1.4 -2.8 0.3 -2.8 0.2 -2.8 0.3 -2.6 1.1 -2.3 1.6 -2.8 0.5 -2.8 0.5 -2.1 1.8M313.4 316.1l1.2 2.5 0.7 2.7 0.4 2.8 -1.7 2.2 -0.4 2.8 -0.7 2.7 -1.3 2.5M324.2 129.5l-0.6 2.7 -0.8 2.7 -2 2 -0.9 2.6 -1.4 2.4M18.8 47.3l0.3 2.8 0.4 2.8 0.4 2.8 -0.3 2.8 0.5 2.8 -0.2 2.8M238.7 175.9l-2 -2 -2.4 -1.5 -2.6 -1 -2.8 0 -2.3 1.6 -2.6 1 -2.7 0.7 -2 1.9M119.5 43.3l0.7 2.7 1.4 2.4 2.1 1.9 0.8 2.7 1.7 2.2 1.1 2.6 1.8 2.2 2.1 1.8 2.5 1.3 2 2M99.5 7.2l-2.1 1.8 -1.7 2.2 -1.4 2.4 -2.3 1.6 -1.6 2.3 -2.1 1.9 -1.6 2.3 -1.6 2.3 -1.1 2.6 -2.3 1.5M242.1 260.9l-1.3 2.5 -1 2.6 -1.4 2.4 -1.5 2.4 -2 1.9M221 134.1l-1.1 2.6 -1.8 2.2 -2.4 1.5 -1.4 2.4 -1.2 2.5 -1.4 2.4 -1.5 2.4 -2 2 -2.1 1.8M251.5 291l-1.2 2.5 -0.7 2.7 0.5 2.7 0.6 2.7M67.4 237.1l-2.6 1 -2.6 1.1 -2.3 1.6 -1.2 2.5 -1.6 2.3M31.7 285.7l0.8 2.7 1.7 2.2 2.3 1.6 1.9 2 2.5 1.3 1.9 2.1 0.3 2.8 0 2.8 -1 2.6 -0.3 2.8M17.9 307l2.8 0 2.8 0.5 2.3 1.5 2.2 1.8 1.9 2.1 0.2 2.8 0.8 2.7 -1.1 2.6 -0.6 2.7 -1.5 2.3M131.9 274.7l2.7 0.7 2.4 1.5 2.2 1.7 1.3 2.5 2.2 1.8M248.8 324.1l2.5 1.2 2.8 0.4 2.6 1.1 2.3 1.7 1.7 2.2 1.8 2.2M29.4 65l2.3 1.6 1.8 2.2 2.2 1.7 2.4 1.4 2.3 1.6 1.7 2.2 0.3 2.8 0.9 2.7 -0.6 2.7 -0.3 2.8 -0.6 2.7M182.9 41.3l2.5 -1.3 2.8 -0.3 2.8 0.3 2.6 1.1 1.6 2.3 0.8 2.7 0.5 2.7 0.7 2.7 -0.8 2.7M74 240.7l-1.8 2.2 -2.2 1.8 -2.2 1.7 -2 2M83.4 201.8l0.2 2.8 -0.9 2.6 0.2 2.8 -1.6 2.3 -1.3 2.5 -1.1 2.6 -2.5 1.3 -2 2 -1.5 2.4 -1.4 2.4 -2 2M182.1 301.5l-2.7 0.9 -2.7 -0.6 -2.8 0.4 -2.8 0.3 -2.5 1.2 -2.7 0.8 -2.7 0.7 -2.4 1.4 -2.1 1.9M166.5 38l2.7 0.5 2.7 -0.8 2.7 -0.7 2.1 -1.9 2.7 -0.7 2.7 -0.7 2.2 -1.7 2.5 -1.4 2.8 -0.2 2.8 -0.2 2.7 -0.6M212.7 160.7l-2.1 1.8 -1.7 2.2 -1.8 2.2 -1.9 2.1 -1.7 2.2 -1 2.6 0.1 2.8 0.2 2.8M184 249.6l2.8 0.1 2.8 -0.1 2.7 0.7 2.6 -0.9 2.8 -0.5 2.8 -0.3 2.5 1.3 2.6 1 2.3 1.6M29.7 263.4l0.2 2.8 0.2 2.8 0.6 2.7 0.8 2.7 0.6 2.7 0.3 2.8 -0 2.8 0.5 2.8 2.3 1.7 2 2M222.1 109.1l0.4 2.8 1.6 2.3 1.9 2.1 0.4 2.8 -0 2.8M51.8 179.4l2.8 0.4 2.6 1 2 1.9 1.5 2.4 1.3 2.5 2.3 1.5 1.4 2.4 1.5 2.4 2.5 1.2 1.9 2.1 2.7 0.8M98.5 212.8l-2.8 0.2 -2.6 1 -2.8 0.3 -2.6 1.1 -2.7 0.6 -2.2 1.8 -2 2 -2.6 0.9 -2.4 1.5" stroke="#d2d2d2" stroke-width=".8" opacity=".75"/>
<path d="M26.7 244.5l1.1 2.6 2.4 1.5 0.9 2.6 2.1 1.9 1.3 2.5 0.3 2.8 -0.7 2.7 0.3 2.8 -1.1 2.6M21.3 223.2l0.6 2.7 0.6 2.7 0.4 2.8 -0.5 2.8 -0.9 2.6 0.8 2.7 1.4 2.4 0.2 2.8M304 0.8l1.3 2.5 2.1 1.9 2.4 1.4 2.8 0.2 2.5 1.2 2.6 -1 2.8 -0.4 2.8 0 2.4 -1.4M70.9 297.1l-1.4 2.4 -2.3 1.6 -2.3 1.6 -2.4 1.4M117.1 2.3l-2.7 0.6 -2.8 0.1 -2.6 0.9 -2.7 0.8 -2.8 0.4 -2.6 1.1 -2 1.9 -2.4 1.4M166.2 283.6l2.4 1.4 1.6 2.3 0.3 2.8 -1.5 2.4 -1.6 2.3M136.1 264.6l2.5 1.2 2.4 1.4 2.6 1.1 2.2 1.7 2 1.9 1.7 2.2 2.3 1.5 2.1 1.8 2.7 0.9 2.8 0.2 2.4 1.5M243.5 85.2l0 2.8 0.3 2.8 1.9 2 1.7 2.2 1.9 2M260.8 0l-0.1 2.8 0.3 2.8 -0.7 2.7 0.2 2.8 1.3 2.5 1.6 2.3 -0.1 2.8 0.2 2.8 -0.5 2.8 0.4 2.8M2.6 53.4l1.6 2.3 -0.2 2.8 0.5 2.8 -0.1 2.8 1.4 2.4 0.6 2.7 0.1 2.8M83.8 157.5l-1.9 2.1 -1.9 2 -1.8 2.1 -1.7 2.2 -0.9 2.6 -1.2 2.5 -0.6 2.7M7.2 34.2l0.7 2.7 1.3 2.5 0.1 2.8 1.7 2.2 0.7 2.7 1.2 2.5 0.8 2.7 0.2 2.8 0.6 2.7M97.9 -0.8l-1.7 2.3 -1.6 2.3 -1.6 2.3 -1.8 2.1 -1.4 2.5 -1.9 2.1 -1.5 2.4 -2 2M94.3 305.9l-0.7 2.7 0.1 2.8 -0.2 2.8 -1 2.6 -2.6 1.1 -1.9 2.1 -2.2 1.7 -2.7 0.7M36.8 166.6l2.2 1.7 2.1 1.9 2.6 0.9 2.6 1.1 2.8 -0.3M-5.1 266.2l0.3 2.8 0.2 2.8 1.7 2.3 1.7 2.2 2.7 0.8M294.7 293.4l1 2.6 1.5 2.4 1.3 2.5 1.8 2.1 1.3 2.5M224.5 27.6l0.4 2.8 -0.6 2.7 -0.9 2.6 -0.4 2.8 0.7 2.7M133.4 309.4l1.6 2.3 1.5 2.4 1.8 2.1 1.4 2.4 1.4 2.4 0.3 2.8 0.4 2.8 0.1 2.8M100.7 265.7l-0.7 2.7 -0.1 2.8 -1.2 2.6 0.1 2.8 0.8 2.7M200.7 281.5l-2.7 -0.7 -2.8 -0 -2.8 0.5 -2.8 -0.4 -2.7 0.6 -2.6 0.9M235 31.6l0.6 2.7 0.1 2.8 -0.2 2.8 -0.2 2.8M274.6 4.7l1.4 2.4 1.8 2.1 1.4 2.4 -0.5 2.8M170.4 -9.1l2.1 1.9 2.1 1.9 0.6 2.7 1.5 2.4 0.5 2.7 0.4 2.8 -0.4 2.8 0.3 2.8 0.5 2.8 1.8 2.2M155.8 115l0.5 2.8 1.5 2.3 0.7 2.7 1.9 2.1M143.4 302.4l2.3 1.6 1.6 2.3 1 2.6 -0.4 2.8 0.3 2.8 -0.3 2.8 -1.5 2.4 -0 2.8 -1 2.6 -0.3 2.8M223.3 144l-2 2 -2.5 1.3 -1.9 2.1 -2.2 1.8M307.6 32.2l2.1 1.8 0.9 2.7 1.2 2.5 0.4 2.8 -0.6 2.7M286.3 203.9l2 2 2.4 1.4 2.5 1.2 2.7 0.9 2.8 -0.3 2.7 0.8 2.8 0.2 2.7 0.5M139.4 250.4l2.7 0.6 2.4 1.4 2.8 -0.4 2.5 1.3 2.7 0.5 2.8 -0.1 2.7 0.6M113.5 317.6l0.5 2.8 0.6 2.7 -0 2.8 1.9 2 1.5 2.4 1.2 2.5 0.7 2.7 2 2M199.1 318.6l-2.8 0.5 -2.2 1.8 -2.3 1.6 -1.9 2.1 -1 2.6 -1.1 2.6 -1.1 2.6 -1.4 2.4M20.4 40.3l0.3 2.8 -0 2.8 -0.6 2.7 -0.3 2.8 -1.2 2.5 -0.2 2.8 -0.7 2.7 -0.7 2.7 0.3 2.8M325.5 158.8l-0.6 2.7 -0.9 2.6 0.4 2.8 0.7 2.7 2.1 1.9 1.7 2.2 1.9 2.1 2.3 1.6 2.4 1.5 2.6 1.1M27.2 142.3l0.6 2.7 -0.6 2.7 -0.7 2.7 0.2 2.8 0.6 2.7M115.9 188.1l-2.7 0.6 -2.7 0.6 -2.6 1 -2.3 1.5M56.7 318.1l-2 2 -2.7 0.7 -1.9 2 -2 2 -2.4 1.5 -2 2M157.1 219.1l-0.5 2.7 0.4 2.8 0.5 2.8 2.3 1.7 2.5 1.3 2.2 1.7 2.7 0.9 2.6 0.9 1.9 2.1M164.3 112.6l-0.7 2.7 -0.3 2.8 0.9 2.6 -0.3 2.8 1.1 2.6 0.5 2.7 -0.3 2.8 0.8 2.7 1.5 2.4 1.3 2.5M90.9 16.4l-2.2 1.8 -0.9 2.6 -1.6 2.3 -2.3 1.6M296.9 175.5l-0.4 2.8 0.5 2.8 -0.8 2.7 0.4 2.8 0.2 2.8 0.9 2.6 1.9 2 2.8 0.3 2.8 0.5M74.9 6l-1 2.6 -0.8 2.7 -1.2 2.5 -1.6 2.3 -0.8 2.7 -1.1 2.6 -0.3 2.8 -0.8 2.7 0.4 2.8M238.2 304l-0.5 2.7 -1 2.6 -0.6 2.7 0.4 2.8 1.7 2.2 1.8 2.2 2.2 1.7 2.7 0.7 2.8 -0.2M32.2 286.6l1.2 2.5 2.6 1.1 2.6 1 2.5 1.2 2.1 1.9 0.8 2.7 1.6 2.3 -0.6 2.7 -0.7 2.7 0.2 2.8M84.6 258.6l-1.8 2.2 -1.2 2.5 -1.8 2.2 -1.6 2.3 -1.4 2.4 -1.7 2.2 -1.3 2.5 -1.3 2.5 -0.9 2.7M3.3 259.5l0 2.8 -0.1 2.8 1.5 2.4 1.4 2.4 1.8 2.2 1.7 2.2 2.3 1.6 2 2 2.3 1.6 0.5 2.7 1.9 2M0.4 274.9l2.4 1.4 2.7 0.7 2.4 1.4 2.3 1.6 2.4 1.5 1 2.6 1.1 2.6 2 2 1.2 2.5M195.5 298l-2.4 1.5 -2.8 0.1 -2.7 0.8 -2.8 -0.1 -2.7 0.8 -2.8 -0.1M92.2 224.9l-2.3 1.6 -2.2 1.8 -2.8 0.2 -2.5 1.3M133.5 163.7l0.6 2.7 1.4 2.4 1 2.6 0.9 2.6 0.7 2.7 0.8 2.7 0 2.8 -0.1 2.8M199.7 124.5l-0.5 2.8 0.2 2.8 -0.3 2.8 0.2 2.8M57.6 220.6l1.8 2.1 2.1 1.8 1.3 2.5 -0.3 2.8 -0.1 2.8 -0.6 2.7 -1.8 2.1 -1.4 2.4M143.2 243.6l1.7 2.2 2.4 1.4 2.7 0.7 2.4 1.4 2.6 1.1 2.8 0.4 2.8 0.4 2.7 0.6 2.7 0.6 2.6 1.1M6 274.7l1.9 2.1 2.2 1.8 1.6 2.3 1.6 2.3 1.5 2.4 0.7 2.7 1 2.6 1.6 2.3M42.7 272.1l-0.2 2.8 0.6 2.7 1.5 2.4 2 1.9 2.1 1.9 1.5 2.4M284.3 296.6l1.4 2.4 2 1.9 1.1 2.6 0.8 2.7 1.4 2.4 1.8 2.1 2.4 1.4 2.8 0.4 2.5 1.3 2.8 0.4 2.2 1.8M49.8 26.2l-1.1 2.6 -1.6 2.3 -1.8 2.1 -0.9 2.7 -0.3 2.8 -1.4 2.4 0.3 2.8M75.2 306.5l-1 2.6 -1.2 2.5 -0.4 2.8 -0.4 2.8 -0.4 2.8 -1.2 2.5 -1.3 2.5 -2.6 1M233.4 293.4l-2.8 0.5 -2.8 0.2 -2.8 0.2 -2.8 0.5 -2.3 1.6M142.9 39.8l2 2 1.3 2.5 2 1.9 2.6 1 2.7 0.7 2.5 1.3 2.7 -0.8 2.7 -0.7 2.8 -0.2 2.1 -1.8 2 -2M89.5 156.1l-2.7 0.7 -2.7 0.8 -2.5 1.2 -2 2 -2.6 1.1 -1.5 2.4 -2.3 1.6 -1.3 2.5 -1.6 2.3 -0.6 2.7M139.5 149l2.8 -0.3 2.8 0.2 2.8 0.2 2.3 1.6 2.6 1M227.3 92.2l-1.4 2.4 -1.4 2.4 -0.5 2.7 -1.2 2.5 -0.3 2.8 0.2 2.8M221.1 28l0.5 2.8 -1.1 2.6 -0.9 2.6 -1.1 2.6 -0.8 2.7 0 2.8 -0.6 2.7 -0.5 2.8M301.8 86.5l2.2 1.7 2.3 1.7 2.3 1.6 1.4 2.4 1 2.6 1.2 2.5 0.4 2.8 0.3 2.8 -0.6 2.7 0.2 2.8 -1 2.6M199.1 160.1l-1.9 2.1 -0.4 2.8 -1.6 2.3 -1 2.6 -1.6 2.3 -1.4 2.4M304.5 196.8l2.8 0.3 2.8 -0.1 2.8 -0.1 2.7 -0.7 2.6 -1 2.7 -0.6 2.7 -0.8M118.2 60.5l1.3 2.5 0.6 2.7 1.4 2.4 2 2 2.3 1.6 1.4 2.4 2.7 0.6 2.8 0.2M54.7 156.8l0.9 2.7 0.3 2.8 1.1 2.6 2.3 1.5 1.7 2.2 1 2.6 1.4 2.4 0.5 2.7 0.2 2.8 1.4 2.4 1.9 2.1M11.4 243.6l-0.2 2.8 -0.6 2.7 -1 2.6 0.5 2.8 1.3 2.5 1.6 2.3 2.2 1.7 1.4 2.4 2 2 2.3 1.5 0.7 2.7M291 294l1.5 2.4 0.8 2.7 1.2 2.5 1.5 2.4 1.9 2.1M169.9 300.4l-2.3 1.5 -2.4 1.4 -2.7 0.8 -2.6 1.1 -1.7 2.2 -2.2 1.8 -2.1 1.8 -2.2 1.8 -0.7 2.7M327.9 105.8l-1 2.6 0.6 2.7 -0.9 2.7 0.3 2.8 -0.8 2.7 0.2 2.8 0.2 2.8 -1.3 2.5 -0.5 2.8 -1.6 2.3 -1 2.6M222.7 145.4l-2.1 1.9 -1.6 2.3 -1.8 2.1 -2.3 1.6 -2.2 1.8 -2.1 1.9 -1.5 2.4 -1.9 2 -1.8 2.2 -1.2 2.6 -2.2 1.7M34.1 236.5l2.4 1.4 2.5 1.4 2.3 1.7 1.5 2.4 1.5 2.4 0.3 2.8 -0.2 2.8 -0.4 2.8 -1.4 2.4 -0.2 2.8 -0.2 2.8M192 323.3l-2.2 1.8 -2 1.9 -1.1 2.6 -0.5 2.7 -0.7 2.7 -0.9 2.7 -1.3 2.5M159.1 255.6l2.7 0.8 2.5 1.3 2.6 1.1 2.7 0.8M55.2 85.3l-1.5 2.3 -1.2 2.5 -0.8 2.7 -0.1 2.8 -0.7 2.7 -1.4 2.4 -0 2.8M220 287.4l-2 2 -2.8 0.5 -2.7 0.7 -2.6 1 -2.2 1.8 -2.1 1.8 -2.1 1.9M228.8 320l1 2.6 0.8 2.7 1.9 2 2.1 1.8 2 2 2.7 0.6 2.7 0.8 2.6 1 2.3 1.6M233.6 113.5l1.2 2.5 0.9 2.6 1 2.6 -0.2 2.8 -0 2.8 1.2 2.5M134.7 119.9l0.4 2.8 1.6 2.3 1.9 2 1.6 2.3 2.3 1.6 2.8 -0.3 2.8 0.1M61.4 187.4l1.5 2.4 2.1 1.9 2.1 1.9 1.9 2.1 2.3 1.5 2.5 1.2 2.5 1.3 2.6 1.1 1.9 2.1M276.6 70.2l1.2 2.6 0.5 2.8 0.8 2.7 0.3 2.8 0.6 2.7 0.4 2.8M111.3 65l1.7 2.2 1.8 2.1 0.5 2.7 0.8 2.7 0.8 2.7 0.8 2.7M194.8 290.6l-2.8 0.5 -2.6 -0.9 -2.7 -0.6 -2.7 -0.8 -2.8 0.5 -2.4 1.4 -2.7 0.9 -2.8 0.5 -2.6 1.1 -2.3 1.5 -2.1 1.9M32.7 181.6l2.8 -0.2 2.7 -0.6 2.8 -0.4 2.7 -0.8 2.7 -0.7M212.7 256l-0.8 2.7 -1.2 2.5 -1.8 2.2 -2 2 -2.5 1.3 -2.4 1.4 -2.1 1.9 -2.4 1.4M249.5 193.7l-2.3 1.6 -1.4 2.4 -2.1 1.9 -1.3 2.5 -1.4 2.5 -0 2.8 -0.4 2.8 -0.4 2.8 -0.8 2.7M205.9 255.8l1 2.6 -0.3 2.8 -0.7 2.7 -2.6 1.1 -1.9 2.1M51.6 101.3l-1.1 2.6 -1.3 2.5 -1.2 2.5 -0.2 2.8 -0.8 2.7 -1.2 2.5 -1.3 2.5M50 285.4l2 1.9 1.7 2.2 -0.4 2.8 -0.8 2.7 0.1 2.8 -0.7 2.7 -1.1 2.6 -1.3 2.5 -1.6 2.3 -1.9 2.1M260.6 272.5l-2.5 1.2 -2.2 1.8 -2.7 0.9 -2.7 0.9 -2.4 1.4 -2.4 1.4 -2.7 0.8 -2.4 1.5 -2.8 0.3M21 34l1.1 2.6 0.6 2.7 1.1 2.6 -0.3 2.8 0.2 2.8 -0.8 2.7M45.2 29.7l-0.4 2.8 -1.3 2.5 -0.7 2.7 -0.5 2.8 -0.4 2.8 -0.6 2.7 -0.3 2.8 0.6 2.7 1.4 2.4M147 -3.9l-2.3 1.7 -2.8 0.3 -2.8 0.3 -2.7 -0.7 -2.8 0.3 -2.7 -0.6 -2.7 -0.8 -2.8 -0.4 -2.7 -0.6M78.5 25l-0.1 2.8 -0.9 2.7 -0.7 2.7 -1.2 2.5M182.6 278l0.1 2.8 -1 2.6 -1.9 2.1 -1.8 2.1 -2.5 1.3M7.9 145.9l1.4 2.4 1.8 2.1 1.5 2.4 2.1 1.9 1 2.6 1.2 2.5 0.6 2.7 0.3 2.8 -0.3 2.8 -0.4 2.8 1.5 2.4M228.9 107.2l1.2 2.5 1.6 2.3 1.5 2.3 1.3 2.5 1.2 2.5 1.5 2.4 0.2 2.8 0.7 2.7 0.8 2.7 1.3 2.5 1 2.6M108.6 233.3l-2.4 1.4 -2.7 0.7 -1.9 2 -2.4 1.4 -2.4 1.4M47.9 146.1l-2.3 1.5 -2.7 0.7 -2.7 0.8 -2.6 1 -1.4 2.4 -1.4 2.4 -1.4 2.4 -1.1 2.6 -0.3 2.8M271.8 94.8l2.2 1.7 2.7 0.8 2.6 1 2.7 0.7M108.3 41.7l-0.6 2.7 0.1 2.8 0.8 2.7 0.8 2.7 0.9 2.7 1.8 2.1 2.2 1.7 1.6 2.3 1.5 2.3 0.7 2.7 0.3 2.8M14.7 176.8l1.5 2.4 0.5 2.7 1.1 2.6 2.6 0.9 2.5 1.2 2.8 -0.2 2.8 -0.2 2.6 -1.1 2.4 -1.5M6.3 324.6l2.8 -0.3 2.6 1 2.4 1.4 2.4 1.5 0.7 2.7 -0.1 2.8M58.1 280.1l0.2 2.8 0.5 2.8 0.9 2.7 -0.6 2.7 -1.8 2.2 -0.2 2.8 -1.5 2.3 -0.8 2.7M45.8 35.2l-1.5 2.4 0 2.8 -0.6 2.7 -0.5 2.7 1 2.6 1.5 2.3 1.1 2.6 1.5 2.4 1.3 2.5 1.8 2.2 0 2.8M248.5 -2.2l-2.7 0.5 -2.6 1.1 -2.6 1 -2.1 1.9 -1.2 2.5 -1.8 2.2 -2.2 1.7 -1.7 2.2 -0.6 2.7M210 47.3l-0.7 2.7 -1.5 2.3 -0.5 2.8 -0.2 2.8 -0.8 2.7 -0.8 2.7 -1.6 2.3 -2.2 1.7 -2.1 1.8 -1.9 2.1 -1.1 2.6M156.6 40.3l2.4 1.5 2.8 -0 2.8 0.1 2.6 -1.1 2.8 -0.3M137.8 282.1l2.1 1.9 1.4 2.4 2.4 1.4 2.1 1.9M108.1 322.4l-0.5 2.8 0.2 2.8 -0.4 2.8 -0.4 2.8 0.4 2.8 1.3 2.5 1 2.6 0.7 2.7 0 2.8M218.4 187.2l-2.3 1.6 -1.4 2.5 -1.2 2.5 -1.4 2.4 -1.9 2.1M0.1 208.7l1.3 2.5 1.6 2.3 2.2 1.7 2.2 1.8 2.2 1.8 1.5 2.4M232.2 228.8l0.6 2.7 0.2 2.8 -0.7 2.7 -0.8 2.7 -1.5 2.4 -1 2.6 -1.2 2.5 -1.2 2.5M323.6 166.1l0.7 2.7 1.2 2.5 2.2 1.7 2 2 2.7 0.7 2.6 1 2.4 1.5M96.2 157.2l-1.8 2.2 -1.7 2.3 -0.9 2.6 -0.7 2.7 -1.4 2.4 -1.3 2.5 -0.8 2.7M34.3 136.5l-1.9 2 -1.5 2.3 -0.8 2.7 -0.6 2.7 -1.5 2.3 -0.9 2.7 -1.2 2.5M154.9 225l-0 2.8 1.9 2 1.6 2.3 2.6 1 2.6 1.1M85.4 208l-1.5 2.4 -1.1 2.6 -2.4 1.5 -1 2.6 -2.2 1.7 -1.1 2.6 -1.4 2.4 -1.7 2.2 -2.1 1.8M151.2 -1.2l-0.5 2.8 -1.5 2.3 -0.3 2.8 -0.1 2.8 -0.9 2.6 -0.9 2.6 0.7 2.7 1.1 2.6M272.5 309.1l1.8 2.1 2.2 1.7 2.5 1.2 2.5 1.2 2.8 0.5 2.6 1 2.7 0.6 2.8 0.3M176.2 257.3l2.8 -0.4 2.7 0.6 2.7 0.6 2.7 -0.5 2.6 0.9 2.8 0.1M84.5 187.4l1.6 2.3 1.8 2.1 0.5 2.8 0.9 2.7 -0.7 2.7 -0.5 2.8 -0.5 2.8 -1.7 2.2 -1.2 2.5 -1.1 2.6 -2.2 1.7M174.7 46.1l2.5 -1.3 2.3 -1.6 2.8 -0.2 2.7 -0.8 2.7 0.8 2.4 1.4M22.3 -6l1.7 2.2 1.8 2.1 2 2 1.6 2.3 2.7 0.9 2.4 1.4 2.5 1.3 2.7 0.8 2.6 1.1M6.2 34.9l0.8 2.7 1.5 2.4 1.5 2.4 1 2.6 0.9 2.7 -0.3 2.8 -0.1 2.8 -0.8 2.7 0.3 2.8 -0.5 2.7 -0.7 2.7M221.1 271.2l-1.9 2 -2.6 0.9 -2.5 1.2 -2.6 1.1 -2.8 -0.2 -2.6 0.9 -2.8 0.1 -2.6 1 -2.6 1 -2.6 1 -2.8 0.5M294.3 30.5l1.1 2.6 2 2 2 2 2.4 1.4 2.1 1.9 1.8 2.1 1 2.6 0.3 2.8 -1.1 2.6 -0.1 2.8M213.4 217.8l1.2 2.5 2.1 1.8 2.2 1.7 2.3 1.6 2.5 1.3 1.8 2.2 2.3 1.6 1.8 2.1M200.6 116l-1.4 2.4 -1.2 2.5 -1.8 2.1 -1.7 2.2 -1 2.6 0 2.8 0.5 2.8 1.8 2.2 0.7 2.7 1.4 2.4 0.5 2.7M77.5 204.4l1.2 2.5 0.8 2.7 0.3 2.8 -1.1 2.6M236.3 72l-2.8 0.3 -2.8 0.4 -2.5 -1.3 -2.7 -0.7 -2.7 -0.6 -2.7 0.6 -2.6 0.9 -2.7 0.5 -2.7 0.7 -2.6 0.9M204.4 283.7l-2.7 0.7 -2.7 -0.6 -2.7 0.8 -2.7 0.6M66 86.3l-0.8 2.7 0.2 2.8 0.6 2.7 1 2.6 -0 2.8 -1.1 2.6 -0.5 2.7 -1.1 2.6 -2.4 1.5 -1.8 2.2M13.8 230.2l-1 2.6 -1.5 2.3 -0.7 2.7 -1.5 2.4 -2.1 1.9 -1.6 2.3 -1.6 2.3 -2.2 1.8 -2.4 1.4 -2.1 1.9M321.9 296.6l1.8 2.2 0.5 2.8 1.2 2.5 0.4 2.8 0.6 2.7 -0.5 2.8 -1 2.6 -0.8 2.7M88.9 2.2l-1.1 2.6 -1.5 2.3 -1.8 2.2 -1.6 2.3M254.9 51.7l-2.8 0.1 -2.8 -0.2 -2.8 0.3 -2.7 0.9 -2.5 1.2M202.1 178.7l-0.8 2.7 0.2 2.8 0.2 2.8 0.4 2.8 1.1 2.6 -0.3 2.8 1 2.6 -0.1 2.8M128.6 127.1l1.5 2.3 1.2 2.5 2.2 1.8 2.5 1.2M196.5 -8.5l-0 2.8 0.3 2.8 -0.3 2.8 0.5 2.7 1.3 2.5M220.2 31.9l-0.9 2.6 -0.8 2.7 -1 2.6 -1 2.6 0.1 2.8 -0.4 2.8 -0.5 2.7 -1.4 2.4 -1.5 2.4 -1.8 2.1M-1.5 16.5l-1.4 2.4 -2.3 1.6 -2.5 1.2 -2.6 0.9M91.1 190.5l0.4 2.8 -0.6 2.7 -0.8 2.7 -1.5 2.4 -1.6 2.3 -1.6 2.3 -0.5 2.7 -2.1 1.8M-9.9 -1.8l1 2.6 1.1 2.6 0.3 2.8 0.2 2.8 -0.4 2.8 -0.4 2.8 -0.5 2.8M38.7 7.5l2.5 1.2 2.4 1.5 2.6 1 2.5 1.3 2.1 1.9 1.1 2.6 0.3 2.8M100.2 232.8l-1.9 2.1 -1.5 2.4 -2.3 1.7 -2.1 1.8 -1.5 2.4 -1.3 2.5 -2.2 1.7 -0.7 2.7M165.3 193.5l-1.7 2.2 -1.4 2.4 -1.9 2.1 -2.1 1.8 -2.2 1.7 -2.2 1.8 -2.6 1.1 -2.8 0.2 -2.8 0.3 -2.5 1.2 -2.5 1.3M161.5 249.5l2.8 0.5 2.6 1.1 2.4 1.4 2.6 1 2.6 1.1 2.7 0.7 2.7 0.7M138.5 253l2.7 0.8 2.8 0.3 2.8 -0.2 2.5 1.3 2.7 0.8 2.8 0.5 2.7 0.8 2.6 1.1 2.7 0.9 2.1 1.9 2.7 0.7M68.2 164.4l-0.8 2.7 0.3 2.8 -0.5 2.8 1.1 2.6M73.5 -2.9l-0.1 2.8 -1.7 2.3 -0.8 2.7 -1.5 2.4 -0.4 2.8 -1 2.6M-7.5 21.8l-2.6 1.2 -2.6 1.1 -1.7 2.2 -2.1 1.8 -2.7 0.8 -2.8 0.4 -1.8 2.1 -2.5 1.4 -2.8 0.3 -2.5 1.3" stroke="#ececec" stroke-width=".9" opacity=".8"/>
</g>
</defs>
<rect width="303" height="302" fill="#5a5a5a"/>
<g filter="url(#bb4)">
<path d="M-5 224.6C3.7 209.8 29 218.5 47.2 219.4C65.5 220.2 87.2 225.4 104.6 229.8C122 234.1 141.1 237.6 151.5 245.4C162 253.3 163.7 266.3 167.2 276.7C170.7 287.2 201.1 302.8 172.4 308C143.7 313.2 24.6 321.9 -5 308C-34.5 294.1 -13.6 239.3 -5 224.6Z" fill="#8a8a8a"/>
<path d="M141.1 130.7C145.5 118.5 167.2 105.5 177.6 104.6C188.1 103.7 201.1 113.3 203.7 125.5C206.3 137.6 200.2 164.6 193.3 177.6C186.3 190.7 168.9 203.7 162 203.7C155 203.7 155 189.8 151.5 177.6C148.1 165.4 136.8 142.8 141.1 130.7Z" fill="#707070"/>
<path d="M135.9 73.3C140.2 65.9 163.7 85 177.6 86.3C191.5 87.6 208.1 78.9 219.4 81.1C230.7 83.3 248 92 245.4 99.4C242.8 106.8 219.4 120.2 203.7 125.5C188.1 130.7 162.8 139.4 151.5 130.7C140.2 122 131.5 80.7 135.9 73.3Z" fill="#6c6c6c"/>
<path d="M151.5 203.7C155 201.5 166.3 221.1 177.6 229.8C188.9 238.5 210.7 247.2 219.4 255.9C228 264.6 236.7 277.6 229.8 282C222.8 286.3 189.8 288.5 177.6 282C165.4 275.4 161.1 255.9 156.8 242.8C152.4 229.8 148.1 205.9 151.5 203.7Z" fill="#646464"/>
<path d="M10.7 162C15.5 150.7 34.6 150.7 39.4 162C44.2 173.3 44.2 218.5 39.4 229.8C34.6 241.1 15.5 241.1 10.7 229.8C5.9 218.5 5.9 173.3 10.7 162Z" fill="#8c8c8c"/>
<path d="M164.6 268.9C175.4 260.2 216.7 249.3 229.8 255.9C242.8 262.4 253.7 299.3 242.8 308C232 316.7 177.6 314.6 164.6 308C151.5 301.5 153.7 277.6 164.6 268.9Z" fill="#707070"/>
<path d="M-5 2.9C15.9 -5 98.5 -3.7 120.2 0.3C142 4.2 128.1 24.6 125.5 26.3C122.8 28.1 117.6 14.2 104.6 10.7C91.5 7.2 62.9 3.3 47.2 5.5C31.6 7.7 19.4 16.8 10.7 23.7C2 30.7 -2.3 50.7 -5 47.2C-7.6 43.7 -25.8 10.7 -5 2.9Z" fill="#4c4c4c"/>
<path d="M219.4 60.3C232.8 60.3 291.1 71.1 305.4 81.1C319.8 91.1 313.7 115.9 305.4 120.2C297.2 124.6 269.3 113.7 255.9 107.2C242.4 100.7 230.7 88.9 224.6 81.1C218.5 73.3 205.9 60.3 219.4 60.3Z" fill="#484848"/>
<path d="M0.3 42C2.9 27.2 13.7 48.1 15.9 62.9C18.1 77.6 15.9 115.9 13.3 130.7C10.7 145.5 2.4 166.3 0.3 151.5C-1.9 136.8 -2.3 56.8 0.3 42Z" fill="#5c5c5c"/>
</g>
<path d="M185.4 0.3C203.3 -3.7 285.4 -11.9 305.4 0.3C325.4 12.4 310.2 61.6 305.4 73.3C300.6 85 286.7 72.9 276.7 70.7C266.7 68.5 255 64.6 245.4 60.3C235.9 55.9 227.2 50.7 219.4 44.6C211.5 38.5 204.1 31.1 198.5 23.7C192.8 16.3 167.6 4.2 185.4 0.3Z" fill="url(#bdisk)" filter="url(#bb1)"/>
<clipPath id="bc1"><path d="M23.7 18.5C30.3 11.6 44.6 6.8 55 5.5C65.5 4.2 78.1 5.9 86.3 10.7C94.6 15.5 99.4 24.6 104.6 34.2C109.8 43.7 113.3 58.1 117.6 68.1C122 78.1 126.8 85.9 130.7 94.2C134.6 102.4 139.4 108.9 141.1 117.6C142.8 126.3 139.8 137.2 141.1 146.3C142.4 155.5 148.1 162.8 148.9 172.4C149.8 182 147.6 194.1 146.3 203.7C145 213.3 143.7 221.1 141.1 229.8C138.5 238.5 136.3 247.2 130.7 255.9C125 264.6 116.8 275.9 107.2 282C97.6 288 85.5 292.8 73.3 292.4C61.1 291.9 45 285 34.2 279.3C23.3 273.7 13.3 265.9 8.1 258.5C2.9 251.1 2 242 2.9 235C3.7 228 8.1 222 13.3 216.7C18.5 211.5 30.3 210.2 34.2 203.7C38.1 197.2 38.5 186.3 36.8 177.6C35 168.9 27.2 161.1 23.7 151.5C20.3 142 18.1 132 15.9 120.2C13.7 108.5 10.7 93.3 10.7 81.1C10.7 68.9 13.7 57.6 15.9 47.2C18.1 36.8 17.2 25.5 23.7 18.5Z"/><path d="M120.2 2.9C129.4 -4.1 165.4 -2.8 177.6 0.3C189.8 3.3 187.2 15 193.3 21.1C199.4 27.2 210.2 30.7 214.1 36.8C218 42.9 218.5 50.7 216.7 57.6C215 64.6 210.2 73.7 203.7 78.5C197.2 83.3 186.3 86.8 177.6 86.3C168.9 85.9 159.8 78.9 151.5 75.9C143.3 72.9 132.8 73.7 128.1 68.1C123.3 62.4 124.2 52.9 122.8 42C121.5 31.1 111.1 9.8 120.2 2.9Z"/><path d="M0.3 10.7C2 6.3 9.4 20.3 10.7 26.3C12 32.4 9.8 42.9 8.1 47.2C6.3 51.6 1.6 58.5 0.3 52.4C-1 46.3 -1.5 15 0.3 10.7Z"/><path d="M0.3 125.5C2.4 114.2 10.7 129.8 13.3 135.9C15.9 142 16.3 152.4 15.9 162C15.5 171.5 13.3 186.3 10.7 193.3C8.1 200.2 2 215 0.3 203.7C-1.5 192.4 -1.9 136.8 0.3 125.5Z"/></clipPath>
<clipPath id="bc2"><path d="M305.4 75.9C302.4 59.4 295.4 78.5 287.2 83.7C278.9 88.9 266.3 101.1 255.9 107.2C245.4 113.3 235 114.6 224.6 120.2C214.1 125.9 202 131.5 193.3 141.1C184.6 150.7 176.8 166.3 172.4 177.6C168.1 188.9 165.4 200.2 167.2 208.9C168.9 217.6 175.9 223.7 182.8 229.8C189.8 235.9 199.8 242 208.9 245.4C218 248.9 229.8 253.3 237.6 250.7C245.4 248 249.3 237.6 255.9 229.8C262.4 222 268.5 211.5 276.7 203.7C285 195.9 300.6 204.1 305.4 182.8C310.2 161.5 308.5 92.4 305.4 75.9Z"/><path d="M305.4 188.1C300.6 171.1 285.9 196.7 276.7 203.7C267.6 210.7 257.6 221.1 250.7 229.8C243.7 238.5 238.5 247.2 235 255.9C231.5 264.6 228.9 273.7 229.8 282C230.7 290.2 227.6 301.5 240.2 305.4C252.8 309.3 294.6 325 305.4 305.4C316.3 285.9 310.2 205 305.4 188.1Z"/></clipPath>
<g filter="url(#brough)">
<path d="M305.4 188.1C300.6 171.1 285.9 196.7 276.7 203.7C267.6 210.7 257.6 221.1 250.7 229.8C243.7 238.5 238.5 247.2 235 255.9C231.5 264.6 228.9 273.7 229.8 282C230.7 290.2 227.6 301.5 240.2 305.4C252.8 309.3 294.6 325 305.4 305.4C316.3 285.9 310.2 205 305.4 188.1Z" fill="url(#bg2)"/>
<path d="M305.4 75.9C302.4 59.4 295.4 78.5 287.2 83.7C278.9 88.9 266.3 101.1 255.9 107.2C245.4 113.3 235 114.6 224.6 120.2C214.1 125.9 202 131.5 193.3 141.1C184.6 150.7 176.8 166.3 172.4 177.6C168.1 188.9 165.4 200.2 167.2 208.9C168.9 217.6 175.9 223.7 182.8 229.8C189.8 235.9 199.8 242 208.9 245.4C218 248.9 229.8 253.3 237.6 250.7C245.4 248 249.3 237.6 255.9 229.8C262.4 222 268.5 211.5 276.7 203.7C285 195.9 300.6 204.1 305.4 182.8C310.2 161.5 308.5 92.4 305.4 75.9Z" fill="url(#bg2)"/>
<path d="M120.2 2.9C129.4 -4.1 165.4 -2.8 177.6 0.3C189.8 3.3 187.2 15 193.3 21.1C199.4 27.2 210.2 30.7 214.1 36.8C218 42.9 218.5 50.7 216.7 57.6C215 64.6 210.2 73.7 203.7 78.5C197.2 83.3 186.3 86.8 177.6 86.3C168.9 85.9 159.8 78.9 151.5 75.9C143.3 72.9 132.8 73.7 128.1 68.1C123.3 62.4 124.2 52.9 122.8 42C121.5 31.1 111.1 9.8 120.2 2.9Z" fill="url(#bg2)"/>
<path d="M23.7 18.5C30.3 11.6 44.6 6.8 55 5.5C65.5 4.2 78.1 5.9 86.3 10.7C94.6 15.5 99.4 24.6 104.6 34.2C109.8 43.7 113.3 58.1 117.6 68.1C122 78.1 126.8 85.9 130.7 94.2C134.6 102.4 139.4 108.9 141.1 117.6C142.8 126.3 139.8 137.2 141.1 146.3C142.4 155.5 148.1 162.8 148.9 172.4C149.8 182 147.6 194.1 146.3 203.7C145 213.3 143.7 221.1 141.1 229.8C138.5 238.5 136.3 247.2 130.7 255.9C125 264.6 116.8 275.9 107.2 282C97.6 288 85.5 292.8 73.3 292.4C61.1 291.9 45 285 34.2 279.3C23.3 273.7 13.3 265.9 8.1 258.5C2.9 251.1 2 242 2.9 235C3.7 228 8.1 222 13.3 216.7C18.5 211.5 30.3 210.2 34.2 203.7C38.1 197.2 38.5 186.3 36.8 177.6C35 168.9 27.2 161.1 23.7 151.5C20.3 142 18.1 132 15.9 120.2C13.7 108.5 10.7 93.3 10.7 81.1C10.7 68.9 13.7 57.6 15.9 47.2C18.1 36.8 17.2 25.5 23.7 18.5Z" fill="url(#bg1)"/>
<path d="M0.3 10.7C2 6.3 9.4 20.3 10.7 26.3C12 32.4 9.8 42.9 8.1 47.2C6.3 51.6 1.6 58.5 0.3 52.4C-1 46.3 -1.5 15 0.3 10.7Z" fill="#9a9a9a"/><path d="M0.3 125.5C2.4 114.2 10.7 129.8 13.3 135.9C15.9 142 16.3 152.4 15.9 162C15.5 171.5 13.3 186.3 10.7 193.3C8.1 200.2 2 215 0.3 203.7C-1.5 192.4 -1.9 136.8 0.3 125.5Z" fill="#9a9a9a"/>
</g>
<g filter="url(#bb2)" clip-path="url(#bc1)">
<ellipse cx="187.8" cy="101.3" rx="8.9" ry="5.9" fill="#555" opacity="0.38"/>
<ellipse cx="120" cy="166.2" rx="4.9" ry="10" fill="#d0d0d0" opacity="0.3"/>
<ellipse cx="125.1" cy="248.3" rx="9.7" ry="6.4" fill="#555" opacity="0.38"/>
<ellipse cx="190.8" cy="152" rx="5.1" ry="7.6" fill="#d0d0d0" opacity="0.3"/>
<ellipse cx="38.3" cy="228" rx="5.2" ry="6.5" fill="#555" opacity="0.38"/>
<ellipse cx="37" cy="66" rx="6.6" ry="10.6" fill="#d0d0d0" opacity="0.3"/>
<ellipse cx="36" cy="245.1" rx="8.4" ry="10.9" fill="#d0d0d0" opacity="0.3"/>
<ellipse cx="198.4" cy="36.6" rx="4.5" ry="11.3" fill="#555" opacity="0.38"/>
<ellipse cx="133" cy="39.8" rx="8.7" ry="9.4" fill="#555" opacity="0.38"/>
<ellipse cx="45.5" cy="272.3" rx="9.1" ry="12.8" fill="#555" opacity="0.38"/>
<ellipse cx="177.7" cy="274.8" rx="5.3" ry="8.8" fill="#555" opacity="0.38"/>
<ellipse cx="175" cy="225.2" rx="9.7" ry="5.3" fill="#555" opacity="0.38"/>
<ellipse cx="124.1" cy="21" rx="9.9" ry="5.9" fill="#555" opacity="0.38"/>
<ellipse cx="227" cy="263.4" rx="4.3" ry="8.8" fill="#d0d0d0" opacity="0.3"/>
<ellipse cx="165.3" cy="36.7" rx="4.6" ry="11.7" fill="#555" opacity="0.38"/>
<ellipse cx="212.2" cy="268.6" rx="7.5" ry="5.5" fill="#d0d0d0" opacity="0.3"/>
<ellipse cx="121.1" cy="223" rx="4.2" ry="5.1" fill="#d0d0d0" opacity="0.3"/>
<ellipse cx="38.5" cy="268.8" rx="6.3" ry="8.8" fill="#555" opacity="0.38"/>
<ellipse cx="205.6" cy="48" rx="8.6" ry="5.7" fill="#555" opacity="0.38"/>
<ellipse cx="54.5" cy="17" rx="5.4" ry="9" fill="#d0d0d0" opacity="0.3"/>
<ellipse cx="99.6" cy="284.8" rx="7.6" ry="8.9" fill="#d0d0d0" opacity="0.3"/>
<ellipse cx="76.2" cy="245" rx="7.7" ry="7.4" fill="#555" opacity="0.38"/>
<ellipse cx="78" cy="137" rx="7.6" ry="5.6" fill="#555" opacity="0.38"/>
<ellipse cx="24" cy="49.6" rx="9.3" ry="9.1" fill="#555" opacity="0.38"/>
<ellipse cx="162.5" cy="228.1" rx="9.7" ry="8.1" fill="#555" opacity="0.38"/>
<ellipse cx="116.7" cy="146.7" rx="8.6" ry="6.6" fill="#d0d0d0" opacity="0.3"/>
</g>
<g filter="url(#bb05)">
<g clip-path="url(#bc1)"><use href="#bfib"/><use href="#bfib" transform="translate(310 300) rotate(172)"/><use href="#bfib" transform="translate(-20 320) rotate(-80) scale(-1 1) translate(-320 0)" opacity=".7"/><use href="#bfib" transform="translate(300 -10) scale(-1 1)" opacity=".8"/><use href="#bfib" transform="translate(-15 -20) rotate(14)" opacity=".7"/></g>
<g clip-path="url(#bc2)"><use href="#bfib" transform="translate(60 340) rotate(-118)" opacity=".85"/><use href="#bfib" transform="translate(330 -30) rotate(55)" opacity=".7"/><use href="#bfib" transform="translate(20 320) rotate(-128)" opacity=".6"/><use href="#bfib" transform="translate(40 330) rotate(-108) scale(1 -1) translate(0 -300)" opacity=".7"/></g>
</g>
<rect width="303" height="302" filter="url(#bgrain)" style="mix-blend-mode:overlay"/>
<rect x="223.7" y="283.3" width="68" height="3.7" fill="#fff"/>
<text x="255" y="274" font-family="'Liberation Sans', Arial, sans-serif" font-size="21" font-weight="normal" fill="#fff" text-anchor="middle" >1 µm</text>
</svg>
<svg x="959" y="39" width="301" height="302" viewBox="0 0 301 302">
<defs>
<filter id="cb3" x="-50%" y="-50%" width="200%" height="200%"><feGaussianBlur stdDeviation="5"/></filter>
<filter id="cb1" x="-50%" y="-50%" width="200%" height="200%"><feGaussianBlur stdDeviation="1.1"/></filter>
<filter id="cb2" x="-50%" y="-50%" width="200%" height="200%"><feGaussianBlur stdDeviation="2.8"/></filter>
<filter id="cwarp" x="0" y="0" width="100%" height="100%"><feTurbulence type="fractalNoise" baseFrequency="0.022" numOctaves="2" seed="11" result="t"/><feDisplacementMap in="SourceGraphic" in2="t" scale="38" xChannelSelector="R" yChannelSelector="G"/></filter>
</defs>
<rect width="301" height="302" fill="#8e8e8e"/>
<g filter="url(#cwarp)"><rect x="-30" y="-30" width="361" height="362" fill="#8e8e8e"/>
<g filter="url(#cb3)">
<ellipse cx="5.5" cy="8.1" rx="32" ry="18" transform="rotate(-25 5.5 8.1)" fill="#2e2e2e"/>
<ellipse cx="112.4" cy="57.6" rx="30.8" ry="26.1" transform="rotate(-15 112.4 57.6)" fill="#6c6c6c"/>
<ellipse cx="74.6" cy="120.2" rx="27.4" ry="27.4" transform="rotate(0 74.6 120.2)" fill="#767676"/>
<ellipse cx="137.2" cy="125.5" rx="22.2" ry="26.1" transform="rotate(10 137.2 125.5)" fill="#6a6a6a"/>
<ellipse cx="44.6" cy="81.1" rx="14.3" ry="19.6" transform="rotate(10 44.6 81.1)" fill="#7c7c7c"/>
<ellipse cx="162" cy="203.7" rx="26.1" ry="28.7" transform="rotate(-20 162 203.7)" fill="#7a7a7a"/>
<ellipse cx="216.7" cy="219.4" rx="30" ry="37.8" transform="rotate(15 216.7 219.4)" fill="#7e7e7e"/>
<ellipse cx="278" cy="47.2" rx="14.3" ry="22.2" transform="rotate(15 278 47.2)" fill="#727272"/>
<ellipse cx="182.8" cy="17.2" rx="26.1" ry="15.1" transform="rotate(-5 182.8 17.2)" fill="#686868"/>
<ellipse cx="224.6" cy="115" rx="17" ry="20.3" transform="rotate(0 224.6 115)" fill="#7a7a7a"/>
<ellipse cx="34.2" cy="232.4" rx="24.8" ry="30" transform="rotate(-20 34.2 232.4)" fill="#787878"/>
<ellipse cx="125.5" cy="274.1" rx="32.6" ry="20.9" transform="rotate(-10 125.5 274.1)" fill="#7a7a7a"/>
<ellipse cx="270.2" cy="182.8" rx="20.9" ry="28.7" transform="rotate(10 270.2 182.8)" fill="#888888"/>
<ellipse cx="258.5" cy="271.5" rx="28.7" ry="22.2" transform="rotate(0 258.5 271.5)" fill="#828282"/>
<ellipse cx="15.9" cy="159.4" rx="14.3" ry="22.2" transform="rotate(15 15.9 159.4)" fill="#828282"/>
<ellipse cx="60.3" cy="284.6" rx="26.1" ry="17" transform="rotate(0 60.3 284.6)" fill="#7e7e7e"/>
<ellipse cx="245.4" cy="23.7" rx="15.6" ry="18.3" transform="rotate(0 245.4 23.7)" fill="#8a8a8a"/>
<ellipse cx="295" cy="120.2" rx="10.4" ry="19.6" transform="rotate(0 295 120.2)" fill="#7e7e7e"/>
<ellipse cx="193.3" cy="282" rx="15.6" ry="18.3" transform="rotate(0 193.3 282)" fill="#828282"/>
<ellipse cx="91.5" cy="195.9" rx="13" ry="17" transform="rotate(25 91.5 195.9)" fill="#808080"/>
<ellipse cx="289.8" cy="245.4" rx="13" ry="20.9" transform="rotate(10 289.8 245.4)" fill="#868686"/>
<ellipse cx="60.3" cy="39.4" rx="15.6" ry="13" transform="rotate(-20 60.3 39.4)" fill="#8c8c8c"/>
<ellipse cx="18.5" cy="109.8" rx="10.4" ry="15.6" transform="rotate(0 18.5 109.8)" fill="#868686"/>
<ellipse cx="190.7" cy="81.1" rx="23.5" ry="15.6" fill="#a4a4a4"/>
<ellipse cx="156.8" cy="156.8" rx="60" ry="11.7" fill="#aaaaaa"/>
<ellipse cx="282" cy="94.2" rx="18.3" ry="20.9" fill="#9e9e9e"/>
<ellipse cx="21.1" cy="55" rx="15.6" ry="23.5" fill="#9c9c9c"/>
<ellipse cx="282" cy="219.4" rx="11.7" ry="28.7" fill="#9a9a9a"/>
<ellipse cx="208.9" cy="295" rx="23.5" ry="13" fill="#909090"/>
<ellipse cx="151.5" cy="34.2" rx="10.4" ry="15.6" fill="#9a9a9a"/>
<ellipse cx="81.1" cy="162" rx="20.9" ry="10.4" fill="#a0a0a0"/>
<ellipse cx="245.4" cy="156.8" rx="18.3" ry="13" fill="#a0a0a0"/>
</g>
<g fill="none" stroke-linecap="round" stroke="#b6b6b6" opacity=".7" filter="url(#cb2)"><ellipse cx="112.4" cy="57.6" rx="31.8" ry="27.1" transform="rotate(318 112.4 57.6)" stroke-dasharray="76.1 22.3 48.3 34.6" stroke-width="7"/><ellipse cx="74.6" cy="120.2" rx="28.4" ry="28.4" transform="rotate(80 74.6 120.2)" stroke-dasharray="80.5 22 32.2 14.8" stroke-width="5"/><ellipse cx="137.2" cy="125.5" rx="23.2" ry="27.1" transform="rotate(16 137.2 125.5)" stroke-dasharray="59.9 11.4 35.2 22.6" stroke-width="7"/><ellipse cx="44.6" cy="81.1" rx="15.3" ry="20.6" transform="rotate(46 44.6 81.1)" stroke-dasharray="41.1 7.4 30.2 13.7" stroke-width="5"/><ellipse cx="162" cy="203.7" rx="27.1" ry="29.7" transform="rotate(87 162 203.7)" stroke-dasharray="73 10.8 25.9 31.8" stroke-width="5"/><ellipse cx="216.7" cy="219.4" rx="31" ry="38.8" transform="rotate(362 216.7 219.4)" stroke-dasharray="101.8 16.9 63.1 31" stroke-width="7"/><ellipse cx="278" cy="47.2" rx="15.3" ry="23.2" transform="rotate(211 278 47.2)" stroke-dasharray="39.5 17.2 21.1 23" stroke-width="6"/><ellipse cx="182.8" cy="17.2" rx="27.1" ry="16.1" transform="rotate(149 182.8 17.2)" stroke-dasharray="49.9 8.9 23 11.8" stroke-width="7"/><ellipse cx="224.6" cy="115" rx="18" ry="21.3" transform="rotate(156 224.6 115)" stroke-dasharray="35.4 13.9 23.6 13.8" stroke-width="6"/><ellipse cx="34.2" cy="232.4" rx="25.8" ry="31" transform="rotate(-9 34.2 232.4)" stroke-dasharray="62.8 17 44.2 15" stroke-width="7"/><ellipse cx="125.5" cy="274.1" rx="33.6" ry="21.9" transform="rotate(286 125.5 274.1)" stroke-dasharray="80.7 8.9 46.1 21.3" stroke-width="5"/><ellipse cx="270.2" cy="182.8" rx="21.9" ry="29.7" transform="rotate(135 270.2 182.8)" stroke-dasharray="48.8 10.7 46.2 16.3" stroke-width="6"/><ellipse cx="258.5" cy="271.5" rx="29.7" ry="23.2" transform="rotate(301 258.5 271.5)" stroke-dasharray="64.8 22.4 30.2 21.8" stroke-width="7"/><ellipse cx="15.9" cy="159.4" rx="15.3" ry="23.2" transform="rotate(189 15.9 159.4)" stroke-dasharray="55.4 6.3 34.2 10.7" stroke-width="7"/><ellipse cx="60.3" cy="284.6" rx="27.1" ry="18" transform="rotate(47 60.3 284.6)" stroke-dasharray="51.5 9 26.4 22.7" stroke-width="6"/><ellipse cx="245.4" cy="23.7" rx="16.6" ry="19.3" transform="rotate(352 245.4 23.7)" stroke-dasharray="38.8 7.2 17.3 10.5" stroke-width="6"/><ellipse cx="295" cy="120.2" rx="11.4" ry="20.6" transform="rotate(207 295 120.2)" stroke-dasharray="32.7 5.4 29.4 14.2" stroke-width="5"/><ellipse cx="193.3" cy="282" rx="16.6" ry="19.3" transform="rotate(74 193.3 282)" stroke-dasharray="47.9 9 20 16.9" stroke-width="5"/><ellipse cx="91.5" cy="195.9" rx="14" ry="18" transform="rotate(313 91.5 195.9)" stroke-dasharray="29.1 9.4 26.2 9.1" stroke-width="5"/><ellipse cx="289.8" cy="245.4" rx="14" ry="21.9" transform="rotate(40 289.8 245.4)" stroke-dasharray="52.4 10 19.2 13.6" stroke-width="6"/><ellipse cx="60.3" cy="39.4" rx="16.6" ry="14" transform="rotate(247 60.3 39.4)" stroke-dasharray="29.7 12.9 22 9.1" stroke-width="6"/><ellipse cx="18.5" cy="109.8" rx="11.4" ry="16.6" transform="rotate(75 18.5 109.8)" stroke-dasharray="36.6 6.8 16 11.4" stroke-width="5"/><path d="M107.2 162C112.4 159.8 126.8 152.8 138.5 148.9C150.2 145 163.3 141.5 177.6 138.5C192 135.5 216.7 132 224.6 130.7" stroke-width="7"/><path d="M81.1 172.4C87.6 171.1 106.3 167.2 120.2 164.6C134.2 162 150.7 158.9 164.6 156.8C178.5 154.6 192.8 151.5 203.7 151.5C214.6 151.5 225.4 155.9 229.8 156.8" stroke-width="7"/><path d="M99.4 182.8C106.3 181.1 128.1 175.9 141.1 172.4C154.1 168.9 171.5 163.7 177.6 162" stroke-width="6"/><path d="M29 73.3C31.1 72 37.2 66.3 42 65.5C46.8 64.6 55 67.6 57.6 68.1" stroke-width="5"/><path d="M2.9 133.3C8.1 134.6 26.8 138.1 34.2 141.1C41.6 144.1 45 149.8 47.2 151.5" stroke-width="6"/><path d="M177.6 47.2C181.5 41.1 197.2 16.8 201.1 10.7" stroke-width="7"/><path d="M177.6 47.2C182 49.8 198.1 58.5 203.7 62.9C209.4 67.2 210.2 71.6 211.5 73.3" stroke-width="6"/><path d="M162 125.5C164.6 122 167.2 110.2 177.6 104.6C188.1 98.9 216.7 93.7 224.6 91.5" stroke-width="6"/><path d="M240.2 104.6C243.3 99.4 255.9 85 258.5 73.3C261.1 61.6 256.3 40.7 255.9 34.2" stroke-width="7"/><path d="M268.9 151.5C265 148.9 251.1 142.8 245.4 135.9C239.8 128.9 236.7 114.2 235 109.8" stroke-width="5"/><path d="M44.6 229.8C48.1 223.7 59.4 202 65.5 193.3C71.6 184.6 78.5 180.2 81.1 177.6" stroke-width="6"/><path d="M5.5 193.3C10.3 197.2 27.6 210.7 34.2 216.7C40.7 222.8 42.9 227.6 44.6 229.8" stroke-width="7"/><path d="M94.2 240.2C102 241.1 127.2 242.8 141.1 245.4C155 248 169.4 250.7 177.6 255.9C185.9 261.1 188.5 273.3 190.7 276.7" stroke-width="6"/><path d="M263.7 208.9C265 212.4 269.8 224.1 271.5 229.8C273.3 235.4 273.7 240.7 274.1 242.8" stroke-width="6"/><path d="M276.7 55C277.6 49.4 278.5 25.5 282 21.1C285.4 16.8 295 27.6 297.6 29" stroke-width="7"/><path d="M266.3 141.1C271.1 142.8 290.2 149.8 295 151.5" stroke-width="6"/><path d="M0.3 162C3.7 168.1 15 188.5 21.1 198.5C27.2 208.5 34.2 218 36.8 222" stroke-width="5"/><path d="M10.7 29C15.9 27.6 31.6 24.2 42 21.1C52.4 18.1 62.9 12.9 73.3 10.7C83.7 8.5 99.4 8.5 104.6 8.1" stroke-width="5"/><path d="M26.3 104.6C25.9 108.9 22.4 122.8 23.7 130.7C25 138.5 33.3 144.6 34.2 151.5C35 158.5 29.8 168.9 29 172.4" stroke-width="7"/><path d="M224.6 162C226.7 165.4 235 174.6 237.6 182.8C240.2 191.1 239.8 206.7 240.2 211.5" stroke-width="6"/><path d="M177.6 255.9C180.2 260.2 188.9 274.1 193.3 282C197.6 289.8 202 299.3 203.7 302.8" stroke-width="6"/><path d="M282 162C285.4 163.7 299.3 170.7 302.8 172.4" stroke-width="6"/><path d="M141.1 94.2C142.8 90.7 148.1 79.4 151.5 73.3C155 67.2 160.2 60.3 162 57.6" stroke-width="7"/><path d="M255.9 73.3C260.2 74.6 274.1 81.1 282 81.1C289.8 81.1 299.3 74.6 302.8 73.3" stroke-width="6"/><path d="M0.3 94.2C2 90.7 8.1 81.1 10.7 73.3C13.3 65.5 15 51.6 15.9 47.2" stroke-width="6"/><path d="M216.7 26.3C218.9 23.7 223.3 14.6 229.8 10.7C236.3 6.8 251.5 4.2 255.9 2.9" stroke-width="6"/></g>
<g fill="none" stroke-linecap="round" stroke="#cacaca" opacity=".8" filter="url(#cb1)"><ellipse cx="112.4" cy="57.6" rx="31.8" ry="27.1" transform="rotate(318 112.4 57.6)" stroke-dasharray="76.1 22.3 48.3 34.6" stroke-width="1.4"/><ellipse cx="74.6" cy="120.2" rx="28.4" ry="28.4" transform="rotate(80 74.6 120.2)" stroke-dasharray="80.5 22 32.2 14.8" stroke-width="1.8"/><ellipse cx="137.2" cy="125.5" rx="23.2" ry="27.1" transform="rotate(16 137.2 125.5)" stroke-dasharray="59.9 11.4 35.2 22.6" stroke-width="1.4"/><ellipse cx="44.6" cy="81.1" rx="15.3" ry="20.6" transform="rotate(46 44.6 81.1)" stroke-dasharray="41.1 7.4 30.2 13.7" stroke-width="2.4"/><ellipse cx="162" cy="203.7" rx="27.1" ry="29.7" transform="rotate(87 162 203.7)" stroke-dasharray="73 10.8 25.9 31.8" stroke-width="1.4"/><ellipse cx="216.7" cy="219.4" rx="31" ry="38.8" transform="rotate(362 216.7 219.4)" stroke-dasharray="101.8 16.9 63.1 31" stroke-width="1.4"/><ellipse cx="278" cy="47.2" rx="15.3" ry="23.2" transform="rotate(211 278 47.2)" stroke-dasharray="39.5 17.2 21.1 23" stroke-width="1.4"/><ellipse cx="182.8" cy="17.2" rx="27.1" ry="16.1" transform="rotate(149 182.8 17.2)" stroke-dasharray="49.9 8.9 23 11.8" stroke-width="2.4"/><ellipse cx="224.6" cy="115" rx="18" ry="21.3" transform="rotate(156 224.6 115)" stroke-dasharray="35.4 13.9 23.6 13.8" stroke-width="2.4"/><ellipse cx="34.2" cy="232.4" rx="25.8" ry="31" transform="rotate(-9 34.2 232.4)" stroke-dasharray="62.8 17 44.2 15" stroke-width="1.8"/><ellipse cx="125.5" cy="274.1" rx="33.6" ry="21.9" transform="rotate(286 125.5 274.1)" stroke-dasharray="80.7 8.9 46.1 21.3" stroke-width="1.8"/><ellipse cx="270.2" cy="182.8" rx="21.9" ry="29.7" transform="rotate(135 270.2 182.8)" stroke-dasharray="48.8 10.7 46.2 16.3" stroke-width="1.8"/><ellipse cx="258.5" cy="271.5" rx="29.7" ry="23.2" transform="rotate(301 258.5 271.5)" stroke-dasharray="64.8 22.4 30.2 21.8" stroke-width="1.8"/><ellipse cx="15.9" cy="159.4" rx="15.3" ry="23.2" transform="rotate(189 15.9 159.4)" stroke-dasharray="55.4 6.3 34.2 10.7" stroke-width="2.4"/><ellipse cx="60.3" cy="284.6" rx="27.1" ry="18" transform="rotate(47 60.3 284.6)" stroke-dasharray="51.5 9 26.4 22.7" stroke-width="2.4"/><ellipse cx="245.4" cy="23.7" rx="16.6" ry="19.3" transform="rotate(352 245.4 23.7)" stroke-dasharray="38.8 7.2 17.3 10.5" stroke-width="1.8"/><ellipse cx="295" cy="120.2" rx="11.4" ry="20.6" transform="rotate(207 295 120.2)" stroke-dasharray="32.7 5.4 29.4 14.2" stroke-width="1.4"/><ellipse cx="193.3" cy="282" rx="16.6" ry="19.3" transform="rotate(74 193.3 282)" stroke-dasharray="47.9 9 20 16.9" stroke-width="2.4"/><ellipse cx="91.5" cy="195.9" rx="14" ry="18" transform="rotate(313 91.5 195.9)" stroke-dasharray="29.1 9.4 26.2 9.1" stroke-width="2.4"/><ellipse cx="289.8" cy="245.4" rx="14" ry="21.9" transform="rotate(40 289.8 245.4)" stroke-dasharray="52.4 10 19.2 13.6" stroke-width="1.8"/><ellipse cx="60.3" cy="39.4" rx="16.6" ry="14" transform="rotate(247 60.3 39.4)" stroke-dasharray="29.7 12.9 22 9.1" stroke-width="1.8"/><ellipse cx="18.5" cy="109.8" rx="11.4" ry="16.6" transform="rotate(75 18.5 109.8)" stroke-dasharray="36.6 6.8 16 11.4" stroke-width="1.8"/><path d="M107.2 162C112.4 159.8 126.8 152.8 138.5 148.9C150.2 145 163.3 141.5 177.6 138.5C192 135.5 216.7 132 224.6 130.7" stroke-width="1.6"/><path d="M81.1 172.4C87.6 171.1 106.3 167.2 120.2 164.6C134.2 162 150.7 158.9 164.6 156.8C178.5 154.6 192.8 151.5 203.7 151.5C214.6 151.5 225.4 155.9 229.8 156.8" stroke-width="2.2"/><path d="M99.4 182.8C106.3 181.1 128.1 175.9 141.1 172.4C154.1 168.9 171.5 163.7 177.6 162" stroke-width="1.6"/><path d="M29 73.3C31.1 72 37.2 66.3 42 65.5C46.8 64.6 55 67.6 57.6 68.1" stroke-width="2.2"/><path d="M2.9 133.3C8.1 134.6 26.8 138.1 34.2 141.1C41.6 144.1 45 149.8 47.2 151.5" stroke-width="2.8"/><path d="M177.6 47.2C181.5 41.1 197.2 16.8 201.1 10.7" stroke-width="2.8"/><path d="M177.6 47.2C182 49.8 198.1 58.5 203.7 62.9C209.4 67.2 210.2 71.6 211.5 73.3" stroke-width="1.6"/><path d="M162 125.5C164.6 122 167.2 110.2 177.6 104.6C188.1 98.9 216.7 93.7 224.6 91.5" stroke-width="2.8"/><path d="M240.2 104.6C243.3 99.4 255.9 85 258.5 73.3C261.1 61.6 256.3 40.7 255.9 34.2" stroke-width="2.8"/><path d="M268.9 151.5C265 148.9 251.1 142.8 245.4 135.9C239.8 128.9 236.7 114.2 235 109.8" stroke-width="2.2"/><path d="M44.6 229.8C48.1 223.7 59.4 202 65.5 193.3C71.6 184.6 78.5 180.2 81.1 177.6" stroke-width="2.8"/><path d="M5.5 193.3C10.3 197.2 27.6 210.7 34.2 216.7C40.7 222.8 42.9 227.6 44.6 229.8" stroke-width="2.8"/><path d="M94.2 240.2C102 241.1 127.2 242.8 141.1 245.4C155 248 169.4 250.7 177.6 255.9C185.9 261.1 188.5 273.3 190.7 276.7" stroke-width="2.2"/><path d="M263.7 208.9C265 212.4 269.8 224.1 271.5 229.8C273.3 235.4 273.7 240.7 274.1 242.8" stroke-width="2.8"/><path d="M276.7 55C277.6 49.4 278.5 25.5 282 21.1C285.4 16.8 295 27.6 297.6 29" stroke-width="2.2"/><path d="M266.3 141.1C271.1 142.8 290.2 149.8 295 151.5" stroke-width="2.8"/><path d="M0.3 162C3.7 168.1 15 188.5 21.1 198.5C27.2 208.5 34.2 218 36.8 222" stroke-width="2.8"/><path d="M10.7 29C15.9 27.6 31.6 24.2 42 21.1C52.4 18.1 62.9 12.9 73.3 10.7C83.7 8.5 99.4 8.5 104.6 8.1" stroke-width="2.2"/><path d="M26.3 104.6C25.9 108.9 22.4 122.8 23.7 130.7C25 138.5 33.3 144.6 34.2 151.5C35 158.5 29.8 168.9 29 172.4" stroke-width="2.2"/><path d="M224.6 162C226.7 165.4 235 174.6 237.6 182.8C240.2 191.1 239.8 206.7 240.2 211.5" stroke-width="2.8"/><path d="M177.6 255.9C180.2 260.2 188.9 274.1 193.3 282C197.6 289.8 202 299.3 203.7 302.8" stroke-width="2.2"/><path d="M282 162C285.4 163.7 299.3 170.7 302.8 172.4" stroke-width="2.8"/><path d="M141.1 94.2C142.8 90.7 148.1 79.4 151.5 73.3C155 67.2 160.2 60.3 162 57.6" stroke-width="2.8"/><path d="M255.9 73.3C260.2 74.6 274.1 81.1 282 81.1C289.8 81.1 299.3 74.6 302.8 73.3" stroke-width="2.2"/><path d="M0.3 94.2C2 90.7 8.1 81.1 10.7 73.3C13.3 65.5 15 51.6 15.9 47.2" stroke-width="2.8"/><path d="M216.7 26.3C218.9 23.7 223.3 14.6 229.8 10.7C236.3 6.8 251.5 4.2 255.9 2.9" stroke-width="2.8"/></g>
</g>
<linearGradient id="cshade" x1=".8" y1="0" x2=".35" y2="1"><stop offset="0" stop-color="#fff" stop-opacity=".1"/><stop offset=".35" stop-color="#fff" stop-opacity="0"/><stop offset=".6" stop-color="#000" stop-opacity="0"/><stop offset="1" stop-color="#000" stop-opacity=".24"/></linearGradient>
<rect width="301" height="302" fill="url(#cshade)"/>
<rect width="301" height="302" filter="url(#bgrain)" style="mix-blend-mode:overlay"/>
<rect x="179.7" y="281.5" width="109.3" height="3.6" fill="#fff"/>
<text x="245" y="272.4" font-family="'Liberation Sans', Arial, sans-serif" font-size="21" font-weight="normal" fill="#fff" text-anchor="middle" >300 nm</text>
</svg>
</g>
<g id="panel_de">
<svg x="650" y="349" width="303" height="301" viewBox="0 0 303 301">
<defs>
<filter id="db3" x="-50%" y="-50%" width="200%" height="200%"><feGaussianBlur stdDeviation="4"/></filter>
<filter id="db1" x="-50%" y="-50%" width="200%" height="200%"><feGaussianBlur stdDeviation="0.6"/></filter>
<filter id="dgrain" x="0" y="0" width="100%" height="100%" color-interpolation-filters="sRGB">
<feTurbulence type="fractalNoise" baseFrequency="0.8" numOctaves="2" seed="7"/>
<feColorMatrix values="1 0 0 0 0  1 0 0 0 0  1 0 0 0 0  0 0 0 0 .12"/>
</filter>
</defs>
<rect width="303" height="301" fill="#bcbcbc"/>
<g filter="url(#db3)">
<path d="M34.2 177.6C39.4 171.5 61.6 184.6 73.3 193.3C85 202 93.3 219.4 104.6 229.8C115.9 240.2 124.6 252.4 141.1 255.9C157.6 259.3 192.4 246.3 203.7 250.7C215 255 217.6 272.8 208.9 282C200.2 291.1 178.5 301.5 151.5 305.4C124.6 309.3 65.5 318 47.2 305.4C29 292.8 44.2 251.1 42 229.8C39.8 208.5 29 183.7 34.2 177.6Z" fill="#adadad"/>
<path d="M193.3 5.5C199.4 -5.8 230.7 -3.7 245.4 5.5C260.2 14.6 272 47.6 282 60.3C291.9 72.9 301.5 75.5 305.4 81.1C309.3 86.8 314.6 92.9 305.4 94.2C296.3 95.5 266.7 92.4 250.7 88.9C234.6 85.5 218.5 87.2 208.9 73.3C199.4 59.4 187.2 16.8 193.3 5.5Z" fill="#b4b4b4"/>
</g>
<g filter="url(#db1)">
<ellipse cx="129.4" cy="18.5" rx="71.9" ry="49.7" fill="#a4a4a4"/><ellipse cx="129.4" cy="18.5" rx="71.1" ry="48.9" fill="#c6c6c6"/><ellipse cx="129.4" cy="18.5" rx="67.2" ry="45" fill="#f6f6f6"/><ellipse cx="129.4" cy="18.5" rx="66.1" ry="43.9" fill="#e9e9e9"/>
<ellipse cx="17.2" cy="102" rx="58.9" ry="75.8" fill="#a4a4a4"/><ellipse cx="17.2" cy="102" rx="58.1" ry="75" fill="#c6c6c6"/><ellipse cx="17.2" cy="102" rx="54.2" ry="71.1" fill="#f6f6f6"/><ellipse cx="17.2" cy="102" rx="53.1" ry="70" fill="#e6e6e6"/>
<ellipse cx="305.4" cy="2.9" rx="62.8" ry="55" fill="#a4a4a4"/><ellipse cx="305.4" cy="2.9" rx="62" ry="54.2" fill="#c6c6c6"/><ellipse cx="305.4" cy="2.9" rx="58.1" ry="50.3" fill="#f6f6f6"/><ellipse cx="305.4" cy="2.9" rx="57" ry="49.2" fill="#ebebeb"/>
<ellipse cx="284.6" cy="133.3" rx="44.5" ry="47.7" fill="#a4a4a4"/><ellipse cx="284.6" cy="133.3" rx="43.7" ry="46.9" fill="#c6c6c6"/><ellipse cx="284.6" cy="133.3" rx="39.8" ry="43" fill="#f6f6f6"/><ellipse cx="284.6" cy="133.3" rx="38.7" ry="41.9" fill="#e6e6e6"/>
<ellipse cx="271.5" cy="274.1" rx="82.3" ry="75.8" fill="#a4a4a4"/><ellipse cx="271.5" cy="274.1" rx="81.5" ry="75" fill="#c6c6c6"/><ellipse cx="271.5" cy="274.1" rx="77.6" ry="71.1" fill="#f6f6f6"/><ellipse cx="271.5" cy="274.1" rx="76.5" ry="70" fill="#ececec"/>
<ellipse cx="-2.3" cy="276.7" rx="51" ry="70.6" fill="#a4a4a4"/><ellipse cx="-2.3" cy="276.7" rx="50.2" ry="69.8" fill="#c6c6c6"/><ellipse cx="-2.3" cy="276.7" rx="46.3" ry="65.9" fill="#f6f6f6"/><ellipse cx="-2.3" cy="276.7" rx="45.2" ry="64.8" fill="#ebebeb"/>
</g>
<g filter="url(#db3)" opacity=".8">
<path d="M10.7 81.1C15.9 71.6 38.5 69.4 47.2 73.3C55.9 77.2 62.9 93.3 62.9 104.6C62.9 115.9 55 136.8 47.2 141.1C39.4 145.5 22 140.7 15.9 130.7C9.8 120.7 5.5 90.7 10.7 81.1Z" fill="#cfcfcf"/>
<path d="M94.2 10.7C102.9 3.3 144.6 3.7 156.8 10.7C168.9 17.6 175.9 45 167.2 52.4C158.5 59.8 116.8 62 104.6 55C92.4 48.1 85.5 18.1 94.2 10.7Z" fill="#dcdcdc"/>
<path d="M255.9 99.4C261.5 91.5 288 95 295 104.6C301.9 114.2 303.3 148.9 297.6 156.8C291.9 164.6 268 161.1 261.1 151.5C254.1 142 250.2 107.2 255.9 99.4Z" fill="#d8d8d8"/>
</g>
<g filter="url(#db1)" fill="none" stroke-linecap="round">
<path d="M141.1 258.5C144.6 257.6 155 255.4 162 253.3C168.9 251.1 175.9 247.6 182.8 245.4C189.8 243.3 200.2 241.1 203.7 240.2" stroke="#606060" stroke-width="2.2" opacity=".8"/>
<path d="M135.9 263.7C142 262.4 162.8 257.2 172.4 255.9C182 254.6 189.8 255.9 193.3 255.9" stroke="#808080" stroke-width="1.5" opacity=".7"/>
<path d="M237.6 227.2C240.2 226.3 248.9 222.2 253.3 222C257.6 221.7 262 225.2 263.7 225.9" stroke="#505050" stroke-width="1.2"/>
<path d="M55 211.5C56.8 214.6 61.1 225.4 65.5 229.8C69.8 234.1 78.5 236.3 81.1 237.6" stroke="#d8d8d8" stroke-width="3" opacity=".7"/>
</g>
<circle cx="72.1" cy="163.8" r="0.6" fill="#6a6a6a" opacity="0.8"/><circle cx="143.6" cy="174.8" r="0.7" fill="#6a6a6a" opacity="0.6"/><circle cx="78.6" cy="70.5" r="0.9" fill="#6a6a6a" opacity="0.6"/><circle cx="163.9" cy="165.4" r="0.6" fill="#6a6a6a" opacity="0.4"/><circle cx="70.3" cy="45.6" r="0.9" fill="#6a6a6a" opacity="0.6"/><circle cx="224.6" cy="202.1" r="0.4" fill="#6a6a6a" opacity="0.8"/><circle cx="13" cy="234.8" r="0.8" fill="#6a6a6a" opacity="0.6"/><circle cx="143.2" cy="216.4" r="0.8" fill="#6a6a6a" opacity="0.8"/><circle cx="238.8" cy="128.5" r="0.8" fill="#6a6a6a" opacity="0.8"/><circle cx="134.7" cy="281.6" r="0.8" fill="#6a6a6a" opacity="0.4"/><circle cx="10.9" cy="149" r="0.5" fill="#6a6a6a" opacity="0.8"/><circle cx="132.2" cy="188.6" r="0.6" fill="#6a6a6a" opacity="0.8"/><circle cx="252.5" cy="172.8" r="0.7" fill="#6a6a6a" opacity="0.6"/><circle cx="177" cy="272.2" r="0.7" fill="#6a6a6a" opacity="0.4"/><circle cx="259.5" cy="298.3" r="0.7" fill="#6a6a6a" opacity="0.4"/><circle cx="211.7" cy="98.2" r="0.7" fill="#6a6a6a" opacity="0.8"/><circle cx="172.4" cy="214.9" r="0.5" fill="#6a6a6a" opacity="0.8"/><circle cx="80.9" cy="37.5" r="0.6" fill="#6a6a6a" opacity="0.8"/><circle cx="299.9" cy="26.6" r="0.8" fill="#6a6a6a" opacity="0.6"/><circle cx="271.8" cy="6.1" r="0.6" fill="#6a6a6a" opacity="0.6"/><circle cx="264.4" cy="13.3" r="0.7" fill="#6a6a6a" opacity="0.4"/><circle cx="114.5" cy="176.5" r="0.7" fill="#6a6a6a" opacity="0.6"/><circle cx="153.1" cy="300.6" r="0.6" fill="#6a6a6a" opacity="0.4"/><circle cx="32.8" cy="161.2" r="0.9" fill="#6a6a6a" opacity="0.6"/><circle cx="88.4" cy="79.3" r="0.7" fill="#6a6a6a" opacity="0.6"/><circle cx="95.1" cy="288.6" r="0.8" fill="#6a6a6a" opacity="0.6"/><circle cx="114.2" cy="261.8" r="0.6" fill="#6a6a6a" opacity="0.8"/><circle cx="206.3" cy="30.9" r="0.9" fill="#6a6a6a" opacity="0.8"/><circle cx="82.2" cy="190.9" r="0.8" fill="#6a6a6a" opacity="0.6"/><circle cx="132.5" cy="77.7" r="0.6" fill="#6a6a6a" opacity="0.6"/><circle cx="3.5" cy="125" r="0.7" fill="#6a6a6a" opacity="0.4"/><circle cx="114.1" cy="177.4" r="0.5" fill="#6a6a6a" opacity="0.8"/><circle cx="190.1" cy="140.3" r="0.7" fill="#6a6a6a" opacity="0.6"/><circle cx="184.5" cy="84" r="0.6" fill="#6a6a6a" opacity="0.8"/><circle cx="18.4" cy="203.5" r="0.9" fill="#6a6a6a" opacity="0.6"/><circle cx="190.3" cy="89.9" r="0.7" fill="#6a6a6a" opacity="0.4"/><circle cx="110.3" cy="94.1" r="0.6" fill="#6a6a6a" opacity="0.8"/><circle cx="80" cy="237" r="0.5" fill="#6a6a6a" opacity="0.4"/><circle cx="294.3" cy="205.8" r="0.5" fill="#6a6a6a" opacity="0.8"/><circle cx="67.4" cy="241.9" r="0.5" fill="#6a6a6a" opacity="0.4"/><circle cx="205.5" cy="195.5" r="0.4" fill="#6a6a6a" opacity="0.8"/><circle cx="97.6" cy="100.5" r="0.8" fill="#6a6a6a" opacity="0.6"/><circle cx="245.4" cy="289.2" r="0.4" fill="#6a6a6a" opacity="0.8"/><circle cx="197" cy="266.4" r="0.6" fill="#6a6a6a" opacity="0.4"/><circle cx="238.5" cy="10.2" r="0.9" fill="#6a6a6a" opacity="0.6"/><circle cx="244.5" cy="252.4" r="0.5" fill="#6a6a6a" opacity="0.6"/><circle cx="103.1" cy="249.2" r="0.4" fill="#6a6a6a" opacity="0.8"/><circle cx="104.6" cy="39" r="0.5" fill="#6a6a6a" opacity="0.6"/><circle cx="140.8" cy="190.9" r="0.5" fill="#6a6a6a" opacity="0.8"/><circle cx="124.1" cy="277.1" r="0.5" fill="#6a6a6a" opacity="0.4"/><circle cx="144.6" cy="250.6" r="0.7" fill="#6a6a6a" opacity="0.8"/><circle cx="131.6" cy="286" r="0.9" fill="#6a6a6a" opacity="0.4"/><circle cx="9.8" cy="137.5" r="0.8" fill="#6a6a6a" opacity="0.8"/><circle cx="157.3" cy="87" r="0.6" fill="#6a6a6a" opacity="0.4"/><circle cx="261" cy="258.3" r="0.9" fill="#6a6a6a" opacity="0.4"/><circle cx="245.5" cy="13.6" r="0.9" fill="#6a6a6a" opacity="0.8"/><circle cx="155.2" cy="59.7" r="0.8" fill="#6a6a6a" opacity="0.6"/><circle cx="174.8" cy="4" r="0.8" fill="#6a6a6a" opacity="0.4"/><circle cx="152.5" cy="72" r="0.4" fill="#6a6a6a" opacity="0.8"/><circle cx="125.4" cy="282.7" r="0.7" fill="#6a6a6a" opacity="0.6"/>
<path d="M96.8 72C104.4 67.3 111.1 66.8 120.2 66C129.4 65.2 142 66.2 151.5 67C161.1 67.8 169.4 68.8 177.6 70.7C185.9 72.6 193.7 75.5 201.1 78.5C208.5 81.6 214.6 84.2 222 88.9C229.4 93.7 239.6 99.8 245.4 107.2C251.3 114.6 254.1 124.2 257.2 133.3C260.2 142.4 263 151.5 263.7 162C264.3 172.4 263.3 186.8 261.1 195.9C258.9 205 255.9 210.4 250.7 216.7C245.4 223 237.6 230.4 229.8 233.7C222 237 211.5 235 203.7 236.3C195.9 237.6 189.8 240 182.8 241.5C175.9 243 168.9 244.4 162 245.4C155 246.4 150.2 248.8 141.1 247.5C132 246.2 117.2 242.3 107.2 237.6C97.2 232.9 87.9 227.2 81.1 219.4C74.4 211.5 70.6 201.5 66.8 190.7C63 179.8 59.2 165.9 58.4 154.1C57.7 142.4 59.6 130.2 62.3 120.2C65 110.2 68.9 102.2 74.6 94.2C80.3 86.1 89.2 76.7 96.8 72Z" fill="#040404" filter="url(#db1)"/>
<circle cx="132" cy="38.1" r="2" fill="#555"/>
<circle cx="127.5" cy="42.5" r="1" fill="#555"/>
<rect width="303" height="301" filter="url(#dgrain)" style="mix-blend-mode:overlay"/>
<rect x="216.7" y="283.3" width="67.8" height="3.4" fill="#000"/>
<text x="249" y="274" font-family="'Liberation Sans', Arial, sans-serif" font-size="21" font-weight="normal" fill="#000" text-anchor="middle" >1 µm</text>
</svg>
<svg x="959" y="349" width="302" height="302" viewBox="0 0 302 302">
<rect width="302" height="302" fill="#b2b2b2"/>
<g filter="url(#db1)">
<path d="M282 0.3C285.4 -11.9 301.5 -28.4 305.4 0.3C309.3 29 308 147.2 305.4 172.4C302.8 197.6 295.4 158.5 289.8 151.5C284.1 144.6 272.4 143.7 271.5 130.7C270.6 117.6 282.8 95 284.6 73.3C286.3 51.6 278.5 12.4 282 0.3Z" fill="#cbcbcb"/>
<ellipse cx="-7.6" cy="203.7" rx="75.8" ry="120.2" fill="#a4a4a4"/><ellipse cx="-7.6" cy="203.7" rx="75" ry="119.4" fill="#c6c6c6"/><ellipse cx="-7.6" cy="203.7" rx="71.1" ry="115.5" fill="#f6f6f6"/><ellipse cx="-7.6" cy="203.7" rx="70" ry="114.4" fill="#dedede"/>
<ellipse cx="-2.3" cy="0.3" rx="44.5" ry="36.7" fill="#a4a4a4"/><ellipse cx="-2.3" cy="0.3" rx="43.7" ry="35.9" fill="#c6c6c6"/><ellipse cx="-2.3" cy="0.3" rx="39.8" ry="32" fill="#f6f6f6"/><ellipse cx="-2.3" cy="0.3" rx="38.7" ry="30.9" fill="#e4e4e4"/>
<ellipse cx="162" cy="26.9" rx="124.7" ry="121.5" fill="#c0c0c0"/>
<ellipse cx="162" cy="26.9" rx="118.9" ry="115.8" fill="#f0f0f0"/>
<ellipse cx="162" cy="26.9" rx="117.4" ry="114.2" fill="#e6e6e6"/>
</g>
<g filter="url(#db3)">
<path d="M73.3 81.1C77.2 71.6 91.5 58.5 104.6 55C117.6 51.6 135 58.9 151.5 60.3C168.1 61.6 192.8 56.3 203.7 62.9C214.6 69.4 214.1 88.9 216.7 99.4C219.4 109.8 225.9 118.5 219.4 125.5C212.8 132.4 195.4 139.4 177.6 141.1C159.8 142.8 128.5 140.7 112.4 135.9C96.3 131.1 87.6 121.5 81.1 112.4C74.6 103.3 69.4 90.7 73.3 81.1Z" fill="#d2d2d2"/>
<path d="M10.7 141.1C18.5 128.1 39.8 141.1 47.2 151.5C54.6 162 55.9 186.3 55 203.7C54.2 221.1 49.4 242.8 42 255.9C34.6 268.9 17.6 286.3 10.7 282C3.7 277.6 0.3 253.3 0.3 229.8C0.3 206.3 2.9 154.1 10.7 141.1Z" fill="#cecece"/>
</g>
<path d="M34.2 334.1C10.6 318.9 35.5 307.2 36.3 295C37 282.8 36.4 272.8 38.9 261.1C41.3 249.3 45.4 236.7 51.1 224.6C56.9 212.4 66.1 198.1 73.3 188.1C80.5 178.1 88.1 170.8 94.2 164.6C100.2 158.4 103.7 154.4 109.8 151C115.9 147.6 123.7 145.7 130.7 144.2C137.6 142.8 141.1 142.4 151.5 142.4C162 142.4 178.1 143.1 193.3 144.2C208.5 145.3 229.8 146.6 242.8 148.9C255.9 151.2 263.3 154.8 271.5 158.1C279.8 161.3 285 165 292.4 168.5C299.8 172 304.6 174.8 315.9 178.9C327.2 183.1 352.8 163.1 360.2 193.3C367.6 223.5 390.6 328 360.2 360.2C329.8 392.4 232 390.6 177.6 386.3C123.3 381.9 57.7 349.3 34.2 334.1Z" fill="#050505" filter="url(#db1)"/>
<circle cx="165.9" cy="94.2" r="4.2" fill="#5a5a5a" opacity=".9"/>
<circle cx="156.8" cy="100.7" r="2.2" fill="#5a5a5a" opacity=".9"/>
<circle cx="167.2" cy="104.6" r="2" fill="#5a5a5a" opacity=".9"/>
<circle cx="91.5" cy="107.2" r="1.6" fill="#5a5a5a" opacity=".9"/>
<circle cx="143.7" cy="83.7" r="1.3" fill="#5a5a5a" opacity=".9"/>
<circle cx="124.2" cy="79.8" r="1.2" fill="#5a5a5a" opacity=".9"/>
<circle cx="159.4" cy="117.6" r="1.2" fill="#5a5a5a" opacity=".9"/>
<circle cx="145" cy="137.2" r="1.3" fill="#5a5a5a" opacity=".9"/>
<circle cx="57.6" cy="143.7" r="2" fill="#5a5a5a" opacity=".9"/>
<circle cx="82.4" cy="145.5" r="1.5" fill="#5a5a5a" opacity=".9"/>
<circle cx="51.1" cy="175" r="1.3" fill="#5a5a5a" opacity=".9"/>
<circle cx="42" cy="220.7" r="2" fill="#5a5a5a" opacity=".9"/>
<circle cx="14.6" cy="207.6" r="1.5" fill="#5a5a5a" opacity=".9"/>
<circle cx="227.2" cy="142.4" r="1.4" fill="#5a5a5a" opacity=".9"/>
<circle cx="258.5" cy="135.9" r="1.3" fill="#5a5a5a" opacity=".9"/>
<circle cx="297.6" cy="35.5" r="1.8" fill="#5a5a5a" opacity=".9"/>
<circle cx="219.4" cy="124.2" r="1.3" fill="#5a5a5a" opacity=".9"/>
<circle cx="185.4" cy="117.6" r="1.2" fill="#5a5a5a" opacity=".9"/>
<circle cx="116.3" cy="128.1" r="1.1" fill="#5a5a5a" opacity=".9"/>
<circle cx="124.2" cy="116.3" r="1" fill="#5a5a5a" opacity=".9"/>
<rect width="302" height="302" filter="url(#dgrain)" style="mix-blend-mode:overlay"/>
<rect x="217.5" y="284" width="73.5" height="3.4" fill="#fff"/>
<text x="253.5" y="273.6" font-family="'Liberation Sans', Arial, sans-serif" font-size="21" font-weight="normal" fill="#fff" text-anchor="middle" >500 nm</text>
</svg>
</g>
<g id="panel_fg">
<svg x="30" y="657" width="304" height="305" viewBox="0 0 304 305">
<defs>
<filter id="fnoise" x="0" y="0" width="100%" height="100%" color-interpolation-filters="sRGB">
<feTurbulence type="fractalNoise" baseFrequency="0.4" numOctaves="2" seed="12"/>
<feColorMatrix values="1.5 0 0 0 -0.31  1.5 0 0 0 -0.31  1.5 0 0 0 -0.31  0 0 0 0 1"/>
</filter>
<filter id="fb" x="-50%" y="-50%" width="200%" height="200%"><feGaussianBlur stdDeviation="11"/></filter>
<radialGradient id="fdark" cx=".5" cy=".5" r=".5"><stop offset="0" stop-color="#000" stop-opacity=".62"/><stop offset=".7" stop-color="#000" stop-opacity=".55"/><stop offset="1" stop-color="#000" stop-opacity="0"/></radialGradient>
<linearGradient id="fstripe" x1="0" y1="0" x2="1" y2="0"><stop offset="0" stop-color="#101010"/><stop offset=".5" stop-color="#f4f4f4"/><stop offset="1" stop-color="#101010"/></linearGradient>
<pattern id="ffr" width="6.6" height="10" patternUnits="userSpaceOnUse" patternTransform="rotate(-23)"><rect width="6.6" height="10" fill="url(#fstripe)"/></pattern>
<radialGradient id="ffade" cx=".35" cy=".55" r=".75"><stop offset="0" stop-color="#808080" stop-opacity="0"/><stop offset=".55" stop-color="#808080" stop-opacity=".1"/><stop offset="1" stop-color="#808080" stop-opacity=".85"/></radialGradient>
</defs>
<rect width="304" height="305" fill="#777" filter="url(#fnoise)"/>
<g filter="url(#fb)"><path d="M38.88978063135366 169.21455323702514C33.88978063135366 114.21455323702514 83.88978063135366 82.21455323702514 143.88978063135366 79.21455323702514C213.88978063135366 82.21455323702514 268.8897806313537 119.21455323702514 271.8897806313537 159.21455323702514C268.8897806313537 214.21455323702514 203.88978063135366 259.21455323702514 138.88978063135366 262.21455323702514C83.88978063135366 259.21455323702514 43.88978063135366 224.21455323702514 38.88978063135366 169.21455323702514Z" fill="#000" opacity=".55"/></g>
<rect x="185.3" y="187.8" width="118.69999999999999" height="117.19999999999999" fill="url(#ffr)"/>
<rect x="185.3" y="187.8" width="118.69999999999999" height="117.19999999999999" fill="url(#ffade)"/>
<path d="M200.6 222.5L222.8 277.1M207.6 222.5L230 277.1" stroke="#f08a24" stroke-width="1.1" fill="none"/>
<path d="M186.7 263.2L209.4 255.7M244.2 239.7L224.1 248.5" stroke="#f08a24" stroke-width="1.1" stroke-dasharray="3 1.5" fill="none"/>
<path d="M212.1 255.2L205.4 253L207 259.2Z M221.5 249.3L228.4 245L229 251.4Z" fill="#f08a24"/>
<rect x="138" y="150.3" width="38.5" height="36.7" fill="none" stroke="#fff" stroke-width="1" stroke-dasharray="3.2 2"/>
<path d="M177.1 164.2L184 181.6" stroke="#ddd" stroke-width=".7" stroke-dasharray="2 1.5"/>
<text x="204" y="153.5" font-family="'Liberation Sans', Arial, sans-serif" font-size="20" font-weight="normal" fill="#fff" text-anchor="start" >Bi (012)</text>
<text x="204" y="178" font-family="'Liberation Sans', Arial, sans-serif" font-size="20" font-weight="normal" fill="#fff" text-anchor="start" >3.2 Å</text>
<text x="29" y="275.2" font-family="'Liberation Sans', Arial, sans-serif" font-size="20" font-weight="normal" fill="#fff" text-anchor="start" >5 nm</text>
<rect x="22.7" y="294" width="65.8" height="3.3" fill="#fff"/>
</svg>
<svg x="341" y="657" width="302" height="304" viewBox="0 0 302 304">
<defs>
<radialGradient id="gbg" gradientUnits="userSpaceOnUse" cx="150.6" cy="148.2" r="200">
<stop offset="0" stop-color="#c0c0c0"/><stop offset=".07" stop-color="#aaaaac"/><stop offset=".12" stop-color="#88888c"/><stop offset=".2" stop-color="#66666a"/><stop offset=".27" stop-color="#505054"/>
<stop offset=".38" stop-color="#3a3a3e"/><stop offset=".5" stop-color="#2a2a2c"/><stop offset=".65" stop-color="#202022"/><stop offset="1" stop-color="#161616"/></radialGradient>
<radialGradient id="gcore" gradientUnits="userSpaceOnUse" cx="150.6" cy="148.2" r="26">
<stop offset="0" stop-color="#fff"/><stop offset=".45" stop-color="#fff"/><stop offset=".62" stop-color="#d8d8d8" stop-opacity=".8"/><stop offset="1" stop-color="#888" stop-opacity="0"/></radialGradient>
<filter id="gb1" x="-50%" y="-50%" width="200%" height="200%"><feGaussianBlur stdDeviation="0.8"/></filter>
<filter id="gb2" x="-50%" y="-50%" width="200%" height="200%"><feGaussianBlur stdDeviation="2.2"/></filter>
</defs>
<rect width="302" height="304" fill="url(#gbg)"/>
<g fill="none" filter="url(#gb2)">
<circle cx="150.6" cy="148.2" r="37" stroke="#fff" stroke-width="5" opacity="0.35"/>
<circle cx="150.6" cy="148.2" r="52" stroke="#fff" stroke-width="7" opacity="0.5"/>
<circle cx="150.6" cy="148.2" r="76" stroke="#fff" stroke-width="5" opacity="0.22"/>
<circle cx="150.6" cy="148.2" r="94" stroke="#fff" stroke-width="4" opacity="0.14"/>
<circle cx="150.6" cy="148.2" r="107" stroke="#fff" stroke-width="4" opacity="0.12"/>
<circle cx="150.6" cy="148.2" r="130" stroke="#fff" stroke-width="4" opacity="0.06"/>
</g>
<g fill="none" filter="url(#gb1)" stroke-linecap="round">
<circle cx="150.6" cy="148.2" r="37" stroke="#fff" stroke-width="1.6" stroke-dasharray="0.1 5.1 1.5 3.3 0.1 3 0.1 8.2 2.5 3.9 0.1 5.7 1.5 5.2 2.5 3.8 1.5 3" opacity="0.8" transform="rotate(119 150.6 148.2)"/>
<circle cx="150.6" cy="148.2" r="43.5" stroke="#fff" stroke-width="1.2" stroke-dasharray="0.1 11.2 2.5 8 1.5 11.4 1 4.6 0.1 7.8 1.5 4.8 0.1 7.3 0.1 9 2.5 13.3" opacity="0.5" transform="rotate(297 150.6 148.2)"/>
<circle cx="150.6" cy="148.2" r="52" stroke="#fff" stroke-width="2.4" stroke-dasharray="0.1 5.1 2.5 6.9 1.5 5.6 0.1 6.9 2.5 4.3 2.5 6.6 1 4.8 1.5 2.5 2.5 2.3" opacity="1" transform="rotate(353 150.6 148.2)"/>
<circle cx="150.6" cy="148.2" r="56" stroke="#fff" stroke-width="1.3" stroke-dasharray="1 11.2 1.5 9 0.1 6.9 1 9.3 2.5 10.7 2.5 13.5 2.5 6 0.1 13.4 1 7.3" opacity="0.6" transform="rotate(136 150.6 148.2)"/>
<circle cx="150.6" cy="148.2" r="76" stroke="#fff" stroke-width="1.5" stroke-dasharray="0.1 8.2 1.5 6.8 1.5 5.5 1.5 4.9 0.1 5.8 0.1 6.8 0.1 12.2 1.5 7.3 0.1 9.7" opacity="0.55" transform="rotate(118 150.6 148.2)"/>
<circle cx="150.6" cy="148.2" r="94" stroke="#fff" stroke-width="1.3" stroke-dasharray="0.1 10.7 1.5 10.7 0.1 13.3 1 15.1 0.1 6 0.1 15.8 2.5 10 2.5 11.8 0.1 18.9" opacity="0.4" transform="rotate(32 150.6 148.2)"/>
<circle cx="150.6" cy="148.2" r="107" stroke="#fff" stroke-width="1.3" stroke-dasharray="0.1 5.5 0.1 10.5 2.5 7.1 1 10.7 1 5.2 1.5 8.5 2.5 5.7 2.5 7.9 1 20.3" opacity="0.4" transform="rotate(226 150.6 148.2)"/>
<circle cx="150.6" cy="148.2" r="122" stroke="#fff" stroke-width="1.2" stroke-dasharray="0.1 8 2.5 10.7 1.5 21.6 1.5 8.7 2.5 20.2 0.1 20.2 2.5 20.3 1.5 17.2 1 15.1" opacity="0.25" transform="rotate(26 150.6 148.2)"/>
<circle cx="150.6" cy="148.2" r="140" stroke="#fff" stroke-width="1.2" stroke-dasharray="0.1 9.2 0.1 10.6 0.1 25 2.5 29.8 1 27.9 2.5 10.2 2.5 20.1 2.5 12.8 0.1 15.8" opacity="0.2" transform="rotate(196 150.6 148.2)"/>
</g>
<path d="M150 134.2L149.3 115.8M164.6 148.8L182.7 149.6M162.3 140.6L178.7 130.1M163.1 142.1L182.7 132.5M152.9 162L155.3 176.8M137.2 144.1L116.4 137.7M141 158.5L126.4 174.2M158.8 136.9L169 123.1M140.7 138.3L125.4 123.1M153.5 134.5L156.6 119.9M158.5 136.7L166.4 125.2M141 158.4L126.2 174.2M158.6 136.7L167.2 124.4M147 161.8L142.5 179.3M158.3 136.5L168.6 120.8M163.4 142.7L181.2 135.2M156.6 135.6L164.4 119.3M141.5 158.9L130.9 171.3M136.6 149.1L119.3 150.2M157.9 136.3L165.7 123.8M163.3 154.1L180.8 162.2M148.7 162.1L146.6 178.2M160.9 157.6L176 171.2M148.5 162.1L146.2 176.8M155.2 135L160.9 119M148.2 162L144.6 182.6M138.7 155.6L125.4 163.8M164.2 145.2L183.7 140.9" stroke="#fff" stroke-width=".7" opacity=".45" filter="url(#gb1)"/>
<circle cx="150.6" cy="148.2" r="26" fill="url(#gcore)"/>
<circle cx="150.6" cy="148.2" r="22.5" fill="none" stroke="#e8e8e8" stroke-width="1" opacity=".75" filter="url(#gb1)"/>
<path d="M150.6 148.2C165.3 138.9 181.3 134.8 197.4 130.8C221.5 124.1 242.9 117.4 257.6 105.4C272.3 100.6 285.7 100.1 299.1 100.1L299.1 194.3C283 193.2 269.7 192.4 259 188.4C242.9 180.3 218.8 171 197.4 164.3C181.3 160.3 165.3 156.3 150.6 148.2Z" fill="#060606" filter="url(#gb1)"/>
<g fill="none" stroke="#f0e048" stroke-width="1.4" stroke-dasharray="5.2 2.6">
<path d="M114.9 124.2A43 43 0 1 1 125.3 183"/>
<path d="M109 115.7A52.8 52.8 0 1 1 121.8 192.5"/>
<path d="M93.2 98.4A76 76 0 1 1 114.9 215.3"/>
<path d="M73.6 94.3A94 94 0 1 1 112.3 234.1"/>
<path d="M53.6 103A107 107 0 1 1 122.9 251.6"/>
</g>
<text x="59" y="182.5" font-family="'Liberation Sans', Arial, sans-serif" font-size="15.5" fill="#f2b430" letter-spacing="1.6"><tspan fill-opacity=".8">(</tspan><tspan stroke="#f2b430" stroke-width=".45">012</tspan><tspan fill-opacity=".8">)</tspan></text>
<text x="55.6" y="207.9" font-family="'Liberation Sans', Arial, sans-serif" font-size="17" fill="#f2b430" letter-spacing="0.8"><tspan fill-opacity=".8">(</tspan><tspan stroke="#f2b430" stroke-width=".45">110</tspan><tspan fill-opacity=".8">)</tspan></text>
<text x="43" y="231.2" font-family="'Liberation Sans', Arial, sans-serif" font-size="18.5" fill="#f2b430" letter-spacing="0.2"><tspan fill-opacity=".8">(</tspan><tspan stroke="#f2b430" stroke-width=".45">202</tspan><tspan fill-opacity=".8">)</tspan></text>
<text x="42.7" y="255.3" font-family="'Liberation Sans', Arial, sans-serif" font-size="18" fill="#f2b430" letter-spacing="0.2"><tspan fill-opacity=".8">(</tspan><tspan stroke="#f2b430" stroke-width=".45">024</tspan><tspan fill-opacity=".8">)</tspan></text>
<text x="41.4" y="279.4" font-family="'Liberation Sans', Arial, sans-serif" font-size="18" fill="#f2b430" letter-spacing="0.5"><tspan fill-opacity=".8">(</tspan><tspan stroke="#f2b430" stroke-width=".45">214</tspan><tspan fill-opacity=".8">)</tspan></text>
<path d="M102.4 177.7L125.1 177.7 M99.7 202.3L121.9 202.3L121.9 191 M89 225.3L113.6 225.3L113.6 212.5 M87.7 250.5L109.6 250.5L109.6 233.9 M95.7 272.7L119.8 272.7L119.8 251.3" stroke="#f2b430" stroke-width="1" fill="none"/>
</svg>
</g>
<g id="panel_i">
<rect x="706.8" y="663.2" width="551.6" height="247" fill="#fff" stroke="#000" stroke-width="1.3"/>
<path d="M706.8 858.1H1258.4" stroke="#000" stroke-width="1.3"/>
<path d="M706.8 910.2v4M785.6 910.2v4M864.4 910.2v4M943.2 910.2v4M1022 910.2v4M1100.8 910.2v4M1179.6 910.2v4M1258.4 910.2v4M746.2 910.2v-1.5M825 910.2v-1.5M903.8 910.2v-1.5M982.6 910.2v-1.5M1061.4 910.2v-1.5M1140.2 910.2v-1.5M1219 910.2v-1.5" stroke="#000" stroke-width="1.3"/>
<text x="706.8" y="932.7" font-family="'Liberation Sans', Arial, sans-serif" font-size="20" font-weight="normal" fill="#000" text-anchor="middle" >10</text>
<text x="785.6" y="932.7" font-family="'Liberation Sans', Arial, sans-serif" font-size="20" font-weight="normal" fill="#000" text-anchor="middle" >20</text>
<text x="864.4" y="932.7" font-family="'Liberation Sans', Arial, sans-serif" font-size="20" font-weight="normal" fill="#000" text-anchor="middle" >30</text>
<text x="943.2" y="932.7" font-family="'Liberation Sans', Arial, sans-serif" font-size="20" font-weight="normal" fill="#000" text-anchor="middle" >40</text>
<text x="1022" y="932.7" font-family="'Liberation Sans', Arial, sans-serif" font-size="20" font-weight="normal" fill="#000" text-anchor="middle" >50</text>
<text x="1100.8" y="932.7" font-family="'Liberation Sans', Arial, sans-serif" font-size="20" font-weight="normal" fill="#000" text-anchor="middle" >60</text>
<text x="1179.6" y="932.7" font-family="'Liberation Sans', Arial, sans-serif" font-size="20" font-weight="normal" fill="#000" text-anchor="middle" >70</text>
<text x="1258.4" y="932.7" font-family="'Liberation Sans', Arial, sans-serif" font-size="20" font-weight="normal" fill="#000" text-anchor="middle" >80</text>
<text x="990.5" y="961" font-family="'Liberation Sans', Arial, sans-serif" font-size="21" font-weight="normal" fill="#000" text-anchor="middle" word-spacing="2">2 Theta (degree)</text>
<text transform="translate(685.3 801) rotate(-90)" font-family="'Liberation Sans', Arial, sans-serif" font-size="24" text-anchor="middle" fill="#000">Intensity (a.u.)</text>
<polyline points="706.8,728.8 707.7,728.6 708.6,728.7 709.5,728.5 710.4,728.5 711.3,728.9 712.2,728.9 713.1,728.4 714.0,728.7 714.9,728.8 715.8,728.3 716.7,728.6 717.6,728.4 718.5,728.6 719.4,728.5 720.3,728.8 721.2,728.5 722.1,728.4 723.0,728.6 723.9,728.5 724.8,728.5 725.7,728.9 726.6,728.4 727.5,728.5 728.4,728.7 729.3,728.9 730.2,728.4 731.1,728.6 732.0,728.5 732.9,728.4 733.8,728.5 734.7,728.3 735.6,728.7 736.5,728.4 737.4,728.6 738.3,728.3 739.2,728.4 740.1,728.8 741.0,728.8 741.9,728.8 742.8,728.3 743.7,728.6 744.6,728.5 745.5,728.7 746.4,728.6 747.3,728.7 748.2,728.7 749.1,728.5 750.0,728.5 750.9,728.4 751.8,728.5 752.7,728.3 753.6,728.4 754.5,728.3 755.4,728.5 756.3,728.8 757.2,728.4 758.1,728.3 759.0,728.4 759.9,728.6 760.8,728.5 761.7,728.8 762.6,728.4 763.5,728.6 764.4,728.7 765.3,728.9 766.2,728.4 767.1,728.3 768.0,728.8 768.9,728.4 769.8,728.7 770.7,728.8 771.6,728.7 772.5,728.4 773.4,728.4 774.3,728.9 775.2,728.5 776.1,728.9 777.0,728.5 777.9,728.7 778.8,728.4 779.7,728.3 780.6,728.6 781.5,728.3 782.4,728.7 783.3,728.9 784.2,728.5 785.1,728.9 786.0,728.8 786.9,728.7 787.8,728.5 788.7,728.8 789.6,728.9 790.5,728.4 791.4,728.7 792.3,728.3 793.2,728.4 794.1,728.7 795.0,728.6 795.9,728.6 796.8,728.5 797.7,728.5 798.6,728.6 799.5,728.5 800.4,728.3 801.3,728.6 802.2,728.6 803.1,728.5 804.0,728.8 804.1,728.6 805.0,726.5 805.3,725.6 805.9,727.2 807.2,728.6 807.6,728.6 808.5,728.9 809.4,728.7 810.3,728.6 811.2,728.9 812.1,728.5 813.0,728.5 813.9,728.9 814.3,728.6 815.2,727.9 815.5,727.6 816.1,728.1 817.4,728.6 818.4,728.5 819.3,728.5 820.2,728.9 821.1,728.9 822.0,728.5 822.9,728.3 823.8,728.7 824.7,728.6 825.6,728.5 826.5,728.7 827.4,728.7 828.3,728.7 829.2,728.7 830.1,728.5 831.0,728.7 831.9,728.7 832.8,728.4 833.7,728.9 834.6,728.6 835.5,728.5 836.4,728.7 837.3,728.8 838.2,728.4 839.1,728.8 840.0,728.8 840.9,728.6 841.1,727.7 841.9,717.4 842.3,683.6 842.8,706.1 843.2,705.2 843.7,723.2 844.2,727.7 844.5,728.7 845.4,728.4 846.3,728.6 847.2,728.4 848.1,728.8 849.0,728.7 849.9,728.5 850.8,728.4 851.7,728.6 852.6,728.8 853.5,728.8 854.4,728.6 855.3,728.8 856.2,728.4 857.1,728.4 858.0,728.8 858.9,728.7 859.8,728.4 860.7,728.5 861.6,728.4 862.5,728.7 863.4,728.8 864.3,728.7 865.2,728.3 866.1,728.8 867.0,728.7 867.9,728.7 868.8,728.7 869.7,728.7 870.6,728.2 871.5,728.9 872.4,729.0 873.3,728.2 874.2,728.3 875.1,728.2 876.0,728.7 876.9,728.2 877.8,728.2 878.7,728.9 879.6,728.4 880.5,728.3 881.4,728.5 882.3,728.6 883.2,728.8 884.1,728.7 885.0,728.8 885.9,729.0 886.8,728.5 887.7,728.8 888.6,728.3 889.5,729.0 890.4,728.2 891.3,728.4 892.2,728.2 893.1,728.2 894.0,728.2 894.9,728.5 895.8,729.0 896.7,728.4 897.6,728.9 898.5,728.8 899.4,728.5 900.3,728.6 901.2,728.7 902.1,728.2 903.0,728.5 903.9,728.7 904.8,728.8 905.7,728.3 906.6,728.6 907.5,728.3 908.4,728.7 909.3,728.9 910.2,728.6 911.1,728.3 912.0,728.9 912.9,728.3 913.8,728.2 914.7,728.3 915.6,728.3 916.5,729.0 917.4,728.5 918.3,728.3 919.2,729.0 920.1,728.8 921.0,728.8 921.9,728.6 922.8,728.7 923.7,728.6 924.6,728.4 925.5,729.0 926.2,728.2 927.0,723.9 927.4,709.6 927.9,719.1 928.3,718.7 928.8,726.3 929.3,728.2 930.0,728.2 930.9,728.3 931.8,729.0 932.7,728.6 933.6,728.8 934.5,728.8 935.4,728.7 936.3,728.5 937.2,728.5 938.1,728.7 938.8,728.2 939.6,723.6 940.0,708.6 940.5,718.6 940.9,718.2 941.4,726.2 941.9,728.2 942.6,728.4 943.5,728.7 944.4,729.0 945.3,728.9 946.2,728.7 947.1,728.5 948.0,728.3 948.9,728.7 949.8,728.3 950.7,728.5 951.6,728.7 952.5,728.7 953.4,728.6 954.3,728.4 955.2,728.7 956.1,728.4 957.0,728.6 957.9,728.8 958.8,728.6 959.7,728.4 960.6,729.0 961.5,728.7 962.4,728.7 963.3,728.3 964.2,728.2 965.1,728.7 966.0,728.2 966.9,728.3 967.8,728.8 968.7,728.6 969.6,728.9 970.5,728.3 971.4,728.5 972.3,728.3 973.2,728.3 974.1,728.4 975.0,728.4 975.9,728.5 976.8,729.0 977.7,728.5 978.2,728.6 979.1,725.8 979.4,724.6 980.0,726.8 981.3,728.6 982.2,729.0 983.1,729.0 984.0,728.3 984.9,728.9 985.8,729.0 986.7,728.3 987.6,728.9 988.5,728.3 989.3,728.6 990.2,726.1 990.5,725.1 991.1,727.0 992.4,728.6 993.0,728.3 993.9,729.0 994.8,728.4 995.7,728.6 996.6,728.4 997.5,729.0 998.4,728.4 999.3,728.2 1000.2,729.0 1001.1,728.8 1002.0,728.5 1002.9,728.3 1003.8,728.8 1004.7,728.9 1005.6,728.8 1006.5,728.5 1007.4,728.4 1008.3,728.7 1009.2,728.7 1010.1,728.7 1010.6,728.4 1011.3,726.1 1011.8,718.6 1012.2,723.6 1012.7,723.4 1013.1,727.4 1013.7,728.4 1014.6,728.2 1015.5,728.7 1016.4,728.4 1017.3,728.9 1018.2,728.4 1019.1,728.4 1020.0,728.4 1020.9,728.6 1021.8,728.6 1022.7,728.5 1023.6,728.2 1024.5,728.9 1025.4,729.0 1026.3,728.4 1027.2,728.2 1028.1,728.6 1029.0,728.7 1029.9,728.4 1030.8,728.9 1031.7,728.8 1032.6,728.9 1033.5,728.5 1034.4,728.8 1035.3,728.8 1036.2,728.4 1037.1,728.2 1038.0,728.8 1038.9,728.4 1039.8,728.7 1040.7,728.3 1041.6,728.5 1042.5,728.8 1043.4,728.9 1044.3,729.0 1045.2,728.6 1046.1,728.7 1047.0,728.9 1047.9,728.7 1048.8,728.8 1049.7,728.4 1050.6,728.9 1051.5,728.2 1052.4,728.6 1053.3,728.5 1054.2,728.6 1055.1,728.3 1056.0,728.3 1056.9,728.5 1057.8,728.6 1058.7,728.4 1059.6,728.3 1060.5,728.7 1061.4,728.4 1062.3,728.2 1063.2,728.6 1064.1,728.8 1065.0,728.8 1065.9,728.4 1066.8,728.4 1067.7,728.2 1068.1,728.6 1069.0,724.4 1069.3,722.6 1069.9,725.9 1071.2,728.6 1071.3,728.8 1072.2,728.9 1073.1,728.4 1074.0,728.3 1074.9,728.2 1075.8,728.8 1076.7,728.3 1077.6,728.8 1078.5,728.7 1079.4,728.4 1080.3,729.0 1081.2,729.0 1082.1,728.3 1083.0,728.8 1083.9,728.7 1084.8,728.5 1085.7,728.4 1086.6,729.0 1087.5,728.7 1088.4,728.7 1089.3,728.6 1090.2,728.9 1091.1,728.5 1092.0,728.2 1092.9,728.7 1093.8,728.6 1094.1,728.6 1095.0,727.2 1095.3,726.6 1095.9,727.7 1097.2,728.6 1097.4,728.9 1098.3,728.3 1099.2,728.2 1100.1,729.0 1101.0,728.2 1101.9,728.7 1102.8,728.4 1103.7,728.4 1104.6,728.8 1105.5,728.4 1106.4,728.5 1107.3,728.3 1108.3,728.6 1109.2,727.8 1109.5,727.4 1110.1,728.1 1111.4,728.6 1111.8,728.6 1112.7,728.9 1113.6,728.6 1114.5,728.7 1115.4,728.4 1116.3,728.4 1116.9,728.6 1117.8,724.4 1118.1,722.6 1118.7,725.9 1120.0,728.6 1120.8,728.9 1121.7,728.2 1122.6,728.5 1123.5,728.9 1124.4,728.2 1125.3,728.9 1126.2,728.8 1127.1,728.4 1128.0,728.5 1128.9,728.6 1129.8,728.5 1130.7,728.6 1131.6,728.8 1132.5,728.9 1133.4,729.0 1134.3,728.4 1135.1,728.6 1136.0,723.0 1136.3,720.6 1136.9,725.0 1138.2,728.6 1138.8,728.8 1139.7,728.7 1140.6,728.3 1141.5,729.0 1142.4,728.6 1143.3,728.8 1144.2,728.4 1145.1,728.7 1146.0,728.8 1146.9,728.7 1147.8,728.6 1148.7,728.4 1149.6,728.7 1150.5,728.3 1151.4,728.9 1152.3,728.8 1153.2,729.0 1154.1,728.9 1155.0,728.3 1155.9,728.4 1156.8,728.9 1157.7,728.9 1157.9,728.6 1158.8,727.3 1159.1,726.8 1159.7,727.8 1161.0,728.6 1161.3,728.4 1162.2,728.5 1163.1,728.9 1164.0,728.7 1164.9,728.9 1165.8,728.6 1166.7,728.5 1167.6,728.9 1168.5,728.8 1169.4,728.3 1170.3,729.0 1171.2,728.3 1172.1,728.2 1173.0,728.2 1173.9,728.7 1174.8,728.6 1175.7,728.5 1176.6,728.5 1177.5,728.2 1178.4,728.4 1179.3,728.8 1180.2,728.3 1181.1,728.6 1182.0,728.5 1182.9,728.4 1183.8,729.0 1184.7,728.6 1185.6,725.1 1185.9,723.6 1186.5,726.4 1187.8,728.6 1188.3,728.6 1189.2,728.9 1190.1,728.6 1191.0,729.0 1191.9,728.6 1192.8,728.5 1193.4,728.6 1194.3,726.9 1194.6,726.1 1195.2,727.5 1196.5,728.6 1197.3,728.9 1198.2,728.3 1199.1,728.5 1200.0,729.0 1200.9,728.7 1201.8,728.8 1202.7,729.0 1203.6,728.6 1204.5,728.2 1205.4,728.8 1206.3,728.3 1207.2,728.4 1207.6,728.6 1208.5,727.8 1208.8,727.4 1209.4,728.1 1210.7,728.6 1210.8,728.2 1211.7,728.4 1212.6,728.4 1213.5,728.7 1214.4,728.3 1215.3,728.2 1216.2,728.3 1217.1,728.7 1218.0,728.4 1218.9,728.6 1219.8,729.0 1220.2,728.6 1221.1,727.6 1221.4,727.1 1222.0,727.9 1223.3,728.6 1223.4,728.9 1224.3,728.6 1225.2,728.4 1226.1,728.6 1227.0,728.7 1227.9,728.5 1228.8,728.6 1229.7,727.8 1230.0,727.4 1230.6,728.1 1231.9,728.6 1232.4,728.9 1233.3,728.2 1234.2,728.4 1235.1,728.7 1236.0,728.7 1236.9,728.6 1237.8,728.5 1238.7,728.8 1239.6,729.0 1240.5,728.9 1241.4,728.3 1242.3,728.9 1243.2,728.6 1244.1,728.9 1245.0,728.9 1245.9,728.9 1246.8,728.7 1247.7,728.9 1248.6,729.0 1249.5,729.0 1250.4,728.9 1251.3,728.6 1252.2,729.0 1253.1,729.0 1254.0,728.6 1254.9,728.7 1255.8,728.4 1256.7,729.0 1257.6,728.7" fill="none" stroke="#8390c2" stroke-width="1.05" stroke-linejoin="round"/>
<polyline points="706.8,802.3 707.7,802.4 708.6,802.1 709.5,802.5 710.4,802.2 711.3,802.3 712.2,802.5 713.1,802.2 714.0,802.5 714.9,802.2 715.8,802.5 716.7,802.4 717.6,802.2 718.5,802.0 719.4,802.4 720.3,802.4 720.6,802.2 721.5,801.2 721.8,800.7 722.4,801.5 723.7,802.2 723.9,802.3 724.8,801.9 725.7,802.5 726.6,802.0 727.5,802.3 728.4,802.4 729.3,802.4 730.2,802.3 731.1,802.0 732.0,802.4 732.9,802.2 733.8,802.1 734.7,802.3 735.6,802.2 736.5,802.5 737.4,802.5 738.3,802.4 739.2,802.1 740.1,802.2 741.0,802.3 741.9,802.1 742.8,802.2 743.7,802.3 744.6,802.0 745.5,802.1 746.4,802.3 747.3,802.1 748.2,802.2 749.1,802.0 750.0,802.0 750.9,802.3 751.8,801.9 752.7,802.4 753.6,802.2 754.5,802.0 755.4,802.3 756.3,802.1 757.2,802.4 758.1,802.0 759.0,801.9 759.9,802.0 760.8,801.8 761.7,802.1 762.6,801.8 763.5,801.8 764.4,801.8 765.3,801.8 766.2,801.5 767.1,801.4 768.0,801.6 768.9,801.5 769.8,801.8 770.7,801.3 771.6,801.3 772.5,801.0 773.4,801.1 774.3,801.4 775.2,801.3 776.1,801.0 777.0,801.4 777.9,801.1 778.8,801.2 779.7,801.2 780.6,801.3 781.5,800.8 782.4,801.2 783.3,801.2 784.2,801.1 785.1,800.8 786.0,801.3 786.9,801.2 787.8,801.1 788.7,801.0 789.6,801.1 790.5,801.1 791.4,801.5 792.3,801.5 793.2,801.6 794.1,801.3 795.0,801.3 795.9,801.9 796.8,801.9 797.7,801.9 798.6,802.0 799.5,801.9 800.4,801.9 801.3,802.1 802.2,802.3 803.1,802.1 804.0,802.1 804.1,802.2 805.0,799.4 805.3,798.2 805.9,800.4 807.2,802.2 807.6,802.1 808.5,802.1 809.4,802.0 810.3,802.4 811.2,801.9 812.1,802.0 813.0,802.0 813.9,802.0 814.8,802.3 815.7,802.2 816.6,802.4 816.7,802.2 817.6,801.4 817.9,801.0 818.5,801.7 819.8,802.2 820.2,802.4 821.1,802.4 822.0,802.3 822.9,802.4 823.8,802.4 824.7,802.3 825.6,802.3 826.5,802.1 827.4,802.2 828.3,801.5 829.2,801.5 830.1,801.6 830.9,802.2 831.8,800.7 832.1,800.0 832.7,801.2 834.0,802.2 834.6,800.5 835.5,800.4 836.4,800.8 837.3,800.9 838.2,801.2 839.1,801.4 840.0,801.4 840.9,801.7 841.1,800.9 841.9,786.0 842.3,737.2 842.8,769.7 843.2,768.4 843.7,794.4 844.2,800.9 844.5,801.8 845.4,802.1 846.3,802.3 847.2,802.1 848.1,802.5 849.0,802.2 849.9,801.9 850.8,802.0 851.7,802.1 852.6,802.3 853.5,802.3 854.4,802.4 855.3,802.0 856.2,802.2 857.1,802.0 858.0,802.3 858.9,802.4 859.8,802.0 860.7,801.9 861.6,802.0 862.5,802.0 863.4,802.0 864.3,802.1 865.2,802.4 866.1,802.2 867.0,802.3 867.9,802.6 868.8,802.6 869.7,802.4 870.6,802.4 871.5,802.0 872.4,801.8 873.3,802.2 874.2,801.8 875.1,801.8 876.0,801.8 876.9,802.3 877.8,802.5 878.7,802.4 879.6,802.5 880.5,802.5 881.4,802.1 882.3,801.8 882.9,802.2 883.8,800.9 884.1,800.4 884.7,801.4 886.0,802.2 886.8,802.6 887.7,802.1 888.6,801.8 889.5,801.9 890.4,802.0 890.8,802.2 891.7,800.8 892.0,800.2 892.6,801.3 893.9,802.2 894.0,802.4 894.9,801.9 895.8,801.8 896.7,802.3 897.6,802.3 898.5,801.8 899.4,802.0 900.3,802.5 901.2,802.5 902.1,802.5 903.0,801.8 903.9,801.9 904.8,802.5 905.7,801.9 906.6,801.8 907.5,802.1 908.4,802.3 909.3,802.2 910.2,802.5 911.1,802.6 912.0,801.8 912.9,802.1 913.8,802.2 914.7,801.8 915.6,802.3 916.5,801.9 917.4,801.9 918.3,802.5 919.2,802.4 920.1,802.4 921.0,802.4 921.9,802.1 922.8,802.4 923.7,802.3 924.6,802.5 925.5,801.8 926.2,801.8 927.0,797.0 927.4,781.2 927.9,791.7 928.3,791.3 928.8,799.7 929.3,801.8 930.0,802.3 930.9,801.8 931.8,802.2 932.7,802.2 933.6,802.2 934.5,802.6 935.4,802.3 936.3,802.5 937.2,802.6 938.1,801.9 938.8,801.8 939.6,796.6 940.0,779.7 940.5,791.0 940.9,790.5 941.4,799.5 941.9,801.8 942.6,802.4 943.5,802.2 944.4,802.2 945.3,801.9 946.2,802.6 947.1,802.1 948.0,802.4 948.9,802.4 949.8,802.0 950.7,802.2 951.6,802.1 952.5,802.0 953.4,801.8 954.3,802.3 955.2,802.1 956.1,802.2 957.0,802.2 957.9,802.0 958.8,802.2 959.7,802.2 960.6,802.2 961.5,801.8 962.4,802.0 963.3,801.9 964.2,801.8 965.1,802.4 966.0,802.1 966.9,801.8 967.8,801.9 968.7,802.5 969.6,802.5 970.5,802.3 971.4,802.6 972.3,802.4 973.2,802.6 974.1,802.0 975.0,801.9 975.9,801.8 976.8,802.5 977.7,802.0 978.2,802.2 979.1,799.1 979.4,797.7 980.0,800.2 981.3,802.2 982.2,802.5 983.1,801.8 984.0,802.3 984.9,802.2 985.8,801.8 986.7,801.9 987.6,802.5 988.5,802.3 989.3,802.2 990.2,799.4 990.5,798.2 991.1,800.4 992.4,802.2 993.0,802.0 993.9,802.6 994.8,802.2 995.7,802.3 996.6,802.6 997.5,802.4 998.4,802.1 999.3,802.2 1000.2,802.6 1001.1,801.8 1002.0,801.9 1002.9,801.8 1003.8,802.6 1004.7,802.4 1005.6,802.6 1006.5,801.9 1007.4,802.4 1008.3,802.5 1009.2,802.3 1010.1,801.8 1010.6,802.0 1011.3,800.0 1011.8,793.2 1012.2,797.7 1012.7,797.5 1013.1,801.1 1013.7,802.0 1014.6,802.1 1015.5,802.0 1016.4,802.6 1017.3,802.6 1018.2,802.0 1019.1,802.3 1020.0,802.6 1020.9,801.8 1021.8,802.1 1022.7,801.9 1023.6,802.6 1024.5,801.9 1025.4,802.6 1026.3,801.9 1027.2,802.2 1028.1,802.3 1029.0,802.2 1029.9,801.8 1030.8,802.4 1031.7,802.5 1032.6,802.2 1033.5,802.4 1034.4,802.6 1035.3,802.5 1036.2,802.6 1037.1,802.5 1038.0,802.4 1038.9,802.4 1039.8,802.0 1040.7,802.4 1041.6,802.2 1042.5,802.5 1043.4,802.3 1044.3,802.6 1045.2,802.4 1046.1,802.6 1047.0,802.0 1047.9,802.2 1048.8,802.5 1049.7,802.2 1050.6,801.8 1051.5,802.6 1052.4,801.9 1053.3,802.3 1054.2,802.2 1055.1,801.9 1056.0,802.3 1056.9,802.2 1057.8,802.0 1058.7,801.8 1059.6,802.3 1060.5,801.9 1061.4,802.0 1062.3,802.1 1063.2,802.3 1064.1,802.3 1065.0,802.6 1065.9,802.5 1066.8,802.6 1067.7,802.0 1068.1,802.2 1069.0,798.7 1069.3,797.2 1069.9,800.0 1071.2,802.2 1071.3,801.9 1072.2,801.9 1073.1,802.0 1074.0,802.4 1074.9,802.4 1075.8,802.4 1076.7,802.2 1077.6,802.5 1078.5,802.2 1079.4,802.4 1080.3,801.8 1081.2,801.8 1082.1,802.2 1083.0,802.4 1083.9,801.8 1084.8,802.4 1085.7,802.3 1086.6,802.6 1087.5,802.3 1088.4,802.2 1089.3,802.2 1090.2,802.5 1091.1,802.2 1092.0,802.6 1092.9,802.4 1093.8,802.6 1094.1,802.2 1095.0,800.9 1095.3,800.4 1095.9,801.4 1097.2,802.2 1097.4,802.4 1098.3,802.4 1099.2,802.1 1100.1,802.2 1101.0,802.0 1101.9,802.1 1102.8,802.0 1103.7,801.9 1104.6,802.3 1105.5,802.4 1106.4,801.8 1107.3,802.5 1108.2,802.0 1109.1,802.1 1110.0,802.6 1110.9,801.9 1111.8,801.8 1112.7,802.1 1113.6,802.0 1114.5,801.9 1115.4,802.5 1116.3,802.2 1116.9,802.2 1117.8,799.1 1118.1,797.7 1118.7,800.2 1120.0,802.2 1120.8,802.1 1121.7,801.8 1122.6,802.0 1123.5,802.0 1124.4,802.4 1125.3,802.6 1126.2,802.5 1127.1,802.3 1128.0,802.6 1128.9,801.9 1129.8,802.1 1130.7,802.1 1131.6,802.1 1132.5,802.0 1133.4,802.2 1134.3,802.6 1135.1,802.2 1136.0,797.7 1136.3,795.7 1136.9,799.3 1138.2,802.2 1138.8,802.1 1139.7,802.6 1140.6,802.0 1141.5,802.4 1142.4,802.6 1143.3,802.4 1144.2,802.0 1145.1,802.5 1146.0,802.0 1146.9,801.8 1147.8,802.2 1148.7,802.3 1149.6,802.2 1150.5,802.0 1151.4,802.0 1152.3,802.1 1153.2,802.1 1154.1,802.6 1155.0,802.5 1155.9,802.4 1156.8,802.0 1157.7,802.4 1157.9,802.2 1158.8,801.2 1159.1,800.7 1159.7,801.5 1161.0,802.2 1161.3,802.4 1162.2,802.0 1163.1,802.0 1164.0,802.0 1164.9,802.4 1165.8,802.2 1166.7,802.2 1167.6,802.2 1168.5,802.5 1169.4,801.8 1170.3,802.5 1171.2,801.8 1172.1,801.8 1173.0,802.6 1173.9,802.2 1174.8,801.9 1175.7,801.8 1176.6,802.2 1177.5,802.4 1178.4,802.5 1179.3,801.8 1180.2,802.5 1181.1,802.1 1182.0,802.5 1182.9,802.2 1183.8,801.8 1184.7,802.2 1185.6,799.8 1185.9,798.7 1186.5,800.6 1187.8,802.2 1188.3,802.0 1189.2,802.4 1190.1,801.8 1191.0,802.2 1191.9,802.6 1192.8,802.6 1193.4,802.2 1194.3,800.7 1194.6,800.0 1195.2,801.2 1196.5,802.2 1197.3,802.3 1198.2,802.4 1199.1,801.9 1200.0,802.6 1200.9,802.0 1201.8,801.9 1202.7,802.5 1203.6,801.8 1204.5,802.0 1205.4,801.8 1206.3,802.4 1207.2,802.3 1208.1,802.3 1209.0,801.8 1209.9,802.1 1210.8,802.3 1211.7,802.3 1212.6,802.4 1213.5,802.6 1214.4,802.6 1215.3,801.9 1216.2,802.4 1217.1,801.8 1218.0,802.4 1218.9,802.4 1219.8,802.2 1220.2,802.2 1221.1,801.4 1221.4,801.0 1222.0,801.7 1223.3,802.2 1223.4,801.9 1224.3,801.9 1225.2,802.1 1226.1,801.8 1227.0,801.8 1227.9,802.2 1228.8,802.0 1229.7,802.6 1230.6,802.0 1231.5,802.2 1232.4,802.0 1233.3,802.1 1234.2,802.4 1235.1,802.6 1236.0,801.8 1236.9,802.5 1237.8,802.2 1238.7,802.3 1239.6,802.4 1240.5,802.0 1241.4,801.8 1242.3,802.4 1243.2,802.1 1244.1,802.4 1245.0,802.1 1245.9,802.3 1246.8,802.5 1247.7,802.5 1248.6,802.5 1249.5,801.8 1250.4,802.2 1251.3,802.5 1252.2,801.8 1253.1,801.8 1254.0,802.2 1254.9,802.5 1255.8,802.5 1256.7,802.6 1257.6,802.3" fill="none" stroke="#c9569a" stroke-width="1.05" stroke-linejoin="round"/>
<path d="M805.3 857.6V855.6M815.5 857.6V856.6M842.3 857.6V826.6M927.4 857.6V847.4M940 857.6V847.4M979.4 857.6V856.1M990.5 857.6V856.1M1011.8 857.6V852.3M1069.3 857.6V855.1M1095.3 857.6V856.6M1109.5 857.6V856.6M1118.1 857.6V854.6M1136.3 857.6V853.1M1159.1 857.6V856.6M1185.9 857.6V855.6M1194.6 857.6V856.1M1208.8 857.6V856.6M1221.4 857.6V856.6M1230 857.6V856.6" stroke="#9a9ab0" stroke-width="1.2" fill="none"/>
<path d="M721.8 909.6V887.6M746.2 909.6V908.6M817.9 909.6V904.1M825 909.6V908.6M832.1 909.6V878.1M884.1 909.6V890.1M892 909.6V879.6M902.2 909.6V907.8M904.6 909.6V908.4M915.6 909.6V906.6M950.3 909.6V902.1M971.6 909.6V908.6M995.2 909.6V901.1M1008.6 909.6V908.6M1019.6 909.6V902.6M1047.2 909.6V908.1M1054.3 909.6V902.6M1062.2 909.6V903.6M1090.6 909.6V900.6M1105.5 909.6V908.1M1140.2 909.6V908.6M1164.6 909.6V907.6M1201.7 909.6V908.6M1219.8 909.6V905.6M1238.7 909.6V907.6M1242.6 909.6V907.6" stroke="#c07aa8" stroke-width="1.4" fill="none"/>
<text x="1160.5" y="704.3" font-family="'Liberation Sans', Arial, sans-serif" font-size="20" font-weight="bold" fill="#5fb0e4" text-anchor="middle" >Bi@NC</text>
<text x="1164.5" y="773.5" font-family="'Liberation Sans', Arial, sans-serif" font-size="20" font-weight="bold" fill="#e0509c" text-anchor="middle" >Bi/BiOCl@NC</text>
<text x="1167.7" y="837.5" font-family="'Liberation Sans', Arial, sans-serif" font-size="20" font-weight="normal" fill="#38a8c8" text-anchor="middle" >Bi PDF# 851329</text>
<text x="1146.2" y="884.4" font-family="'Liberation Sans', Arial, sans-serif" font-size="20" font-weight="normal" fill="#e070ac" text-anchor="middle" >BiOCl PDF#06-0249</text>
</g>
<g id="panel_h">
<svg x="30" y="977" width="201" height="201" viewBox="0 0 201 201">
<defs>
<filter id="hb1" x="-50%" y="-50%" width="200%" height="200%"><feGaussianBlur stdDeviation="1.2"/></filter>
<filter id="hb3" x="-50%" y="-50%" width="200%" height="200%"><feGaussianBlur stdDeviation="3.5"/></filter>
<filter id="hb6" x="-50%" y="-50%" width="200%" height="200%"><feGaussianBlur stdDeviation="7"/></filter>
<radialGradient id="hblob" cx=".55" cy=".48" r=".55"><stop offset="0" stop-color="#dcdcdc"/><stop offset=".35" stop-color="#f4f4f4"/><stop offset=".6" stop-color="#ffffff"/><stop offset="1" stop-color="#ffffff"/></radialGradient>
</defs>
<rect width="201" height="201" fill="#272727"/>
<g filter="url(#hb1)" fill="#040404">
<path d="M0.4 1.2C9.8 -0.5 50.7 -1.1 59.1 1.2C67.5 3.6 54.7 11.7 51 15.4C47.3 19.1 42.6 22.5 36.8 23.5C31.1 24.5 22.3 23.5 16.6 21.5C10.8 19.5 5.1 14.7 2.4 11.4C-0.3 8 -9.1 2.9 0.4 1.2Z"/>
<path d="M51 17.4C52.4 13 55.7 8 61.1 5.3C66.5 2.6 75.3 1.2 83.4 1.2C91.5 1.2 103.7 2.2 109.7 5.3C115.8 8.3 118.8 13.7 119.9 19.5C120.9 25.2 119.2 34.6 115.8 39.7C112.4 44.8 105 49.2 99.6 49.8C94.2 50.5 89.5 45.1 83.4 43.8C77.3 42.4 68.2 43.8 63.2 41.7C58.1 39.7 55.1 35.7 53 31.6C51 27.6 49.7 21.8 51 17.4Z"/>
<path d="M146.2 1.2C155.6 -1.1 191.7 -5.9 200.9 1.2C210 8.3 203.6 35.3 200.9 43.8C198.2 52.2 190.7 51.2 184.7 51.9C178.6 52.5 170.1 50.8 164.4 47.8C158.7 44.8 153.6 39 150.2 33.6C146.9 28.2 144.8 20.8 144.2 15.4C143.5 10 136.7 3.6 146.2 1.2Z"/>
<path d="M0.4 31.6C4.1 19.8 15.9 27.9 22.7 29.6C29.4 31.3 36.5 36 40.9 41.7C45.3 47.5 48 56.2 49 64C50 71.8 49 81.6 47 88.3C44.9 95.1 41.6 101.1 36.8 104.5C32.1 107.9 24.7 109.2 18.6 108.6C12.5 107.9 3.4 113.3 0.4 100.5C-2.7 87.6 -3.3 43.4 0.4 31.6Z"/>
<path d="M148.2 72.1C149.9 69.1 157.3 68.7 162.4 70.1C167.4 71.4 175.2 75.8 178.6 80.2C182 84.6 183.3 91.3 182.6 96.4C182 101.5 178.6 107.5 174.5 110.6C170.5 113.6 162.4 115.6 158.3 114.6C154.3 113.6 151.2 108.9 150.2 104.5C149.2 100.1 152.6 93.7 152.3 88.3C151.9 82.9 146.5 75.1 148.2 72.1Z"/>
<path d="M0.4 130.8C3.1 120.2 11.9 132.5 16.6 136.9C21.3 141.3 26.4 149.7 28.7 157.2C31.1 164.6 32.1 174.2 30.8 181.5C29.4 188.7 25.7 197.5 20.6 200.7C15.6 203.9 3.8 212.3 0.4 200.7C-3 189.1 -2.3 141.5 0.4 130.8Z"/>
<path d="M111.8 165.3C113.8 158.5 118.5 150.7 123.9 145C129.3 139.3 136.1 133.9 144.2 130.8C152.3 127.8 163.1 126.1 172.5 126.8C182 127.5 196.1 122.6 200.9 134.9C205.6 147.2 214.4 189.7 200.9 200.7C187.4 211.7 134.7 203.2 119.9 200.7C105 198.2 113.1 191.4 111.8 185.5C110.4 179.6 109.7 172 111.8 165.3Z"/>
</g>
<path d="M47 43.8C53.7 41.4 71.9 45.8 75.3 49.8C78.7 53.9 71.3 61.6 67.2 68.1C63.2 74.5 55.1 80.9 51 88.3C47 95.7 46.3 111.3 42.9 112.6C39.5 114 32.1 104.5 30.8 96.4C29.4 88.3 32.1 72.8 34.8 64C37.5 55.2 40.2 46.1 47 43.8Z" fill="#fff" opacity=".09" filter="url(#hb3)"/>
<path d="M47 136.9C53.7 136.9 64.5 153.1 75.3 157.2C86.1 161.2 106.4 156.5 111.8 161.2C117.2 165.9 114.5 179.4 107.7 185.5C101 191.6 83.1 197.7 71.3 197.7C59.4 197.7 42.9 192.3 36.8 185.5C30.8 178.8 33.1 165.3 34.8 157.2C36.5 149.1 40.2 136.9 47 136.9Z" fill="#fff" opacity=".07" filter="url(#hb3)"/>
<ellipse cx="97.6" cy="102.5" rx="60" ry="54" fill="#fff" opacity=".16" filter="url(#hb6)"/>
<path d="M83.4 155.1C84.8 152.8 94.2 152.8 99.6 151.1C105 149.4 111.8 145.3 115.8 145C119.9 144.7 125.3 146.7 123.9 149.1C122.6 151.4 113.1 156.5 107.7 159.2C102.3 161.9 95.6 165.9 91.5 165.3C87.5 164.6 82.1 157.5 83.4 155.1Z" fill="#fff" opacity=".5" filter="url(#hb3)"/>
<path d="M67.2 58.3C71.3 57 78 55.2 83.4 54.9C88.8 54.6 94.9 55.6 99.6 56.3C104.3 57 107.4 57.3 111.8 58.9C116.1 60.6 121.2 62.8 125.9 66C130.7 69.2 136.2 73.8 140.1 78.2C144 82.6 147.4 87.6 149.2 92.4C151.1 97.1 151.4 101.5 151.2 106.5C151.1 111.6 150.1 117.7 148.2 122.7C146.4 127.8 144.2 133.2 140.1 136.9C136.1 140.6 130 143.2 123.9 145C117.8 146.9 110.4 147.2 103.7 148C96.9 148.9 89.5 150.6 83.4 150.1C77.3 149.6 71.9 147.5 67.2 145C62.5 142.5 58.3 138.9 55.1 134.9C51.8 130.8 49.7 125.8 48 120.7C46.2 115.6 45 109.9 44.5 104.5C44 99.1 43.8 93.7 44.9 88.3C46 82.9 48.6 76.3 51 72.1C53.4 67.9 56.4 65.3 59.1 63C61.8 60.7 63.2 59.7 67.2 58.3Z" fill="url(#hblob)" filter="url(#hb1)"/>
<circle cx="49.9" cy="157.3" r="0.5" fill="#ddd" opacity="0.6"/>
<circle cx="43.3" cy="155.8" r="0.5" fill="#ddd" opacity="0.9"/>
<circle cx="105.1" cy="185.5" r="0.4" fill="#ddd" opacity="0.4"/>
<circle cx="72.9" cy="167.7" r="0.4" fill="#ddd" opacity="0.4"/>
<circle cx="52" cy="191.3" r="0.4" fill="#ddd" opacity="0.9"/>
<circle cx="96.1" cy="185.5" r="0.4" fill="#ddd" opacity="0.4"/>
<circle cx="55.9" cy="178.5" r="0.7" fill="#ddd" opacity="0.6"/>
<circle cx="37.8" cy="177.6" r="0.7" fill="#ddd" opacity="0.6"/>
<circle cx="71.7" cy="160.3" r="0.5" fill="#ddd" opacity="0.6"/>
<circle cx="38" cy="191" r="0.7" fill="#ddd" opacity="0.6"/>
<circle cx="31.3" cy="164.9" r="0.7" fill="#ddd" opacity="0.6"/>
<circle cx="99.4" cy="173.7" r="0.5" fill="#ddd" opacity="0.6"/>
<circle cx="79.3" cy="170.6" r="0.4" fill="#ddd" opacity="0.4"/>
<circle cx="55.5" cy="186" r="0.4" fill="#ddd" opacity="0.4"/>
<circle cx="34.5" cy="178.5" r="0.5" fill="#ddd" opacity="0.9"/>
<circle cx="74.1" cy="172.2" r="0.5" fill="#ddd" opacity="0.4"/>
<circle cx="111.5" cy="161" r="0.5" fill="#ddd" opacity="0.4"/>
<circle cx="82.2" cy="171" r="0.4" fill="#ddd" opacity="0.6"/>
<circle cx="66.1" cy="177" r="0.7" fill="#ddd" opacity="0.9"/>
<circle cx="46.8" cy="166.2" r="0.4" fill="#ddd" opacity="0.9"/>
<circle cx="49.3" cy="184.1" r="0.7" fill="#ddd" opacity="0.4"/>
<circle cx="40.6" cy="191" r="0.5" fill="#ddd" opacity="0.6"/>
<circle cx="32.8" cy="167.6" r="0.4" fill="#ddd" opacity="0.6"/>
<circle cx="90.3" cy="192" r="0.4" fill="#ddd" opacity="0.6"/>
<circle cx="54.2" cy="192.2" r="0.7" fill="#ddd" opacity="0.6"/>
<circle cx="100.5" cy="188.3" r="0.7" fill="#ddd" opacity="0.4"/>
<circle cx="54.5" cy="160.9" r="0.5" fill="#ddd" opacity="0.6"/>
<circle cx="41.8" cy="168.6" r="0.4" fill="#ddd" opacity="0.6"/>
<circle cx="77.2" cy="167.8" r="0.5" fill="#ddd" opacity="0.4"/>
<circle cx="60.3" cy="185.7" r="0.5" fill="#ddd" opacity="0.9"/>
<circle cx="38.6" cy="192.9" r="0.5" fill="#ddd" opacity="0.4"/>
<circle cx="40" cy="155.6" r="0.7" fill="#ddd" opacity="0.4"/>
<circle cx="79" cy="192.4" r="0.7" fill="#ddd" opacity="0.4"/>
<circle cx="75" cy="176.7" r="0.5" fill="#ddd" opacity="0.4"/>
<circle cx="40.7" cy="174.5" r="0.5" fill="#ddd" opacity="0.9"/>
<circle cx="110.8" cy="172.5" r="0.4" fill="#ddd" opacity="0.6"/>
<circle cx="64" cy="154.6" r="0.5" fill="#ddd" opacity="0.6"/>
<circle cx="50.9" cy="189.1" r="0.4" fill="#ddd" opacity="0.6"/>
<circle cx="46" cy="154.6" r="0.5" fill="#ddd" opacity="0.4"/>
<circle cx="73.3" cy="184.4" r="0.5" fill="#ddd" opacity="0.6"/>
<circle cx="85.4" cy="43.3" r="1.3" fill="#fff" filter="url(#hb1)"/>
<rect x="132.6" y="188" width="57.2" height="3.2" fill="#fff"/>
<text x="159.3" y="173" font-family="'Liberation Sans', Arial, sans-serif" font-size="20" font-weight="normal" fill="#fff" text-anchor="middle" >1 µm</text>
</svg>
<svg x="238" y="978" width="196" height="200" viewBox="0 0 196 200">
<defs><filter id="fbi" x="0" y="0" width="100%" height="100%" color-interpolation-filters="sRGB">
<feTurbulence type="fractalNoise" baseFrequency="0.55" numOctaves="2" seed="3" result="t"/>
<feColorMatrix in="t" values="0 0 0 0 1  0 0 0 0 1  0 0 0 0 1  1 0 0 0 0" result="n"/>
<feComposite in="n" in2="SourceGraphic" operator="arithmetic" k1="0" k2="1.0" k3="0.33" k4="-0.8" result="m"/>
<feColorMatrix in="m" values="0 0 0 0 0.439  0 0 0 0 0.220  0 0 0 0 0.973  0 0 0 7 0"/><feGaussianBlur stdDeviation="0.55"/><feComponentTransfer><feFuncA type="linear" slope="1.5" intercept="0"/></feComponentTransfer>
</filter><filter id="bib" x="-50%" y="-50%" width="200%" height="200%"><feGaussianBlur stdDeviation="3.2"/></filter></defs>
<rect width="196" height="200" fill="#0e0e0e"/>
<path d="M62 57C68.2 54.8 78.7 54.8 87 56C95.3 57.2 104.5 60.6 112 64.5C119.5 68.4 127.2 73.2 132 79.5C136.8 85.8 140 94.1 141 102C142 109.9 141.2 120.8 138 127C134.8 133.2 129.7 136.2 122 139.5C114.3 142.8 101.2 145.9 92 147C82.8 148.1 73.7 148.5 67 146C60.3 143.5 56 138.5 52 132C48 125.5 44.7 114.5 43 107C41.3 99.5 40.9 93.2 42 87C43.1 80.8 46.2 74.5 49.5 69.5C52.8 64.5 55.8 59.2 62 57Z" fill="#4614c0" filter="url(#bib)"/><g filter="url(#fbi)"><rect width="196" height="200" fill="#fff" opacity="0.0"/><path d="M62 57C68.2 54.8 78.7 54.8 87 56C95.3 57.2 104.5 60.6 112 64.5C119.5 68.4 127.2 73.2 132 79.5C136.8 85.8 140 94.1 141 102C142 109.9 141.2 120.8 138 127C134.8 133.2 129.7 136.2 122 139.5C114.3 142.8 101.2 145.9 92 147C82.8 148.1 73.7 148.5 67 146C60.3 143.5 56 138.5 52 132C48 125.5 44.7 114.5 43 107C41.3 99.5 40.9 93.2 42 87C43.1 80.8 46.2 74.5 49.5 69.5C52.8 64.5 55.8 59.2 62 57Z" fill="#fff" filter="url(#bib)"/></g>
<text x="155.5" y="182" font-family="'Liberation Sans', Arial, sans-serif" font-size="20" font-weight="normal" fill="#fff" text-anchor="start" >Bi</text>
</svg>
<svg x="441" y="978" width="200" height="200" viewBox="0 0 200 200">
<defs><filter id="fo" x="0" y="0" width="100%" height="100%" color-interpolation-filters="sRGB">
<feTurbulence type="fractalNoise" baseFrequency="0.63" numOctaves="1" seed="5" result="t"/>
<feColorMatrix in="t" values="0 0 0 0 1  0 0 0 0 1  0 0 0 0 1  1 0 0 0 0" result="n"/>
<feComposite in="n" in2="SourceGraphic" operator="arithmetic" k1="0" k2="1.0" k3="0.33" k4="-0.8" result="m"/>
<feColorMatrix in="m" values="0 0 0 0 0.486  0 0 0 0 0.941  0 0 0 0 0.612  0 0 0 14 0"/><feGaussianBlur stdDeviation="0.4"/><feComponentTransfer><feFuncA type="linear" slope="1.5" intercept="0"/></feComponentTransfer>
</filter><filter id="fo2" x="0" y="0" width="100%" height="100%" color-interpolation-filters="sRGB">
<feTurbulence type="fractalNoise" baseFrequency="0.4" numOctaves="1" seed="8" result="t"/>
<feColorMatrix in="t" values="0 0 0 0 1  0 0 0 0 1  0 0 0 0 1  1 0 0 0 0" result="n"/>
<feComposite in="n" in2="SourceGraphic" operator="arithmetic" k1="0" k2="1.0" k3="0.33" k4="-0.8" result="m"/>
<feColorMatrix in="m" values="0 0 0 0 0.525  0 0 0 0 0.941  0 0 0 0 0.643  0 0 0 22 0"/><feGaussianBlur stdDeviation="0.3"/><feComponentTransfer><feFuncA type="linear" slope="1.5" intercept="0"/></feComponentTransfer>
</filter><filter id="ob" x="-50%" y="-50%" width="200%" height="200%"><feGaussianBlur stdDeviation="4"/></filter><filter id="ob2" x="-50%" y="-50%" width="200%" height="200%"><feGaussianBlur stdDeviation="8"/></filter></defs>
<rect width="200" height="200" fill="#232323"/>
<path d="M74.2 54.9C80.6 51.9 86.7 50.2 92.4 50.9C98.1 51.5 103.2 56.3 108.6 59C114 61.7 119.7 63.7 124.8 67.1C129.9 70.4 135.6 74.5 139 79.2C142.4 83.9 144.4 89.7 145.1 95.4C145.7 101.1 144.7 108.2 143 113.6C141.3 119 138 123.1 134.9 127.8C131.9 132.5 129.2 138.3 124.8 142C120.4 145.7 114.7 149.1 108.6 150.1C102.5 151.1 95.1 149.7 88.4 148.1C81.6 146.4 73.8 144 68.1 140C62.4 135.9 57.6 129.2 53.9 123.8C50.2 118.4 47.2 113.6 45.8 107.6C44.5 101.5 44.5 93.7 45.8 87.3C47.2 80.9 49.2 74.5 53.9 69.1C58.7 63.7 67.8 57.9 74.2 54.9Z" fill="#1c9a44" opacity=".42" filter="url(#ob)"/><g filter="url(#fo2)"><rect width="200" height="200" fill="#fff" opacity=".14"/><path d="M-0.7 18.5C3.3 17.1 29 30.6 39.8 34.7C50.6 38.7 55.3 42.1 64.1 42.8C72.8 43.4 83 38.7 92.4 38.7C101.9 38.7 112 43.4 120.8 42.8C129.5 42.1 138.3 32.6 145.1 34.7C151.8 36.7 152.1 52.5 161.3 54.9C170.4 57.3 193.3 44.8 199.7 48.8C206.1 52.9 203.4 72.8 199.7 79.2C196 85.6 181.8 80.6 177.5 87.3C173.1 94.1 177.5 111.6 173.4 119.7C169.4 127.8 159.2 128.5 153.2 135.9C147.1 143.3 142.4 153.6 137 164.3C131.6 174.9 140.3 193.8 120.8 199.7C101.2 205.6 34.4 205.6 19.5 199.7C4.7 193.8 29 173.5 31.7 164.3C34.4 155 40.4 150.8 35.7 144C31 137.3 9.4 130.5 3.3 123.8C-2.8 117 -5.1 108.2 -0.7 103.5C3.6 98.8 22.9 101.5 29.6 95.4C36.4 89.3 42.1 75.8 39.8 67.1C37.4 58.3 22.2 50.9 15.5 42.8C8.7 34.7 -4.8 19.8 -0.7 18.5Z" fill="#fff" opacity=".36" filter="url(#ob2)"/></g><g filter="url(#fo)"><rect width="200" height="200" fill="#fff" opacity=".04"/><path d="M-0.7 18.5C3.3 17.1 29 30.6 39.8 34.7C50.6 38.7 55.3 42.1 64.1 42.8C72.8 43.4 83 38.7 92.4 38.7C101.9 38.7 112 43.4 120.8 42.8C129.5 42.1 138.3 32.6 145.1 34.7C151.8 36.7 152.1 52.5 161.3 54.9C170.4 57.3 193.3 44.8 199.7 48.8C206.1 52.9 203.4 72.8 199.7 79.2C196 85.6 181.8 80.6 177.5 87.3C173.1 94.1 177.5 111.6 173.4 119.7C169.4 127.8 159.2 128.5 153.2 135.9C147.1 143.3 142.4 153.6 137 164.3C131.6 174.9 140.3 193.8 120.8 199.7C101.2 205.6 34.4 205.6 19.5 199.7C4.7 193.8 29 173.5 31.7 164.3C34.4 155 40.4 150.8 35.7 144C31 137.3 9.4 130.5 3.3 123.8C-2.8 117 -5.1 108.2 -0.7 103.5C3.6 98.8 22.9 101.5 29.6 95.4C36.4 89.3 42.1 75.8 39.8 67.1C37.4 58.3 22.2 50.9 15.5 42.8C8.7 34.7 -4.8 19.8 -0.7 18.5Z" fill="#fff" opacity=".18" filter="url(#ob2)"/><path d="M74.2 54.9C80.6 51.9 86.7 50.2 92.4 50.9C98.1 51.5 103.2 56.3 108.6 59C114 61.7 119.7 63.7 124.8 67.1C129.9 70.4 135.6 74.5 139 79.2C142.4 83.9 144.4 89.7 145.1 95.4C145.7 101.1 144.7 108.2 143 113.6C141.3 119 138 123.1 134.9 127.8C131.9 132.5 129.2 138.3 124.8 142C120.4 145.7 114.7 149.1 108.6 150.1C102.5 151.1 95.1 149.7 88.4 148.1C81.6 146.4 73.8 144 68.1 140C62.4 135.9 57.6 129.2 53.9 123.8C50.2 118.4 47.2 113.6 45.8 107.6C44.5 101.5 44.5 93.7 45.8 87.3C47.2 80.9 49.2 74.5 53.9 69.1C58.7 63.7 67.8 57.9 74.2 54.9Z" fill="#fff" opacity=".56" filter="url(#ob)"/></g>
<text x="164.5" y="183" font-family="'Liberation Sans', Arial, sans-serif" font-size="20" font-weight="normal" fill="#fff" text-anchor="start" >O</text>
</svg>
<svg x="647" y="978" width="201" height="200" viewBox="0 0 201 200">
<defs><filter id="fcl" x="0" y="0" width="100%" height="100%" color-interpolation-filters="sRGB">
<feTurbulence type="fractalNoise" baseFrequency="0.63" numOctaves="1" seed="9" result="t"/>
<feColorMatrix in="t" values="0 0 0 0 1  0 0 0 0 1  0 0 0 0 1  1 0 0 0 0" result="n"/>
<feComposite in="n" in2="SourceGraphic" operator="arithmetic" k1="0" k2="1.0" k3="0.33" k4="-0.8" result="m"/>
<feColorMatrix in="m" values="0 0 0 0 0.455  0 0 0 0 0.902  0 0 0 0 0.902  0 0 0 14 0"/><feGaussianBlur stdDeviation="0.4"/><feComponentTransfer><feFuncA type="linear" slope="1.5" intercept="0"/></feComponentTransfer>
</filter><filter id="fcl2" x="0" y="0" width="100%" height="100%" color-interpolation-filters="sRGB">
<feTurbulence type="fractalNoise" baseFrequency="0.4" numOctaves="1" seed="21" result="t"/>
<feColorMatrix in="t" values="0 0 0 0 1  0 0 0 0 1  0 0 0 0 1  1 0 0 0 0" result="n"/>
<feComposite in="n" in2="SourceGraphic" operator="arithmetic" k1="0" k2="1.0" k3="0.33" k4="-0.8" result="m"/>
<feColorMatrix in="m" values="0 0 0 0 0.486  0 0 0 0 0.918  0 0 0 0 0.918  0 0 0 22 0"/><feGaussianBlur stdDeviation="0.3"/><feComponentTransfer><feFuncA type="linear" slope="1.5" intercept="0"/></feComponentTransfer>
</filter></defs>
<rect width="201" height="200" fill="#101010"/>
<path d="M70 62C77.5 57 86.7 52.8 95 52C103.3 51.2 112.5 53.7 120 57C127.5 60.3 134.6 65.3 140 72C145.4 78.7 150.8 88.7 152.5 97C154.2 105.3 152.9 114.5 150 122C147.1 129.5 141.7 137.4 135 142C128.3 146.6 119.2 149.1 110 149.5C100.8 149.9 88.8 147.8 80 144.5C71.2 141.2 62.9 135.8 57.5 129.5C52.1 123.2 48.8 114.9 47.5 107C46.2 99.1 46.2 89.5 50 82C53.8 74.5 62.5 67 70 62Z" fill="#0c7078" opacity=".5" filter="url(#ob)"/><g filter="url(#fcl2)"><rect width="201" height="200" fill="#fff" opacity=".1"/><path d="M0 12C7.5 11.2 34.2 19.5 45 27C55.8 34.5 48.3 51.2 65 57C81.7 62.8 122.5 63.7 145 62C167.5 60.3 190.8 35.3 200 47C209.2 58.7 206.7 119.5 200 132C193.3 144.5 173.3 118.7 160 122C146.7 125.3 128.3 138.7 120 152C111.7 165.3 122.5 193.7 110 202C97.5 210.3 55 210.3 45 202C35 193.7 57.5 165.3 50 152C42.5 138.7 8.3 131.2 0 122C-8.3 112.8 -6.7 102 0 97C6.7 92 32.5 97.8 40 92C47.5 86.2 51.7 72 45 62C38.3 52 7.5 40.3 0 32C-7.5 23.7 -7.5 12.8 0 12Z" fill="#fff" opacity=".36" filter="url(#ob2)"/></g><g filter="url(#fcl)"><rect width="201" height="200" fill="#fff" opacity=".03"/><path d="M0 12C7.5 11.2 34.2 19.5 45 27C55.8 34.5 48.3 51.2 65 57C81.7 62.8 122.5 63.7 145 62C167.5 60.3 190.8 35.3 200 47C209.2 58.7 206.7 119.5 200 132C193.3 144.5 173.3 118.7 160 122C146.7 125.3 128.3 138.7 120 152C111.7 165.3 122.5 193.7 110 202C97.5 210.3 55 210.3 45 202C35 193.7 57.5 165.3 50 152C42.5 138.7 8.3 131.2 0 122C-8.3 112.8 -6.7 102 0 97C6.7 92 32.5 97.8 40 92C47.5 86.2 51.7 72 45 62C38.3 52 7.5 40.3 0 32C-7.5 23.7 -7.5 12.8 0 12Z" fill="#fff" opacity=".15" filter="url(#ob2)"/><path d="M70 62C77.5 57 86.7 52.8 95 52C103.3 51.2 112.5 53.7 120 57C127.5 60.3 134.6 65.3 140 72C145.4 78.7 150.8 88.7 152.5 97C154.2 105.3 152.9 114.5 150 122C147.1 129.5 141.7 137.4 135 142C128.3 146.6 119.2 149.1 110 149.5C100.8 149.9 88.8 147.8 80 144.5C71.2 141.2 62.9 135.8 57.5 129.5C52.1 123.2 48.8 114.9 47.5 107C46.2 99.1 46.2 89.5 50 82C53.8 74.5 62.5 67 70 62Z" fill="#fff" opacity=".58" filter="url(#ob)"/></g>
<text x="164.8" y="185" font-family="'Liberation Sans', Arial, sans-serif" font-size="20" font-weight="normal" fill="#fff" text-anchor="start" >Cl</text>
</svg>
<svg x="855" y="979" width="200" height="200" viewBox="0 0 200 200">
<defs><filter id="fc" x="0" y="0" width="100%" height="100%" color-interpolation-filters="sRGB">
<feTurbulence type="fractalNoise" baseFrequency="0.62" numOctaves="1" seed="13" result="t"/>
<feColorMatrix in="t" values="0 0 0 0 1  0 0 0 0 1  0 0 0 0 1  1 0 0 0 0" result="n"/>
<feComposite in="n" in2="SourceGraphic" operator="arithmetic" k1="0" k2="1.0" k3="0.33" k4="-0.8" result="m"/>
<feColorMatrix in="m" values="0 0 0 0 0.933  0 0 0 0 0.157  0 0 0 0 0.157  0 0 0 10 0"/>
</filter><filter id="cbl" x="-50%" y="-50%" width="200%" height="200%"><feGaussianBlur stdDeviation="5"/></filter></defs>
<rect width="200" height="200" fill="#050505"/>
<path d="M-0.1 0.2C9.3 -4 47.3 -3.3 56 0.2C64.7 3.8 50.6 14.9 52 21.5C53.3 28.1 58 35.3 64.1 39.7C70.2 44.1 80.3 47.5 88.4 47.8C96.5 48.2 107.3 46.8 112.7 41.8C118.1 36.7 120.1 24.4 120.8 17.5C121.5 10.5 112.4 3.1 116.8 0.2C121.1 -2.6 141.7 -5 147.1 0.2C152.5 5.5 145.4 23.4 149.2 31.6C152.9 39.9 161 47.5 169.4 49.9C177.8 52.2 194.7 31.6 199.8 45.8C204.9 60 203.5 122.1 199.8 134.9C196.1 147.7 185.9 124.1 177.5 122.8C169.1 121.4 157.9 123.4 149.2 126.8C140.4 130.2 130.6 136.9 124.9 143C119.1 149.1 116.1 153.6 114.7 163.3C113.4 172.9 131.3 194.5 116.8 200.7C102.2 207 41.5 207 27.7 200.7C13.8 194.5 33.1 174.2 33.7 163.3C34.4 152.3 34.7 143.7 31.7 134.9C28.7 126.1 20.8 116 15.5 110.6C10.2 105.2 2.5 105.2 -0.1 102.5C-2.7 99.8 -4.7 95.8 -0.1 94.4C4.5 93.1 20.3 97.1 27.7 94.4C35 91.7 41.5 85 43.9 78.2C46.2 71.5 44.9 61.3 41.8 53.9C38.8 46.5 32.6 38.4 25.6 33.7C18.6 28.9 4.2 31.1 -0.1 25.6C-4.4 20 -9.4 4.5 -0.1 0.2Z" fill="#5a0808" opacity=".3" filter="url(#cbl)"/><path d="M60.1 58C66.1 54.9 79 53.9 88.4 53.9C97.9 53.9 108.7 55.3 116.8 58C124.9 60.7 131.9 64.7 137 70.1C142.1 75.5 145.8 82.9 147.1 90.4C148.5 97.8 147.5 107.2 145.1 114.7C142.7 122.1 138.4 129.2 133 134.9C127.6 140.6 120.1 146.4 112.7 149.1C105.3 151.8 96.5 152.8 88.4 151.1C80.3 149.4 70.2 144.4 64.1 139C58 133.6 54.7 126.1 52 118.7C49.3 111.3 47.9 102.2 47.9 94.4C47.9 86.6 49.9 78.2 52 72.1C54 66.1 54 61 60.1 58Z" fill="#b01010" opacity=".4" filter="url(#ob2)"/><g filter="url(#fc)"><path d="M-0.1 0.2C9.3 -4 47.3 -3.3 56 0.2C64.7 3.8 50.6 14.9 52 21.5C53.3 28.1 58 35.3 64.1 39.7C70.2 44.1 80.3 47.5 88.4 47.8C96.5 48.2 107.3 46.8 112.7 41.8C118.1 36.7 120.1 24.4 120.8 17.5C121.5 10.5 112.4 3.1 116.8 0.2C121.1 -2.6 141.7 -5 147.1 0.2C152.5 5.5 145.4 23.4 149.2 31.6C152.9 39.9 161 47.5 169.4 49.9C177.8 52.2 194.7 31.6 199.8 45.8C204.9 60 203.5 122.1 199.8 134.9C196.1 147.7 185.9 124.1 177.5 122.8C169.1 121.4 157.9 123.4 149.2 126.8C140.4 130.2 130.6 136.9 124.9 143C119.1 149.1 116.1 153.6 114.7 163.3C113.4 172.9 131.3 194.5 116.8 200.7C102.2 207 41.5 207 27.7 200.7C13.8 194.5 33.1 174.2 33.7 163.3C34.4 152.3 34.7 143.7 31.7 134.9C28.7 126.1 20.8 116 15.5 110.6C10.2 105.2 2.5 105.2 -0.1 102.5C-2.7 99.8 -4.7 95.8 -0.1 94.4C4.5 93.1 20.3 97.1 27.7 94.4C35 91.7 41.5 85 43.9 78.2C46.2 71.5 44.9 61.3 41.8 53.9C38.8 46.5 32.6 38.4 25.6 33.7C18.6 28.9 4.2 31.1 -0.1 25.6C-4.4 20 -9.4 4.5 -0.1 0.2Z" fill="#fff" opacity=".6" filter="url(#cbl)"/><path d="M60.1 58C66.1 54.9 79 53.9 88.4 53.9C97.9 53.9 108.7 55.3 116.8 58C124.9 60.7 131.9 64.7 137 70.1C142.1 75.5 145.8 82.9 147.1 90.4C148.5 97.8 147.5 107.2 145.1 114.7C142.7 122.1 138.4 129.2 133 134.9C127.6 140.6 120.1 146.4 112.7 149.1C105.3 151.8 96.5 152.8 88.4 151.1C80.3 149.4 70.2 144.4 64.1 139C58 133.6 54.7 126.1 52 118.7C49.3 111.3 47.9 102.2 47.9 94.4C47.9 86.6 49.9 78.2 52 72.1C54 66.1 54 61 60.1 58Z" fill="#fff" opacity=".36" filter="url(#ob2)"/></g>
<text x="164.5" y="183.5" font-family="'Liberation Sans', Arial, sans-serif" font-size="20" font-weight="normal" fill="#fff" text-anchor="start" >C</text>
</svg>
<svg x="1061" y="980" width="201" height="200" viewBox="0 0 201 200">
<defs><filter id="fn" x="0" y="0" width="100%" height="100%" color-interpolation-filters="sRGB">
<feTurbulence type="fractalNoise" baseFrequency="0.6" numOctaves="1" seed="17" result="t"/>
<feColorMatrix in="t" values="0 0 0 0 1  0 0 0 0 1  0 0 0 0 1  1 0 0 0 0" result="n"/>
<feComposite in="n" in2="SourceGraphic" operator="arithmetic" k1="0" k2="1.0" k3="0.31" k4="-0.8" result="m"/>
<feColorMatrix in="m" values="0 0 0 0 0.941  0 0 0 0 0.925  0 0 0 0 0.220  0 0 0 9 0"/>
</filter><filter id="nb" x="-50%" y="-50%" width="200%" height="200%"><feGaussianBlur stdDeviation="1.8"/></filter></defs>
<rect width="201" height="200" fill="#0d0d0d"/>
<path d="M65.8 60.9C70.4 58.1 75.6 56.3 81.6 55.9C87.5 55.6 94.7 57.6 101.3 58.9C107.9 60.2 115.1 61.5 121 63.8C126.9 66.1 132.5 68.3 136.8 72.7C141.1 77.1 144.8 84.5 146.7 90.5C148.5 96.4 148.6 102.3 147.6 108.2C146.7 114.1 144.5 121 140.7 126C137 130.9 130.9 134.8 125 137.8C119 140.7 111.8 142.7 105.2 143.7C98.7 144.7 91.8 144.7 85.5 143.7C79.3 142.7 72.7 140.7 67.8 137.8C62.8 134.8 59 130.9 55.9 126C52.8 121 50.5 114.1 49 108.2C47.5 102.3 46.2 96.4 47 90.5C47.9 84.5 50.8 77.6 54 72.7C57.1 67.8 61.2 63.7 65.8 60.9Z" fill="#6e6a14" filter="url(#nb)"/><g filter="url(#fn)"><path d="M65.8 60.9C70.4 58.1 75.6 56.3 81.6 55.9C87.5 55.6 94.7 57.6 101.3 58.9C107.9 60.2 115.1 61.5 121 63.8C126.9 66.1 132.5 68.3 136.8 72.7C141.1 77.1 144.8 84.5 146.7 90.5C148.5 96.4 148.6 102.3 147.6 108.2C146.7 114.1 144.5 121 140.7 126C137 130.9 130.9 134.8 125 137.8C119 140.7 111.8 142.7 105.2 143.7C98.7 144.7 91.8 144.7 85.5 143.7C79.3 142.7 72.7 140.7 67.8 137.8C62.8 134.8 59 130.9 55.9 126C52.8 121 50.5 114.1 49 108.2C47.5 102.3 46.2 96.4 47 90.5C47.9 84.5 50.8 77.6 54 72.7C57.1 67.8 61.2 63.7 65.8 60.9Z" fill="#fff" filter="url(#nb)"/></g>
<text x="167.2" y="184" font-family="'Liberation Sans', Arial, sans-serif" font-size="20" font-weight="normal" fill="#fff" text-anchor="start" >N</text>
</svg>
</g>
<text x="1.3" y="35.7" font-family="'Liberation Sans', Arial, sans-serif" font-size="30" font-weight="bold" fill="#000" text-anchor="start" >a</text>
<text x="649.8" y="27.3" font-family="'Liberation Sans', Arial, sans-serif" font-size="30" font-weight="bold" fill="#000" text-anchor="start" >b</text>
<text x="964" y="26.2" font-family="'Liberation Sans', Arial, sans-serif" font-size="30" font-weight="bold" fill="#000" text-anchor="start" >c</text>
<text x="654" y="380.4" font-family="'Liberation Sans', Arial, sans-serif" font-size="30" font-weight="bold" fill="#000" text-anchor="start" >d</text>
<text x="966.5" y="379.4" font-family="'Liberation Sans', Arial, sans-serif" font-size="30" font-weight="bold" fill="#000" text-anchor="start" >e</text>
<text x="7.5" y="686" font-family="'Liberation Sans', Arial, sans-serif" font-size="30" font-weight="bold" fill="#000" text-anchor="start" >f</text>
<text x="350.5" y="680" font-family="'Liberation Sans', Arial, sans-serif" font-size="30" font-weight="bold" fill="#fff" text-anchor="start" >g</text>
<text x="3.5" y="996.5" font-family="'Liberation Sans', Arial, sans-serif" font-size="30" font-weight="bold" fill="#000" text-anchor="start" >h</text>
<text x="676.5" y="682.4" font-family="'Liberation Sans', Arial, sans-serif" font-size="30" font-weight="bold" fill="#000" text-anchor="start" >i</text>
</svg>
</body></html>
